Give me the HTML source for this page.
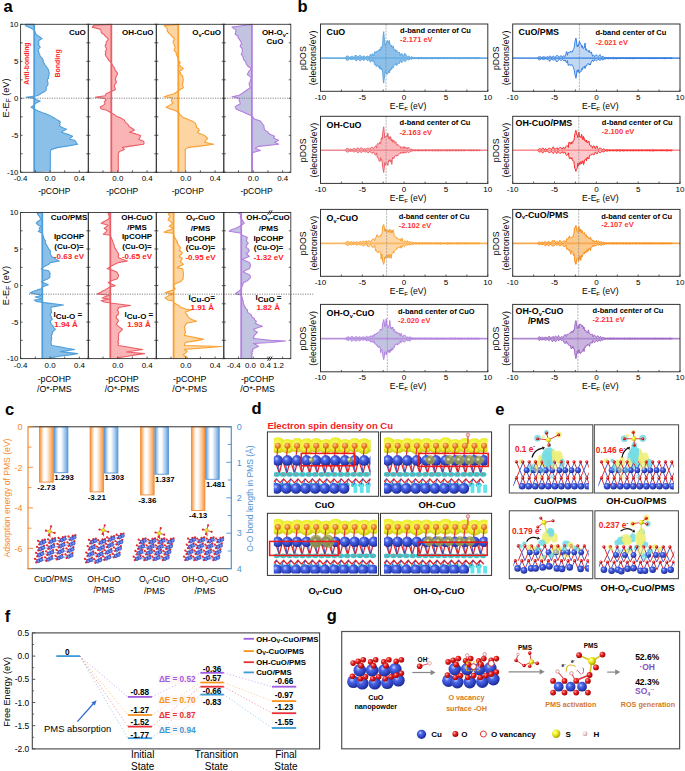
<!DOCTYPE html>
<html><head><meta charset="utf-8"><style>
html,body{margin:0;padding:0;background:#fff;}
svg{display:block;font-family:"Liberation Sans", sans-serif;}
</style></head><body>
<svg width="685" height="771" viewBox="0 0 685 771">
<defs><linearGradient id="gOr" x1="0" x2="1" y1="0" y2="0">
<stop offset="0" stop-color="#f7923a"/><stop offset="0.1" stop-color="#fab06e"/><stop offset="0.32" stop-color="#ffffff"/><stop offset="0.48" stop-color="#ffffff"/><stop offset="0.78" stop-color="#fcc592"/><stop offset="1" stop-color="#f7923a"/>
</linearGradient>
<linearGradient id="gBl" x1="0" x2="1" y1="0" y2="0">
<stop offset="0" stop-color="#5b9bd8"/><stop offset="0.1" stop-color="#8cb9e6"/><stop offset="0.32" stop-color="#ffffff"/><stop offset="0.48" stop-color="#ffffff"/><stop offset="0.78" stop-color="#a6c9ee"/><stop offset="1" stop-color="#5b9bd8"/>
</linearGradient>
<radialGradient id="gCu" cx="0.35" cy="0.35" r="0.7"><stop offset="0" stop-color="#b8c8ff"/><stop offset="0.35" stop-color="#4b63e0"/><stop offset="1" stop-color="#1f2f9a"/></radialGradient>
<radialGradient id="gO" cx="0.35" cy="0.35" r="0.7"><stop offset="0" stop-color="#ffb0b0"/><stop offset="0.4" stop-color="#e82020"/><stop offset="1" stop-color="#9a0000"/></radialGradient>
<radialGradient id="gS" cx="0.35" cy="0.35" r="0.7"><stop offset="0" stop-color="#ffffc0"/><stop offset="0.4" stop-color="#f2f020"/><stop offset="1" stop-color="#a8a000"/></radialGradient>
<radialGradient id="gH" cx="0.35" cy="0.35" r="0.7"><stop offset="0" stop-color="#ffffff"/><stop offset="0.5" stop-color="#f0d0d0"/><stop offset="1" stop-color="#b08888"/></radialGradient>
<radialGradient id="gY" cx="0.5" cy="0.5" r="0.5"><stop offset="0" stop-color="#e8e860"/><stop offset="0.7" stop-color="#f0ee70"/><stop offset="1" stop-color="#f4f290" stop-opacity="0.6"/></radialGradient>
<radialGradient id="gC" cx="0.5" cy="0.5" r="0.5"><stop offset="0" stop-color="#70d8e0"/><stop offset="0.7" stop-color="#90e4ea"/><stop offset="1" stop-color="#b0eef0" stop-opacity="0.6"/></radialGradient>
<radialGradient id="gOr2" cx="0.4" cy="0.35" r="0.7"><stop offset="0" stop-color="#ffd0a0"/><stop offset="0.45" stop-color="#f08a30"/><stop offset="1" stop-color="#c86010"/></radialGradient>
<radialGradient id="gYb" cx="0.45" cy="0.4" r="0.6"><stop offset="0" stop-color="#fbfb70"/><stop offset="0.6" stop-color="#eeee30"/><stop offset="1" stop-color="#c8c818"/></radialGradient>
<radialGradient id="gCu2" cx="0.38" cy="0.35" r="0.68"><stop offset="0" stop-color="#c0d0ff"/><stop offset="0.3" stop-color="#4a66e8"/><stop offset="0.8" stop-color="#2638b0"/><stop offset="1" stop-color="#1a2888"/></radialGradient>
</defs>
<rect x="0" y="0" width="685" height="771" fill="#fff"/>
<text x="3.6" y="12.4" font-size="16.5" font-weight="bold">a</text>
<path d="M34.2,24.3 34.2,24.4 25.1,24.4 26.1,26.1 30.1,27.7 34.2,30.1 35.2,32.1 35.5,33.6 37.2,35.2 40.2,37.2 42.3,38.6 39.2,40.2 38.5,41.6 39.0,42.9 38.2,44.3 39.4,45.8 40.2,47.3 38.6,48.8 38.2,50.3 38.6,51.8 39.2,53.4 39.9,54.7 40.0,56.1 41.3,57.4 42.6,58.9 43.3,60.4 43.2,62.0 44.3,63.5 45.1,65.0 46.3,66.5 47.3,68.0 48.3,69.5 48.7,71.1 49.3,72.6 49.1,73.9 49.0,75.3 48.3,76.6 48.7,78.0 47.3,79.3 47.3,80.7 47.8,82.0 48.0,83.4 47.9,84.7 47.1,86.0 46.0,87.4 46.3,88.7 46.1,90.3 44.3,91.8 41.4,93.3 39.2,94.8 37.2,95.8 26.1,97.2 34.2,98.4 37.2,99.9 40.2,100.9 36.2,102.9 34.2,104.9 31.1,107.3 34.2,109.0 38.2,111.0 42.0,112.5 46.3,114.0 49.6,115.4 51.8,116.7 54.4,118.1 56.4,119.4 58.9,120.8 60.5,122.1 59.4,123.5 60.1,124.8 59.4,126.1 62.8,127.7 66.5,129.2 63.3,130.7 61.5,132.2 65.4,133.6 69.6,134.9 72.6,136.3 70.6,137.8 69.6,139.3 74.6,140.3 75.8,141.6 76.3,143.0 77.6,144.3 68.4,145.9 58.4,147.4 51.4,149.4 50.3,151.4 50.3,152.8 50.3,154.1 50.3,155.5 50.3,156.8 50.3,158.2 50.3,159.5 50.3,160.9 50.3,162.2 50.3,163.6 50.3,164.9 50.3,166.2 50.3,167.6 50.3,168.9 50.3,170.3 50.3,171.6 34.2,172.3 Z" fill="#8bc0e8" stroke="none"/>
<path d="M34.2,24.4 25.1,24.4 26.1,26.1 30.1,27.7 34.2,30.1 35.2,32.1 35.5,33.6 37.2,35.2 40.2,37.2 42.3,38.6 39.2,40.2 38.5,41.6 39.0,42.9 38.2,44.3 39.4,45.8 40.2,47.3 38.6,48.8 38.2,50.3 38.6,51.8 39.2,53.4 39.9,54.7 40.0,56.1 41.3,57.4 42.6,58.9 43.3,60.4 43.2,62.0 44.3,63.5 45.1,65.0 46.3,66.5 47.3,68.0 48.3,69.5 48.7,71.1 49.3,72.6 49.1,73.9 49.0,75.3 48.3,76.6 48.7,78.0 47.3,79.3 47.3,80.7 47.8,82.0 48.0,83.4 47.9,84.7 47.1,86.0 46.0,87.4 46.3,88.7 46.1,90.3 44.3,91.8 41.4,93.3 39.2,94.8 37.2,95.8 26.1,97.2 34.2,98.4 37.2,99.9 40.2,100.9 36.2,102.9 34.2,104.9 31.1,107.3 34.2,109.0 38.2,111.0 42.0,112.5 46.3,114.0 49.6,115.4 51.8,116.7 54.4,118.1 56.4,119.4 58.9,120.8 60.5,122.1 59.4,123.5 60.1,124.8 59.4,126.1 62.8,127.7 66.5,129.2 63.3,130.7 61.5,132.2 65.4,133.6 69.6,134.9 72.6,136.3 70.6,137.8 69.6,139.3 74.6,140.3 75.8,141.6 76.3,143.0 77.6,144.3 68.4,145.9 58.4,147.4 51.4,149.4 50.3,151.4 50.3,152.8 50.3,154.1 50.3,155.5 50.3,156.8 50.3,158.2 50.3,159.5 50.3,160.9 50.3,162.2 50.3,163.6 50.3,164.9 50.3,166.2 50.3,167.6 50.3,168.9 50.3,170.3 50.3,171.6" fill="none" stroke="#4f9fdc" stroke-width="1.1" stroke-linejoin="round"/>
<line x1="34.2" y1="24.3" x2="34.2" y2="172.3" stroke="#4f9fdc" stroke-width="1.8"/>
<path d="M111.3,24.3 111.3,24.4 94.1,25.1 92.1,27.1 100.2,29.1 101.0,30.6 101.2,32.1 102.1,33.5 104.4,34.8 105.2,36.2 107.0,37.7 108.2,39.2 107.5,40.7 106.2,42.2 106.4,43.6 105.4,44.9 105.2,46.3 106.0,47.6 106.5,49.0 106.2,50.3 105.2,51.7 106.1,53.0 105.2,54.4 106.0,56.1 107.2,57.7 108.2,59.4 109.2,60.9 111.3,62.5 111.9,63.8 112.6,65.2 113.3,66.5 114.6,68.2 115.0,69.9 116.3,71.6 117.4,73.1 117.3,74.6 116.3,75.9 116.1,77.3 115.3,78.6 115.5,80.0 116.2,81.3 116.3,82.7 115.2,84.0 114.5,85.4 114.3,86.7 115.2,88.2 115.3,89.8 110.3,91.8 106.2,93.8 105.2,95.8 95.1,97.2 104.2,98.4 106.2,99.9 104.2,101.9 105.2,103.9 103.1,105.4 100.2,106.9 101.2,109.0 106.2,110.0 108.9,111.5 111.3,113.0 114.3,114.4 115.5,115.7 118.3,117.0 121.9,118.6 124.4,120.1 124.9,121.6 126.4,123.1 128.2,124.6 128.5,126.1 130.7,127.5 132.7,128.8 134.5,130.2 129.5,132.2 135.8,133.9 140.6,135.6 140.0,137.5 138.6,139.3 143.6,141.3 144.1,142.8 143.6,144.3 132.3,145.9 122.4,147.4 124.4,149.4 119.4,151.4 118.3,153.4 118.3,154.8 118.3,156.2 118.3,157.6 118.3,159.0 118.3,160.4 118.3,161.8 118.3,163.2 118.3,164.6 118.3,166.0 118.3,167.4 118.3,168.8 118.3,170.2 118.3,171.6 111.3,172.3 Z" fill="#fbb4b6" stroke="none"/>
<path d="M111.3,24.4 94.1,25.1 92.1,27.1 100.2,29.1 101.0,30.6 101.2,32.1 102.1,33.5 104.4,34.8 105.2,36.2 107.0,37.7 108.2,39.2 107.5,40.7 106.2,42.2 106.4,43.6 105.4,44.9 105.2,46.3 106.0,47.6 106.5,49.0 106.2,50.3 105.2,51.7 106.1,53.0 105.2,54.4 106.0,56.1 107.2,57.7 108.2,59.4 109.2,60.9 111.3,62.5 111.9,63.8 112.6,65.2 113.3,66.5 114.6,68.2 115.0,69.9 116.3,71.6 117.4,73.1 117.3,74.6 116.3,75.9 116.1,77.3 115.3,78.6 115.5,80.0 116.2,81.3 116.3,82.7 115.2,84.0 114.5,85.4 114.3,86.7 115.2,88.2 115.3,89.8 110.3,91.8 106.2,93.8 105.2,95.8 95.1,97.2 104.2,98.4 106.2,99.9 104.2,101.9 105.2,103.9 103.1,105.4 100.2,106.9 101.2,109.0 106.2,110.0 108.9,111.5 111.3,113.0 114.3,114.4 115.5,115.7 118.3,117.0 121.9,118.6 124.4,120.1 124.9,121.6 126.4,123.1 128.2,124.6 128.5,126.1 130.7,127.5 132.7,128.8 134.5,130.2 129.5,132.2 135.8,133.9 140.6,135.6 140.0,137.5 138.6,139.3 143.6,141.3 144.1,142.8 143.6,144.3 132.3,145.9 122.4,147.4 124.4,149.4 119.4,151.4 118.3,153.4 118.3,154.8 118.3,156.2 118.3,157.6 118.3,159.0 118.3,160.4 118.3,161.8 118.3,163.2 118.3,164.6 118.3,166.0 118.3,167.4 118.3,168.8 118.3,170.2 118.3,171.6" fill="none" stroke="#eb5e66" stroke-width="1.1" stroke-linejoin="round"/>
<line x1="111.3" y1="24.3" x2="111.3" y2="172.3" stroke="#eb5e66" stroke-width="1.8"/>
<path d="M178.3,24.3 178.3,24.4 164.1,25.7 167.1,28.1 167.3,29.4 167.2,30.8 168.2,32.1 169.2,33.6 171.2,35.2 172.2,36.7 174.2,38.2 174.3,39.7 173.2,41.2 173.1,42.7 174.2,44.3 174.4,45.8 175.2,47.3 174.7,48.8 174.2,50.3 175.5,51.7 176.3,53.0 176.2,54.4 176.9,55.7 177.6,57.1 178.3,58.4 178.3,60.4 180.3,62.5 178.3,64.5 180.3,65.8 181.2,67.2 183.3,68.5 181.4,70.0 179.3,71.6 180.6,72.9 180.6,74.3 182.3,75.6 182.9,76.9 182.8,78.3 183.3,79.6 183.1,81.3 182.9,83.0 182.3,84.7 183.1,86.2 183.3,87.7 180.8,89.2 178.3,90.8 176.3,92.3 174.2,93.8 168.7,95.3 164.1,96.8 172.2,97.8 171.7,99.4 171.2,100.9 173.2,102.9 170.2,104.9 166.1,107.3 170.2,109.0 176.2,111.0 179.3,113.0 179.7,114.4 181.3,115.7 182.3,117.0 185.9,118.6 189.4,120.1 192.9,121.6 195.4,123.1 195.8,124.6 196.5,126.1 196.7,127.5 198.5,128.8 199.5,130.2 197.5,132.2 199.7,133.6 203.2,134.9 205.6,136.3 207.6,138.3 206.4,139.6 205.4,141.0 204.5,142.3 213.6,144.3 201.7,145.9 188.4,147.4 185.3,149.4 185.3,150.7 185.3,152.0 185.3,153.3 185.3,154.6 185.3,155.9 185.3,157.2 185.3,158.6 185.3,159.9 185.3,161.2 185.3,162.5 185.3,163.8 185.3,165.1 185.3,166.4 185.3,167.7 185.3,169.0 185.3,170.3 185.3,171.6 178.3,172.3 Z" fill="#fcd5a3" stroke="none"/>
<path d="M178.3,24.4 164.1,25.7 167.1,28.1 167.3,29.4 167.2,30.8 168.2,32.1 169.2,33.6 171.2,35.2 172.2,36.7 174.2,38.2 174.3,39.7 173.2,41.2 173.1,42.7 174.2,44.3 174.4,45.8 175.2,47.3 174.7,48.8 174.2,50.3 175.5,51.7 176.3,53.0 176.2,54.4 176.9,55.7 177.6,57.1 178.3,58.4 178.3,60.4 180.3,62.5 178.3,64.5 180.3,65.8 181.2,67.2 183.3,68.5 181.4,70.0 179.3,71.6 180.6,72.9 180.6,74.3 182.3,75.6 182.9,76.9 182.8,78.3 183.3,79.6 183.1,81.3 182.9,83.0 182.3,84.7 183.1,86.2 183.3,87.7 180.8,89.2 178.3,90.8 176.3,92.3 174.2,93.8 168.7,95.3 164.1,96.8 172.2,97.8 171.7,99.4 171.2,100.9 173.2,102.9 170.2,104.9 166.1,107.3 170.2,109.0 176.2,111.0 179.3,113.0 179.7,114.4 181.3,115.7 182.3,117.0 185.9,118.6 189.4,120.1 192.9,121.6 195.4,123.1 195.8,124.6 196.5,126.1 196.7,127.5 198.5,128.8 199.5,130.2 197.5,132.2 199.7,133.6 203.2,134.9 205.6,136.3 207.6,138.3 206.4,139.6 205.4,141.0 204.5,142.3 213.6,144.3 201.7,145.9 188.4,147.4 185.3,149.4 185.3,150.7 185.3,152.0 185.3,153.3 185.3,154.6 185.3,155.9 185.3,157.2 185.3,158.6 185.3,159.9 185.3,161.2 185.3,162.5 185.3,163.8 185.3,165.1 185.3,166.4 185.3,167.7 185.3,169.0 185.3,170.3 185.3,171.6" fill="none" stroke="#f9a02f" stroke-width="1.1" stroke-linejoin="round"/>
<line x1="178.3" y1="24.3" x2="178.3" y2="172.3" stroke="#f9a02f" stroke-width="1.8"/>
<path d="M251.9,24.3 251.9,24.4 241.9,25.8 232.1,27.1 233.9,28.6 236.2,30.1 235.6,31.5 235.5,32.8 235.2,34.2 238.2,36.2 238.0,37.7 239.2,39.2 240.3,40.7 241.2,42.2 241.6,43.6 240.6,44.9 240.2,46.3 241.3,47.6 242.3,49.0 242.2,50.3 242.4,51.7 241.9,53.0 241.2,54.4 242.4,55.7 243.1,57.1 243.2,58.4 243.9,59.9 245.3,61.4 245.9,62.8 246.4,64.1 247.3,65.5 248.9,67.0 251.3,68.5 250.4,69.9 249.0,71.2 248.3,72.6 247.3,74.6 249.5,76.1 251.3,77.6 250.8,79.1 250.3,80.7 250.1,82.0 249.0,83.4 249.3,84.7 249.7,86.2 250.3,87.7 247.3,89.8 245.1,91.3 243.2,92.8 239.2,95.2 232.1,96.8 239.2,98.4 239.2,100.9 240.0,102.4 240.2,103.9 237.0,105.4 235.2,106.9 236.2,109.0 239.2,110.5 243.2,112.0 247.3,114.0 252.3,116.0 253.3,117.6 254.4,119.1 260.4,121.1 261.5,122.4 262.3,123.8 263.5,125.1 264.1,126.5 263.9,127.8 264.5,129.2 265.3,130.5 267.9,131.9 268.5,133.2 271.1,134.7 274.6,136.3 273.6,138.3 278.6,140.3 274.6,142.3 278.6,144.3 258.4,146.4 255.4,148.4 260.4,150.4 253.3,152.4 252.3,153.4 252.3,154.8 252.3,156.2 252.3,157.6 252.3,159.0 252.3,160.4 252.3,161.8 252.3,163.2 252.3,164.6 252.3,166.0 252.3,167.4 252.3,168.8 252.3,170.2 252.3,171.6 251.9,172.3 Z" fill="#c1c3e0" stroke="none"/>
<path d="M251.9,24.4 241.9,25.8 232.1,27.1 233.9,28.6 236.2,30.1 235.6,31.5 235.5,32.8 235.2,34.2 238.2,36.2 238.0,37.7 239.2,39.2 240.3,40.7 241.2,42.2 241.6,43.6 240.6,44.9 240.2,46.3 241.3,47.6 242.3,49.0 242.2,50.3 242.4,51.7 241.9,53.0 241.2,54.4 242.4,55.7 243.1,57.1 243.2,58.4 243.9,59.9 245.3,61.4 245.9,62.8 246.4,64.1 247.3,65.5 248.9,67.0 251.3,68.5 250.4,69.9 249.0,71.2 248.3,72.6 247.3,74.6 249.5,76.1 251.3,77.6 250.8,79.1 250.3,80.7 250.1,82.0 249.0,83.4 249.3,84.7 249.7,86.2 250.3,87.7 247.3,89.8 245.1,91.3 243.2,92.8 239.2,95.2 232.1,96.8 239.2,98.4 239.2,100.9 240.0,102.4 240.2,103.9 237.0,105.4 235.2,106.9 236.2,109.0 239.2,110.5 243.2,112.0 247.3,114.0 252.3,116.0 253.3,117.6 254.4,119.1 260.4,121.1 261.5,122.4 262.3,123.8 263.5,125.1 264.1,126.5 263.9,127.8 264.5,129.2 265.3,130.5 267.9,131.9 268.5,133.2 271.1,134.7 274.6,136.3 273.6,138.3 278.6,140.3 274.6,142.3 278.6,144.3 258.4,146.4 255.4,148.4 260.4,150.4 253.3,152.4 252.3,153.4 252.3,154.8 252.3,156.2 252.3,157.6 252.3,159.0 252.3,160.4 252.3,161.8 252.3,163.2 252.3,164.6 252.3,166.0 252.3,167.4 252.3,168.8 252.3,170.2 252.3,171.6" fill="none" stroke="#b47fe0" stroke-width="1.1" stroke-linejoin="round"/>
<line x1="251.9" y1="24.3" x2="251.9" y2="172.3" stroke="#b47fe0" stroke-width="1.8"/>
<line x1="20.6" y1="98.2" x2="291.0" y2="98.2" stroke="#777" stroke-width="0.9" stroke-dasharray="1.2,1.2"/>
<rect x="20.6" y="24.3" width="67.7" height="148.0" fill="none" stroke="#333" stroke-width="0.9"/>
<line x1="20.6" y1="24.3" x2="22.6" y2="24.3" stroke="#333" stroke-width="0.8"/>
<line x1="88.3" y1="24.3" x2="86.3" y2="24.3" stroke="#333" stroke-width="0.8"/>
<line x1="20.6" y1="42.8" x2="22.6" y2="42.8" stroke="#333" stroke-width="0.8"/>
<line x1="88.3" y1="42.8" x2="86.3" y2="42.8" stroke="#333" stroke-width="0.8"/>
<line x1="20.6" y1="61.3" x2="22.6" y2="61.3" stroke="#333" stroke-width="0.8"/>
<line x1="88.3" y1="61.3" x2="86.3" y2="61.3" stroke="#333" stroke-width="0.8"/>
<line x1="20.6" y1="79.8" x2="22.6" y2="79.8" stroke="#333" stroke-width="0.8"/>
<line x1="88.3" y1="79.8" x2="86.3" y2="79.8" stroke="#333" stroke-width="0.8"/>
<line x1="20.6" y1="98.3" x2="22.6" y2="98.3" stroke="#333" stroke-width="0.8"/>
<line x1="88.3" y1="98.3" x2="86.3" y2="98.3" stroke="#333" stroke-width="0.8"/>
<line x1="20.6" y1="116.8" x2="22.6" y2="116.8" stroke="#333" stroke-width="0.8"/>
<line x1="88.3" y1="116.8" x2="86.3" y2="116.8" stroke="#333" stroke-width="0.8"/>
<line x1="20.6" y1="135.3" x2="22.6" y2="135.3" stroke="#333" stroke-width="0.8"/>
<line x1="88.3" y1="135.3" x2="86.3" y2="135.3" stroke="#333" stroke-width="0.8"/>
<line x1="20.6" y1="153.8" x2="22.6" y2="153.8" stroke="#333" stroke-width="0.8"/>
<line x1="88.3" y1="153.8" x2="86.3" y2="153.8" stroke="#333" stroke-width="0.8"/>
<line x1="20.6" y1="172.3" x2="22.6" y2="172.3" stroke="#333" stroke-width="0.8"/>
<line x1="88.3" y1="172.3" x2="86.3" y2="172.3" stroke="#333" stroke-width="0.8"/>
<line x1="20.6" y1="172.3" x2="20.6" y2="170.3" stroke="#333" stroke-width="0.8"/>
<line x1="35.3" y1="172.3" x2="35.3" y2="170.3" stroke="#333" stroke-width="0.8"/>
<line x1="50.0" y1="172.3" x2="50.0" y2="170.3" stroke="#333" stroke-width="0.8"/>
<line x1="64.7" y1="172.3" x2="64.7" y2="170.3" stroke="#333" stroke-width="0.8"/>
<line x1="79.4" y1="172.3" x2="79.4" y2="170.3" stroke="#333" stroke-width="0.8"/>
<rect x="88.3" y="24.3" width="68.0" height="148.0" fill="none" stroke="#333" stroke-width="0.9"/>
<line x1="88.3" y1="24.3" x2="90.3" y2="24.3" stroke="#333" stroke-width="0.8"/>
<line x1="156.3" y1="24.3" x2="154.3" y2="24.3" stroke="#333" stroke-width="0.8"/>
<line x1="88.3" y1="42.8" x2="90.3" y2="42.8" stroke="#333" stroke-width="0.8"/>
<line x1="156.3" y1="42.8" x2="154.3" y2="42.8" stroke="#333" stroke-width="0.8"/>
<line x1="88.3" y1="61.3" x2="90.3" y2="61.3" stroke="#333" stroke-width="0.8"/>
<line x1="156.3" y1="61.3" x2="154.3" y2="61.3" stroke="#333" stroke-width="0.8"/>
<line x1="88.3" y1="79.8" x2="90.3" y2="79.8" stroke="#333" stroke-width="0.8"/>
<line x1="156.3" y1="79.8" x2="154.3" y2="79.8" stroke="#333" stroke-width="0.8"/>
<line x1="88.3" y1="98.3" x2="90.3" y2="98.3" stroke="#333" stroke-width="0.8"/>
<line x1="156.3" y1="98.3" x2="154.3" y2="98.3" stroke="#333" stroke-width="0.8"/>
<line x1="88.3" y1="116.8" x2="90.3" y2="116.8" stroke="#333" stroke-width="0.8"/>
<line x1="156.3" y1="116.8" x2="154.3" y2="116.8" stroke="#333" stroke-width="0.8"/>
<line x1="88.3" y1="135.3" x2="90.3" y2="135.3" stroke="#333" stroke-width="0.8"/>
<line x1="156.3" y1="135.3" x2="154.3" y2="135.3" stroke="#333" stroke-width="0.8"/>
<line x1="88.3" y1="153.8" x2="90.3" y2="153.8" stroke="#333" stroke-width="0.8"/>
<line x1="156.3" y1="153.8" x2="154.3" y2="153.8" stroke="#333" stroke-width="0.8"/>
<line x1="88.3" y1="172.3" x2="90.3" y2="172.3" stroke="#333" stroke-width="0.8"/>
<line x1="156.3" y1="172.3" x2="154.3" y2="172.3" stroke="#333" stroke-width="0.8"/>
<line x1="88.3" y1="172.3" x2="88.3" y2="170.3" stroke="#333" stroke-width="0.8"/>
<line x1="103.0" y1="172.3" x2="103.0" y2="170.3" stroke="#333" stroke-width="0.8"/>
<line x1="117.7" y1="172.3" x2="117.7" y2="170.3" stroke="#333" stroke-width="0.8"/>
<line x1="132.4" y1="172.3" x2="132.4" y2="170.3" stroke="#333" stroke-width="0.8"/>
<line x1="147.1" y1="172.3" x2="147.1" y2="170.3" stroke="#333" stroke-width="0.8"/>
<rect x="156.3" y="24.3" width="67.5" height="148.0" fill="none" stroke="#333" stroke-width="0.9"/>
<line x1="156.3" y1="24.3" x2="158.3" y2="24.3" stroke="#333" stroke-width="0.8"/>
<line x1="223.8" y1="24.3" x2="221.8" y2="24.3" stroke="#333" stroke-width="0.8"/>
<line x1="156.3" y1="42.8" x2="158.3" y2="42.8" stroke="#333" stroke-width="0.8"/>
<line x1="223.8" y1="42.8" x2="221.8" y2="42.8" stroke="#333" stroke-width="0.8"/>
<line x1="156.3" y1="61.3" x2="158.3" y2="61.3" stroke="#333" stroke-width="0.8"/>
<line x1="223.8" y1="61.3" x2="221.8" y2="61.3" stroke="#333" stroke-width="0.8"/>
<line x1="156.3" y1="79.8" x2="158.3" y2="79.8" stroke="#333" stroke-width="0.8"/>
<line x1="223.8" y1="79.8" x2="221.8" y2="79.8" stroke="#333" stroke-width="0.8"/>
<line x1="156.3" y1="98.3" x2="158.3" y2="98.3" stroke="#333" stroke-width="0.8"/>
<line x1="223.8" y1="98.3" x2="221.8" y2="98.3" stroke="#333" stroke-width="0.8"/>
<line x1="156.3" y1="116.8" x2="158.3" y2="116.8" stroke="#333" stroke-width="0.8"/>
<line x1="223.8" y1="116.8" x2="221.8" y2="116.8" stroke="#333" stroke-width="0.8"/>
<line x1="156.3" y1="135.3" x2="158.3" y2="135.3" stroke="#333" stroke-width="0.8"/>
<line x1="223.8" y1="135.3" x2="221.8" y2="135.3" stroke="#333" stroke-width="0.8"/>
<line x1="156.3" y1="153.8" x2="158.3" y2="153.8" stroke="#333" stroke-width="0.8"/>
<line x1="223.8" y1="153.8" x2="221.8" y2="153.8" stroke="#333" stroke-width="0.8"/>
<line x1="156.3" y1="172.3" x2="158.3" y2="172.3" stroke="#333" stroke-width="0.8"/>
<line x1="223.8" y1="172.3" x2="221.8" y2="172.3" stroke="#333" stroke-width="0.8"/>
<line x1="156.3" y1="172.3" x2="156.3" y2="170.3" stroke="#333" stroke-width="0.8"/>
<line x1="171.0" y1="172.3" x2="171.0" y2="170.3" stroke="#333" stroke-width="0.8"/>
<line x1="185.7" y1="172.3" x2="185.7" y2="170.3" stroke="#333" stroke-width="0.8"/>
<line x1="200.4" y1="172.3" x2="200.4" y2="170.3" stroke="#333" stroke-width="0.8"/>
<line x1="215.1" y1="172.3" x2="215.1" y2="170.3" stroke="#333" stroke-width="0.8"/>
<rect x="223.8" y="24.3" width="67.0" height="148.0" fill="none" stroke="#333" stroke-width="0.9"/>
<line x1="223.8" y1="24.3" x2="225.8" y2="24.3" stroke="#333" stroke-width="0.8"/>
<line x1="290.8" y1="24.3" x2="288.8" y2="24.3" stroke="#333" stroke-width="0.8"/>
<line x1="223.8" y1="42.8" x2="225.8" y2="42.8" stroke="#333" stroke-width="0.8"/>
<line x1="290.8" y1="42.8" x2="288.8" y2="42.8" stroke="#333" stroke-width="0.8"/>
<line x1="223.8" y1="61.3" x2="225.8" y2="61.3" stroke="#333" stroke-width="0.8"/>
<line x1="290.8" y1="61.3" x2="288.8" y2="61.3" stroke="#333" stroke-width="0.8"/>
<line x1="223.8" y1="79.8" x2="225.8" y2="79.8" stroke="#333" stroke-width="0.8"/>
<line x1="290.8" y1="79.8" x2="288.8" y2="79.8" stroke="#333" stroke-width="0.8"/>
<line x1="223.8" y1="98.3" x2="225.8" y2="98.3" stroke="#333" stroke-width="0.8"/>
<line x1="290.8" y1="98.3" x2="288.8" y2="98.3" stroke="#333" stroke-width="0.8"/>
<line x1="223.8" y1="116.8" x2="225.8" y2="116.8" stroke="#333" stroke-width="0.8"/>
<line x1="290.8" y1="116.8" x2="288.8" y2="116.8" stroke="#333" stroke-width="0.8"/>
<line x1="223.8" y1="135.3" x2="225.8" y2="135.3" stroke="#333" stroke-width="0.8"/>
<line x1="290.8" y1="135.3" x2="288.8" y2="135.3" stroke="#333" stroke-width="0.8"/>
<line x1="223.8" y1="153.8" x2="225.8" y2="153.8" stroke="#333" stroke-width="0.8"/>
<line x1="290.8" y1="153.8" x2="288.8" y2="153.8" stroke="#333" stroke-width="0.8"/>
<line x1="223.8" y1="172.3" x2="225.8" y2="172.3" stroke="#333" stroke-width="0.8"/>
<line x1="290.8" y1="172.3" x2="288.8" y2="172.3" stroke="#333" stroke-width="0.8"/>
<line x1="223.8" y1="172.3" x2="223.8" y2="170.3" stroke="#333" stroke-width="0.8"/>
<line x1="238.5" y1="172.3" x2="238.5" y2="170.3" stroke="#333" stroke-width="0.8"/>
<line x1="253.2" y1="172.3" x2="253.2" y2="170.3" stroke="#333" stroke-width="0.8"/>
<line x1="267.9" y1="172.3" x2="267.9" y2="170.3" stroke="#333" stroke-width="0.8"/>
<line x1="282.6" y1="172.3" x2="282.6" y2="170.3" stroke="#333" stroke-width="0.8"/>
<text x="18.4" y="27.1" font-size="7.8" text-anchor="end">10</text>
<text x="18.4" y="64.1" font-size="7.8" text-anchor="end">5</text>
<text x="18.4" y="101.1" font-size="7.8" text-anchor="end">0</text>
<text x="18.4" y="138.1" font-size="7.8" text-anchor="end">-5</text>
<text x="18.4" y="175.1" font-size="7.8" text-anchor="end">-10</text>
<path d="M42.3,212.5 42.3,212.4 37.2,213.1 37.7,214.6 39.2,216.1 39.9,217.6 41.3,219.1 39.3,220.5 37.4,221.8 36.2,223.2 38.2,225.2 41.3,226.2 39.2,228.2 40.2,230.2 38.2,231.3 42.3,233.3 42.8,234.8 43.3,236.3 43.8,237.8 44.3,239.3 45.7,241.0 45.0,242.7 46.3,244.4 46.8,245.7 47.9,247.1 48.3,248.4 49.6,249.8 50.5,251.1 50.3,252.5 50.1,253.8 51.1,255.2 51.4,256.5 54.7,258.0 56.0,259.5 59.4,261.0 50.3,262.6 48.3,264.6 44.3,266.6 41.3,268.7 43.3,269.7 48.3,270.7 49.5,272.2 50.3,273.7 49.5,275.1 50.1,276.4 49.3,277.8 47.0,279.3 43.3,280.8 41.3,281.8 44.9,283.3 48.3,284.8 42.3,286.9 41.3,288.9 37.2,289.9 32.9,291.4 30.1,292.9 42.3,295.3 35.2,297.0 42.3,299.0 34.2,300.0 36.2,301.4 44.3,302.6 63.5,305.0 51.4,307.1 50.7,308.4 51.2,309.8 51.4,311.1 51.6,312.5 50.3,313.8 50.3,315.2 51.3,316.5 51.5,317.9 52.4,319.2 50.3,321.2 50.5,322.7 51.4,324.3 53.0,325.9 53.7,327.6 55.4,329.3 53.7,330.8 52.4,332.3 52.3,333.9 51.4,335.4 51.4,336.7 51.8,338.1 51.4,339.4 51.4,340.9 50.8,342.5 51.3,344.0 51.4,345.5 59.7,346.8 67.0,348.2 74.6,349.5 60.5,351.6 77.6,353.6 69.6,354.9 59.3,356.3 51.4,357.6 51.4,358.6 42.3,358.6 Z" fill="#8bc0e8" stroke="none"/>
<path d="M42.3,212.4 37.2,213.1 37.7,214.6 39.2,216.1 39.9,217.6 41.3,219.1 39.3,220.5 37.4,221.8 36.2,223.2 38.2,225.2 41.3,226.2 39.2,228.2 40.2,230.2 38.2,231.3 42.3,233.3 42.8,234.8 43.3,236.3 43.8,237.8 44.3,239.3 45.7,241.0 45.0,242.7 46.3,244.4 46.8,245.7 47.9,247.1 48.3,248.4 49.6,249.8 50.5,251.1 50.3,252.5 50.1,253.8 51.1,255.2 51.4,256.5 54.7,258.0 56.0,259.5 59.4,261.0 50.3,262.6 48.3,264.6 44.3,266.6 41.3,268.7 43.3,269.7 48.3,270.7 49.5,272.2 50.3,273.7 49.5,275.1 50.1,276.4 49.3,277.8 47.0,279.3 43.3,280.8 41.3,281.8 44.9,283.3 48.3,284.8 42.3,286.9 41.3,288.9 37.2,289.9 32.9,291.4 30.1,292.9 42.3,295.3 35.2,297.0 42.3,299.0 34.2,300.0 36.2,301.4 44.3,302.6 63.5,305.0 51.4,307.1 50.7,308.4 51.2,309.8 51.4,311.1 51.6,312.5 50.3,313.8 50.3,315.2 51.3,316.5 51.5,317.9 52.4,319.2 50.3,321.2 50.5,322.7 51.4,324.3 53.0,325.9 53.7,327.6 55.4,329.3 53.7,330.8 52.4,332.3 52.3,333.9 51.4,335.4 51.4,336.7 51.8,338.1 51.4,339.4 51.4,340.9 50.8,342.5 51.3,344.0 51.4,345.5 59.7,346.8 67.0,348.2 74.6,349.5 60.5,351.6 77.6,353.6 69.6,354.9 59.3,356.3 51.4,357.6 51.4,358.6" fill="none" stroke="#4f9fdc" stroke-width="1.1" stroke-linejoin="round"/>
<line x1="42.3" y1="212.5" x2="42.3" y2="358.6" stroke="#4f9fdc" stroke-width="1.8"/>
<path d="M110.3,212.5 110.3,212.4 108.2,213.1 108.5,214.6 109.3,216.1 109.2,217.6 108.2,219.1 106.2,220.5 103.6,221.8 101.2,223.2 108.2,225.2 106.5,226.7 104.2,228.2 107.2,230.2 106.5,231.6 104.8,232.9 103.2,234.3 110.3,235.3 110.9,237.0 111.6,238.7 112.3,240.3 112.9,241.9 113.4,243.4 114.1,244.9 114.3,246.4 114.7,247.8 115.9,249.1 116.3,250.5 117.5,252.0 118.3,253.5 118.8,254.8 118.3,256.2 118.3,257.5 122.1,259.3 127.4,261.0 118.3,262.6 114.3,264.6 110.3,266.6 107.2,268.7 111.3,269.7 116.3,271.7 117.4,273.2 118.3,274.7 118.6,276.1 117.9,277.4 117.3,278.8 111.3,280.8 108.2,282.8 112.0,284.3 115.3,285.8 109.3,287.3 107.1,288.6 105.2,289.9 102.3,291.2 100.2,292.6 97.1,293.9 109.3,295.3 105.0,296.7 102.2,298.0 109.3,299.0 101.2,300.6 104.2,302.0 110.3,303.0 130.5,305.5 118.3,307.5 118.4,308.8 117.3,310.1 118.4,311.6 118.3,313.1 118.4,314.5 116.4,315.8 116.3,317.2 116.4,318.5 118.3,319.9 118.3,321.2 117.2,322.7 116.3,324.3 118.0,325.9 120.2,327.6 122.4,329.3 121.1,330.8 119.4,332.3 118.5,334.0 118.7,335.7 118.3,337.4 118.6,338.7 118.7,340.1 117.6,341.4 118.8,342.8 118.2,344.1 118.3,345.5 126.3,346.8 134.6,348.2 142.6,349.5 126.4,352.0 144.6,353.6 135.5,354.9 127.7,356.3 118.3,357.6 118.3,358.6 110.3,358.6 Z" fill="#fbb4b6" stroke="none"/>
<path d="M110.3,212.4 108.2,213.1 108.5,214.6 109.3,216.1 109.2,217.6 108.2,219.1 106.2,220.5 103.6,221.8 101.2,223.2 108.2,225.2 106.5,226.7 104.2,228.2 107.2,230.2 106.5,231.6 104.8,232.9 103.2,234.3 110.3,235.3 110.9,237.0 111.6,238.7 112.3,240.3 112.9,241.9 113.4,243.4 114.1,244.9 114.3,246.4 114.7,247.8 115.9,249.1 116.3,250.5 117.5,252.0 118.3,253.5 118.8,254.8 118.3,256.2 118.3,257.5 122.1,259.3 127.4,261.0 118.3,262.6 114.3,264.6 110.3,266.6 107.2,268.7 111.3,269.7 116.3,271.7 117.4,273.2 118.3,274.7 118.6,276.1 117.9,277.4 117.3,278.8 111.3,280.8 108.2,282.8 112.0,284.3 115.3,285.8 109.3,287.3 107.1,288.6 105.2,289.9 102.3,291.2 100.2,292.6 97.1,293.9 109.3,295.3 105.0,296.7 102.2,298.0 109.3,299.0 101.2,300.6 104.2,302.0 110.3,303.0 130.5,305.5 118.3,307.5 118.4,308.8 117.3,310.1 118.4,311.6 118.3,313.1 118.4,314.5 116.4,315.8 116.3,317.2 116.4,318.5 118.3,319.9 118.3,321.2 117.2,322.7 116.3,324.3 118.0,325.9 120.2,327.6 122.4,329.3 121.1,330.8 119.4,332.3 118.5,334.0 118.7,335.7 118.3,337.4 118.6,338.7 118.7,340.1 117.6,341.4 118.8,342.8 118.2,344.1 118.3,345.5 126.3,346.8 134.6,348.2 142.6,349.5 126.4,352.0 144.6,353.6 135.5,354.9 127.7,356.3 118.3,357.6 118.3,358.6" fill="none" stroke="#eb5e66" stroke-width="1.1" stroke-linejoin="round"/>
<line x1="110.3" y1="212.5" x2="110.3" y2="358.6" stroke="#eb5e66" stroke-width="1.8"/>
<path d="M173.6,212.5 173.6,212.4 168.2,213.1 168.7,214.6 170.2,216.1 169.6,217.4 168.3,218.8 168.2,220.1 170.4,221.6 172.2,223.2 171.3,224.7 169.2,226.2 173.2,228.2 170.8,229.6 166.6,230.9 164.1,232.3 173.2,233.3 173.7,234.8 174.2,236.3 174.9,237.7 175.8,239.0 176.2,240.3 177.5,241.7 177.1,243.0 178.3,244.4 179.1,245.9 180.3,247.4 180.1,248.9 179.3,250.5 182.3,252.5 181.7,253.8 180.2,255.2 179.3,256.5 182.3,258.5 181.5,260.1 180.3,261.6 182.1,263.1 183.3,264.6 180.0,266.1 177.3,267.6 182.3,268.7 182.9,270.0 183.1,271.4 183.3,272.7 183.6,274.2 183.3,275.7 183.1,277.2 183.3,278.8 181.7,280.3 180.3,281.8 175.2,283.8 173.2,285.8 174.2,287.4 175.2,288.9 172.5,290.2 168.0,291.6 165.1,292.9 173.2,293.9 169.9,295.3 167.0,296.6 165.1,298.0 168.2,300.0 173.2,301.0 174.2,303.0 176.8,304.4 179.0,305.7 180.3,307.1 185.3,309.1 191.4,310.1 185.3,312.1 185.9,313.6 187.4,315.2 188.0,316.7 189.4,318.2 192.4,319.7 196.5,321.2 186.3,323.2 185.8,324.6 185.0,325.9 184.3,327.3 185.2,328.6 184.5,330.0 185.3,331.3 185.6,332.7 184.6,334.0 184.3,335.4 191.2,336.7 197.6,338.1 203.5,339.4 195.1,340.9 185.3,342.5 184.8,344.0 184.3,345.5 221.7,346.5 203.2,348.0 184.3,349.5 187.4,351.6 185.4,353.1 183.3,354.6 184.8,356.1 187.4,357.6 187.4,358.6 173.6,358.6 Z" fill="#fcd5a3" stroke="none"/>
<path d="M173.6,212.4 168.2,213.1 168.7,214.6 170.2,216.1 169.6,217.4 168.3,218.8 168.2,220.1 170.4,221.6 172.2,223.2 171.3,224.7 169.2,226.2 173.2,228.2 170.8,229.6 166.6,230.9 164.1,232.3 173.2,233.3 173.7,234.8 174.2,236.3 174.9,237.7 175.8,239.0 176.2,240.3 177.5,241.7 177.1,243.0 178.3,244.4 179.1,245.9 180.3,247.4 180.1,248.9 179.3,250.5 182.3,252.5 181.7,253.8 180.2,255.2 179.3,256.5 182.3,258.5 181.5,260.1 180.3,261.6 182.1,263.1 183.3,264.6 180.0,266.1 177.3,267.6 182.3,268.7 182.9,270.0 183.1,271.4 183.3,272.7 183.6,274.2 183.3,275.7 183.1,277.2 183.3,278.8 181.7,280.3 180.3,281.8 175.2,283.8 173.2,285.8 174.2,287.4 175.2,288.9 172.5,290.2 168.0,291.6 165.1,292.9 173.2,293.9 169.9,295.3 167.0,296.6 165.1,298.0 168.2,300.0 173.2,301.0 174.2,303.0 176.8,304.4 179.0,305.7 180.3,307.1 185.3,309.1 191.4,310.1 185.3,312.1 185.9,313.6 187.4,315.2 188.0,316.7 189.4,318.2 192.4,319.7 196.5,321.2 186.3,323.2 185.8,324.6 185.0,325.9 184.3,327.3 185.2,328.6 184.5,330.0 185.3,331.3 185.6,332.7 184.6,334.0 184.3,335.4 191.2,336.7 197.6,338.1 203.5,339.4 195.1,340.9 185.3,342.5 184.8,344.0 184.3,345.5 221.7,346.5 203.2,348.0 184.3,349.5 187.4,351.6 185.4,353.1 183.3,354.6 184.8,356.1 187.4,357.6 187.4,358.6" fill="none" stroke="#f9a02f" stroke-width="1.1" stroke-linejoin="round"/>
<line x1="173.6" y1="212.5" x2="173.6" y2="358.6" stroke="#f9a02f" stroke-width="1.8"/>
<path d="M241.2,212.5 241.2,212.4 238.2,213.1 241.2,215.1 240.2,217.1 241.2,218.6 242.2,220.1 243.2,221.6 244.3,223.2 241.2,225.2 238.9,226.7 235.8,228.2 231.4,229.7 229.1,231.3 241.2,233.3 242.2,235.3 247.3,237.3 247.0,238.8 246.3,240.3 247.0,241.9 248.3,243.4 247.0,244.7 246.4,246.1 246.3,247.4 248.3,248.9 249.3,250.5 248.5,252.0 246.3,253.5 247.8,255.0 249.3,256.5 245.6,258.0 242.2,259.6 245.8,261.1 249.3,262.6 250.3,264.1 250.3,265.6 250.2,267.1 249.3,268.7 245.6,270.2 243.2,271.7 245.8,273.2 249.3,274.7 250.4,276.2 250.3,277.8 248.8,279.3 247.3,280.8 243.2,282.8 243.0,284.3 242.2,285.8 241.7,287.4 241.2,288.9 239.6,290.6 237.4,292.2 235.2,293.9 241.2,294.9 241.7,296.5 242.2,298.0 242.6,299.7 243.3,301.3 243.2,303.0 244.0,304.4 244.2,305.7 245.3,307.1 245.4,308.4 247.4,309.8 247.3,311.1 248.0,312.6 250.3,314.1 251.6,315.7 252.3,317.2 254.3,318.5 254.6,319.9 256.4,321.2 255.4,323.2 258.2,324.8 262.4,326.3 257.7,327.8 253.3,329.3 255.1,330.8 257.4,332.3 255.8,333.9 254.4,335.4 253.7,336.9 253.3,338.4 270.5,340.4 285.7,341.0 270.5,342.5 253.3,343.5 256.6,345.0 258.4,346.5 254.8,348.0 252.3,349.5 252.9,350.9 251.3,352.2 252.5,353.6 251.4,354.9 251.9,356.3 251.3,357.6 251.3,358.6 241.2,358.6 Z" fill="#c1c3e0" stroke="none"/>
<path d="M241.2,212.4 238.2,213.1 241.2,215.1 240.2,217.1 241.2,218.6 242.2,220.1 243.2,221.6 244.3,223.2 241.2,225.2 238.9,226.7 235.8,228.2 231.4,229.7 229.1,231.3 241.2,233.3 242.2,235.3 247.3,237.3 247.0,238.8 246.3,240.3 247.0,241.9 248.3,243.4 247.0,244.7 246.4,246.1 246.3,247.4 248.3,248.9 249.3,250.5 248.5,252.0 246.3,253.5 247.8,255.0 249.3,256.5 245.6,258.0 242.2,259.6 245.8,261.1 249.3,262.6 250.3,264.1 250.3,265.6 250.2,267.1 249.3,268.7 245.6,270.2 243.2,271.7 245.8,273.2 249.3,274.7 250.4,276.2 250.3,277.8 248.8,279.3 247.3,280.8 243.2,282.8 243.0,284.3 242.2,285.8 241.7,287.4 241.2,288.9 239.6,290.6 237.4,292.2 235.2,293.9 241.2,294.9 241.7,296.5 242.2,298.0 242.6,299.7 243.3,301.3 243.2,303.0 244.0,304.4 244.2,305.7 245.3,307.1 245.4,308.4 247.4,309.8 247.3,311.1 248.0,312.6 250.3,314.1 251.6,315.7 252.3,317.2 254.3,318.5 254.6,319.9 256.4,321.2 255.4,323.2 258.2,324.8 262.4,326.3 257.7,327.8 253.3,329.3 255.1,330.8 257.4,332.3 255.8,333.9 254.4,335.4 253.7,336.9 253.3,338.4 270.5,340.4 285.7,341.0 270.5,342.5 253.3,343.5 256.6,345.0 258.4,346.5 254.8,348.0 252.3,349.5 252.9,350.9 251.3,352.2 252.5,353.6 251.4,354.9 251.9,356.3 251.3,357.6 251.3,358.6" fill="none" stroke="#b47fe0" stroke-width="1.1" stroke-linejoin="round"/>
<line x1="241.2" y1="212.5" x2="241.2" y2="358.6" stroke="#b47fe0" stroke-width="1.8"/>
<line x1="29.0" y1="294.2" x2="314.0" y2="294.2" stroke="#777" stroke-width="0.9" stroke-dasharray="1.2,1.2"/>
<rect x="20.6" y="212.5" width="67.7" height="146.1" fill="none" stroke="#333" stroke-width="0.9"/>
<line x1="20.6" y1="212.5" x2="22.6" y2="212.5" stroke="#333" stroke-width="0.8"/>
<line x1="88.3" y1="212.5" x2="86.3" y2="212.5" stroke="#333" stroke-width="0.8"/>
<line x1="20.6" y1="230.8" x2="22.6" y2="230.8" stroke="#333" stroke-width="0.8"/>
<line x1="88.3" y1="230.8" x2="86.3" y2="230.8" stroke="#333" stroke-width="0.8"/>
<line x1="20.6" y1="249.0" x2="22.6" y2="249.0" stroke="#333" stroke-width="0.8"/>
<line x1="88.3" y1="249.0" x2="86.3" y2="249.0" stroke="#333" stroke-width="0.8"/>
<line x1="20.6" y1="267.3" x2="22.6" y2="267.3" stroke="#333" stroke-width="0.8"/>
<line x1="88.3" y1="267.3" x2="86.3" y2="267.3" stroke="#333" stroke-width="0.8"/>
<line x1="20.6" y1="285.6" x2="22.6" y2="285.6" stroke="#333" stroke-width="0.8"/>
<line x1="88.3" y1="285.6" x2="86.3" y2="285.6" stroke="#333" stroke-width="0.8"/>
<line x1="20.6" y1="303.8" x2="22.6" y2="303.8" stroke="#333" stroke-width="0.8"/>
<line x1="88.3" y1="303.8" x2="86.3" y2="303.8" stroke="#333" stroke-width="0.8"/>
<line x1="20.6" y1="322.1" x2="22.6" y2="322.1" stroke="#333" stroke-width="0.8"/>
<line x1="88.3" y1="322.1" x2="86.3" y2="322.1" stroke="#333" stroke-width="0.8"/>
<line x1="20.6" y1="340.3" x2="22.6" y2="340.3" stroke="#333" stroke-width="0.8"/>
<line x1="88.3" y1="340.3" x2="86.3" y2="340.3" stroke="#333" stroke-width="0.8"/>
<line x1="20.6" y1="358.6" x2="22.6" y2="358.6" stroke="#333" stroke-width="0.8"/>
<line x1="88.3" y1="358.6" x2="86.3" y2="358.6" stroke="#333" stroke-width="0.8"/>
<line x1="20.6" y1="358.6" x2="20.6" y2="356.6" stroke="#333" stroke-width="0.8"/>
<line x1="35.3" y1="358.6" x2="35.3" y2="356.6" stroke="#333" stroke-width="0.8"/>
<line x1="50.0" y1="358.6" x2="50.0" y2="356.6" stroke="#333" stroke-width="0.8"/>
<line x1="64.7" y1="358.6" x2="64.7" y2="356.6" stroke="#333" stroke-width="0.8"/>
<line x1="79.4" y1="358.6" x2="79.4" y2="356.6" stroke="#333" stroke-width="0.8"/>
<rect x="88.3" y="212.5" width="68.0" height="146.1" fill="none" stroke="#333" stroke-width="0.9"/>
<line x1="88.3" y1="212.5" x2="90.3" y2="212.5" stroke="#333" stroke-width="0.8"/>
<line x1="156.3" y1="212.5" x2="154.3" y2="212.5" stroke="#333" stroke-width="0.8"/>
<line x1="88.3" y1="230.8" x2="90.3" y2="230.8" stroke="#333" stroke-width="0.8"/>
<line x1="156.3" y1="230.8" x2="154.3" y2="230.8" stroke="#333" stroke-width="0.8"/>
<line x1="88.3" y1="249.0" x2="90.3" y2="249.0" stroke="#333" stroke-width="0.8"/>
<line x1="156.3" y1="249.0" x2="154.3" y2="249.0" stroke="#333" stroke-width="0.8"/>
<line x1="88.3" y1="267.3" x2="90.3" y2="267.3" stroke="#333" stroke-width="0.8"/>
<line x1="156.3" y1="267.3" x2="154.3" y2="267.3" stroke="#333" stroke-width="0.8"/>
<line x1="88.3" y1="285.6" x2="90.3" y2="285.6" stroke="#333" stroke-width="0.8"/>
<line x1="156.3" y1="285.6" x2="154.3" y2="285.6" stroke="#333" stroke-width="0.8"/>
<line x1="88.3" y1="303.8" x2="90.3" y2="303.8" stroke="#333" stroke-width="0.8"/>
<line x1="156.3" y1="303.8" x2="154.3" y2="303.8" stroke="#333" stroke-width="0.8"/>
<line x1="88.3" y1="322.1" x2="90.3" y2="322.1" stroke="#333" stroke-width="0.8"/>
<line x1="156.3" y1="322.1" x2="154.3" y2="322.1" stroke="#333" stroke-width="0.8"/>
<line x1="88.3" y1="340.3" x2="90.3" y2="340.3" stroke="#333" stroke-width="0.8"/>
<line x1="156.3" y1="340.3" x2="154.3" y2="340.3" stroke="#333" stroke-width="0.8"/>
<line x1="88.3" y1="358.6" x2="90.3" y2="358.6" stroke="#333" stroke-width="0.8"/>
<line x1="156.3" y1="358.6" x2="154.3" y2="358.6" stroke="#333" stroke-width="0.8"/>
<line x1="88.3" y1="358.6" x2="88.3" y2="356.6" stroke="#333" stroke-width="0.8"/>
<line x1="103.0" y1="358.6" x2="103.0" y2="356.6" stroke="#333" stroke-width="0.8"/>
<line x1="117.7" y1="358.6" x2="117.7" y2="356.6" stroke="#333" stroke-width="0.8"/>
<line x1="132.4" y1="358.6" x2="132.4" y2="356.6" stroke="#333" stroke-width="0.8"/>
<line x1="147.1" y1="358.6" x2="147.1" y2="356.6" stroke="#333" stroke-width="0.8"/>
<rect x="156.3" y="212.5" width="67.5" height="146.1" fill="none" stroke="#333" stroke-width="0.9"/>
<line x1="156.3" y1="212.5" x2="158.3" y2="212.5" stroke="#333" stroke-width="0.8"/>
<line x1="223.8" y1="212.5" x2="221.8" y2="212.5" stroke="#333" stroke-width="0.8"/>
<line x1="156.3" y1="230.8" x2="158.3" y2="230.8" stroke="#333" stroke-width="0.8"/>
<line x1="223.8" y1="230.8" x2="221.8" y2="230.8" stroke="#333" stroke-width="0.8"/>
<line x1="156.3" y1="249.0" x2="158.3" y2="249.0" stroke="#333" stroke-width="0.8"/>
<line x1="223.8" y1="249.0" x2="221.8" y2="249.0" stroke="#333" stroke-width="0.8"/>
<line x1="156.3" y1="267.3" x2="158.3" y2="267.3" stroke="#333" stroke-width="0.8"/>
<line x1="223.8" y1="267.3" x2="221.8" y2="267.3" stroke="#333" stroke-width="0.8"/>
<line x1="156.3" y1="285.6" x2="158.3" y2="285.6" stroke="#333" stroke-width="0.8"/>
<line x1="223.8" y1="285.6" x2="221.8" y2="285.6" stroke="#333" stroke-width="0.8"/>
<line x1="156.3" y1="303.8" x2="158.3" y2="303.8" stroke="#333" stroke-width="0.8"/>
<line x1="223.8" y1="303.8" x2="221.8" y2="303.8" stroke="#333" stroke-width="0.8"/>
<line x1="156.3" y1="322.1" x2="158.3" y2="322.1" stroke="#333" stroke-width="0.8"/>
<line x1="223.8" y1="322.1" x2="221.8" y2="322.1" stroke="#333" stroke-width="0.8"/>
<line x1="156.3" y1="340.3" x2="158.3" y2="340.3" stroke="#333" stroke-width="0.8"/>
<line x1="223.8" y1="340.3" x2="221.8" y2="340.3" stroke="#333" stroke-width="0.8"/>
<line x1="156.3" y1="358.6" x2="158.3" y2="358.6" stroke="#333" stroke-width="0.8"/>
<line x1="223.8" y1="358.6" x2="221.8" y2="358.6" stroke="#333" stroke-width="0.8"/>
<line x1="156.3" y1="358.6" x2="156.3" y2="356.6" stroke="#333" stroke-width="0.8"/>
<line x1="171.0" y1="358.6" x2="171.0" y2="356.6" stroke="#333" stroke-width="0.8"/>
<line x1="185.7" y1="358.6" x2="185.7" y2="356.6" stroke="#333" stroke-width="0.8"/>
<line x1="200.4" y1="358.6" x2="200.4" y2="356.6" stroke="#333" stroke-width="0.8"/>
<line x1="215.1" y1="358.6" x2="215.1" y2="356.6" stroke="#333" stroke-width="0.8"/>
<rect x="223.8" y="212.5" width="67.0" height="146.1" fill="none" stroke="#333" stroke-width="0.9"/>
<line x1="223.8" y1="212.5" x2="225.8" y2="212.5" stroke="#333" stroke-width="0.8"/>
<line x1="290.8" y1="212.5" x2="288.8" y2="212.5" stroke="#333" stroke-width="0.8"/>
<line x1="223.8" y1="230.8" x2="225.8" y2="230.8" stroke="#333" stroke-width="0.8"/>
<line x1="290.8" y1="230.8" x2="288.8" y2="230.8" stroke="#333" stroke-width="0.8"/>
<line x1="223.8" y1="249.0" x2="225.8" y2="249.0" stroke="#333" stroke-width="0.8"/>
<line x1="290.8" y1="249.0" x2="288.8" y2="249.0" stroke="#333" stroke-width="0.8"/>
<line x1="223.8" y1="267.3" x2="225.8" y2="267.3" stroke="#333" stroke-width="0.8"/>
<line x1="290.8" y1="267.3" x2="288.8" y2="267.3" stroke="#333" stroke-width="0.8"/>
<line x1="223.8" y1="285.6" x2="225.8" y2="285.6" stroke="#333" stroke-width="0.8"/>
<line x1="290.8" y1="285.6" x2="288.8" y2="285.6" stroke="#333" stroke-width="0.8"/>
<line x1="223.8" y1="303.8" x2="225.8" y2="303.8" stroke="#333" stroke-width="0.8"/>
<line x1="290.8" y1="303.8" x2="288.8" y2="303.8" stroke="#333" stroke-width="0.8"/>
<line x1="223.8" y1="322.1" x2="225.8" y2="322.1" stroke="#333" stroke-width="0.8"/>
<line x1="290.8" y1="322.1" x2="288.8" y2="322.1" stroke="#333" stroke-width="0.8"/>
<line x1="223.8" y1="340.3" x2="225.8" y2="340.3" stroke="#333" stroke-width="0.8"/>
<line x1="290.8" y1="340.3" x2="288.8" y2="340.3" stroke="#333" stroke-width="0.8"/>
<line x1="223.8" y1="358.6" x2="225.8" y2="358.6" stroke="#333" stroke-width="0.8"/>
<line x1="290.8" y1="358.6" x2="288.8" y2="358.6" stroke="#333" stroke-width="0.8"/>
<line x1="223.8" y1="358.6" x2="223.8" y2="356.6" stroke="#333" stroke-width="0.8"/>
<line x1="238.5" y1="358.6" x2="238.5" y2="356.6" stroke="#333" stroke-width="0.8"/>
<line x1="253.2" y1="358.6" x2="253.2" y2="356.6" stroke="#333" stroke-width="0.8"/>
<line x1="267.9" y1="358.6" x2="267.9" y2="356.6" stroke="#333" stroke-width="0.8"/>
<line x1="282.6" y1="358.6" x2="282.6" y2="356.6" stroke="#333" stroke-width="0.8"/>
<text x="18.4" y="215.3" font-size="7.8" text-anchor="end">10</text>
<text x="18.4" y="251.8" font-size="7.8" text-anchor="end">5</text>
<text x="18.4" y="288.4" font-size="7.8" text-anchor="end">0</text>
<text x="18.4" y="324.9" font-size="7.8" text-anchor="end">-5</text>
<text x="18.4" y="361.4" font-size="7.8" text-anchor="end">-10</text>
<text x="20.6" y="181.4" font-size="7.9" text-anchor="middle">-0.4</text>
<text x="50.1" y="181.4" font-size="7.9" text-anchor="middle">0.0</text>
<text x="79.5" y="181.4" font-size="7.9" text-anchor="middle">0.4</text>
<text x="54.3" y="193.5" font-size="8.5" text-anchor="middle">-pCOHP</text>
<text x="117.8" y="181.4" font-size="7.9" text-anchor="middle">0.0</text>
<text x="147.2" y="181.4" font-size="7.9" text-anchor="middle">0.4</text>
<text x="122.2" y="193.5" font-size="8.5" text-anchor="middle">-pCOHP</text>
<text x="185.8" y="181.4" font-size="7.9" text-anchor="middle">0.0</text>
<text x="215.2" y="181.4" font-size="7.9" text-anchor="middle">0.4</text>
<text x="187.8" y="193.5" font-size="8.5" text-anchor="middle">-pCOHP</text>
<text x="253.3" y="181.4" font-size="7.9" text-anchor="middle">0.0</text>
<text x="282.7" y="181.4" font-size="7.9" text-anchor="middle">0.4</text>
<text x="256.6" y="193.5" font-size="8.5" text-anchor="middle">-pCOHP</text>
<text x="20.6" y="368.4" font-size="7.9" text-anchor="middle">-0.4</text>
<text x="50.1" y="368.4" font-size="7.9" text-anchor="middle">0.0</text>
<text x="79.5" y="368.4" font-size="7.9" text-anchor="middle">0.4</text>
<text x="54.3" y="382.4" font-size="8.8" text-anchor="middle">-pCOHP</text>
<text x="54.3" y="392.1" font-size="8.8" text-anchor="middle">/O*-PMS</text>
<text x="117.8" y="368.4" font-size="7.9" text-anchor="middle">0.0</text>
<text x="147.2" y="368.4" font-size="7.9" text-anchor="middle">0.4</text>
<text x="122.0" y="382.4" font-size="8.8" text-anchor="middle">-pCOHP</text>
<text x="122.0" y="392.1" font-size="8.8" text-anchor="middle">/O*-PMS</text>
<text x="185.8" y="368.4" font-size="7.9" text-anchor="middle">0.0</text>
<text x="215.2" y="368.4" font-size="7.9" text-anchor="middle">0.4</text>
<text x="189.7" y="382.4" font-size="8.8" text-anchor="middle">-pCOHP</text>
<text x="189.7" y="392.1" font-size="8.8" text-anchor="middle">/O*-PMS</text>
<text x="233.8" y="368.4" font-size="7.9" text-anchor="middle">-0.4</text>
<text x="250.4" y="368.4" font-size="7.9" text-anchor="middle">0.0</text>
<text x="265.4" y="368.4" font-size="7.9" text-anchor="middle">0.4</text>
<text x="278.5" y="368.4" font-size="7.9" text-anchor="middle">1.2</text>
<text x="257.5" y="382.4" font-size="8.8" text-anchor="middle">-pCOHP</text>
<text x="257.5" y="392.1" font-size="8.8" text-anchor="middle">/O*-PMS</text>
<text x="8.8" y="98" font-size="9.2" text-anchor="middle" transform="rotate(-90 8.8 98)">E-E<tspan font-size="6.4" dy="2">F</tspan><tspan dy="-2"> (eV)</tspan></text>
<text x="8.8" y="285.6" font-size="9.2" text-anchor="middle" transform="rotate(-90 8.8 285.6)">E-E<tspan font-size="6.4" dy="2">F</tspan><tspan dy="-2"> (eV)</tspan></text>
<text x="85.8" y="35.2" font-size="8" text-anchor="end" font-weight="bold">CuO</text>
<text x="153.5" y="35.2" font-size="8" text-anchor="end" font-weight="bold">OH-CuO</text>
<text x="221" y="35.2" font-size="8" text-anchor="end" font-weight="bold">O<tspan font-size="5.5" dy="1.5">v</tspan><tspan dy="-1.5">-CuO</tspan></text>
<text x="288.5" y="35.2" font-size="8" text-anchor="end" font-weight="bold">OH-O<tspan font-size="5.5" dy="1.5">v</tspan><tspan dy="-1.5">-</tspan></text>
<text x="275.0" y="43.6" font-size="8" text-anchor="middle" font-weight="bold">CuO</text>
<text x="29.4" y="63.6" font-size="6.8" text-anchor="middle" font-weight="bold" fill="#f22" transform="rotate(-90 29.4 63.6)">Anti-bonding</text>
<text x="60.4" y="63.4" font-size="7.0" text-anchor="middle" font-weight="bold" fill="#f22" transform="rotate(-90 60.4 63.4)">Bonding</text>
<text x="69" y="219.7" font-size="8" text-anchor="middle" font-weight="bold" fill="#000">CuO/PMS</text>
<text x="69" y="239" font-size="8" text-anchor="middle" font-weight="bold" fill="#000">IpCOHP</text>
<text x="69" y="248.8" font-size="8" text-anchor="middle" font-weight="bold" fill="#000">(Cu-O)=</text>
<text x="69" y="258.8" font-size="8" text-anchor="middle" font-weight="bold" fill="#f22">-0.63 eV</text>
<text x="137" y="219.7" font-size="8" text-anchor="middle" font-weight="bold" fill="#000">OH-CuO</text>
<text x="137" y="229.8" font-size="8" text-anchor="middle" font-weight="bold" fill="#000">/PMS</text>
<text x="137" y="239" font-size="8" text-anchor="middle" font-weight="bold" fill="#000">IpCOHP</text>
<text x="137" y="248.8" font-size="8" text-anchor="middle" font-weight="bold" fill="#000">(Cu-O)=</text>
<text x="137" y="258.8" font-size="8" text-anchor="middle" font-weight="bold" fill="#f22">-0.65 eV</text>
<text x="200.5" y="219.7" font-size="8" text-anchor="middle" font-weight="bold">O<tspan font-size="5.5" dy="1.5">v</tspan><tspan dy="-1.5">-CuO</tspan></text>
<text x="200.5" y="230.8" font-size="8" text-anchor="middle" font-weight="bold" fill="#000">/PMS</text>
<text x="200.5" y="240.6" font-size="8" text-anchor="middle" font-weight="bold" fill="#000">IpCOHP</text>
<text x="200.5" y="250" font-size="8" text-anchor="middle" font-weight="bold" fill="#000">(Cu-O)=</text>
<text x="200.5" y="259.8" font-size="8" text-anchor="middle" font-weight="bold" fill="#f22">-0.95 eV</text>
<text x="268" y="219.7" font-size="8" text-anchor="middle" font-weight="bold">OH-O<tspan font-size="5.5" dy="1.5">v</tspan><tspan dy="-1.5">-CuO</tspan></text>
<text x="268.5" y="230.8" font-size="8" text-anchor="middle" font-weight="bold" fill="#000">/PMS</text>
<text x="268.5" y="240.6" font-size="8" text-anchor="middle" font-weight="bold" fill="#000">IpCOHP</text>
<text x="268.5" y="250" font-size="8" text-anchor="middle" font-weight="bold" fill="#000">(Cu-O)=</text>
<text x="268.5" y="259.8" font-size="8" text-anchor="middle" font-weight="bold" fill="#f22">-1.32 eV</text>
<text x="53.5" y="316.5" font-size="8" font-weight="bold">l<tspan font-size="8" dy="2.2">Cu-O</tspan><tspan dy="-2.2"> =</tspan></text>
<text x="66.0" y="326.8" font-size="8" text-anchor="middle" font-weight="bold" fill="#f22">1.94 Å</text>
<text x="124.6" y="316.5" font-size="8" font-weight="bold">l<tspan font-size="8" dy="2.2">Cu-O</tspan><tspan dy="-2.2"> =</tspan></text>
<text x="139.0" y="326.8" font-size="8" text-anchor="middle" font-weight="bold" fill="#f22">1.93 Å</text>
<text x="188.5" y="299.5" font-size="8" font-weight="bold">l<tspan font-size="8" dy="2.2">Cu-O</tspan><tspan dy="-2.2">=</tspan></text>
<text x="202.3" y="309.8" font-size="8" text-anchor="middle" font-weight="bold" fill="#f22">1.91 Å</text>
<text x="255.5" y="299.5" font-size="8" font-weight="bold">l<tspan font-size="8" dy="2.2">CuO</tspan><tspan dy="-2.2"> =</tspan></text>
<text x="268.2" y="309.8" font-size="8" text-anchor="middle" font-weight="bold" fill="#f22">1.82 Å</text>
<path d="M267.6,214.7 L270.2,210.3 M269.6,214.7 L272.2,210.3" stroke="#222" stroke-width="0.9" fill="none"/>
<path d="M267.6,360.8 L270.2,356.4 M269.6,360.8 L272.2,356.4" stroke="#222" stroke-width="0.9" fill="none"/>
<text x="297.6" y="12.0" font-size="16.5" font-weight="bold">b</text>
<path d="M345.6,57.6 346.1,56.7 346.6,56.0 347.1,55.9 347.6,55.9 348.1,56.1 348.6,56.5 349.1,57.2 349.6,57.5 350.1,57.1 350.6,56.7 351.1,56.5 351.6,56.4 352.1,56.5 352.6,56.4 353.1,56.7 353.6,56.9 354.1,57.4 354.6,56.8 355.1,55.2 355.6,55.5 356.1,55.4 356.6,55.6 357.1,56.2 357.6,57.0 358.1,57.1 358.6,56.4 359.1,55.9 359.6,55.3 360.2,55.4 360.7,55.6 361.2,56.4 361.7,57.0 362.2,57.1 362.7,56.6 363.2,56.1 363.7,56.0 364.2,56.2 364.7,56.4 365.2,57.1 365.7,57.3 366.2,56.6 366.7,56.4 367.2,56.1 367.7,56.2 368.2,56.4 368.7,56.6 369.2,57.2 369.7,56.3 370.2,54.5 370.7,54.5 371.2,56.0 371.7,56.3 372.2,53.6 372.7,54.8 373.2,54.7 373.7,56.0 374.2,53.4 374.7,51.7 375.2,52.7 375.7,53.0 376.2,51.2 376.7,52.1 377.2,51.6 377.7,50.8 378.2,50.2 378.7,50.2 379.2,51.0 379.7,49.2 380.2,50.7 380.7,48.1 381.2,46.8 381.7,48.4 382.2,46.2 382.7,44.1 383.2,34.9 383.7,31.7 384.2,37.2 384.7,41.6 385.2,45.5 385.7,43.9 386.2,43.6 386.8,41.5 387.3,40.5 387.8,40.9 388.3,42.1 388.8,43.7 389.3,40.4 389.8,43.7 390.3,44.9 390.8,45.3 391.3,46.7 391.8,45.1 392.3,47.6 392.8,47.9 393.3,46.3 393.8,49.0 394.3,50.2 394.8,49.4 395.3,49.5 395.8,51.6 396.3,51.0 396.8,50.2 397.3,51.9 397.8,51.9 398.3,52.5 398.8,52.8 399.3,51.9 399.8,53.5 400.3,56.0 400.8,54.5 401.3,53.4 401.8,53.6 402.3,53.9 402.8,54.9 403.3,56.5 403.8,56.3 404.3,54.1 404.8,53.3 405.3,54.3 405.8,54.4 406.3,55.2 406.8,56.2 407.3,56.7 407.8,56.6 408.3,56.3 408.8,56.1 409.3,56.4 409.8,56.9 410.3,57.4 410.8,57.3 411.3,56.9 411.8,56.5 412.3,57.3 412.8,57.6 413.4,57.9 413.9,57.9 414.4,57.7 414.9,57.6 415.4,57.6 415.9,57.6 416.4,57.8 416.9,57.9 417.4,57.8 417.9,57.5 418.4,57.4 418.9,57.4 419.4,57.5 419.9,57.8 420.4,57.8 420.9,57.4 421.4,57.4 421.9,57.5 422.4,57.8 422.9,57.8 423.4,57.6 423.9,57.6 424.4,57.7 424.9,57.9 425.4,57.9 425.9,57.7 426.4,57.6 426.9,57.6 427.4,57.7 427.9,57.9 428.4,57.9 428.9,57.7 429.4,57.7 429.9,57.9 430.4,57.9 430.9,57.7 431.4,57.6 431.9,57.5 432.4,57.6 432.9,57.7 433.4,57.9 433.9,57.9 434.4,57.8 434.9,57.7 435.4,57.7 435.9,57.8 436.4,57.8 436.9,57.9 437.4,57.8 437.9,57.6 438.4,57.6 438.9,57.7 439.5,57.9 440.0,57.8 440.5,57.6 441.0,57.6 441.5,57.9 442.0,57.9 442.5,57.7 443.0,57.5 443.5,57.5 444.0,57.5 444.5,57.7 445.0,57.9 445.5,57.9 446.0,57.8 446.5,57.7 447.0,57.7 447.5,57.6 448.0,57.7 448.5,57.8 449.0,57.9 449.5,57.9 450.0,57.7 450.5,57.7 451.0,57.7 451.5,57.9 452.0,57.9 452.5,57.7 453.0,57.7 453.5,57.9 454.0,57.9 454.5,57.8 455.0,57.7 455.5,57.7 456.0,57.7 456.5,57.8 457.0,57.9 457.5,57.9 458.0,57.7 458.5,57.7 459.0,57.6 459.5,57.6 460.0,57.6 460.5,57.8 461.0,57.9 461.5,57.9 462.0,57.7 462.5,57.7 463.0,57.7 463.5,57.9 464.0,57.9 464.5,57.8 465.0,57.7 465.5,57.7 466.1,57.7 466.6,57.8 467.1,58.0 467.6,57.9 468.1,57.7 468.6,57.6 469.1,57.7 469.6,57.9 470.1,57.9 470.6,57.8 471.1,57.7 471.6,57.6 472.1,57.6 472.6,57.7 473.1,57.8 473.6,57.9 474.1,57.9 474.6,57.7 475.1,57.6 475.6,57.7 476.1,57.9 476.6,57.9 477.1,57.8 477.6,57.7 478.1,57.7 478.6,57.8 479.1,58.0 479.6,58.0 480.1,57.9 480.1,58.4 479.6,58.3 479.1,58.4 478.6,58.5 478.1,58.6 477.6,58.7 477.1,58.5 476.6,58.4 476.1,58.4 475.6,58.6 475.1,58.6 474.6,58.6 474.1,58.4 473.6,58.4 473.1,58.5 472.6,58.5 472.1,58.6 471.6,58.6 471.1,58.6 470.6,58.5 470.1,58.3 469.6,58.4 469.1,58.6 468.6,58.7 468.1,58.6 467.6,58.4 467.1,58.3 466.6,58.4 466.1,58.5 465.5,58.5 465.0,58.5 464.5,58.4 464.0,58.3 463.5,58.4 463.0,58.6 462.5,58.7 462.0,58.7 461.5,58.5 461.0,58.4 460.5,58.5 460.0,58.7 459.5,58.7 459.0,58.8 458.5,58.7 458.0,58.6 457.5,58.4 457.0,58.4 456.5,58.5 456.0,58.6 455.5,58.7 455.0,58.6 454.5,58.5 454.0,58.4 453.5,58.4 453.0,58.6 452.5,58.6 452.0,58.4 451.5,58.4 451.0,58.6 450.5,58.6 450.0,58.6 449.5,58.4 449.0,58.3 448.5,58.5 448.0,58.6 447.5,58.6 447.0,58.6 446.5,58.5 446.0,58.5 445.5,58.3 445.0,58.4 444.5,58.5 444.0,58.6 443.5,58.7 443.0,58.6 442.5,58.5 442.0,58.4 441.5,58.5 441.0,58.7 440.5,58.7 440.0,58.5 439.5,58.5 438.9,58.8 438.4,58.9 437.9,58.8 437.4,58.5 436.9,58.3 436.4,58.5 435.9,58.5 435.4,58.5 434.9,58.5 434.4,58.5 433.9,58.4 433.4,58.4 432.9,58.7 432.4,58.8 431.9,58.8 431.4,58.8 430.9,58.7 430.4,58.4 429.9,58.5 429.4,58.7 428.9,58.7 428.4,58.5 427.9,58.4 427.4,58.6 426.9,58.8 426.4,58.8 425.9,58.7 425.4,58.4 424.9,58.5 424.4,58.7 423.9,58.8 423.4,58.7 422.9,58.5 422.4,58.5 421.9,58.7 421.4,58.8 420.9,58.7 420.4,58.5 419.9,58.5 419.4,58.7 418.9,58.9 418.4,58.9 417.9,58.8 417.4,58.5 416.9,58.4 416.4,58.5 415.9,58.5 415.4,58.6 414.9,58.6 414.4,58.5 413.9,58.4 413.4,58.4 412.8,58.7 412.3,58.9 411.8,59.1 411.3,59.2 410.8,58.9 410.3,58.9 409.8,59.4 409.3,59.7 408.8,60.0 408.3,59.8 407.8,59.7 407.3,59.1 406.8,59.4 406.3,60.3 405.8,61.0 405.3,61.2 404.8,61.5 404.3,60.5 403.8,59.7 403.3,59.8 402.8,61.5 402.3,62.1 401.8,62.7 401.3,62.5 400.8,61.3 400.3,60.1 399.8,62.1 399.3,63.6 398.8,62.9 398.3,63.5 397.8,63.6 397.3,63.6 396.8,65.7 396.3,64.3 395.8,63.3 395.3,64.8 394.8,65.2 394.3,64.6 393.8,65.6 393.3,67.8 392.8,67.1 392.3,67.0 391.8,69.3 391.3,67.9 390.8,70.3 390.3,70.5 389.8,69.8 389.3,73.0 388.8,70.6 388.3,72.9 387.8,73.3 387.3,74.2 386.8,74.5 386.2,72.1 385.7,72.0 385.2,71.4 384.7,75.4 384.2,78.7 383.7,83.1 383.2,80.0 382.7,72.3 382.2,69.7 381.7,68.2 381.2,69.8 380.7,68.9 380.2,66.5 379.7,68.7 379.2,66.2 378.7,67.3 378.2,66.9 377.7,65.7 377.2,65.0 376.7,65.4 376.2,66.6 375.7,64.4 375.2,63.8 374.7,65.0 374.2,63.2 373.7,60.2 373.2,61.3 372.7,61.4 372.2,60.9 371.7,59.7 371.2,60.6 370.7,62.3 370.2,61.6 369.7,61.2 369.2,59.3 368.7,59.6 368.2,59.8 367.7,60.9 367.2,60.2 366.7,59.8 366.2,59.5 365.7,59.0 365.2,59.0 364.7,59.5 364.2,59.7 363.7,60.8 363.2,60.2 362.7,59.6 362.2,59.0 361.7,59.3 361.2,60.1 360.7,60.6 360.2,60.7 359.6,60.6 359.1,60.3 358.6,59.8 358.1,59.1 357.6,59.4 357.1,60.3 356.6,60.6 356.1,60.7 355.6,60.6 355.1,60.1 354.6,59.2 354.1,58.8 353.6,59.1 353.1,59.3 352.6,59.5 352.1,59.5 351.6,59.5 351.1,59.5 350.6,59.4 350.1,59.1 349.6,58.7 349.1,59.1 348.6,59.8 348.1,60.2 347.6,60.3 347.1,60.3 346.6,60.2 346.1,59.3 345.6,58.7 Z" fill="#8cc0ea" stroke="none"/>
<line x1="320.5" y1="58.1" x2="487.8" y2="58.1" stroke="#6ab0e4" stroke-width="1.6"/>
<path d="M345.6,57.6 346.1,56.7 346.6,56.0 347.1,55.9 347.6,55.9 348.1,56.1 348.6,56.5 349.1,57.2 349.6,57.5 350.1,57.1 350.6,56.7 351.1,56.5 351.6,56.4 352.1,56.5 352.6,56.4 353.1,56.7 353.6,56.9 354.1,57.4 354.6,56.8 355.1,55.2 355.6,55.5 356.1,55.4 356.6,55.6 357.1,56.2 357.6,57.0 358.1,57.1 358.6,56.4 359.1,55.9 359.6,55.3 360.2,55.4 360.7,55.6 361.2,56.4 361.7,57.0 362.2,57.1 362.7,56.6 363.2,56.1 363.7,56.0 364.2,56.2 364.7,56.4 365.2,57.1 365.7,57.3 366.2,56.6 366.7,56.4 367.2,56.1 367.7,56.2 368.2,56.4 368.7,56.6 369.2,57.2 369.7,56.3 370.2,54.5 370.7,54.5 371.2,56.0 371.7,56.3 372.2,53.6 372.7,54.8 373.2,54.7 373.7,56.0 374.2,53.4 374.7,51.7 375.2,52.7 375.7,53.0 376.2,51.2 376.7,52.1 377.2,51.6 377.7,50.8 378.2,50.2 378.7,50.2 379.2,51.0 379.7,49.2 380.2,50.7 380.7,48.1 381.2,46.8 381.7,48.4 382.2,46.2 382.7,44.1 383.2,34.9 383.7,31.7 384.2,37.2 384.7,41.6 385.2,45.5 385.7,43.9 386.2,43.6 386.8,41.5 387.3,40.5 387.8,40.9 388.3,42.1 388.8,43.7 389.3,40.4 389.8,43.7 390.3,44.9 390.8,45.3 391.3,46.7 391.8,45.1 392.3,47.6 392.8,47.9 393.3,46.3 393.8,49.0 394.3,50.2 394.8,49.4 395.3,49.5 395.8,51.6 396.3,51.0 396.8,50.2 397.3,51.9 397.8,51.9 398.3,52.5 398.8,52.8 399.3,51.9 399.8,53.5 400.3,56.0 400.8,54.5 401.3,53.4 401.8,53.6 402.3,53.9 402.8,54.9 403.3,56.5 403.8,56.3 404.3,54.1 404.8,53.3 405.3,54.3 405.8,54.4 406.3,55.2 406.8,56.2 407.3,56.7 407.8,56.6 408.3,56.3 408.8,56.1 409.3,56.4 409.8,56.9 410.3,57.4 410.8,57.3 411.3,56.9 411.8,56.5 412.3,57.3 412.8,57.6 413.4,57.9 413.9,57.9 414.4,57.7 414.9,57.6 415.4,57.6 415.9,57.6 416.4,57.8 416.9,57.9 417.4,57.8 417.9,57.5 418.4,57.4 418.9,57.4 419.4,57.5 419.9,57.8 420.4,57.8 420.9,57.4 421.4,57.4 421.9,57.5 422.4,57.8 422.9,57.8 423.4,57.6 423.9,57.6 424.4,57.7 424.9,57.9 425.4,57.9 425.9,57.7 426.4,57.6 426.9,57.6 427.4,57.7 427.9,57.9 428.4,57.9 428.9,57.7 429.4,57.7 429.9,57.9 430.4,57.9 430.9,57.7 431.4,57.6 431.9,57.5 432.4,57.6 432.9,57.7 433.4,57.9 433.9,57.9 434.4,57.8 434.9,57.7 435.4,57.7 435.9,57.8 436.4,57.8 436.9,57.9 437.4,57.8 437.9,57.6 438.4,57.6 438.9,57.7 439.5,57.9 440.0,57.8 440.5,57.6 441.0,57.6 441.5,57.9 442.0,57.9 442.5,57.7 443.0,57.5 443.5,57.5 444.0,57.5 444.5,57.7 445.0,57.9 445.5,57.9 446.0,57.8 446.5,57.7 447.0,57.7 447.5,57.6 448.0,57.7 448.5,57.8 449.0,57.9 449.5,57.9 450.0,57.7 450.5,57.7 451.0,57.7 451.5,57.9 452.0,57.9 452.5,57.7 453.0,57.7 453.5,57.9 454.0,57.9 454.5,57.8 455.0,57.7 455.5,57.7 456.0,57.7 456.5,57.8 457.0,57.9 457.5,57.9 458.0,57.7 458.5,57.7 459.0,57.6 459.5,57.6 460.0,57.6 460.5,57.8 461.0,57.9 461.5,57.9 462.0,57.7 462.5,57.7 463.0,57.7 463.5,57.9 464.0,57.9 464.5,57.8 465.0,57.7 465.5,57.7 466.1,57.7 466.6,57.8 467.1,58.0 467.6,57.9 468.1,57.7 468.6,57.6 469.1,57.7 469.6,57.9 470.1,57.9 470.6,57.8 471.1,57.7 471.6,57.6 472.1,57.6 472.6,57.7 473.1,57.8 473.6,57.9 474.1,57.9 474.6,57.7 475.1,57.6 475.6,57.7 476.1,57.9 476.6,57.9 477.1,57.8 477.6,57.7 478.1,57.7 478.6,57.8 479.1,58.0 479.6,58.0 480.1,57.9" fill="none" stroke="#59a3df" stroke-width="0.95" stroke-linejoin="round"/>
<path d="M345.6,58.7 346.1,59.3 346.6,60.2 347.1,60.3 347.6,60.3 348.1,60.2 348.6,59.8 349.1,59.1 349.6,58.7 350.1,59.1 350.6,59.4 351.1,59.5 351.6,59.5 352.1,59.5 352.6,59.5 353.1,59.3 353.6,59.1 354.1,58.8 354.6,59.2 355.1,60.1 355.6,60.6 356.1,60.7 356.6,60.6 357.1,60.3 357.6,59.4 358.1,59.1 358.6,59.8 359.1,60.3 359.6,60.6 360.2,60.7 360.7,60.6 361.2,60.1 361.7,59.3 362.2,59.0 362.7,59.6 363.2,60.2 363.7,60.8 364.2,59.7 364.7,59.5 365.2,59.0 365.7,59.0 366.2,59.5 366.7,59.8 367.2,60.2 367.7,60.9 368.2,59.8 368.7,59.6 369.2,59.3 369.7,61.2 370.2,61.6 370.7,62.3 371.2,60.6 371.7,59.7 372.2,60.9 372.7,61.4 373.2,61.3 373.7,60.2 374.2,63.2 374.7,65.0 375.2,63.8 375.7,64.4 376.2,66.6 376.7,65.4 377.2,65.0 377.7,65.7 378.2,66.9 378.7,67.3 379.2,66.2 379.7,68.7 380.2,66.5 380.7,68.9 381.2,69.8 381.7,68.2 382.2,69.7 382.7,72.3 383.2,80.0 383.7,83.1 384.2,78.7 384.7,75.4 385.2,71.4 385.7,72.0 386.2,72.1 386.8,74.5 387.3,74.2 387.8,73.3 388.3,72.9 388.8,70.6 389.3,73.0 389.8,69.8 390.3,70.5 390.8,70.3 391.3,67.9 391.8,69.3 392.3,67.0 392.8,67.1 393.3,67.8 393.8,65.6 394.3,64.6 394.8,65.2 395.3,64.8 395.8,63.3 396.3,64.3 396.8,65.7 397.3,63.6 397.8,63.6 398.3,63.5 398.8,62.9 399.3,63.6 399.8,62.1 400.3,60.1 400.8,61.3 401.3,62.5 401.8,62.7 402.3,62.1 402.8,61.5 403.3,59.8 403.8,59.7 404.3,60.5 404.8,61.5 405.3,61.2 405.8,61.0 406.3,60.3 406.8,59.4 407.3,59.1 407.8,59.7 408.3,59.8 408.8,60.0 409.3,59.7 409.8,59.4 410.3,58.9 410.8,58.9 411.3,59.2 411.8,59.1 412.3,58.9 412.8,58.7 413.4,58.4 413.9,58.4 414.4,58.5 414.9,58.6 415.4,58.6 415.9,58.5 416.4,58.5 416.9,58.4 417.4,58.5 417.9,58.8 418.4,58.9 418.9,58.9 419.4,58.7 419.9,58.5 420.4,58.5 420.9,58.7 421.4,58.8 421.9,58.7 422.4,58.5 422.9,58.5 423.4,58.7 423.9,58.8 424.4,58.7 424.9,58.5 425.4,58.4 425.9,58.7 426.4,58.8 426.9,58.8 427.4,58.6 427.9,58.4 428.4,58.5 428.9,58.7 429.4,58.7 429.9,58.5 430.4,58.4 430.9,58.7 431.4,58.8 431.9,58.8 432.4,58.8 432.9,58.7 433.4,58.4 433.9,58.4 434.4,58.5 434.9,58.5 435.4,58.5 435.9,58.5 436.4,58.5 436.9,58.3 437.4,58.5 437.9,58.8 438.4,58.9 438.9,58.8 439.5,58.5 440.0,58.5 440.5,58.7 441.0,58.7 441.5,58.5 442.0,58.4 442.5,58.5 443.0,58.6 443.5,58.7 444.0,58.6 444.5,58.5 445.0,58.4 445.5,58.3 446.0,58.5 446.5,58.5 447.0,58.6 447.5,58.6 448.0,58.6 448.5,58.5 449.0,58.3 449.5,58.4 450.0,58.6 450.5,58.6 451.0,58.6 451.5,58.4 452.0,58.4 452.5,58.6 453.0,58.6 453.5,58.4 454.0,58.4 454.5,58.5 455.0,58.6 455.5,58.7 456.0,58.6 456.5,58.5 457.0,58.4 457.5,58.4 458.0,58.6 458.5,58.7 459.0,58.8 459.5,58.7 460.0,58.7 460.5,58.5 461.0,58.4 461.5,58.5 462.0,58.7 462.5,58.7 463.0,58.6 463.5,58.4 464.0,58.3 464.5,58.4 465.0,58.5 465.5,58.5 466.1,58.5 466.6,58.4 467.1,58.3 467.6,58.4 468.1,58.6 468.6,58.7 469.1,58.6 469.6,58.4 470.1,58.3 470.6,58.5 471.1,58.6 471.6,58.6 472.1,58.6 472.6,58.5 473.1,58.5 473.6,58.4 474.1,58.4 474.6,58.6 475.1,58.6 475.6,58.6 476.1,58.4 476.6,58.4 477.1,58.5 477.6,58.7 478.1,58.6 478.6,58.5 479.1,58.4 479.6,58.3 480.1,58.4" fill="none" stroke="#59a3df" stroke-width="0.95" stroke-linejoin="round"/>
<line x1="386.0" y1="24.0" x2="386.0" y2="91.3" stroke="#888" stroke-width="0.6" stroke-dasharray="2.2,1"/>
<rect x="320.5" y="24.0" width="167.3" height="67.3" fill="none" stroke="#333" stroke-width="1.0"/>
<line x1="320.5" y1="91.3" x2="320.5" y2="89.5" stroke="#333" stroke-width="0.8"/>
<line x1="341.4" y1="91.3" x2="341.4" y2="89.5" stroke="#333" stroke-width="0.8"/>
<line x1="362.3" y1="91.3" x2="362.3" y2="89.5" stroke="#333" stroke-width="0.8"/>
<line x1="383.2" y1="91.3" x2="383.2" y2="89.5" stroke="#333" stroke-width="0.8"/>
<line x1="404.1" y1="91.3" x2="404.1" y2="89.5" stroke="#333" stroke-width="0.8"/>
<line x1="425.1" y1="91.3" x2="425.1" y2="89.5" stroke="#333" stroke-width="0.8"/>
<line x1="446.0" y1="91.3" x2="446.0" y2="89.5" stroke="#333" stroke-width="0.8"/>
<line x1="466.9" y1="91.3" x2="466.9" y2="89.5" stroke="#333" stroke-width="0.8"/>
<line x1="487.8" y1="91.3" x2="487.8" y2="89.5" stroke="#333" stroke-width="0.8"/>
<text x="320.5" y="99.8" font-size="8.1" text-anchor="middle">-10</text>
<text x="362.3" y="99.8" font-size="8.1" text-anchor="middle">-5</text>
<text x="404.1" y="99.8" font-size="8.1" text-anchor="middle">0</text>
<text x="446.0" y="99.8" font-size="8.1" text-anchor="middle">5</text>
<text x="487.8" y="99.8" font-size="8.1" text-anchor="middle">10</text>
<text x="408.15" y="108.90" font-size="8.6" text-anchor="middle">E-E<tspan font-size="6" dy="1.8">F</tspan><tspan dy="-1.8"> (eV)</tspan></text>
<text x="306.4" y="58.1" font-size="8.7" text-anchor="middle" transform="rotate(-90 306.4 58.15)">pDOS</text>
<text x="316.5" y="57.9" font-size="8.8" text-anchor="middle" transform="rotate(-90 316.5 57.949999999999996)">(electrons/eV)</text>
<text x="326.50" y="35.20" font-size="8.9" font-weight="bold">CuO</text>
<text x="400.1" y="32.9" font-size="7.5" font-weight="bold">d-band center of Cu</text>
<text x="400.1" y="42.2" font-size="7.5" font-weight="bold" fill="#f33">-2.171 eV</text>
<path d="M537.8,57.7 538.3,57.1 538.8,56.8 539.3,56.4 539.8,56.6 540.3,56.6 540.8,57.0 541.3,57.5 541.8,57.5 542.3,57.1 542.8,57.0 543.3,56.6 543.8,56.8 544.3,56.8 544.8,57.0 545.3,57.2 545.8,57.5 546.3,57.3 546.8,56.8 547.3,56.5 547.8,56.7 548.3,57.3 548.8,57.2 549.3,56.4 549.8,56.1 550.3,56.2 550.8,56.4 551.3,57.2 551.8,57.3 552.4,56.7 552.9,56.5 553.4,56.1 553.9,56.3 554.4,56.8 554.9,57.3 555.4,57.1 555.9,56.3 556.4,55.6 556.9,55.6 557.4,55.3 557.9,55.8 558.4,56.3 558.9,57.1 559.4,57.2 559.9,56.4 560.4,56.0 560.9,55.9 561.4,55.9 561.9,56.1 562.4,57.0 562.9,56.8 563.4,55.9 563.9,55.6 564.4,55.8 564.9,56.6 565.4,55.8 565.9,54.3 566.4,51.9 566.9,51.5 567.4,55.3 567.9,53.3 568.4,52.0 568.9,52.6 569.4,52.3 569.9,51.8 570.4,52.3 570.9,51.2 571.4,52.3 571.9,51.8 572.4,52.0 572.9,50.3 573.4,49.4 573.9,48.3 574.4,46.5 574.9,41.9 575.4,40.1 575.9,38.1 576.4,40.1 576.9,46.0 577.4,47.0 577.9,44.7 578.4,46.2 579.0,42.6 579.5,41.0 580.0,43.5 580.5,43.4 581.0,44.5 581.5,45.0 582.0,47.6 582.5,45.7 583.0,48.4 583.5,48.7 584.0,47.3 584.5,47.4 585.0,43.0 585.5,47.1 586.0,50.2 586.5,48.8 587.0,51.0 587.5,51.0 588.0,51.5 588.5,51.8 589.0,50.1 589.5,50.7 590.0,53.0 590.5,53.0 591.0,52.1 591.5,52.1 592.0,54.3 592.5,56.3 593.0,55.2 593.5,55.0 594.0,55.5 594.5,56.6 595.0,56.7 595.5,55.7 596.0,54.7 596.5,55.0 597.0,55.3 597.5,55.8 598.0,56.6 598.5,56.3 599.0,56.1 599.5,55.2 600.0,54.6 600.5,55.8 601.0,56.5 601.5,57.2 602.0,57.0 602.5,56.2 603.0,56.1 603.5,56.7 604.0,57.4 604.5,57.6 605.0,57.3 605.6,57.4 606.1,57.5 606.6,57.8 607.1,57.9 607.6,57.7 608.1,57.4 608.6,57.5 609.1,57.6 609.6,57.9 610.1,57.9 610.6,57.7 611.1,57.7 611.6,57.9 612.1,57.8 612.6,57.6 613.1,57.4 613.6,57.4 614.1,57.6 614.6,57.9 615.1,57.9 615.6,57.7 616.1,57.6 616.6,57.6 617.1,57.7 617.6,57.9 618.1,57.9 618.6,57.8 619.1,57.8 619.6,57.7 620.1,57.8 620.6,57.9 621.1,57.9 621.6,57.8 622.1,57.7 622.6,57.7 623.1,57.6 623.6,57.7 624.1,57.8 624.6,58.0 625.1,57.9 625.6,57.7 626.1,57.6 626.6,57.7 627.1,57.9 627.6,57.9 628.1,57.7 628.6,57.6 629.1,57.7 629.6,57.9 630.1,57.8 630.6,57.6 631.1,57.8 631.7,57.9 632.2,57.7 632.7,57.5 633.2,57.5 633.7,57.6 634.2,57.7 634.7,57.9 635.2,58.0 635.7,57.8 636.2,57.8 636.7,57.7 637.2,57.7 637.7,57.8 638.2,57.9 638.7,58.0 639.2,58.0 639.7,57.8 640.2,57.8 640.7,57.8 641.2,57.8 641.7,58.0 642.2,57.9 642.7,57.7 643.2,57.7 643.7,57.9 644.2,58.0 644.7,57.8 645.2,57.7 645.7,57.7 646.2,57.8 646.7,57.9 647.2,58.0 647.7,57.9 648.2,57.8 648.7,57.8 649.2,57.8 649.7,57.8 650.2,57.9 650.7,58.0 651.2,57.9 651.7,57.7 652.2,57.7 652.7,57.9 653.2,57.9 653.7,57.7 654.2,57.6 654.7,57.7 655.2,57.8 655.7,57.9 656.2,57.9 656.7,57.7 657.2,57.6 657.7,57.7 658.3,57.9 658.8,58.0 659.3,57.9 659.8,57.8 660.3,57.8 660.8,58.0 661.3,57.9 661.8,57.7 662.3,57.6 662.8,57.7 663.3,57.9 663.8,57.9 664.3,57.7 664.8,57.6 665.3,57.6 665.8,57.6 666.3,57.7 666.8,57.9 667.3,58.0 667.8,57.9 668.3,57.8 668.8,57.8 669.3,57.8 669.8,58.0 670.3,57.9 670.8,57.8 671.3,57.7 671.8,57.7 672.3,57.9 672.3,58.5 671.8,58.6 671.3,58.7 670.8,58.6 670.3,58.4 669.8,58.3 669.3,58.5 668.8,58.5 668.3,58.5 667.8,58.4 667.3,58.3 666.8,58.4 666.3,58.6 665.8,58.7 665.3,58.7 664.8,58.7 664.3,58.6 663.8,58.4 663.3,58.4 662.8,58.6 662.3,58.6 661.8,58.6 661.3,58.4 660.8,58.4 660.3,58.5 659.8,58.5 659.3,58.5 658.8,58.4 658.3,58.4 657.7,58.6 657.2,58.6 656.7,58.6 656.2,58.4 655.7,58.4 655.2,58.6 654.7,58.7 654.2,58.7 653.7,58.6 653.2,58.4 652.7,58.4 652.2,58.7 651.7,58.7 651.2,58.5 650.7,58.3 650.2,58.5 649.7,58.6 649.2,58.6 648.7,58.6 648.2,58.6 647.7,58.5 647.2,58.4 646.7,58.4 646.2,58.5 645.7,58.6 645.2,58.5 644.7,58.5 644.2,58.4 643.7,58.4 643.2,58.6 642.7,58.6 642.2,58.5 641.7,58.4 641.2,58.5 640.7,58.6 640.2,58.6 639.7,58.5 639.2,58.4 638.7,58.3 638.2,58.4 637.7,58.5 637.2,58.5 636.7,58.5 636.2,58.5 635.7,58.4 635.2,58.3 634.7,58.4 634.2,58.6 633.7,58.8 633.2,58.8 632.7,58.7 632.2,58.6 631.7,58.4 631.1,58.6 630.6,58.8 630.1,58.5 629.6,58.4 629.1,58.6 628.6,58.7 628.1,58.6 627.6,58.4 627.1,58.4 626.6,58.6 626.1,58.7 625.6,58.6 625.1,58.4 624.6,58.3 624.1,58.5 623.6,58.5 623.1,58.6 622.6,58.5 622.1,58.5 621.6,58.5 621.1,58.3 620.6,58.4 620.1,58.5 619.6,58.6 619.1,58.6 618.6,58.5 618.1,58.4 617.6,58.5 617.1,58.7 616.6,58.9 616.1,58.9 615.6,58.8 615.1,58.5 614.6,58.5 614.1,58.7 613.6,58.8 613.1,58.9 612.6,58.7 612.1,58.5 611.6,58.4 611.1,58.7 610.6,58.6 610.1,58.4 609.6,58.5 609.1,58.8 608.6,58.9 608.1,58.8 607.6,58.7 607.1,58.5 606.6,58.5 606.1,58.8 605.6,58.9 605.0,59.0 604.5,58.9 604.0,58.9 603.5,59.7 603.0,60.0 602.5,60.0 602.0,59.2 601.5,59.0 601.0,59.7 600.5,60.1 600.0,60.3 599.5,60.2 599.0,60.0 598.5,59.2 598.0,59.3 597.5,60.0 597.0,60.6 596.5,60.8 596.0,60.6 595.5,60.2 595.0,59.5 594.5,59.7 594.0,61.0 593.5,61.4 593.0,61.1 592.5,59.8 592.0,61.4 591.5,61.6 591.0,62.6 590.5,64.8 590.0,63.8 589.5,65.0 589.0,64.9 588.5,63.6 588.0,63.8 587.5,64.0 587.0,64.4 586.5,66.1 586.0,65.5 585.5,67.7 585.0,68.6 584.5,66.2 584.0,67.8 583.5,66.8 583.0,67.5 582.5,69.8 582.0,68.3 581.5,70.6 581.0,71.5 580.5,70.8 580.0,71.9 579.5,73.2 579.0,72.9 578.4,69.6 577.9,72.2 577.4,70.3 576.9,70.5 576.4,76.2 575.9,78.2 575.4,76.2 574.9,74.0 574.4,70.8 573.9,69.3 573.4,67.4 572.9,66.4 572.4,65.2 571.9,64.9 571.4,64.6 570.9,65.5 570.4,64.7 569.9,64.8 569.4,64.7 568.9,64.5 568.4,65.5 567.9,63.8 567.4,60.6 566.9,62.6 566.4,62.5 565.9,61.7 565.4,60.1 564.9,60.0 564.4,60.9 563.9,61.1 563.4,60.4 562.9,59.5 562.4,59.4 561.9,60.1 561.4,60.4 560.9,60.4 560.4,60.3 559.9,59.8 559.4,59.1 558.9,59.3 558.4,60.2 557.9,61.0 557.4,61.4 556.9,61.1 556.4,61.7 555.9,60.8 555.4,59.4 554.9,59.1 554.4,59.8 553.9,60.2 553.4,60.2 552.9,60.1 552.4,59.7 551.8,59.0 551.3,59.2 550.8,60.1 550.3,60.3 549.8,61.3 549.3,61.2 548.8,59.4 548.3,59.0 547.8,59.4 547.3,59.7 546.8,59.4 546.3,58.9 545.8,58.7 545.3,59.0 544.8,59.3 544.3,59.4 543.8,59.5 543.3,59.4 542.8,59.2 542.3,59.4 541.8,58.8 541.3,58.8 540.8,59.2 540.3,59.6 539.8,59.5 539.3,60.2 538.8,59.8 538.3,59.0 537.8,58.6 Z" fill="#c0d8f4" stroke="none"/>
<line x1="512.7" y1="58.1" x2="680.0" y2="58.1" stroke="#5a98e6" stroke-width="1.6"/>
<path d="M537.8,57.7 538.3,57.1 538.8,56.8 539.3,56.4 539.8,56.6 540.3,56.6 540.8,57.0 541.3,57.5 541.8,57.5 542.3,57.1 542.8,57.0 543.3,56.6 543.8,56.8 544.3,56.8 544.8,57.0 545.3,57.2 545.8,57.5 546.3,57.3 546.8,56.8 547.3,56.5 547.8,56.7 548.3,57.3 548.8,57.2 549.3,56.4 549.8,56.1 550.3,56.2 550.8,56.4 551.3,57.2 551.8,57.3 552.4,56.7 552.9,56.5 553.4,56.1 553.9,56.3 554.4,56.8 554.9,57.3 555.4,57.1 555.9,56.3 556.4,55.6 556.9,55.6 557.4,55.3 557.9,55.8 558.4,56.3 558.9,57.1 559.4,57.2 559.9,56.4 560.4,56.0 560.9,55.9 561.4,55.9 561.9,56.1 562.4,57.0 562.9,56.8 563.4,55.9 563.9,55.6 564.4,55.8 564.9,56.6 565.4,55.8 565.9,54.3 566.4,51.9 566.9,51.5 567.4,55.3 567.9,53.3 568.4,52.0 568.9,52.6 569.4,52.3 569.9,51.8 570.4,52.3 570.9,51.2 571.4,52.3 571.9,51.8 572.4,52.0 572.9,50.3 573.4,49.4 573.9,48.3 574.4,46.5 574.9,41.9 575.4,40.1 575.9,38.1 576.4,40.1 576.9,46.0 577.4,47.0 577.9,44.7 578.4,46.2 579.0,42.6 579.5,41.0 580.0,43.5 580.5,43.4 581.0,44.5 581.5,45.0 582.0,47.6 582.5,45.7 583.0,48.4 583.5,48.7 584.0,47.3 584.5,47.4 585.0,43.0 585.5,47.1 586.0,50.2 586.5,48.8 587.0,51.0 587.5,51.0 588.0,51.5 588.5,51.8 589.0,50.1 589.5,50.7 590.0,53.0 590.5,53.0 591.0,52.1 591.5,52.1 592.0,54.3 592.5,56.3 593.0,55.2 593.5,55.0 594.0,55.5 594.5,56.6 595.0,56.7 595.5,55.7 596.0,54.7 596.5,55.0 597.0,55.3 597.5,55.8 598.0,56.6 598.5,56.3 599.0,56.1 599.5,55.2 600.0,54.6 600.5,55.8 601.0,56.5 601.5,57.2 602.0,57.0 602.5,56.2 603.0,56.1 603.5,56.7 604.0,57.4 604.5,57.6 605.0,57.3 605.6,57.4 606.1,57.5 606.6,57.8 607.1,57.9 607.6,57.7 608.1,57.4 608.6,57.5 609.1,57.6 609.6,57.9 610.1,57.9 610.6,57.7 611.1,57.7 611.6,57.9 612.1,57.8 612.6,57.6 613.1,57.4 613.6,57.4 614.1,57.6 614.6,57.9 615.1,57.9 615.6,57.7 616.1,57.6 616.6,57.6 617.1,57.7 617.6,57.9 618.1,57.9 618.6,57.8 619.1,57.8 619.6,57.7 620.1,57.8 620.6,57.9 621.1,57.9 621.6,57.8 622.1,57.7 622.6,57.7 623.1,57.6 623.6,57.7 624.1,57.8 624.6,58.0 625.1,57.9 625.6,57.7 626.1,57.6 626.6,57.7 627.1,57.9 627.6,57.9 628.1,57.7 628.6,57.6 629.1,57.7 629.6,57.9 630.1,57.8 630.6,57.6 631.1,57.8 631.7,57.9 632.2,57.7 632.7,57.5 633.2,57.5 633.7,57.6 634.2,57.7 634.7,57.9 635.2,58.0 635.7,57.8 636.2,57.8 636.7,57.7 637.2,57.7 637.7,57.8 638.2,57.9 638.7,58.0 639.2,58.0 639.7,57.8 640.2,57.8 640.7,57.8 641.2,57.8 641.7,58.0 642.2,57.9 642.7,57.7 643.2,57.7 643.7,57.9 644.2,58.0 644.7,57.8 645.2,57.7 645.7,57.7 646.2,57.8 646.7,57.9 647.2,58.0 647.7,57.9 648.2,57.8 648.7,57.8 649.2,57.8 649.7,57.8 650.2,57.9 650.7,58.0 651.2,57.9 651.7,57.7 652.2,57.7 652.7,57.9 653.2,57.9 653.7,57.7 654.2,57.6 654.7,57.7 655.2,57.8 655.7,57.9 656.2,57.9 656.7,57.7 657.2,57.6 657.7,57.7 658.3,57.9 658.8,58.0 659.3,57.9 659.8,57.8 660.3,57.8 660.8,58.0 661.3,57.9 661.8,57.7 662.3,57.6 662.8,57.7 663.3,57.9 663.8,57.9 664.3,57.7 664.8,57.6 665.3,57.6 665.8,57.6 666.3,57.7 666.8,57.9 667.3,58.0 667.8,57.9 668.3,57.8 668.8,57.8 669.3,57.8 669.8,58.0 670.3,57.9 670.8,57.8 671.3,57.7 671.8,57.7 672.3,57.9" fill="none" stroke="#2f7ae0" stroke-width="0.95" stroke-linejoin="round"/>
<path d="M537.8,58.6 538.3,59.0 538.8,59.8 539.3,60.2 539.8,59.5 540.3,59.6 540.8,59.2 541.3,58.8 541.8,58.8 542.3,59.4 542.8,59.2 543.3,59.4 543.8,59.5 544.3,59.4 544.8,59.3 545.3,59.0 545.8,58.7 546.3,58.9 546.8,59.4 547.3,59.7 547.8,59.4 548.3,59.0 548.8,59.4 549.3,61.2 549.8,61.3 550.3,60.3 550.8,60.1 551.3,59.2 551.8,59.0 552.4,59.7 552.9,60.1 553.4,60.2 553.9,60.2 554.4,59.8 554.9,59.1 555.4,59.4 555.9,60.8 556.4,61.7 556.9,61.1 557.4,61.4 557.9,61.0 558.4,60.2 558.9,59.3 559.4,59.1 559.9,59.8 560.4,60.3 560.9,60.4 561.4,60.4 561.9,60.1 562.4,59.4 562.9,59.5 563.4,60.4 563.9,61.1 564.4,60.9 564.9,60.0 565.4,60.1 565.9,61.7 566.4,62.5 566.9,62.6 567.4,60.6 567.9,63.8 568.4,65.5 568.9,64.5 569.4,64.7 569.9,64.8 570.4,64.7 570.9,65.5 571.4,64.6 571.9,64.9 572.4,65.2 572.9,66.4 573.4,67.4 573.9,69.3 574.4,70.8 574.9,74.0 575.4,76.2 575.9,78.2 576.4,76.2 576.9,70.5 577.4,70.3 577.9,72.2 578.4,69.6 579.0,72.9 579.5,73.2 580.0,71.9 580.5,70.8 581.0,71.5 581.5,70.6 582.0,68.3 582.5,69.8 583.0,67.5 583.5,66.8 584.0,67.8 584.5,66.2 585.0,68.6 585.5,67.7 586.0,65.5 586.5,66.1 587.0,64.4 587.5,64.0 588.0,63.8 588.5,63.6 589.0,64.9 589.5,65.0 590.0,63.8 590.5,64.8 591.0,62.6 591.5,61.6 592.0,61.4 592.5,59.8 593.0,61.1 593.5,61.4 594.0,61.0 594.5,59.7 595.0,59.5 595.5,60.2 596.0,60.6 596.5,60.8 597.0,60.6 597.5,60.0 598.0,59.3 598.5,59.2 599.0,60.0 599.5,60.2 600.0,60.3 600.5,60.1 601.0,59.7 601.5,59.0 602.0,59.2 602.5,60.0 603.0,60.0 603.5,59.7 604.0,58.9 604.5,58.9 605.0,59.0 605.6,58.9 606.1,58.8 606.6,58.5 607.1,58.5 607.6,58.7 608.1,58.8 608.6,58.9 609.1,58.8 609.6,58.5 610.1,58.4 610.6,58.6 611.1,58.7 611.6,58.4 612.1,58.5 612.6,58.7 613.1,58.9 613.6,58.8 614.1,58.7 614.6,58.5 615.1,58.5 615.6,58.8 616.1,58.9 616.6,58.9 617.1,58.7 617.6,58.5 618.1,58.4 618.6,58.5 619.1,58.6 619.6,58.6 620.1,58.5 620.6,58.4 621.1,58.3 621.6,58.5 622.1,58.5 622.6,58.5 623.1,58.6 623.6,58.5 624.1,58.5 624.6,58.3 625.1,58.4 625.6,58.6 626.1,58.7 626.6,58.6 627.1,58.4 627.6,58.4 628.1,58.6 628.6,58.7 629.1,58.6 629.6,58.4 630.1,58.5 630.6,58.8 631.1,58.6 631.7,58.4 632.2,58.6 632.7,58.7 633.2,58.8 633.7,58.8 634.2,58.6 634.7,58.4 635.2,58.3 635.7,58.4 636.2,58.5 636.7,58.5 637.2,58.5 637.7,58.5 638.2,58.4 638.7,58.3 639.2,58.4 639.7,58.5 640.2,58.6 640.7,58.6 641.2,58.5 641.7,58.4 642.2,58.5 642.7,58.6 643.2,58.6 643.7,58.4 644.2,58.4 644.7,58.5 645.2,58.5 645.7,58.6 646.2,58.5 646.7,58.4 647.2,58.4 647.7,58.5 648.2,58.6 648.7,58.6 649.2,58.6 649.7,58.6 650.2,58.5 650.7,58.3 651.2,58.5 651.7,58.7 652.2,58.7 652.7,58.4 653.2,58.4 653.7,58.6 654.2,58.7 654.7,58.7 655.2,58.6 655.7,58.4 656.2,58.4 656.7,58.6 657.2,58.6 657.7,58.6 658.3,58.4 658.8,58.4 659.3,58.5 659.8,58.5 660.3,58.5 660.8,58.4 661.3,58.4 661.8,58.6 662.3,58.6 662.8,58.6 663.3,58.4 663.8,58.4 664.3,58.6 664.8,58.7 665.3,58.7 665.8,58.7 666.3,58.6 666.8,58.4 667.3,58.3 667.8,58.4 668.3,58.5 668.8,58.5 669.3,58.5 669.8,58.3 670.3,58.4 670.8,58.6 671.3,58.7 671.8,58.6 672.3,58.5" fill="none" stroke="#2f7ae0" stroke-width="0.95" stroke-linejoin="round"/>
<line x1="579.4" y1="24.0" x2="579.4" y2="91.3" stroke="#888" stroke-width="0.6" stroke-dasharray="2.2,1"/>
<rect x="512.7" y="24.0" width="167.3" height="67.3" fill="none" stroke="#333" stroke-width="1.0"/>
<line x1="512.7" y1="91.3" x2="512.7" y2="89.5" stroke="#333" stroke-width="0.8"/>
<line x1="533.6" y1="91.3" x2="533.6" y2="89.5" stroke="#333" stroke-width="0.8"/>
<line x1="554.5" y1="91.3" x2="554.5" y2="89.5" stroke="#333" stroke-width="0.8"/>
<line x1="575.4" y1="91.3" x2="575.4" y2="89.5" stroke="#333" stroke-width="0.8"/>
<line x1="596.4" y1="91.3" x2="596.4" y2="89.5" stroke="#333" stroke-width="0.8"/>
<line x1="617.3" y1="91.3" x2="617.3" y2="89.5" stroke="#333" stroke-width="0.8"/>
<line x1="638.2" y1="91.3" x2="638.2" y2="89.5" stroke="#333" stroke-width="0.8"/>
<line x1="659.1" y1="91.3" x2="659.1" y2="89.5" stroke="#333" stroke-width="0.8"/>
<line x1="680.0" y1="91.3" x2="680.0" y2="89.5" stroke="#333" stroke-width="0.8"/>
<text x="512.7" y="99.8" font-size="8.1" text-anchor="middle">-10</text>
<text x="554.5" y="99.8" font-size="8.1" text-anchor="middle">-5</text>
<text x="596.4" y="99.8" font-size="8.1" text-anchor="middle">0</text>
<text x="638.2" y="99.8" font-size="8.1" text-anchor="middle">5</text>
<text x="680.0" y="99.8" font-size="8.1" text-anchor="middle">10</text>
<text x="600.35" y="108.90" font-size="8.6" text-anchor="middle">E-E<tspan font-size="6" dy="1.8">F</tspan><tspan dy="-1.8"> (eV)</tspan></text>
<text x="498.6" y="58.1" font-size="8.7" text-anchor="middle" transform="rotate(-90 498.6 58.15)">pDOS</text>
<text x="508.7" y="57.9" font-size="8.8" text-anchor="middle" transform="rotate(-90 508.70000000000005 57.949999999999996)">(electrons/eV)</text>
<text x="518.60" y="35.30" font-size="8.9" font-weight="bold">CuO/PMS</text>
<text x="595.4" y="34.9" font-size="7.5" font-weight="bold">d-band center of Cu</text>
<text x="595.4" y="44.5" font-size="7.5" font-weight="bold" fill="#f33">-2.021 eV</text>
<path d="M345.6,149.8 346.1,149.2 346.6,148.6 347.1,148.4 347.6,148.4 348.1,148.4 348.6,148.8 349.1,149.5 349.6,149.6 350.1,149.0 350.6,148.8 351.1,149.1 351.6,149.6 352.1,149.7 352.6,149.2 353.1,148.8 353.6,148.6 354.1,148.5 354.6,148.5 355.1,148.7 355.6,149.1 356.1,149.6 356.6,149.1 357.1,148.3 357.6,147.8 358.1,147.8 358.6,148.3 359.1,149.1 359.6,149.4 360.2,148.7 360.7,147.9 361.2,148.0 361.7,147.7 362.2,148.0 362.7,148.6 363.2,149.2 363.7,149.4 364.2,148.7 364.7,148.6 365.2,148.8 365.7,149.2 366.2,148.8 366.7,148.7 367.2,148.4 367.7,148.2 368.2,148.2 368.7,148.2 369.2,148.5 369.7,149.3 370.2,149.1 370.7,148.1 371.2,147.6 371.7,147.0 372.2,147.2 372.7,147.6 373.2,148.7 373.7,148.8 374.2,147.4 374.7,146.9 375.2,146.2 375.7,145.8 376.2,146.6 376.7,148.1 377.2,143.9 377.7,143.4 378.2,143.8 378.7,143.8 379.2,143.8 379.7,142.1 380.2,143.8 380.7,143.5 381.2,139.0 381.7,137.5 382.2,139.3 382.7,133.3 383.2,129.6 383.7,126.8 384.2,131.7 384.7,138.0 385.2,136.9 385.7,136.4 386.2,136.0 386.8,135.7 387.3,136.8 387.8,133.1 388.3,137.0 388.8,138.7 389.3,136.8 389.8,139.3 390.3,136.6 390.8,137.6 391.3,141.1 391.8,139.2 392.3,139.6 392.8,142.3 393.3,141.3 393.8,140.2 394.3,142.4 394.8,143.3 395.3,142.3 395.8,141.6 396.3,143.6 396.8,145.2 397.3,145.1 397.8,144.4 398.3,145.7 398.8,145.7 399.3,146.1 399.8,146.3 400.3,146.4 400.8,148.4 401.3,147.3 401.8,146.7 402.3,147.5 402.8,148.7 403.3,148.3 403.8,146.5 404.3,146.7 404.8,148.5 405.3,148.4 405.8,147.3 406.3,147.4 406.8,148.5 407.3,149.1 407.8,147.8 408.3,147.0 408.8,147.9 409.3,148.0 409.8,148.7 410.3,149.5 410.8,149.6 411.3,149.3 411.8,149.2 412.3,149.6 412.8,150.0 413.4,150.1 413.9,150.0 414.4,149.9 414.9,149.9 415.4,149.9 415.9,150.0 416.4,150.1 416.9,150.1 417.4,150.0 417.9,149.9 418.4,149.8 418.9,149.8 419.4,149.9 419.9,150.0 420.4,150.1 420.9,150.2 421.4,150.0 421.9,150.0 422.4,150.0 422.9,150.0 423.4,150.0 423.9,150.2 424.4,150.1 424.9,149.9 425.4,149.8 425.9,149.8 426.4,149.8 426.9,149.9 427.4,150.1 427.9,150.1 428.4,150.0 428.9,149.9 429.4,150.0 429.9,150.0 430.4,150.2 430.9,150.1 431.4,150.0 431.9,149.9 432.4,149.8 432.9,149.9 433.4,150.0 433.9,150.1 434.4,150.1 434.9,149.9 435.4,149.7 435.9,149.8 436.4,150.1 436.9,150.1 437.4,149.9 437.9,149.7 438.4,149.8 438.9,149.8 439.5,150.1 440.0,150.2 440.5,150.0 441.0,149.9 441.5,149.9 442.0,149.9 442.5,150.0 443.0,150.2 443.5,150.1 444.0,150.0 444.5,149.9 445.0,150.1 445.5,150.1 446.0,149.9 446.5,149.8 447.0,149.8 447.5,149.8 448.0,149.9 448.5,150.1 449.0,150.1 449.5,149.9 450.0,149.8 450.5,149.7 451.0,149.9 451.5,150.1 452.0,150.1 452.5,149.8 453.0,149.8 453.5,149.8 454.0,150.1 454.5,150.1 455.0,149.9 455.5,149.8 456.0,149.8 456.5,149.9 457.0,150.1 457.5,150.1 458.0,149.8 458.5,149.8 459.0,149.9 459.5,150.1 460.0,150.1 460.5,149.9 461.0,149.8 461.5,149.9 462.0,150.1 462.5,150.2 463.0,150.0 463.5,150.0 464.0,149.9 464.5,149.9 465.0,149.9 465.5,150.0 466.1,150.2 466.6,150.2 467.1,150.1 467.6,150.0 468.1,150.0 468.6,150.1 469.1,150.2 469.6,150.1 470.1,149.9 470.6,149.8 471.1,149.8 471.6,150.0 472.1,150.1 472.6,150.1 473.1,150.0 473.6,149.9 474.1,149.9 474.6,150.1 475.1,150.2 475.6,150.1 476.1,150.0 476.6,149.9 477.1,150.0 477.6,150.1 478.1,150.2 478.6,150.2 479.1,150.0 479.6,149.9 480.1,150.1 480.1,150.6 479.6,150.7 479.1,150.7 478.6,150.5 478.1,150.5 477.6,150.6 477.1,150.7 476.6,150.8 476.1,150.7 475.6,150.6 475.1,150.5 474.6,150.6 474.1,150.8 473.6,150.8 473.1,150.8 472.6,150.6 472.1,150.6 471.6,150.7 471.1,150.8 470.6,150.8 470.1,150.7 469.6,150.6 469.1,150.5 468.6,150.6 468.1,150.6 467.6,150.6 467.1,150.6 466.6,150.5 466.1,150.5 465.5,150.6 465.0,150.7 464.5,150.8 464.0,150.7 463.5,150.8 463.0,150.7 462.5,150.5 462.0,150.6 461.5,150.8 461.0,150.8 460.5,150.7 460.0,150.6 459.5,150.6 459.0,150.8 458.5,150.9 458.0,150.9 457.5,150.6 457.0,150.6 456.5,150.8 456.0,151.0 455.5,150.9 455.0,150.8 454.5,150.6 454.0,150.6 453.5,150.7 453.0,150.8 452.5,150.8 452.0,150.6 451.5,150.6 451.0,150.8 450.5,150.9 450.0,150.9 449.5,150.8 449.0,150.6 448.5,150.6 448.0,150.8 447.5,150.9 447.0,151.0 446.5,150.9 446.0,150.8 445.5,150.6 445.0,150.6 444.5,150.8 444.0,150.8 443.5,150.6 443.0,150.6 442.5,150.7 442.0,150.8 441.5,150.9 441.0,150.8 440.5,150.7 440.0,150.6 439.5,150.6 438.9,150.8 438.4,151.0 437.9,151.0 437.4,150.9 436.9,150.6 436.4,150.7 435.9,150.9 435.4,151.0 434.9,150.9 434.4,150.7 433.9,150.6 433.4,150.7 432.9,150.8 432.4,150.9 431.9,150.8 431.4,150.7 430.9,150.6 430.4,150.6 429.9,150.7 429.4,150.8 428.9,150.8 428.4,150.7 427.9,150.6 427.4,150.6 426.9,150.7 426.4,150.8 425.9,150.9 425.4,150.9 424.9,150.7 424.4,150.6 423.9,150.6 423.4,150.7 422.9,150.8 422.4,150.8 421.9,150.8 421.4,150.7 420.9,150.6 420.4,150.6 419.9,150.7 419.4,150.8 418.9,150.9 418.4,150.9 417.9,150.8 417.4,150.7 416.9,150.6 416.4,150.6 415.9,150.7 415.4,150.8 414.9,150.8 414.4,150.8 413.9,150.7 413.4,150.6 412.8,150.7 412.3,151.0 411.8,151.2 411.3,151.3 410.8,151.4 410.3,151.4 409.8,151.9 409.3,152.4 408.8,152.4 408.3,152.7 407.8,152.1 407.3,151.5 406.8,151.7 406.3,152.8 405.8,152.8 405.3,151.8 404.8,151.9 404.3,152.9 403.8,153.3 403.3,152.1 402.8,151.8 402.3,153.1 401.8,153.4 401.3,152.9 400.8,152.1 400.3,153.6 399.8,153.7 399.3,153.8 398.8,154.0 398.3,154.4 397.8,155.8 397.3,155.0 396.8,155.0 396.3,156.2 395.8,155.6 395.3,155.6 394.8,155.9 394.3,157.1 393.8,158.8 393.3,158.1 392.8,157.2 392.3,159.4 391.8,164.4 391.3,159.9 390.8,161.8 390.3,161.8 389.8,159.6 389.3,161.3 388.8,160.3 388.3,162.3 387.8,165.4 387.3,163.2 386.8,162.7 386.2,163.3 385.7,165.1 385.2,165.0 384.7,162.6 384.2,168.5 383.7,172.4 383.2,169.7 382.7,167.4 382.2,162.0 381.7,159.6 381.2,160.1 380.7,157.6 380.2,161.3 379.7,161.2 379.2,161.2 378.7,159.3 378.2,157.9 377.7,157.8 377.2,157.2 376.7,152.8 376.2,154.3 375.7,155.2 375.2,155.1 374.7,154.2 374.2,153.2 373.7,152.1 373.2,152.0 372.7,153.0 372.2,153.4 371.7,153.1 371.2,152.7 370.7,152.4 370.2,151.4 369.7,151.4 369.2,151.8 368.7,152.1 368.2,153.1 367.7,152.5 367.2,152.0 366.7,151.7 366.2,151.2 365.7,152.2 365.2,152.1 364.7,151.8 364.2,151.5 363.7,151.2 363.2,151.2 362.7,151.8 362.2,152.1 361.7,152.5 361.2,152.3 360.7,152.2 360.2,151.8 359.6,151.1 359.1,151.5 358.6,152.3 358.1,152.9 357.6,152.7 357.1,152.3 356.6,151.5 356.1,151.0 355.6,151.3 355.1,151.5 354.6,151.9 354.1,151.8 353.6,151.7 353.1,151.5 352.6,151.2 352.1,151.0 351.6,151.0 351.1,151.4 350.6,151.5 350.1,151.3 349.6,151.0 349.1,151.1 348.6,151.7 348.1,151.9 347.6,152.1 347.1,152.3 346.6,151.9 346.1,151.4 345.6,150.8 Z" fill="#fbb8bc" stroke="none"/>
<line x1="320.5" y1="150.3" x2="487.8" y2="150.3" stroke="#f08890" stroke-width="1.6"/>
<path d="M345.6,149.8 346.1,149.2 346.6,148.6 347.1,148.4 347.6,148.4 348.1,148.4 348.6,148.8 349.1,149.5 349.6,149.6 350.1,149.0 350.6,148.8 351.1,149.1 351.6,149.6 352.1,149.7 352.6,149.2 353.1,148.8 353.6,148.6 354.1,148.5 354.6,148.5 355.1,148.7 355.6,149.1 356.1,149.6 356.6,149.1 357.1,148.3 357.6,147.8 358.1,147.8 358.6,148.3 359.1,149.1 359.6,149.4 360.2,148.7 360.7,147.9 361.2,148.0 361.7,147.7 362.2,148.0 362.7,148.6 363.2,149.2 363.7,149.4 364.2,148.7 364.7,148.6 365.2,148.8 365.7,149.2 366.2,148.8 366.7,148.7 367.2,148.4 367.7,148.2 368.2,148.2 368.7,148.2 369.2,148.5 369.7,149.3 370.2,149.1 370.7,148.1 371.2,147.6 371.7,147.0 372.2,147.2 372.7,147.6 373.2,148.7 373.7,148.8 374.2,147.4 374.7,146.9 375.2,146.2 375.7,145.8 376.2,146.6 376.7,148.1 377.2,143.9 377.7,143.4 378.2,143.8 378.7,143.8 379.2,143.8 379.7,142.1 380.2,143.8 380.7,143.5 381.2,139.0 381.7,137.5 382.2,139.3 382.7,133.3 383.2,129.6 383.7,126.8 384.2,131.7 384.7,138.0 385.2,136.9 385.7,136.4 386.2,136.0 386.8,135.7 387.3,136.8 387.8,133.1 388.3,137.0 388.8,138.7 389.3,136.8 389.8,139.3 390.3,136.6 390.8,137.6 391.3,141.1 391.8,139.2 392.3,139.6 392.8,142.3 393.3,141.3 393.8,140.2 394.3,142.4 394.8,143.3 395.3,142.3 395.8,141.6 396.3,143.6 396.8,145.2 397.3,145.1 397.8,144.4 398.3,145.7 398.8,145.7 399.3,146.1 399.8,146.3 400.3,146.4 400.8,148.4 401.3,147.3 401.8,146.7 402.3,147.5 402.8,148.7 403.3,148.3 403.8,146.5 404.3,146.7 404.8,148.5 405.3,148.4 405.8,147.3 406.3,147.4 406.8,148.5 407.3,149.1 407.8,147.8 408.3,147.0 408.8,147.9 409.3,148.0 409.8,148.7 410.3,149.5 410.8,149.6 411.3,149.3 411.8,149.2 412.3,149.6 412.8,150.0 413.4,150.1 413.9,150.0 414.4,149.9 414.9,149.9 415.4,149.9 415.9,150.0 416.4,150.1 416.9,150.1 417.4,150.0 417.9,149.9 418.4,149.8 418.9,149.8 419.4,149.9 419.9,150.0 420.4,150.1 420.9,150.2 421.4,150.0 421.9,150.0 422.4,150.0 422.9,150.0 423.4,150.0 423.9,150.2 424.4,150.1 424.9,149.9 425.4,149.8 425.9,149.8 426.4,149.8 426.9,149.9 427.4,150.1 427.9,150.1 428.4,150.0 428.9,149.9 429.4,150.0 429.9,150.0 430.4,150.2 430.9,150.1 431.4,150.0 431.9,149.9 432.4,149.8 432.9,149.9 433.4,150.0 433.9,150.1 434.4,150.1 434.9,149.9 435.4,149.7 435.9,149.8 436.4,150.1 436.9,150.1 437.4,149.9 437.9,149.7 438.4,149.8 438.9,149.8 439.5,150.1 440.0,150.2 440.5,150.0 441.0,149.9 441.5,149.9 442.0,149.9 442.5,150.0 443.0,150.2 443.5,150.1 444.0,150.0 444.5,149.9 445.0,150.1 445.5,150.1 446.0,149.9 446.5,149.8 447.0,149.8 447.5,149.8 448.0,149.9 448.5,150.1 449.0,150.1 449.5,149.9 450.0,149.8 450.5,149.7 451.0,149.9 451.5,150.1 452.0,150.1 452.5,149.8 453.0,149.8 453.5,149.8 454.0,150.1 454.5,150.1 455.0,149.9 455.5,149.8 456.0,149.8 456.5,149.9 457.0,150.1 457.5,150.1 458.0,149.8 458.5,149.8 459.0,149.9 459.5,150.1 460.0,150.1 460.5,149.9 461.0,149.8 461.5,149.9 462.0,150.1 462.5,150.2 463.0,150.0 463.5,150.0 464.0,149.9 464.5,149.9 465.0,149.9 465.5,150.0 466.1,150.2 466.6,150.2 467.1,150.1 467.6,150.0 468.1,150.0 468.6,150.1 469.1,150.2 469.6,150.1 470.1,149.9 470.6,149.8 471.1,149.8 471.6,150.0 472.1,150.1 472.6,150.1 473.1,150.0 473.6,149.9 474.1,149.9 474.6,150.1 475.1,150.2 475.6,150.1 476.1,150.0 476.6,149.9 477.1,150.0 477.6,150.1 478.1,150.2 478.6,150.2 479.1,150.0 479.6,149.9 480.1,150.1" fill="none" stroke="#eb5a62" stroke-width="0.95" stroke-linejoin="round"/>
<path d="M345.6,150.8 346.1,151.4 346.6,151.9 347.1,152.3 347.6,152.1 348.1,151.9 348.6,151.7 349.1,151.1 349.6,151.0 350.1,151.3 350.6,151.5 351.1,151.4 351.6,151.0 352.1,151.0 352.6,151.2 353.1,151.5 353.6,151.7 354.1,151.8 354.6,151.9 355.1,151.5 355.6,151.3 356.1,151.0 356.6,151.5 357.1,152.3 357.6,152.7 358.1,152.9 358.6,152.3 359.1,151.5 359.6,151.1 360.2,151.8 360.7,152.2 361.2,152.3 361.7,152.5 362.2,152.1 362.7,151.8 363.2,151.2 363.7,151.2 364.2,151.5 364.7,151.8 365.2,152.1 365.7,152.2 366.2,151.2 366.7,151.7 367.2,152.0 367.7,152.5 368.2,153.1 368.7,152.1 369.2,151.8 369.7,151.4 370.2,151.4 370.7,152.4 371.2,152.7 371.7,153.1 372.2,153.4 372.7,153.0 373.2,152.0 373.7,152.1 374.2,153.2 374.7,154.2 375.2,155.1 375.7,155.2 376.2,154.3 376.7,152.8 377.2,157.2 377.7,157.8 378.2,157.9 378.7,159.3 379.2,161.2 379.7,161.2 380.2,161.3 380.7,157.6 381.2,160.1 381.7,159.6 382.2,162.0 382.7,167.4 383.2,169.7 383.7,172.4 384.2,168.5 384.7,162.6 385.2,165.0 385.7,165.1 386.2,163.3 386.8,162.7 387.3,163.2 387.8,165.4 388.3,162.3 388.8,160.3 389.3,161.3 389.8,159.6 390.3,161.8 390.8,161.8 391.3,159.9 391.8,164.4 392.3,159.4 392.8,157.2 393.3,158.1 393.8,158.8 394.3,157.1 394.8,155.9 395.3,155.6 395.8,155.6 396.3,156.2 396.8,155.0 397.3,155.0 397.8,155.8 398.3,154.4 398.8,154.0 399.3,153.8 399.8,153.7 400.3,153.6 400.8,152.1 401.3,152.9 401.8,153.4 402.3,153.1 402.8,151.8 403.3,152.1 403.8,153.3 404.3,152.9 404.8,151.9 405.3,151.8 405.8,152.8 406.3,152.8 406.8,151.7 407.3,151.5 407.8,152.1 408.3,152.7 408.8,152.4 409.3,152.4 409.8,151.9 410.3,151.4 410.8,151.4 411.3,151.3 411.8,151.2 412.3,151.0 412.8,150.7 413.4,150.6 413.9,150.7 414.4,150.8 414.9,150.8 415.4,150.8 415.9,150.7 416.4,150.6 416.9,150.6 417.4,150.7 417.9,150.8 418.4,150.9 418.9,150.9 419.4,150.8 419.9,150.7 420.4,150.6 420.9,150.6 421.4,150.7 421.9,150.8 422.4,150.8 422.9,150.8 423.4,150.7 423.9,150.6 424.4,150.6 424.9,150.7 425.4,150.9 425.9,150.9 426.4,150.8 426.9,150.7 427.4,150.6 427.9,150.6 428.4,150.7 428.9,150.8 429.4,150.8 429.9,150.7 430.4,150.6 430.9,150.6 431.4,150.7 431.9,150.8 432.4,150.9 432.9,150.8 433.4,150.7 433.9,150.6 434.4,150.7 434.9,150.9 435.4,151.0 435.9,150.9 436.4,150.7 436.9,150.6 437.4,150.9 437.9,151.0 438.4,151.0 438.9,150.8 439.5,150.6 440.0,150.6 440.5,150.7 441.0,150.8 441.5,150.9 442.0,150.8 442.5,150.7 443.0,150.6 443.5,150.6 444.0,150.8 444.5,150.8 445.0,150.6 445.5,150.6 446.0,150.8 446.5,150.9 447.0,151.0 447.5,150.9 448.0,150.8 448.5,150.6 449.0,150.6 449.5,150.8 450.0,150.9 450.5,150.9 451.0,150.8 451.5,150.6 452.0,150.6 452.5,150.8 453.0,150.8 453.5,150.7 454.0,150.6 454.5,150.6 455.0,150.8 455.5,150.9 456.0,151.0 456.5,150.8 457.0,150.6 457.5,150.6 458.0,150.9 458.5,150.9 459.0,150.8 459.5,150.6 460.0,150.6 460.5,150.7 461.0,150.8 461.5,150.8 462.0,150.6 462.5,150.5 463.0,150.7 463.5,150.8 464.0,150.7 464.5,150.8 465.0,150.7 465.5,150.6 466.1,150.5 466.6,150.5 467.1,150.6 467.6,150.6 468.1,150.6 468.6,150.6 469.1,150.5 469.6,150.6 470.1,150.7 470.6,150.8 471.1,150.8 471.6,150.7 472.1,150.6 472.6,150.6 473.1,150.8 473.6,150.8 474.1,150.8 474.6,150.6 475.1,150.5 475.6,150.6 476.1,150.7 476.6,150.8 477.1,150.7 477.6,150.6 478.1,150.5 478.6,150.5 479.1,150.7 479.6,150.7 480.1,150.6" fill="none" stroke="#eb5a62" stroke-width="0.95" stroke-linejoin="round"/>
<line x1="386.1" y1="116.3" x2="386.1" y2="183.4" stroke="#888" stroke-width="0.6" stroke-dasharray="2.2,1"/>
<rect x="320.5" y="116.3" width="167.3" height="67.1" fill="none" stroke="#333" stroke-width="1.0"/>
<line x1="320.5" y1="183.4" x2="320.5" y2="181.6" stroke="#333" stroke-width="0.8"/>
<line x1="341.4" y1="183.4" x2="341.4" y2="181.6" stroke="#333" stroke-width="0.8"/>
<line x1="362.3" y1="183.4" x2="362.3" y2="181.6" stroke="#333" stroke-width="0.8"/>
<line x1="383.2" y1="183.4" x2="383.2" y2="181.6" stroke="#333" stroke-width="0.8"/>
<line x1="404.1" y1="183.4" x2="404.1" y2="181.6" stroke="#333" stroke-width="0.8"/>
<line x1="425.1" y1="183.4" x2="425.1" y2="181.6" stroke="#333" stroke-width="0.8"/>
<line x1="446.0" y1="183.4" x2="446.0" y2="181.6" stroke="#333" stroke-width="0.8"/>
<line x1="466.9" y1="183.4" x2="466.9" y2="181.6" stroke="#333" stroke-width="0.8"/>
<line x1="487.8" y1="183.4" x2="487.8" y2="181.6" stroke="#333" stroke-width="0.8"/>
<text x="320.5" y="191.9" font-size="8.1" text-anchor="middle">-10</text>
<text x="362.3" y="191.9" font-size="8.1" text-anchor="middle">-5</text>
<text x="404.1" y="191.9" font-size="8.1" text-anchor="middle">0</text>
<text x="446.0" y="191.9" font-size="8.1" text-anchor="middle">5</text>
<text x="487.8" y="191.9" font-size="8.1" text-anchor="middle">10</text>
<text x="408.15" y="201.00" font-size="8.6" text-anchor="middle">E-E<tspan font-size="6" dy="1.8">F</tspan><tspan dy="-1.8"> (eV)</tspan></text>
<text x="306.4" y="150.3" font-size="8.7" text-anchor="middle" transform="rotate(-90 306.4 150.35)">pDOS</text>
<text x="316.5" y="150.2" font-size="8.8" text-anchor="middle" transform="rotate(-90 316.5 150.15)">(electrons/eV)</text>
<text x="326.50" y="128.20" font-size="8.9" font-weight="bold">OH-CuO</text>
<text x="399.6" y="124.5" font-size="7.5" font-weight="bold">d-band center of Cu</text>
<text x="399.6" y="134.5" font-size="7.5" font-weight="bold" fill="#f33">-2.163 eV</text>
<path d="M537.8,149.9 538.3,149.4 538.8,148.9 539.3,148.7 539.8,148.7 540.3,148.8 540.8,149.2 541.3,149.7 541.8,149.3 542.3,148.3 542.8,148.1 543.3,148.3 543.8,149.1 544.3,149.6 544.8,149.0 545.3,148.7 545.8,148.7 546.3,149.1 546.8,149.5 547.3,149.5 547.8,148.9 548.3,148.5 548.8,148.4 549.3,148.1 549.8,148.3 550.3,148.5 550.8,149.0 551.3,149.5 551.8,149.1 552.4,148.0 552.9,147.2 553.4,146.9 553.9,148.1 554.4,149.0 554.9,149.4 555.4,148.8 555.9,148.5 556.4,148.4 556.9,148.2 557.4,147.9 557.9,149.4 558.4,149.3 558.9,148.4 559.4,147.9 559.9,147.5 560.4,147.5 560.9,147.6 561.4,148.3 561.9,149.2 562.4,148.9 562.9,147.9 563.4,147.3 563.9,147.4 564.4,148.6 564.9,148.8 565.4,147.3 565.9,146.6 566.4,145.9 566.9,145.4 567.4,145.8 567.9,146.6 568.4,147.4 568.9,142.3 569.4,142.9 569.9,142.4 570.4,144.1 570.9,143.8 571.4,141.9 571.9,143.7 572.4,142.4 572.9,141.2 573.4,141.6 573.9,140.2 574.4,137.7 574.9,133.5 575.4,132.3 575.9,130.3 576.4,132.3 576.9,135.0 577.4,135.6 577.9,137.7 578.4,133.5 579.0,132.1 579.5,137.0 580.0,136.3 580.5,137.2 581.0,137.7 581.5,134.3 582.0,135.6 582.5,139.2 583.0,139.8 583.5,136.5 584.0,137.6 584.5,140.5 585.0,139.7 585.5,140.4 586.0,141.9 586.5,140.1 587.0,142.7 587.5,142.6 588.0,141.6 588.5,142.2 589.0,141.2 589.5,144.9 590.0,145.0 590.5,145.3 591.0,146.3 591.5,145.7 592.0,146.7 592.5,148.2 593.0,146.4 593.5,146.0 594.0,145.8 594.5,146.8 595.0,148.5 595.5,148.6 596.0,147.2 596.5,146.0 597.0,146.0 597.5,147.7 598.0,148.8 598.5,149.3 599.0,148.5 599.5,148.2 600.0,148.0 600.5,148.0 601.0,148.5 601.5,148.8 602.0,149.5 602.5,149.5 603.0,149.0 603.5,148.8 604.0,149.0 604.5,149.3 605.0,149.7 605.6,150.1 606.1,150.0 606.6,149.7 607.1,149.7 607.6,149.8 608.1,150.0 608.6,150.1 609.1,149.9 609.6,149.8 610.1,149.9 610.6,150.0 611.1,150.1 611.6,150.2 612.1,150.0 612.6,150.0 613.1,149.9 613.6,149.9 614.1,150.0 614.6,150.1 615.1,150.2 615.6,150.0 616.1,149.8 616.6,149.7 617.1,149.7 617.6,149.8 618.1,150.1 618.6,150.1 619.1,149.9 619.6,149.8 620.1,149.8 620.6,149.8 621.1,149.9 621.6,150.1 622.1,150.1 622.6,150.0 623.1,149.9 623.6,149.9 624.1,149.9 624.6,150.0 625.1,150.1 625.6,150.1 626.1,149.9 626.6,149.9 627.1,149.9 627.6,150.0 628.1,150.1 628.6,150.1 629.1,150.0 629.6,149.9 630.1,149.9 630.6,149.9 631.1,150.0 631.7,150.1 632.2,150.1 632.7,149.9 633.2,149.8 633.7,149.8 634.2,149.9 634.7,150.1 635.2,150.1 635.7,150.0 636.2,149.9 636.7,149.9 637.2,149.9 637.7,150.1 638.2,150.0 638.7,149.7 639.2,149.8 639.7,150.0 640.2,150.1 640.7,150.0 641.2,149.9 641.7,149.9 642.2,149.8 642.7,149.9 643.2,150.0 643.7,150.2 644.2,150.1 644.7,150.0 645.2,149.9 645.7,150.1 646.2,150.1 646.7,149.9 647.2,149.8 647.7,149.8 648.2,149.9 648.7,150.1 649.2,150.1 649.7,149.8 650.2,149.8 650.7,149.9 651.2,150.1 651.7,150.1 652.2,149.9 652.7,149.8 653.2,149.8 653.7,149.9 654.2,150.0 654.7,150.1 655.2,150.2 655.7,150.0 656.2,150.0 656.7,150.2 657.2,150.2 657.7,150.0 658.3,150.0 658.8,150.0 659.3,150.0 659.8,150.2 660.3,150.1 660.8,150.0 661.3,149.8 661.8,149.9 662.3,149.9 662.8,150.1 663.3,150.1 663.8,150.0 664.3,150.0 664.8,150.1 665.3,150.2 665.8,150.0 666.3,149.9 666.8,149.8 667.3,149.8 667.8,149.9 668.3,150.0 668.8,150.1 669.3,150.2 669.8,150.1 670.3,150.0 670.8,150.0 671.3,150.0 671.8,150.0 672.3,150.2 672.3,150.5 671.8,150.8 671.3,150.8 670.8,150.8 670.3,150.8 669.8,150.7 669.3,150.6 668.8,150.6 668.3,150.8 667.8,150.9 667.3,150.9 666.8,150.9 666.3,150.9 665.8,150.8 665.3,150.6 664.8,150.6 664.3,150.7 663.8,150.7 663.3,150.6 662.8,150.6 662.3,150.7 661.8,150.8 661.3,150.8 660.8,150.8 660.3,150.6 659.8,150.5 659.3,150.7 658.8,150.7 658.3,150.7 657.7,150.7 657.2,150.5 656.7,150.6 656.2,150.8 655.7,150.7 655.2,150.6 654.7,150.6 654.2,150.9 653.7,151.0 653.2,151.0 652.7,151.0 652.2,150.8 651.7,150.6 651.2,150.6 650.7,150.9 650.2,151.1 649.7,150.9 649.2,150.7 648.7,150.6 648.2,150.7 647.7,150.8 647.2,150.8 646.7,150.8 646.2,150.6 645.7,150.6 645.2,150.8 644.7,150.8 644.2,150.6 643.7,150.5 643.2,150.7 642.7,150.8 642.2,150.8 641.7,150.8 641.2,150.8 640.7,150.7 640.2,150.6 639.7,150.7 639.2,150.9 638.7,150.9 638.2,150.7 637.7,150.6 637.2,150.7 636.7,150.8 636.2,150.8 635.7,150.7 635.2,150.6 634.7,150.6 634.2,150.8 633.7,150.9 633.2,151.0 632.7,150.8 632.2,150.6 631.7,150.6 631.1,150.7 630.6,150.8 630.1,150.9 629.6,150.8 629.1,150.8 628.6,150.6 628.1,150.6 627.6,150.8 627.1,150.9 626.6,150.8 626.1,150.8 625.6,150.6 625.1,150.6 624.6,150.8 624.1,150.9 623.6,151.0 623.1,150.9 622.6,150.8 622.1,150.6 621.6,150.6 621.1,150.8 620.6,151.0 620.1,151.0 619.6,151.0 619.1,150.9 618.6,150.6 618.1,150.7 617.6,150.9 617.1,151.1 616.6,151.1 616.1,150.9 615.6,150.7 615.1,150.6 614.6,150.7 614.1,150.8 613.6,150.8 613.1,150.9 612.6,150.8 612.1,150.7 611.6,150.6 611.1,150.6 610.6,150.8 610.1,150.9 609.6,150.9 609.1,150.8 608.6,150.6 608.1,150.7 607.6,151.1 607.1,151.2 606.6,151.1 606.1,150.7 605.6,150.6 605.0,151.0 604.5,151.5 604.0,151.8 603.5,151.9 603.0,151.8 602.5,151.3 602.0,151.2 601.5,151.9 601.0,152.1 600.5,152.6 600.0,152.7 599.5,152.5 599.0,152.1 598.5,151.5 598.0,151.7 597.5,153.2 597.0,154.0 596.5,153.7 596.0,153.2 595.5,152.1 595.0,152.3 594.5,153.7 594.0,155.0 593.5,154.9 593.0,154.3 592.5,153.7 592.0,154.6 591.5,154.7 591.0,154.4 590.5,155.2 590.0,155.5 589.5,155.5 589.0,158.6 588.5,158.0 588.0,159.0 587.5,157.2 587.0,157.5 586.5,160.8 586.0,158.7 585.5,159.3 585.0,160.2 584.5,160.1 584.0,163.7 583.5,164.6 583.0,161.0 582.5,160.9 582.0,163.2 581.5,163.8 581.0,161.5 580.5,163.9 580.0,164.4 579.5,162.7 579.0,165.4 578.4,165.9 577.9,163.2 577.4,167.7 576.9,168.5 576.4,169.2 575.9,171.3 575.4,169.2 574.9,168.6 574.4,165.8 573.9,161.5 573.4,160.7 572.9,160.8 572.4,160.1 571.9,157.8 571.4,159.1 570.9,157.7 570.4,157.6 569.9,158.9 569.4,158.5 568.9,156.5 568.4,152.9 567.9,154.5 567.4,155.1 566.9,155.5 566.4,155.2 565.9,154.3 565.4,153.2 564.9,152.0 564.4,152.1 563.9,152.8 563.4,153.3 562.9,152.9 562.4,151.7 561.9,151.8 561.4,152.6 560.9,153.0 560.4,153.3 559.9,153.5 559.4,153.0 558.9,152.5 558.4,151.6 557.9,151.3 557.4,152.0 556.9,153.5 556.4,153.2 555.9,152.3 555.4,151.9 554.9,151.3 554.4,151.8 553.9,152.6 553.4,153.5 552.9,153.3 552.4,152.7 551.8,151.6 551.3,151.2 550.8,151.9 550.3,152.4 549.8,152.4 549.3,152.5 548.8,152.4 548.3,152.1 547.8,151.7 547.3,151.2 546.8,151.1 546.3,151.5 545.8,151.7 545.3,151.6 544.8,151.4 544.3,151.1 543.8,151.5 543.3,152.6 542.8,153.0 542.3,152.5 541.8,151.5 541.3,151.1 540.8,151.6 540.3,151.9 539.8,152.0 539.3,151.9 538.8,151.8 538.3,151.3 537.8,150.8 Z" fill="#fcc8cc" stroke="none"/>
<line x1="512.7" y1="150.3" x2="680.0" y2="150.3" stroke="#fb8a8a" stroke-width="1.6"/>
<path d="M537.8,149.9 538.3,149.4 538.8,148.9 539.3,148.7 539.8,148.7 540.3,148.8 540.8,149.2 541.3,149.7 541.8,149.3 542.3,148.3 542.8,148.1 543.3,148.3 543.8,149.1 544.3,149.6 544.8,149.0 545.3,148.7 545.8,148.7 546.3,149.1 546.8,149.5 547.3,149.5 547.8,148.9 548.3,148.5 548.8,148.4 549.3,148.1 549.8,148.3 550.3,148.5 550.8,149.0 551.3,149.5 551.8,149.1 552.4,148.0 552.9,147.2 553.4,146.9 553.9,148.1 554.4,149.0 554.9,149.4 555.4,148.8 555.9,148.5 556.4,148.4 556.9,148.2 557.4,147.9 557.9,149.4 558.4,149.3 558.9,148.4 559.4,147.9 559.9,147.5 560.4,147.5 560.9,147.6 561.4,148.3 561.9,149.2 562.4,148.9 562.9,147.9 563.4,147.3 563.9,147.4 564.4,148.6 564.9,148.8 565.4,147.3 565.9,146.6 566.4,145.9 566.9,145.4 567.4,145.8 567.9,146.6 568.4,147.4 568.9,142.3 569.4,142.9 569.9,142.4 570.4,144.1 570.9,143.8 571.4,141.9 571.9,143.7 572.4,142.4 572.9,141.2 573.4,141.6 573.9,140.2 574.4,137.7 574.9,133.5 575.4,132.3 575.9,130.3 576.4,132.3 576.9,135.0 577.4,135.6 577.9,137.7 578.4,133.5 579.0,132.1 579.5,137.0 580.0,136.3 580.5,137.2 581.0,137.7 581.5,134.3 582.0,135.6 582.5,139.2 583.0,139.8 583.5,136.5 584.0,137.6 584.5,140.5 585.0,139.7 585.5,140.4 586.0,141.9 586.5,140.1 587.0,142.7 587.5,142.6 588.0,141.6 588.5,142.2 589.0,141.2 589.5,144.9 590.0,145.0 590.5,145.3 591.0,146.3 591.5,145.7 592.0,146.7 592.5,148.2 593.0,146.4 593.5,146.0 594.0,145.8 594.5,146.8 595.0,148.5 595.5,148.6 596.0,147.2 596.5,146.0 597.0,146.0 597.5,147.7 598.0,148.8 598.5,149.3 599.0,148.5 599.5,148.2 600.0,148.0 600.5,148.0 601.0,148.5 601.5,148.8 602.0,149.5 602.5,149.5 603.0,149.0 603.5,148.8 604.0,149.0 604.5,149.3 605.0,149.7 605.6,150.1 606.1,150.0 606.6,149.7 607.1,149.7 607.6,149.8 608.1,150.0 608.6,150.1 609.1,149.9 609.6,149.8 610.1,149.9 610.6,150.0 611.1,150.1 611.6,150.2 612.1,150.0 612.6,150.0 613.1,149.9 613.6,149.9 614.1,150.0 614.6,150.1 615.1,150.2 615.6,150.0 616.1,149.8 616.6,149.7 617.1,149.7 617.6,149.8 618.1,150.1 618.6,150.1 619.1,149.9 619.6,149.8 620.1,149.8 620.6,149.8 621.1,149.9 621.6,150.1 622.1,150.1 622.6,150.0 623.1,149.9 623.6,149.9 624.1,149.9 624.6,150.0 625.1,150.1 625.6,150.1 626.1,149.9 626.6,149.9 627.1,149.9 627.6,150.0 628.1,150.1 628.6,150.1 629.1,150.0 629.6,149.9 630.1,149.9 630.6,149.9 631.1,150.0 631.7,150.1 632.2,150.1 632.7,149.9 633.2,149.8 633.7,149.8 634.2,149.9 634.7,150.1 635.2,150.1 635.7,150.0 636.2,149.9 636.7,149.9 637.2,149.9 637.7,150.1 638.2,150.0 638.7,149.7 639.2,149.8 639.7,150.0 640.2,150.1 640.7,150.0 641.2,149.9 641.7,149.9 642.2,149.8 642.7,149.9 643.2,150.0 643.7,150.2 644.2,150.1 644.7,150.0 645.2,149.9 645.7,150.1 646.2,150.1 646.7,149.9 647.2,149.8 647.7,149.8 648.2,149.9 648.7,150.1 649.2,150.1 649.7,149.8 650.2,149.8 650.7,149.9 651.2,150.1 651.7,150.1 652.2,149.9 652.7,149.8 653.2,149.8 653.7,149.9 654.2,150.0 654.7,150.1 655.2,150.2 655.7,150.0 656.2,150.0 656.7,150.2 657.2,150.2 657.7,150.0 658.3,150.0 658.8,150.0 659.3,150.0 659.8,150.2 660.3,150.1 660.8,150.0 661.3,149.8 661.8,149.9 662.3,149.9 662.8,150.1 663.3,150.1 663.8,150.0 664.3,150.0 664.8,150.1 665.3,150.2 665.8,150.0 666.3,149.9 666.8,149.8 667.3,149.8 667.8,149.9 668.3,150.0 668.8,150.1 669.3,150.2 669.8,150.1 670.3,150.0 670.8,150.0 671.3,150.0 671.8,150.0 672.3,150.2" fill="none" stroke="#fa1c1c" stroke-width="0.95" stroke-linejoin="round"/>
<path d="M537.8,150.8 538.3,151.3 538.8,151.8 539.3,151.9 539.8,152.0 540.3,151.9 540.8,151.6 541.3,151.1 541.8,151.5 542.3,152.5 542.8,153.0 543.3,152.6 543.8,151.5 544.3,151.1 544.8,151.4 545.3,151.6 545.8,151.7 546.3,151.5 546.8,151.1 547.3,151.2 547.8,151.7 548.3,152.1 548.8,152.4 549.3,152.5 549.8,152.4 550.3,152.4 550.8,151.9 551.3,151.2 551.8,151.6 552.4,152.7 552.9,153.3 553.4,153.5 553.9,152.6 554.4,151.8 554.9,151.3 555.4,151.9 555.9,152.3 556.4,153.2 556.9,153.5 557.4,152.0 557.9,151.3 558.4,151.6 558.9,152.5 559.4,153.0 559.9,153.5 560.4,153.3 560.9,153.0 561.4,152.6 561.9,151.8 562.4,151.7 562.9,152.9 563.4,153.3 563.9,152.8 564.4,152.1 564.9,152.0 565.4,153.2 565.9,154.3 566.4,155.2 566.9,155.5 567.4,155.1 567.9,154.5 568.4,152.9 568.9,156.5 569.4,158.5 569.9,158.9 570.4,157.6 570.9,157.7 571.4,159.1 571.9,157.8 572.4,160.1 572.9,160.8 573.4,160.7 573.9,161.5 574.4,165.8 574.9,168.6 575.4,169.2 575.9,171.3 576.4,169.2 576.9,168.5 577.4,167.7 577.9,163.2 578.4,165.9 579.0,165.4 579.5,162.7 580.0,164.4 580.5,163.9 581.0,161.5 581.5,163.8 582.0,163.2 582.5,160.9 583.0,161.0 583.5,164.6 584.0,163.7 584.5,160.1 585.0,160.2 585.5,159.3 586.0,158.7 586.5,160.8 587.0,157.5 587.5,157.2 588.0,159.0 588.5,158.0 589.0,158.6 589.5,155.5 590.0,155.5 590.5,155.2 591.0,154.4 591.5,154.7 592.0,154.6 592.5,153.7 593.0,154.3 593.5,154.9 594.0,155.0 594.5,153.7 595.0,152.3 595.5,152.1 596.0,153.2 596.5,153.7 597.0,154.0 597.5,153.2 598.0,151.7 598.5,151.5 599.0,152.1 599.5,152.5 600.0,152.7 600.5,152.6 601.0,152.1 601.5,151.9 602.0,151.2 602.5,151.3 603.0,151.8 603.5,151.9 604.0,151.8 604.5,151.5 605.0,151.0 605.6,150.6 606.1,150.7 606.6,151.1 607.1,151.2 607.6,151.1 608.1,150.7 608.6,150.6 609.1,150.8 609.6,150.9 610.1,150.9 610.6,150.8 611.1,150.6 611.6,150.6 612.1,150.7 612.6,150.8 613.1,150.9 613.6,150.8 614.1,150.8 614.6,150.7 615.1,150.6 615.6,150.7 616.1,150.9 616.6,151.1 617.1,151.1 617.6,150.9 618.1,150.7 618.6,150.6 619.1,150.9 619.6,151.0 620.1,151.0 620.6,151.0 621.1,150.8 621.6,150.6 622.1,150.6 622.6,150.8 623.1,150.9 623.6,151.0 624.1,150.9 624.6,150.8 625.1,150.6 625.6,150.6 626.1,150.8 626.6,150.8 627.1,150.9 627.6,150.8 628.1,150.6 628.6,150.6 629.1,150.8 629.6,150.8 630.1,150.9 630.6,150.8 631.1,150.7 631.7,150.6 632.2,150.6 632.7,150.8 633.2,151.0 633.7,150.9 634.2,150.8 634.7,150.6 635.2,150.6 635.7,150.7 636.2,150.8 636.7,150.8 637.2,150.7 637.7,150.6 638.2,150.7 638.7,150.9 639.2,150.9 639.7,150.7 640.2,150.6 640.7,150.7 641.2,150.8 641.7,150.8 642.2,150.8 642.7,150.8 643.2,150.7 643.7,150.5 644.2,150.6 644.7,150.8 645.2,150.8 645.7,150.6 646.2,150.6 646.7,150.8 647.2,150.8 647.7,150.8 648.2,150.7 648.7,150.6 649.2,150.7 649.7,150.9 650.2,151.1 650.7,150.9 651.2,150.6 651.7,150.6 652.2,150.8 652.7,151.0 653.2,151.0 653.7,151.0 654.2,150.9 654.7,150.6 655.2,150.6 655.7,150.7 656.2,150.8 656.7,150.6 657.2,150.5 657.7,150.7 658.3,150.7 658.8,150.7 659.3,150.7 659.8,150.5 660.3,150.6 660.8,150.8 661.3,150.8 661.8,150.8 662.3,150.7 662.8,150.6 663.3,150.6 663.8,150.7 664.3,150.7 664.8,150.6 665.3,150.6 665.8,150.8 666.3,150.9 666.8,150.9 667.3,150.9 667.8,150.9 668.3,150.8 668.8,150.6 669.3,150.6 669.8,150.7 670.3,150.8 670.8,150.8 671.3,150.8 671.8,150.8 672.3,150.5" fill="none" stroke="#fa1c1c" stroke-width="0.95" stroke-linejoin="round"/>
<line x1="578.8" y1="116.3" x2="578.8" y2="183.4" stroke="#888" stroke-width="0.6" stroke-dasharray="2.2,1"/>
<rect x="512.7" y="116.3" width="167.3" height="67.1" fill="none" stroke="#333" stroke-width="1.0"/>
<line x1="512.7" y1="183.4" x2="512.7" y2="181.6" stroke="#333" stroke-width="0.8"/>
<line x1="533.6" y1="183.4" x2="533.6" y2="181.6" stroke="#333" stroke-width="0.8"/>
<line x1="554.5" y1="183.4" x2="554.5" y2="181.6" stroke="#333" stroke-width="0.8"/>
<line x1="575.4" y1="183.4" x2="575.4" y2="181.6" stroke="#333" stroke-width="0.8"/>
<line x1="596.4" y1="183.4" x2="596.4" y2="181.6" stroke="#333" stroke-width="0.8"/>
<line x1="617.3" y1="183.4" x2="617.3" y2="181.6" stroke="#333" stroke-width="0.8"/>
<line x1="638.2" y1="183.4" x2="638.2" y2="181.6" stroke="#333" stroke-width="0.8"/>
<line x1="659.1" y1="183.4" x2="659.1" y2="181.6" stroke="#333" stroke-width="0.8"/>
<line x1="680.0" y1="183.4" x2="680.0" y2="181.6" stroke="#333" stroke-width="0.8"/>
<text x="512.7" y="191.9" font-size="8.1" text-anchor="middle">-10</text>
<text x="554.5" y="191.9" font-size="8.1" text-anchor="middle">-5</text>
<text x="596.4" y="191.9" font-size="8.1" text-anchor="middle">0</text>
<text x="638.2" y="191.9" font-size="8.1" text-anchor="middle">5</text>
<text x="680.0" y="191.9" font-size="8.1" text-anchor="middle">10</text>
<text x="600.35" y="201.00" font-size="8.6" text-anchor="middle">E-E<tspan font-size="6" dy="1.8">F</tspan><tspan dy="-1.8"> (eV)</tspan></text>
<text x="498.6" y="150.3" font-size="8.7" text-anchor="middle" transform="rotate(-90 498.6 150.35)">pDOS</text>
<text x="508.7" y="150.2" font-size="8.8" text-anchor="middle" transform="rotate(-90 508.70000000000005 150.15)">(electrons/eV)</text>
<text x="515.50" y="125.60" font-size="8.9" font-weight="bold">OH-CuO/PMS</text>
<text x="601.8" y="124.9" font-size="7.5" font-weight="bold">d-band center of Cu</text>
<text x="601.8" y="133.8" font-size="7.5" font-weight="bold" fill="#f33">-2.100 eV</text>
<path d="M345.6,242.8 346.1,242.2 346.6,241.7 347.1,241.5 347.6,241.3 348.1,241.4 348.6,241.5 349.1,242.0 349.6,242.6 350.1,242.4 350.6,241.7 351.1,241.4 351.6,241.8 352.1,242.4 352.6,242.3 353.1,241.8 353.6,241.6 354.1,242.3 354.6,242.7 355.1,242.3 355.6,242.1 356.1,241.9 356.6,241.7 357.1,241.9 357.6,242.1 358.1,242.2 358.6,242.6 359.1,242.4 359.6,241.5 360.2,241.3 360.7,241.4 361.2,242.2 361.7,242.4 362.2,241.7 362.7,241.0 363.2,241.0 363.7,241.2 364.2,241.5 364.7,242.3 365.2,242.3 365.7,241.4 366.2,240.7 366.7,242.4 367.2,242.2 367.7,241.3 368.2,241.1 368.7,240.7 369.2,240.7 369.7,241.1 370.2,242.0 370.7,242.1 371.2,241.0 371.7,240.0 372.2,239.4 372.7,239.2 373.2,238.7 373.7,239.5 374.2,239.4 374.7,240.6 375.2,239.0 375.7,237.5 376.2,237.3 376.7,235.1 377.2,234.6 377.7,236.7 378.2,236.6 378.7,236.5 379.2,236.7 379.7,235.7 380.2,236.0 380.7,236.4 381.2,234.1 381.7,234.8 382.2,232.2 382.7,226.1 383.2,226.3 383.7,224.4 384.2,226.3 384.7,231.3 385.2,228.5 385.7,231.5 386.2,230.8 386.8,230.2 387.3,231.8 387.8,229.7 388.3,230.3 388.8,232.6 389.3,231.8 389.8,229.3 390.3,232.5 390.8,232.3 391.3,229.9 391.8,233.2 392.3,232.4 392.8,229.9 393.3,230.0 393.8,233.0 394.3,235.8 394.8,236.2 395.3,236.5 395.8,236.9 396.3,237.1 396.8,238.6 397.3,238.2 397.8,238.3 398.3,239.5 398.8,239.2 399.3,239.5 399.8,238.8 400.3,239.0 400.8,241.1 401.3,239.6 401.8,238.2 402.3,238.4 402.8,241.5 403.3,242.1 403.8,241.4 404.3,240.8 404.8,240.9 405.3,241.1 405.8,241.5 406.3,242.3 406.8,242.0 407.3,240.6 407.8,241.5 408.3,242.0 408.8,241.7 409.3,241.7 409.8,241.5 410.3,241.9 410.8,242.6 411.3,242.6 411.8,242.2 412.3,242.2 412.8,242.3 413.4,242.8 413.9,242.8 414.4,243.1 414.9,243.1 415.4,242.8 415.9,242.8 416.4,242.7 416.9,242.8 417.4,243.1 417.9,243.1 418.4,242.9 418.9,242.8 419.4,242.7 419.9,242.8 420.4,242.9 420.9,243.1 421.4,243.1 421.9,242.9 422.4,242.8 422.9,242.8 423.4,243.0 423.9,243.1 424.4,243.1 424.9,242.9 425.4,242.8 425.9,242.7 426.4,242.7 426.9,242.9 427.4,243.1 427.9,243.1 428.4,242.9 428.9,242.8 429.4,242.8 429.9,243.1 430.4,243.1 430.9,243.0 431.4,242.9 431.9,242.9 432.4,243.0 432.9,243.1 433.4,243.1 433.9,243.0 434.4,243.0 434.9,243.1 435.4,243.0 435.9,242.8 436.4,242.8 436.9,243.0 437.4,243.1 437.9,242.8 438.4,242.8 438.9,243.0 439.5,243.1 440.0,242.9 440.5,242.8 441.0,242.8 441.5,242.9 442.0,243.1 442.5,243.2 443.0,243.0 443.5,243.0 444.0,242.9 444.5,243.0 445.0,243.0 445.5,243.2 446.0,243.1 446.5,242.9 447.0,242.9 447.5,242.8 448.0,242.7 448.5,242.8 449.0,243.0 449.5,243.1 450.0,243.2 450.5,243.0 451.0,243.0 451.5,242.9 452.0,243.0 452.5,243.0 453.0,243.2 453.5,243.2 454.0,243.0 454.5,243.0 455.0,243.0 455.5,243.2 456.0,243.1 456.5,242.9 457.0,242.8 457.5,242.8 458.0,243.1 458.5,243.1 459.0,243.0 459.5,242.9 460.0,242.9 460.5,242.9 461.0,243.0 461.5,243.1 462.0,243.1 462.5,243.0 463.0,242.9 463.5,243.1 464.0,243.2 464.5,243.0 465.0,242.9 465.5,242.9 466.1,243.0 466.6,243.0 467.1,243.2 467.6,243.1 468.1,243.0 468.6,242.9 469.1,243.1 469.6,243.1 470.1,243.0 470.6,242.9 471.1,243.1 471.6,243.2 472.1,243.1 472.6,243.0 473.1,243.0 473.6,243.1 474.1,243.2 474.6,243.2 475.1,243.1 475.6,243.0 476.1,243.0 476.6,243.0 477.1,243.1 477.6,243.2 478.1,243.2 478.6,243.0 479.1,243.0 479.6,243.1 480.1,243.2 480.1,243.5 479.6,243.7 479.1,243.8 478.6,243.7 478.1,243.6 477.6,243.5 477.1,243.7 476.6,243.7 476.1,243.8 475.6,243.7 475.1,243.7 474.6,243.5 474.1,243.5 473.6,243.7 473.1,243.7 472.6,243.7 472.1,243.7 471.6,243.5 471.1,243.6 470.6,243.8 470.1,243.9 469.6,243.7 469.1,243.6 468.6,243.8 468.1,243.8 467.6,243.6 467.1,243.6 466.6,243.7 466.1,243.9 465.5,243.9 465.0,243.9 464.5,243.7 464.0,243.6 463.5,243.6 463.0,243.8 462.5,243.8 462.0,243.6 461.5,243.6 461.0,243.7 460.5,243.8 460.0,243.9 459.5,243.8 459.0,243.7 458.5,243.6 458.0,243.7 457.5,243.9 457.0,244.0 456.5,243.9 456.0,243.7 455.5,243.5 455.0,243.7 454.5,243.7 454.0,243.7 453.5,243.5 453.0,243.6 452.5,243.7 452.0,243.8 451.5,243.8 451.0,243.9 450.5,243.7 450.0,243.6 449.5,243.6 449.0,243.8 448.5,244.0 448.0,244.0 447.5,244.1 447.0,243.9 446.5,243.8 446.0,243.6 445.5,243.5 445.0,243.7 444.5,243.7 444.0,243.7 443.5,243.7 443.0,243.7 442.5,243.5 442.0,243.7 441.5,244.0 441.0,244.1 440.5,244.1 440.0,243.9 439.5,243.7 438.9,243.8 438.4,244.1 437.9,244.1 437.4,243.7 436.9,243.7 436.4,243.9 435.9,243.9 435.4,243.7 434.9,243.6 434.4,243.8 433.9,243.8 433.4,243.6 432.9,243.6 432.4,243.7 431.9,243.8 431.4,243.8 430.9,243.7 430.4,243.6 429.9,243.6 429.4,243.8 428.9,243.9 428.4,243.8 427.9,243.6 427.4,243.6 426.9,243.8 426.4,244.0 425.9,244.0 425.4,243.9 424.9,243.8 424.4,243.6 423.9,243.6 423.4,243.8 422.9,243.9 422.4,243.9 421.9,243.8 421.4,243.6 420.9,243.6 420.4,243.9 419.9,244.0 419.4,244.0 418.9,244.0 418.4,243.9 417.9,243.7 417.4,243.7 416.9,244.0 416.4,244.1 415.9,244.1 415.4,243.9 414.9,243.7 414.4,243.7 413.9,243.9 413.4,244.1 412.8,244.6 412.3,244.6 411.8,244.6 411.3,244.2 410.8,244.3 410.3,244.9 409.8,245.3 409.3,245.2 408.8,244.5 408.3,244.4 407.8,245.2 407.3,245.1 406.8,244.6 406.3,244.6 405.8,245.7 405.3,246.2 404.8,246.5 404.3,246.7 403.8,245.8 403.3,244.9 402.8,245.1 402.3,246.8 401.8,246.9 401.3,248.3 400.8,245.8 400.3,247.6 399.8,247.8 399.3,247.0 398.8,247.2 398.3,247.1 397.8,248.2 397.3,248.4 396.8,247.9 396.3,249.5 395.8,250.0 395.3,250.2 394.8,250.4 394.3,250.8 393.8,253.1 393.3,251.9 392.8,252.9 392.3,253.3 391.8,253.8 391.3,258.3 390.8,254.9 390.3,254.8 389.8,258.2 389.3,255.7 388.8,254.3 388.3,257.2 387.8,258.1 387.3,255.2 386.8,257.2 386.2,257.0 385.7,256.3 385.2,258.7 384.7,257.0 384.2,262.2 383.7,264.4 383.2,262.2 382.7,261.9 382.2,256.0 381.7,254.0 381.2,259.2 380.7,253.6 380.2,252.0 379.7,252.0 379.2,251.4 378.7,251.6 378.2,252.9 377.7,252.4 377.2,252.2 376.7,251.6 376.2,249.9 375.7,250.8 375.2,248.7 374.7,245.4 374.2,246.5 373.7,247.2 373.2,247.2 372.7,247.2 372.2,247.1 371.7,246.2 371.2,245.4 370.7,244.6 370.2,244.8 369.7,246.0 369.2,246.3 368.7,246.8 368.2,247.0 367.7,246.0 367.2,244.5 366.7,244.5 366.2,245.2 365.7,245.0 365.2,244.5 364.7,245.1 364.2,245.7 363.7,246.0 363.2,246.1 362.7,245.8 362.2,245.2 361.7,244.4 361.2,244.4 360.7,245.1 360.2,245.3 359.6,244.9 359.1,244.3 358.6,244.1 358.1,244.5 357.6,244.9 357.1,245.0 356.6,245.0 356.1,245.0 355.6,244.7 355.1,244.4 354.6,244.1 354.1,244.3 353.6,244.8 353.1,245.0 352.6,244.3 352.1,244.3 351.6,244.9 351.1,245.2 350.6,244.8 350.1,244.3 349.6,244.2 349.1,244.9 348.6,245.2 348.1,245.4 347.6,245.4 347.1,245.4 346.6,245.2 346.1,244.6 345.6,243.9 Z" fill="#fdd7a8" stroke="none"/>
<line x1="320.5" y1="243.4" x2="487.8" y2="243.4" stroke="#fbb860" stroke-width="1.6"/>
<path d="M345.6,242.8 346.1,242.2 346.6,241.7 347.1,241.5 347.6,241.3 348.1,241.4 348.6,241.5 349.1,242.0 349.6,242.6 350.1,242.4 350.6,241.7 351.1,241.4 351.6,241.8 352.1,242.4 352.6,242.3 353.1,241.8 353.6,241.6 354.1,242.3 354.6,242.7 355.1,242.3 355.6,242.1 356.1,241.9 356.6,241.7 357.1,241.9 357.6,242.1 358.1,242.2 358.6,242.6 359.1,242.4 359.6,241.5 360.2,241.3 360.7,241.4 361.2,242.2 361.7,242.4 362.2,241.7 362.7,241.0 363.2,241.0 363.7,241.2 364.2,241.5 364.7,242.3 365.2,242.3 365.7,241.4 366.2,240.7 366.7,242.4 367.2,242.2 367.7,241.3 368.2,241.1 368.7,240.7 369.2,240.7 369.7,241.1 370.2,242.0 370.7,242.1 371.2,241.0 371.7,240.0 372.2,239.4 372.7,239.2 373.2,238.7 373.7,239.5 374.2,239.4 374.7,240.6 375.2,239.0 375.7,237.5 376.2,237.3 376.7,235.1 377.2,234.6 377.7,236.7 378.2,236.6 378.7,236.5 379.2,236.7 379.7,235.7 380.2,236.0 380.7,236.4 381.2,234.1 381.7,234.8 382.2,232.2 382.7,226.1 383.2,226.3 383.7,224.4 384.2,226.3 384.7,231.3 385.2,228.5 385.7,231.5 386.2,230.8 386.8,230.2 387.3,231.8 387.8,229.7 388.3,230.3 388.8,232.6 389.3,231.8 389.8,229.3 390.3,232.5 390.8,232.3 391.3,229.9 391.8,233.2 392.3,232.4 392.8,229.9 393.3,230.0 393.8,233.0 394.3,235.8 394.8,236.2 395.3,236.5 395.8,236.9 396.3,237.1 396.8,238.6 397.3,238.2 397.8,238.3 398.3,239.5 398.8,239.2 399.3,239.5 399.8,238.8 400.3,239.0 400.8,241.1 401.3,239.6 401.8,238.2 402.3,238.4 402.8,241.5 403.3,242.1 403.8,241.4 404.3,240.8 404.8,240.9 405.3,241.1 405.8,241.5 406.3,242.3 406.8,242.0 407.3,240.6 407.8,241.5 408.3,242.0 408.8,241.7 409.3,241.7 409.8,241.5 410.3,241.9 410.8,242.6 411.3,242.6 411.8,242.2 412.3,242.2 412.8,242.3 413.4,242.8 413.9,242.8 414.4,243.1 414.9,243.1 415.4,242.8 415.9,242.8 416.4,242.7 416.9,242.8 417.4,243.1 417.9,243.1 418.4,242.9 418.9,242.8 419.4,242.7 419.9,242.8 420.4,242.9 420.9,243.1 421.4,243.1 421.9,242.9 422.4,242.8 422.9,242.8 423.4,243.0 423.9,243.1 424.4,243.1 424.9,242.9 425.4,242.8 425.9,242.7 426.4,242.7 426.9,242.9 427.4,243.1 427.9,243.1 428.4,242.9 428.9,242.8 429.4,242.8 429.9,243.1 430.4,243.1 430.9,243.0 431.4,242.9 431.9,242.9 432.4,243.0 432.9,243.1 433.4,243.1 433.9,243.0 434.4,243.0 434.9,243.1 435.4,243.0 435.9,242.8 436.4,242.8 436.9,243.0 437.4,243.1 437.9,242.8 438.4,242.8 438.9,243.0 439.5,243.1 440.0,242.9 440.5,242.8 441.0,242.8 441.5,242.9 442.0,243.1 442.5,243.2 443.0,243.0 443.5,243.0 444.0,242.9 444.5,243.0 445.0,243.0 445.5,243.2 446.0,243.1 446.5,242.9 447.0,242.9 447.5,242.8 448.0,242.7 448.5,242.8 449.0,243.0 449.5,243.1 450.0,243.2 450.5,243.0 451.0,243.0 451.5,242.9 452.0,243.0 452.5,243.0 453.0,243.2 453.5,243.2 454.0,243.0 454.5,243.0 455.0,243.0 455.5,243.2 456.0,243.1 456.5,242.9 457.0,242.8 457.5,242.8 458.0,243.1 458.5,243.1 459.0,243.0 459.5,242.9 460.0,242.9 460.5,242.9 461.0,243.0 461.5,243.1 462.0,243.1 462.5,243.0 463.0,242.9 463.5,243.1 464.0,243.2 464.5,243.0 465.0,242.9 465.5,242.9 466.1,243.0 466.6,243.0 467.1,243.2 467.6,243.1 468.1,243.0 468.6,242.9 469.1,243.1 469.6,243.1 470.1,243.0 470.6,242.9 471.1,243.1 471.6,243.2 472.1,243.1 472.6,243.0 473.1,243.0 473.6,243.1 474.1,243.2 474.6,243.2 475.1,243.1 475.6,243.0 476.1,243.0 476.6,243.0 477.1,243.1 477.6,243.2 478.1,243.2 478.6,243.0 479.1,243.0 479.6,243.1 480.1,243.2" fill="none" stroke="#f99e2a" stroke-width="0.95" stroke-linejoin="round"/>
<path d="M345.6,243.9 346.1,244.6 346.6,245.2 347.1,245.4 347.6,245.4 348.1,245.4 348.6,245.2 349.1,244.9 349.6,244.2 350.1,244.3 350.6,244.8 351.1,245.2 351.6,244.9 352.1,244.3 352.6,244.3 353.1,245.0 353.6,244.8 354.1,244.3 354.6,244.1 355.1,244.4 355.6,244.7 356.1,245.0 356.6,245.0 357.1,245.0 357.6,244.9 358.1,244.5 358.6,244.1 359.1,244.3 359.6,244.9 360.2,245.3 360.7,245.1 361.2,244.4 361.7,244.4 362.2,245.2 362.7,245.8 363.2,246.1 363.7,246.0 364.2,245.7 364.7,245.1 365.2,244.5 365.7,245.0 366.2,245.2 366.7,244.5 367.2,244.5 367.7,246.0 368.2,247.0 368.7,246.8 369.2,246.3 369.7,246.0 370.2,244.8 370.7,244.6 371.2,245.4 371.7,246.2 372.2,247.1 372.7,247.2 373.2,247.2 373.7,247.2 374.2,246.5 374.7,245.4 375.2,248.7 375.7,250.8 376.2,249.9 376.7,251.6 377.2,252.2 377.7,252.4 378.2,252.9 378.7,251.6 379.2,251.4 379.7,252.0 380.2,252.0 380.7,253.6 381.2,259.2 381.7,254.0 382.2,256.0 382.7,261.9 383.2,262.2 383.7,264.4 384.2,262.2 384.7,257.0 385.2,258.7 385.7,256.3 386.2,257.0 386.8,257.2 387.3,255.2 387.8,258.1 388.3,257.2 388.8,254.3 389.3,255.7 389.8,258.2 390.3,254.8 390.8,254.9 391.3,258.3 391.8,253.8 392.3,253.3 392.8,252.9 393.3,251.9 393.8,253.1 394.3,250.8 394.8,250.4 395.3,250.2 395.8,250.0 396.3,249.5 396.8,247.9 397.3,248.4 397.8,248.2 398.3,247.1 398.8,247.2 399.3,247.0 399.8,247.8 400.3,247.6 400.8,245.8 401.3,248.3 401.8,246.9 402.3,246.8 402.8,245.1 403.3,244.9 403.8,245.8 404.3,246.7 404.8,246.5 405.3,246.2 405.8,245.7 406.3,244.6 406.8,244.6 407.3,245.1 407.8,245.2 408.3,244.4 408.8,244.5 409.3,245.2 409.8,245.3 410.3,244.9 410.8,244.3 411.3,244.2 411.8,244.6 412.3,244.6 412.8,244.6 413.4,244.1 413.9,243.9 414.4,243.7 414.9,243.7 415.4,243.9 415.9,244.1 416.4,244.1 416.9,244.0 417.4,243.7 417.9,243.7 418.4,243.9 418.9,244.0 419.4,244.0 419.9,244.0 420.4,243.9 420.9,243.6 421.4,243.6 421.9,243.8 422.4,243.9 422.9,243.9 423.4,243.8 423.9,243.6 424.4,243.6 424.9,243.8 425.4,243.9 425.9,244.0 426.4,244.0 426.9,243.8 427.4,243.6 427.9,243.6 428.4,243.8 428.9,243.9 429.4,243.8 429.9,243.6 430.4,243.6 430.9,243.7 431.4,243.8 431.9,243.8 432.4,243.7 432.9,243.6 433.4,243.6 433.9,243.8 434.4,243.8 434.9,243.6 435.4,243.7 435.9,243.9 436.4,243.9 436.9,243.7 437.4,243.7 437.9,244.1 438.4,244.1 438.9,243.8 439.5,243.7 440.0,243.9 440.5,244.1 441.0,244.1 441.5,244.0 442.0,243.7 442.5,243.5 443.0,243.7 443.5,243.7 444.0,243.7 444.5,243.7 445.0,243.7 445.5,243.5 446.0,243.6 446.5,243.8 447.0,243.9 447.5,244.1 448.0,244.0 448.5,244.0 449.0,243.8 449.5,243.6 450.0,243.6 450.5,243.7 451.0,243.9 451.5,243.8 452.0,243.8 452.5,243.7 453.0,243.6 453.5,243.5 454.0,243.7 454.5,243.7 455.0,243.7 455.5,243.5 456.0,243.7 456.5,243.9 457.0,244.0 457.5,243.9 458.0,243.7 458.5,243.6 459.0,243.7 459.5,243.8 460.0,243.9 460.5,243.8 461.0,243.7 461.5,243.6 462.0,243.6 462.5,243.8 463.0,243.8 463.5,243.6 464.0,243.6 464.5,243.7 465.0,243.9 465.5,243.9 466.1,243.9 466.6,243.7 467.1,243.6 467.6,243.6 468.1,243.8 468.6,243.8 469.1,243.6 469.6,243.7 470.1,243.9 470.6,243.8 471.1,243.6 471.6,243.5 472.1,243.7 472.6,243.7 473.1,243.7 473.6,243.7 474.1,243.5 474.6,243.5 475.1,243.7 475.6,243.7 476.1,243.8 476.6,243.7 477.1,243.7 477.6,243.5 478.1,243.6 478.6,243.7 479.1,243.8 479.6,243.7 480.1,243.5" fill="none" stroke="#f99e2a" stroke-width="0.95" stroke-linejoin="round"/>
<line x1="386.6" y1="209.4" x2="386.6" y2="276.3" stroke="#888" stroke-width="0.6" stroke-dasharray="2.2,1"/>
<rect x="320.5" y="209.4" width="167.3" height="66.9" fill="none" stroke="#333" stroke-width="1.0"/>
<line x1="320.5" y1="276.3" x2="320.5" y2="274.5" stroke="#333" stroke-width="0.8"/>
<line x1="341.4" y1="276.3" x2="341.4" y2="274.5" stroke="#333" stroke-width="0.8"/>
<line x1="362.3" y1="276.3" x2="362.3" y2="274.5" stroke="#333" stroke-width="0.8"/>
<line x1="383.2" y1="276.3" x2="383.2" y2="274.5" stroke="#333" stroke-width="0.8"/>
<line x1="404.1" y1="276.3" x2="404.1" y2="274.5" stroke="#333" stroke-width="0.8"/>
<line x1="425.1" y1="276.3" x2="425.1" y2="274.5" stroke="#333" stroke-width="0.8"/>
<line x1="446.0" y1="276.3" x2="446.0" y2="274.5" stroke="#333" stroke-width="0.8"/>
<line x1="466.9" y1="276.3" x2="466.9" y2="274.5" stroke="#333" stroke-width="0.8"/>
<line x1="487.8" y1="276.3" x2="487.8" y2="274.5" stroke="#333" stroke-width="0.8"/>
<text x="320.5" y="284.8" font-size="8.1" text-anchor="middle">-10</text>
<text x="362.3" y="284.8" font-size="8.1" text-anchor="middle">-5</text>
<text x="404.1" y="284.8" font-size="8.1" text-anchor="middle">0</text>
<text x="446.0" y="284.8" font-size="8.1" text-anchor="middle">5</text>
<text x="487.8" y="284.8" font-size="8.1" text-anchor="middle">10</text>
<text x="408.15" y="293.90" font-size="8.6" text-anchor="middle">E-E<tspan font-size="6" dy="1.8">F</tspan><tspan dy="-1.8"> (eV)</tspan></text>
<text x="306.4" y="243.4" font-size="8.7" text-anchor="middle" transform="rotate(-90 306.4 243.35000000000002)">pDOS</text>
<text x="316.5" y="243.2" font-size="8.8" text-anchor="middle" transform="rotate(-90 316.5 243.15000000000003)">(electrons/eV)</text>
<text x="326.50" y="221.40" font-size="8.9" font-weight="bold">O<tspan font-size="5.5" dy="1.5">v</tspan><tspan dy="-1.5">-CuO</tspan></text>
<text x="398.7" y="218.6" font-size="7.5" font-weight="bold">d-band center of Cu</text>
<text x="398.7" y="228.4" font-size="7.5" font-weight="bold" fill="#f33">-2.102 eV</text>
<path d="M537.8,242.9 538.3,242.4 538.8,242.1 539.3,242.0 539.8,242.2 540.3,242.7 540.8,242.7 541.3,242.4 541.8,242.1 542.3,242.2 542.8,242.3 543.3,242.7 543.8,242.5 544.3,241.9 544.8,241.5 545.3,241.5 545.8,241.9 546.3,242.4 546.8,242.7 547.3,242.1 547.8,241.8 548.3,241.7 548.8,241.6 549.3,241.9 549.8,242.0 550.3,242.6 550.8,242.6 551.3,242.1 551.8,241.6 552.4,240.8 552.9,240.3 553.4,241.1 553.9,240.8 554.4,240.4 554.9,242.0 555.4,242.5 555.9,242.3 556.4,241.7 556.9,241.2 557.4,241.7 557.9,242.4 558.4,242.4 558.9,241.6 559.4,240.8 559.9,240.2 560.4,241.2 560.9,241.5 561.4,242.2 561.9,242.5 562.4,241.9 562.9,241.4 563.4,241.3 563.9,240.9 564.4,240.9 564.9,241.2 565.4,241.5 565.9,242.1 566.4,239.9 566.9,238.6 567.4,239.2 567.9,239.0 568.4,237.7 568.9,237.4 569.4,235.9 569.9,237.3 570.4,237.8 570.9,237.5 571.4,237.5 571.9,237.2 572.4,237.3 572.9,237.0 573.4,234.6 573.9,233.8 574.4,227.8 574.9,228.1 575.4,227.2 575.9,225.4 576.4,227.2 576.9,231.4 577.4,231.8 577.9,231.8 578.4,227.3 579.0,226.7 579.5,230.8 580.0,232.0 580.5,229.2 581.0,229.3 581.5,232.9 582.0,230.6 582.5,231.3 583.0,233.1 583.5,233.4 584.0,234.1 584.5,232.6 585.0,235.0 585.5,235.5 586.0,234.5 586.5,236.4 587.0,237.1 587.5,236.1 588.0,237.8 588.5,238.1 589.0,237.7 589.5,238.9 590.0,238.6 590.5,237.1 591.0,238.9 591.5,239.8 592.0,239.5 592.5,240.2 593.0,241.6 593.5,240.6 594.0,240.6 594.5,241.8 595.0,242.2 595.5,241.5 596.0,241.0 596.5,240.5 597.0,242.2 597.5,242.1 598.0,241.5 598.5,241.1 599.0,241.5 599.5,242.3 600.0,242.3 600.5,241.8 601.0,241.7 601.5,241.6 602.0,242.1 602.5,242.7 603.0,242.5 603.5,242.0 604.0,242.2 604.5,242.8 605.0,243.0 605.6,242.9 606.1,242.9 606.6,242.9 607.1,243.1 607.6,243.1 608.1,243.0 608.6,243.0 609.1,243.1 609.6,243.1 610.1,242.9 610.6,242.9 611.1,243.1 611.6,243.1 612.1,242.9 612.6,242.9 613.1,242.8 613.6,242.8 614.1,242.9 614.6,243.1 615.1,243.2 615.6,243.0 616.1,243.0 616.6,242.9 617.1,242.9 617.6,242.9 618.1,243.0 618.6,243.2 619.1,243.2 619.6,243.0 620.1,243.0 620.6,242.9 621.1,243.0 621.6,243.0 622.1,243.2 622.6,243.1 623.1,242.8 623.6,242.8 624.1,243.0 624.6,243.2 625.1,243.1 625.6,243.0 626.1,242.9 626.6,242.9 627.1,243.0 627.6,243.1 628.1,243.2 628.6,243.1 629.1,243.0 629.6,242.9 630.1,242.9 630.6,242.9 631.1,243.1 631.7,243.1 632.2,243.0 632.7,242.9 633.2,242.9 633.7,243.0 634.2,243.2 634.7,243.1 635.2,242.9 635.7,242.9 636.2,242.9 636.7,242.9 637.2,243.1 637.7,243.2 638.2,243.1 638.7,243.0 639.2,243.0 639.7,243.0 640.2,243.1 640.7,243.2 641.2,243.1 641.7,243.0 642.2,243.0 642.7,243.1 643.2,243.1 643.7,242.9 644.2,242.8 644.7,242.9 645.2,243.1 645.7,243.1 646.2,243.0 646.7,242.9 647.2,243.0 647.7,243.1 648.2,243.1 648.7,243.0 649.2,242.9 649.7,242.9 650.2,243.0 650.7,243.1 651.2,243.1 651.7,243.0 652.2,242.9 652.7,242.9 653.2,243.1 653.7,243.2 654.2,243.1 654.7,243.0 655.2,243.0 655.7,243.2 656.2,243.2 656.7,243.1 657.2,243.0 657.7,243.0 658.3,243.1 658.8,243.2 659.3,243.2 659.8,243.0 660.3,243.0 660.8,242.9 661.3,243.0 661.8,243.2 662.3,243.1 662.8,242.9 663.3,242.9 663.8,242.9 664.3,243.1 664.8,243.1 665.3,242.9 665.8,242.8 666.3,242.9 666.8,243.0 667.3,243.1 667.8,243.2 668.3,243.1 668.8,243.1 669.3,243.1 669.8,243.2 670.3,243.2 670.8,243.0 671.3,243.0 671.8,243.2 672.3,243.3 672.3,243.5 671.8,243.5 671.3,243.7 670.8,243.7 670.3,243.6 669.8,243.5 669.3,243.7 668.8,243.7 668.3,243.7 667.8,243.5 667.3,243.6 666.8,243.7 666.3,243.8 665.8,243.9 665.3,243.7 664.8,243.6 664.3,243.6 663.8,243.8 663.3,243.9 662.8,243.8 662.3,243.6 661.8,243.6 661.3,243.8 660.8,243.9 660.3,243.9 659.8,243.8 659.3,243.6 658.8,243.5 658.3,243.7 657.7,243.7 657.2,243.7 656.7,243.7 656.2,243.6 655.7,243.6 655.2,243.7 654.7,243.7 654.2,243.7 653.7,243.6 653.2,243.6 652.7,243.8 652.2,243.9 651.7,243.8 651.2,243.6 650.7,243.6 650.2,243.8 649.7,243.9 649.2,243.9 648.7,243.9 648.2,243.6 647.7,243.6 647.2,243.8 646.7,243.9 646.2,243.9 645.7,243.7 645.2,243.6 644.7,243.8 644.2,243.9 643.7,243.9 643.2,243.6 642.7,243.6 642.2,243.8 641.7,243.8 641.2,243.6 640.7,243.6 640.2,243.7 639.7,243.7 639.2,243.8 638.7,243.7 638.2,243.7 637.7,243.5 637.2,243.6 636.7,243.8 636.2,244.0 635.7,244.0 635.2,243.9 634.7,243.6 634.2,243.6 633.7,243.7 633.2,243.8 632.7,243.9 632.2,243.7 631.7,243.6 631.1,243.6 630.6,243.8 630.1,244.0 629.6,243.9 629.1,243.9 628.6,243.6 628.1,243.6 627.6,243.8 627.1,243.8 626.6,243.9 626.1,243.9 625.6,243.9 625.1,243.8 624.6,243.6 624.1,243.7 623.6,244.0 623.1,244.0 622.6,243.7 622.1,243.6 621.6,243.7 621.1,243.8 620.6,243.9 620.1,243.8 619.6,243.7 619.1,243.6 618.6,243.6 618.1,243.7 617.6,243.8 617.1,243.8 616.6,243.9 616.1,243.8 615.6,243.7 615.1,243.6 614.6,243.6 614.1,243.8 613.6,243.9 613.1,244.0 612.6,243.9 612.1,243.8 611.6,243.6 611.1,243.7 610.6,243.9 610.1,243.9 609.6,243.7 609.1,243.7 608.6,243.8 608.1,243.8 607.6,243.7 607.1,243.6 606.6,243.8 606.1,243.9 605.6,243.8 605.0,243.7 604.5,244.0 604.0,244.8 603.5,245.1 603.0,244.6 602.5,244.3 602.0,244.8 601.5,245.5 601.0,245.3 600.5,245.2 600.0,244.5 599.5,244.4 599.0,245.1 598.5,245.3 598.0,245.1 597.5,244.5 597.0,244.6 596.5,245.4 596.0,245.9 595.5,245.7 595.0,244.8 594.5,245.0 594.0,246.4 593.5,246.4 593.0,245.3 592.5,246.6 592.0,247.3 591.5,247.1 591.0,247.6 590.5,250.6 590.0,249.3 589.5,248.3 589.0,249.7 588.5,248.8 588.0,251.6 587.5,251.4 587.0,249.5 586.5,250.6 586.0,252.9 585.5,251.8 585.0,251.6 584.5,254.0 584.0,252.6 583.5,253.6 583.0,254.0 582.5,256.1 582.0,257.0 581.5,255.5 581.0,259.1 580.5,260.3 580.0,255.9 579.5,256.8 579.0,260.9 578.4,261.1 577.9,257.8 577.4,258.3 576.9,258.6 576.4,262.2 575.9,264.4 575.4,262.2 574.9,262.6 574.4,256.3 573.9,254.1 573.4,255.4 572.9,252.2 572.4,251.7 571.9,251.6 571.4,250.7 570.9,254.2 570.4,252.3 569.9,251.9 569.4,249.9 568.9,249.6 568.4,250.3 567.9,248.8 567.4,248.7 566.9,249.4 566.4,248.0 565.9,245.1 565.4,245.9 564.9,246.3 564.4,246.9 563.9,246.3 563.4,246.3 562.9,245.9 562.4,245.2 561.9,244.4 561.4,244.6 560.9,245.4 560.4,245.7 559.9,245.9 559.4,245.7 558.9,245.2 558.4,244.5 557.9,244.4 557.4,245.2 556.9,245.3 556.4,245.1 555.9,244.4 555.4,244.4 554.9,245.2 554.4,245.6 553.9,245.9 553.4,245.9 552.9,246.2 552.4,245.8 551.8,245.6 551.3,244.9 550.8,244.3 550.3,244.3 549.8,245.0 549.3,245.6 548.8,245.6 548.3,245.8 547.8,245.4 547.3,245.0 546.8,244.3 546.3,244.4 545.8,245.9 545.3,245.7 544.8,245.5 544.3,245.0 543.8,244.3 543.3,244.2 542.8,244.8 542.3,244.9 541.8,244.9 541.3,244.6 540.8,244.1 540.3,244.0 539.8,244.4 539.3,244.7 538.8,244.6 538.3,244.2 537.8,243.8 Z" fill="#fbc98b" stroke="none"/>
<line x1="512.7" y1="243.4" x2="680.0" y2="243.4" stroke="#f9a850" stroke-width="1.6"/>
<path d="M537.8,242.9 538.3,242.4 538.8,242.1 539.3,242.0 539.8,242.2 540.3,242.7 540.8,242.7 541.3,242.4 541.8,242.1 542.3,242.2 542.8,242.3 543.3,242.7 543.8,242.5 544.3,241.9 544.8,241.5 545.3,241.5 545.8,241.9 546.3,242.4 546.8,242.7 547.3,242.1 547.8,241.8 548.3,241.7 548.8,241.6 549.3,241.9 549.8,242.0 550.3,242.6 550.8,242.6 551.3,242.1 551.8,241.6 552.4,240.8 552.9,240.3 553.4,241.1 553.9,240.8 554.4,240.4 554.9,242.0 555.4,242.5 555.9,242.3 556.4,241.7 556.9,241.2 557.4,241.7 557.9,242.4 558.4,242.4 558.9,241.6 559.4,240.8 559.9,240.2 560.4,241.2 560.9,241.5 561.4,242.2 561.9,242.5 562.4,241.9 562.9,241.4 563.4,241.3 563.9,240.9 564.4,240.9 564.9,241.2 565.4,241.5 565.9,242.1 566.4,239.9 566.9,238.6 567.4,239.2 567.9,239.0 568.4,237.7 568.9,237.4 569.4,235.9 569.9,237.3 570.4,237.8 570.9,237.5 571.4,237.5 571.9,237.2 572.4,237.3 572.9,237.0 573.4,234.6 573.9,233.8 574.4,227.8 574.9,228.1 575.4,227.2 575.9,225.4 576.4,227.2 576.9,231.4 577.4,231.8 577.9,231.8 578.4,227.3 579.0,226.7 579.5,230.8 580.0,232.0 580.5,229.2 581.0,229.3 581.5,232.9 582.0,230.6 582.5,231.3 583.0,233.1 583.5,233.4 584.0,234.1 584.5,232.6 585.0,235.0 585.5,235.5 586.0,234.5 586.5,236.4 587.0,237.1 587.5,236.1 588.0,237.8 588.5,238.1 589.0,237.7 589.5,238.9 590.0,238.6 590.5,237.1 591.0,238.9 591.5,239.8 592.0,239.5 592.5,240.2 593.0,241.6 593.5,240.6 594.0,240.6 594.5,241.8 595.0,242.2 595.5,241.5 596.0,241.0 596.5,240.5 597.0,242.2 597.5,242.1 598.0,241.5 598.5,241.1 599.0,241.5 599.5,242.3 600.0,242.3 600.5,241.8 601.0,241.7 601.5,241.6 602.0,242.1 602.5,242.7 603.0,242.5 603.5,242.0 604.0,242.2 604.5,242.8 605.0,243.0 605.6,242.9 606.1,242.9 606.6,242.9 607.1,243.1 607.6,243.1 608.1,243.0 608.6,243.0 609.1,243.1 609.6,243.1 610.1,242.9 610.6,242.9 611.1,243.1 611.6,243.1 612.1,242.9 612.6,242.9 613.1,242.8 613.6,242.8 614.1,242.9 614.6,243.1 615.1,243.2 615.6,243.0 616.1,243.0 616.6,242.9 617.1,242.9 617.6,242.9 618.1,243.0 618.6,243.2 619.1,243.2 619.6,243.0 620.1,243.0 620.6,242.9 621.1,243.0 621.6,243.0 622.1,243.2 622.6,243.1 623.1,242.8 623.6,242.8 624.1,243.0 624.6,243.2 625.1,243.1 625.6,243.0 626.1,242.9 626.6,242.9 627.1,243.0 627.6,243.1 628.1,243.2 628.6,243.1 629.1,243.0 629.6,242.9 630.1,242.9 630.6,242.9 631.1,243.1 631.7,243.1 632.2,243.0 632.7,242.9 633.2,242.9 633.7,243.0 634.2,243.2 634.7,243.1 635.2,242.9 635.7,242.9 636.2,242.9 636.7,242.9 637.2,243.1 637.7,243.2 638.2,243.1 638.7,243.0 639.2,243.0 639.7,243.0 640.2,243.1 640.7,243.2 641.2,243.1 641.7,243.0 642.2,243.0 642.7,243.1 643.2,243.1 643.7,242.9 644.2,242.8 644.7,242.9 645.2,243.1 645.7,243.1 646.2,243.0 646.7,242.9 647.2,243.0 647.7,243.1 648.2,243.1 648.7,243.0 649.2,242.9 649.7,242.9 650.2,243.0 650.7,243.1 651.2,243.1 651.7,243.0 652.2,242.9 652.7,242.9 653.2,243.1 653.7,243.2 654.2,243.1 654.7,243.0 655.2,243.0 655.7,243.2 656.2,243.2 656.7,243.1 657.2,243.0 657.7,243.0 658.3,243.1 658.8,243.2 659.3,243.2 659.8,243.0 660.3,243.0 660.8,242.9 661.3,243.0 661.8,243.2 662.3,243.1 662.8,242.9 663.3,242.9 663.8,242.9 664.3,243.1 664.8,243.1 665.3,242.9 665.8,242.8 666.3,242.9 666.8,243.0 667.3,243.1 667.8,243.2 668.3,243.1 668.8,243.1 669.3,243.1 669.8,243.2 670.3,243.2 670.8,243.0 671.3,243.0 671.8,243.2 672.3,243.3" fill="none" stroke="#fb8a10" stroke-width="0.95" stroke-linejoin="round"/>
<path d="M537.8,243.8 538.3,244.2 538.8,244.6 539.3,244.7 539.8,244.4 540.3,244.0 540.8,244.1 541.3,244.6 541.8,244.9 542.3,244.9 542.8,244.8 543.3,244.2 543.8,244.3 544.3,245.0 544.8,245.5 545.3,245.7 545.8,245.9 546.3,244.4 546.8,244.3 547.3,245.0 547.8,245.4 548.3,245.8 548.8,245.6 549.3,245.6 549.8,245.0 550.3,244.3 550.8,244.3 551.3,244.9 551.8,245.6 552.4,245.8 552.9,246.2 553.4,245.9 553.9,245.9 554.4,245.6 554.9,245.2 555.4,244.4 555.9,244.4 556.4,245.1 556.9,245.3 557.4,245.2 557.9,244.4 558.4,244.5 558.9,245.2 559.4,245.7 559.9,245.9 560.4,245.7 560.9,245.4 561.4,244.6 561.9,244.4 562.4,245.2 562.9,245.9 563.4,246.3 563.9,246.3 564.4,246.9 564.9,246.3 565.4,245.9 565.9,245.1 566.4,248.0 566.9,249.4 567.4,248.7 567.9,248.8 568.4,250.3 568.9,249.6 569.4,249.9 569.9,251.9 570.4,252.3 570.9,254.2 571.4,250.7 571.9,251.6 572.4,251.7 572.9,252.2 573.4,255.4 573.9,254.1 574.4,256.3 574.9,262.6 575.4,262.2 575.9,264.4 576.4,262.2 576.9,258.6 577.4,258.3 577.9,257.8 578.4,261.1 579.0,260.9 579.5,256.8 580.0,255.9 580.5,260.3 581.0,259.1 581.5,255.5 582.0,257.0 582.5,256.1 583.0,254.0 583.5,253.6 584.0,252.6 584.5,254.0 585.0,251.6 585.5,251.8 586.0,252.9 586.5,250.6 587.0,249.5 587.5,251.4 588.0,251.6 588.5,248.8 589.0,249.7 589.5,248.3 590.0,249.3 590.5,250.6 591.0,247.6 591.5,247.1 592.0,247.3 592.5,246.6 593.0,245.3 593.5,246.4 594.0,246.4 594.5,245.0 595.0,244.8 595.5,245.7 596.0,245.9 596.5,245.4 597.0,244.6 597.5,244.5 598.0,245.1 598.5,245.3 599.0,245.1 599.5,244.4 600.0,244.5 600.5,245.2 601.0,245.3 601.5,245.5 602.0,244.8 602.5,244.3 603.0,244.6 603.5,245.1 604.0,244.8 604.5,244.0 605.0,243.7 605.6,243.8 606.1,243.9 606.6,243.8 607.1,243.6 607.6,243.7 608.1,243.8 608.6,243.8 609.1,243.7 609.6,243.7 610.1,243.9 610.6,243.9 611.1,243.7 611.6,243.6 612.1,243.8 612.6,243.9 613.1,244.0 613.6,243.9 614.1,243.8 614.6,243.6 615.1,243.6 615.6,243.7 616.1,243.8 616.6,243.9 617.1,243.8 617.6,243.8 618.1,243.7 618.6,243.6 619.1,243.6 619.6,243.7 620.1,243.8 620.6,243.9 621.1,243.8 621.6,243.7 622.1,243.6 622.6,243.7 623.1,244.0 623.6,244.0 624.1,243.7 624.6,243.6 625.1,243.8 625.6,243.9 626.1,243.9 626.6,243.9 627.1,243.8 627.6,243.8 628.1,243.6 628.6,243.6 629.1,243.9 629.6,243.9 630.1,244.0 630.6,243.8 631.1,243.6 631.7,243.6 632.2,243.7 632.7,243.9 633.2,243.8 633.7,243.7 634.2,243.6 634.7,243.6 635.2,243.9 635.7,244.0 636.2,244.0 636.7,243.8 637.2,243.6 637.7,243.5 638.2,243.7 638.7,243.7 639.2,243.8 639.7,243.7 640.2,243.7 640.7,243.6 641.2,243.6 641.7,243.8 642.2,243.8 642.7,243.6 643.2,243.6 643.7,243.9 644.2,243.9 644.7,243.8 645.2,243.6 645.7,243.7 646.2,243.9 646.7,243.9 647.2,243.8 647.7,243.6 648.2,243.6 648.7,243.9 649.2,243.9 649.7,243.9 650.2,243.8 650.7,243.6 651.2,243.6 651.7,243.8 652.2,243.9 652.7,243.8 653.2,243.6 653.7,243.6 654.2,243.7 654.7,243.7 655.2,243.7 655.7,243.6 656.2,243.6 656.7,243.7 657.2,243.7 657.7,243.7 658.3,243.7 658.8,243.5 659.3,243.6 659.8,243.8 660.3,243.9 660.8,243.9 661.3,243.8 661.8,243.6 662.3,243.6 662.8,243.8 663.3,243.9 663.8,243.8 664.3,243.6 664.8,243.6 665.3,243.7 665.8,243.9 666.3,243.8 666.8,243.7 667.3,243.6 667.8,243.5 668.3,243.7 668.8,243.7 669.3,243.7 669.8,243.5 670.3,243.6 670.8,243.7 671.3,243.7 671.8,243.5 672.3,243.5" fill="none" stroke="#fb8a10" stroke-width="0.95" stroke-linejoin="round"/>
<line x1="578.7" y1="209.4" x2="578.7" y2="276.3" stroke="#888" stroke-width="0.6" stroke-dasharray="2.2,1"/>
<rect x="512.7" y="209.4" width="167.3" height="66.9" fill="none" stroke="#333" stroke-width="1.0"/>
<line x1="512.7" y1="276.3" x2="512.7" y2="274.5" stroke="#333" stroke-width="0.8"/>
<line x1="533.6" y1="276.3" x2="533.6" y2="274.5" stroke="#333" stroke-width="0.8"/>
<line x1="554.5" y1="276.3" x2="554.5" y2="274.5" stroke="#333" stroke-width="0.8"/>
<line x1="575.4" y1="276.3" x2="575.4" y2="274.5" stroke="#333" stroke-width="0.8"/>
<line x1="596.4" y1="276.3" x2="596.4" y2="274.5" stroke="#333" stroke-width="0.8"/>
<line x1="617.3" y1="276.3" x2="617.3" y2="274.5" stroke="#333" stroke-width="0.8"/>
<line x1="638.2" y1="276.3" x2="638.2" y2="274.5" stroke="#333" stroke-width="0.8"/>
<line x1="659.1" y1="276.3" x2="659.1" y2="274.5" stroke="#333" stroke-width="0.8"/>
<line x1="680.0" y1="276.3" x2="680.0" y2="274.5" stroke="#333" stroke-width="0.8"/>
<text x="512.7" y="284.8" font-size="8.1" text-anchor="middle">-10</text>
<text x="554.5" y="284.8" font-size="8.1" text-anchor="middle">-5</text>
<text x="596.4" y="284.8" font-size="8.1" text-anchor="middle">0</text>
<text x="638.2" y="284.8" font-size="8.1" text-anchor="middle">5</text>
<text x="680.0" y="284.8" font-size="8.1" text-anchor="middle">10</text>
<text x="600.35" y="293.90" font-size="8.6" text-anchor="middle">E-E<tspan font-size="6" dy="1.8">F</tspan><tspan dy="-1.8"> (eV)</tspan></text>
<text x="498.6" y="243.4" font-size="8.7" text-anchor="middle" transform="rotate(-90 498.6 243.35000000000002)">pDOS</text>
<text x="508.7" y="243.2" font-size="8.8" text-anchor="middle" transform="rotate(-90 508.70000000000005 243.15000000000003)">(electrons/eV)</text>
<text x="515.00" y="217.90" font-size="8.9" font-weight="bold">O<tspan font-size="5.5" dy="1.5">v</tspan><tspan dy="-1.5">-CuO/PMS</tspan></text>
<text x="601.2" y="218.6" font-size="7.5" font-weight="bold">d-band center of Cu</text>
<text x="601.2" y="227.3" font-size="7.5" font-weight="bold" fill="#f33">-2.107 eV</text>
<path d="M345.6,338.2 346.1,337.8 346.6,337.4 347.1,337.2 347.6,337.1 348.1,336.8 348.6,336.7 349.1,337.6 349.6,338.0 350.1,337.8 350.6,337.1 351.1,336.6 351.6,336.6 352.1,336.5 352.6,336.5 353.1,337.0 353.6,337.8 354.1,337.9 354.6,337.5 355.1,337.1 355.6,336.8 356.1,336.8 356.6,336.6 357.1,337.0 357.6,337.2 358.1,337.8 358.6,337.6 359.1,336.8 359.6,336.7 360.2,336.9 360.7,337.5 361.2,337.9 361.7,337.5 362.2,337.1 362.7,337.0 363.2,336.8 363.7,337.1 364.2,337.2 364.7,337.5 365.2,337.9 365.7,337.3 366.2,336.3 366.7,336.2 367.2,336.5 367.7,337.4 368.2,337.4 368.7,336.7 369.2,336.5 369.7,337.3 370.2,337.0 370.7,335.7 371.2,335.8 371.7,336.7 372.2,337.0 372.7,335.4 373.2,335.0 373.7,335.3 374.2,336.7 374.7,334.0 375.2,333.9 375.7,334.6 376.2,333.5 376.7,333.1 377.2,333.8 377.7,332.5 378.2,332.4 378.7,332.0 379.2,331.7 379.7,331.0 380.2,329.2 380.7,330.1 381.2,329.5 381.7,330.1 382.2,328.1 382.7,323.5 383.2,321.5 383.7,319.6 384.2,321.5 384.7,326.7 385.2,326.8 385.7,323.3 386.2,318.7 386.8,325.9 387.3,326.1 387.8,326.4 388.3,327.5 388.8,325.5 389.3,325.6 389.8,320.5 390.3,326.1 390.8,328.6 391.3,327.3 391.8,329.2 392.3,328.1 392.8,326.9 393.3,329.3 393.8,330.7 394.3,329.2 394.8,331.6 395.3,332.5 395.8,331.3 396.3,332.0 396.8,333.6 397.3,333.5 397.8,332.5 398.3,333.9 398.8,333.9 399.3,333.0 399.8,334.7 400.3,336.2 400.8,333.7 401.3,333.2 401.8,334.9 402.3,336.7 402.8,337.1 403.3,336.1 403.8,335.3 404.3,335.4 404.8,334.9 405.3,335.6 405.8,336.3 406.3,337.3 406.8,337.6 407.3,337.0 407.8,336.8 408.3,337.0 408.8,337.5 409.3,337.1 409.8,337.0 410.3,337.0 410.8,337.2 411.3,337.9 411.8,338.1 412.3,337.8 412.8,338.0 413.4,338.2 413.9,338.4 414.4,338.3 414.9,338.1 415.4,338.0 415.9,338.1 416.4,338.3 416.9,338.3 417.4,338.1 417.9,338.1 418.4,338.3 418.9,338.3 419.4,338.0 419.9,338.0 420.4,338.3 420.9,338.3 421.4,338.1 421.9,337.9 422.4,338.1 422.9,338.3 423.4,338.3 423.9,338.0 424.4,337.9 424.9,338.0 425.4,338.3 425.9,338.3 426.4,338.2 426.9,338.1 427.4,338.2 427.9,338.4 428.4,338.3 428.9,338.1 429.4,338.1 429.9,338.3 430.4,338.3 430.9,338.0 431.4,338.0 431.9,338.3 432.4,338.4 432.9,338.2 433.4,338.2 433.9,338.3 434.4,338.4 434.9,338.4 435.4,338.2 435.9,338.1 436.4,338.0 436.9,338.0 437.4,338.1 437.9,338.2 438.4,338.4 438.9,338.3 439.5,338.2 440.0,338.1 440.5,338.3 441.0,338.3 441.5,338.1 442.0,338.0 442.5,338.1 443.0,338.3 443.5,338.4 444.0,338.2 444.5,338.2 445.0,338.1 445.5,338.2 446.0,338.4 446.5,338.4 447.0,338.3 447.5,338.3 448.0,338.2 448.5,338.3 449.0,338.4 449.5,338.3 450.0,338.1 450.5,338.0 451.0,338.1 451.5,338.3 452.0,338.3 452.5,338.0 453.0,338.2 453.5,338.4 454.0,338.2 454.5,338.1 455.0,338.0 455.5,338.1 456.0,338.2 456.5,338.4 457.0,338.3 457.5,338.2 458.0,338.1 458.5,338.2 459.0,338.4 459.5,338.4 460.0,338.3 460.5,338.2 461.0,338.1 461.5,338.1 462.0,338.2 462.5,338.4 463.0,338.4 463.5,338.4 464.0,338.3 464.5,338.3 465.0,338.3 465.5,338.3 466.1,338.5 466.6,338.4 467.1,338.3 467.6,338.2 468.1,338.2 468.6,338.2 469.1,338.3 469.6,338.4 470.1,338.4 470.6,338.2 471.1,338.1 471.6,338.1 472.1,338.2 472.6,338.4 473.1,338.4 473.6,338.2 474.1,338.4 474.6,338.4 475.1,338.2 475.6,338.1 476.1,338.4 476.6,338.4 477.1,338.3 477.6,338.2 478.1,338.2 478.6,338.3 479.1,338.4 479.6,338.4 480.1,338.4 480.1,338.8 479.6,338.8 479.1,338.8 478.6,339.0 478.1,339.1 477.6,339.1 477.1,339.0 476.6,338.8 476.1,338.9 475.6,339.2 475.1,339.2 474.6,339.0 474.1,338.9 473.6,339.1 473.1,338.9 472.6,338.9 472.1,339.1 471.6,339.2 471.1,339.2 470.6,339.1 470.1,338.9 469.6,338.8 469.1,339.0 468.6,339.1 468.1,339.2 467.6,339.1 467.1,339.0 466.6,338.8 466.1,338.8 465.5,338.9 465.0,338.9 464.5,338.9 464.0,339.0 463.5,338.9 463.0,338.8 462.5,338.9 462.0,339.0 461.5,339.2 461.0,339.2 460.5,339.2 460.0,339.1 459.5,338.9 459.0,338.9 458.5,339.1 458.0,339.2 457.5,339.0 457.0,338.9 456.5,338.8 456.0,339.0 455.5,339.1 455.0,339.1 454.5,339.1 454.0,339.0 453.5,338.8 453.0,339.0 452.5,339.2 452.0,339.0 451.5,338.9 451.0,339.2 450.5,339.3 450.0,339.1 449.5,338.9 449.0,338.8 448.5,338.9 448.0,338.9 447.5,338.9 447.0,338.9 446.5,338.8 446.0,338.9 445.5,339.1 445.0,339.2 444.5,339.2 444.0,339.1 443.5,338.9 443.0,338.9 442.5,339.1 442.0,339.2 441.5,339.1 441.0,338.9 440.5,338.9 440.0,339.2 439.5,339.1 438.9,338.9 438.4,338.9 437.9,339.1 437.4,339.3 436.9,339.4 436.4,339.3 435.9,339.2 435.4,339.1 434.9,338.9 434.4,338.9 433.9,339.0 433.4,339.0 432.9,339.0 432.4,338.9 431.9,338.9 431.4,339.2 430.9,339.2 430.4,338.9 429.9,338.9 429.4,339.1 428.9,339.1 428.4,338.9 427.9,338.9 427.4,339.0 426.9,339.1 426.4,339.0 425.9,338.9 425.4,338.9 424.9,339.1 424.4,339.3 423.9,339.2 423.4,338.9 422.9,338.9 422.4,339.1 421.9,339.2 421.4,339.1 420.9,338.9 420.4,339.0 419.9,339.3 419.4,339.2 418.9,339.0 418.4,338.9 417.9,339.1 417.4,339.1 416.9,338.9 416.4,338.9 415.9,339.2 415.4,339.2 414.9,339.2 414.4,338.9 413.9,338.9 413.4,339.1 412.8,339.3 412.3,339.4 411.8,339.2 411.3,339.4 410.8,340.2 410.3,340.7 409.8,341.3 409.3,340.0 408.8,339.7 408.3,340.6 407.8,341.0 407.3,340.7 406.8,339.8 406.3,339.9 405.8,340.9 405.3,341.3 404.8,341.8 404.3,342.3 403.8,342.0 403.3,341.3 402.8,340.2 402.3,340.6 401.8,342.2 401.3,342.7 400.8,342.6 400.3,340.7 399.8,342.6 399.3,343.7 398.8,343.3 398.3,343.5 397.8,345.2 397.3,344.1 396.8,343.3 396.3,344.7 395.8,344.9 395.3,344.0 394.8,345.6 394.3,347.7 393.8,346.7 393.3,347.4 392.8,350.1 392.3,348.5 391.8,348.3 391.3,350.8 390.8,349.0 390.3,352.2 389.8,352.5 389.3,349.9 388.8,352.5 388.3,350.4 387.8,351.9 387.3,352.2 386.8,351.9 386.2,355.1 385.7,352.8 385.2,351.5 384.7,351.8 384.2,357.5 383.7,359.6 383.2,357.5 382.7,354.6 382.2,351.1 381.7,349.2 381.2,350.6 380.7,352.7 380.2,347.7 379.7,346.2 379.2,347.4 378.7,347.4 378.2,347.4 377.7,346.9 377.2,344.8 376.7,345.5 376.2,345.0 375.7,343.6 375.2,344.2 374.7,343.8 374.2,340.9 373.7,342.3 373.2,342.7 372.7,341.8 372.2,340.6 371.7,340.8 371.2,342.2 370.7,341.9 370.2,340.6 369.7,340.1 369.2,341.0 368.7,340.8 368.2,340.0 367.7,339.9 367.2,340.7 366.7,341.0 366.2,340.9 365.7,339.9 365.2,339.4 364.7,339.7 364.2,340.0 363.7,340.1 363.2,340.1 362.7,340.2 362.2,340.0 361.7,339.7 361.2,339.3 360.7,339.9 360.2,340.8 359.6,341.0 359.1,340.5 358.6,340.3 358.1,339.7 357.6,340.2 357.1,340.7 356.6,340.7 356.1,341.0 355.6,340.9 355.1,340.6 354.6,340.7 354.1,339.6 353.6,339.6 353.1,340.3 352.6,340.7 352.1,341.0 351.6,341.2 351.1,340.8 350.6,340.3 350.1,339.5 349.6,339.3 349.1,339.6 348.6,340.6 348.1,340.5 347.6,340.1 347.1,340.1 346.6,339.9 346.1,339.5 345.6,339.0 Z" fill="#c1c3e0" stroke="none"/>
<line x1="320.5" y1="338.6" x2="487.8" y2="338.6" stroke="#b890e0" stroke-width="1.6"/>
<path d="M345.6,338.2 346.1,337.8 346.6,337.4 347.1,337.2 347.6,337.1 348.1,336.8 348.6,336.7 349.1,337.6 349.6,338.0 350.1,337.8 350.6,337.1 351.1,336.6 351.6,336.6 352.1,336.5 352.6,336.5 353.1,337.0 353.6,337.8 354.1,337.9 354.6,337.5 355.1,337.1 355.6,336.8 356.1,336.8 356.6,336.6 357.1,337.0 357.6,337.2 358.1,337.8 358.6,337.6 359.1,336.8 359.6,336.7 360.2,336.9 360.7,337.5 361.2,337.9 361.7,337.5 362.2,337.1 362.7,337.0 363.2,336.8 363.7,337.1 364.2,337.2 364.7,337.5 365.2,337.9 365.7,337.3 366.2,336.3 366.7,336.2 367.2,336.5 367.7,337.4 368.2,337.4 368.7,336.7 369.2,336.5 369.7,337.3 370.2,337.0 370.7,335.7 371.2,335.8 371.7,336.7 372.2,337.0 372.7,335.4 373.2,335.0 373.7,335.3 374.2,336.7 374.7,334.0 375.2,333.9 375.7,334.6 376.2,333.5 376.7,333.1 377.2,333.8 377.7,332.5 378.2,332.4 378.7,332.0 379.2,331.7 379.7,331.0 380.2,329.2 380.7,330.1 381.2,329.5 381.7,330.1 382.2,328.1 382.7,323.5 383.2,321.5 383.7,319.6 384.2,321.5 384.7,326.7 385.2,326.8 385.7,323.3 386.2,318.7 386.8,325.9 387.3,326.1 387.8,326.4 388.3,327.5 388.8,325.5 389.3,325.6 389.8,320.5 390.3,326.1 390.8,328.6 391.3,327.3 391.8,329.2 392.3,328.1 392.8,326.9 393.3,329.3 393.8,330.7 394.3,329.2 394.8,331.6 395.3,332.5 395.8,331.3 396.3,332.0 396.8,333.6 397.3,333.5 397.8,332.5 398.3,333.9 398.8,333.9 399.3,333.0 399.8,334.7 400.3,336.2 400.8,333.7 401.3,333.2 401.8,334.9 402.3,336.7 402.8,337.1 403.3,336.1 403.8,335.3 404.3,335.4 404.8,334.9 405.3,335.6 405.8,336.3 406.3,337.3 406.8,337.6 407.3,337.0 407.8,336.8 408.3,337.0 408.8,337.5 409.3,337.1 409.8,337.0 410.3,337.0 410.8,337.2 411.3,337.9 411.8,338.1 412.3,337.8 412.8,338.0 413.4,338.2 413.9,338.4 414.4,338.3 414.9,338.1 415.4,338.0 415.9,338.1 416.4,338.3 416.9,338.3 417.4,338.1 417.9,338.1 418.4,338.3 418.9,338.3 419.4,338.0 419.9,338.0 420.4,338.3 420.9,338.3 421.4,338.1 421.9,337.9 422.4,338.1 422.9,338.3 423.4,338.3 423.9,338.0 424.4,337.9 424.9,338.0 425.4,338.3 425.9,338.3 426.4,338.2 426.9,338.1 427.4,338.2 427.9,338.4 428.4,338.3 428.9,338.1 429.4,338.1 429.9,338.3 430.4,338.3 430.9,338.0 431.4,338.0 431.9,338.3 432.4,338.4 432.9,338.2 433.4,338.2 433.9,338.3 434.4,338.4 434.9,338.4 435.4,338.2 435.9,338.1 436.4,338.0 436.9,338.0 437.4,338.1 437.9,338.2 438.4,338.4 438.9,338.3 439.5,338.2 440.0,338.1 440.5,338.3 441.0,338.3 441.5,338.1 442.0,338.0 442.5,338.1 443.0,338.3 443.5,338.4 444.0,338.2 444.5,338.2 445.0,338.1 445.5,338.2 446.0,338.4 446.5,338.4 447.0,338.3 447.5,338.3 448.0,338.2 448.5,338.3 449.0,338.4 449.5,338.3 450.0,338.1 450.5,338.0 451.0,338.1 451.5,338.3 452.0,338.3 452.5,338.0 453.0,338.2 453.5,338.4 454.0,338.2 454.5,338.1 455.0,338.0 455.5,338.1 456.0,338.2 456.5,338.4 457.0,338.3 457.5,338.2 458.0,338.1 458.5,338.2 459.0,338.4 459.5,338.4 460.0,338.3 460.5,338.2 461.0,338.1 461.5,338.1 462.0,338.2 462.5,338.4 463.0,338.4 463.5,338.4 464.0,338.3 464.5,338.3 465.0,338.3 465.5,338.3 466.1,338.5 466.6,338.4 467.1,338.3 467.6,338.2 468.1,338.2 468.6,338.2 469.1,338.3 469.6,338.4 470.1,338.4 470.6,338.2 471.1,338.1 471.6,338.1 472.1,338.2 472.6,338.4 473.1,338.4 473.6,338.2 474.1,338.4 474.6,338.4 475.1,338.2 475.6,338.1 476.1,338.4 476.6,338.4 477.1,338.3 477.6,338.2 478.1,338.2 478.6,338.3 479.1,338.4 479.6,338.4 480.1,338.4" fill="none" stroke="#b27ee0" stroke-width="0.95" stroke-linejoin="round"/>
<path d="M345.6,339.0 346.1,339.5 346.6,339.9 347.1,340.1 347.6,340.1 348.1,340.5 348.6,340.6 349.1,339.6 349.6,339.3 350.1,339.5 350.6,340.3 351.1,340.8 351.6,341.2 352.1,341.0 352.6,340.7 353.1,340.3 353.6,339.6 354.1,339.6 354.6,340.7 355.1,340.6 355.6,340.9 356.1,341.0 356.6,340.7 357.1,340.7 357.6,340.2 358.1,339.7 358.6,340.3 359.1,340.5 359.6,341.0 360.2,340.8 360.7,339.9 361.2,339.3 361.7,339.7 362.2,340.0 362.7,340.2 363.2,340.1 363.7,340.1 364.2,340.0 364.7,339.7 365.2,339.4 365.7,339.9 366.2,340.9 366.7,341.0 367.2,340.7 367.7,339.9 368.2,340.0 368.7,340.8 369.2,341.0 369.7,340.1 370.2,340.6 370.7,341.9 371.2,342.2 371.7,340.8 372.2,340.6 372.7,341.8 373.2,342.7 373.7,342.3 374.2,340.9 374.7,343.8 375.2,344.2 375.7,343.6 376.2,345.0 376.7,345.5 377.2,344.8 377.7,346.9 378.2,347.4 378.7,347.4 379.2,347.4 379.7,346.2 380.2,347.7 380.7,352.7 381.2,350.6 381.7,349.2 382.2,351.1 382.7,354.6 383.2,357.5 383.7,359.6 384.2,357.5 384.7,351.8 385.2,351.5 385.7,352.8 386.2,355.1 386.8,351.9 387.3,352.2 387.8,351.9 388.3,350.4 388.8,352.5 389.3,349.9 389.8,352.5 390.3,352.2 390.8,349.0 391.3,350.8 391.8,348.3 392.3,348.5 392.8,350.1 393.3,347.4 393.8,346.7 394.3,347.7 394.8,345.6 395.3,344.0 395.8,344.9 396.3,344.7 396.8,343.3 397.3,344.1 397.8,345.2 398.3,343.5 398.8,343.3 399.3,343.7 399.8,342.6 400.3,340.7 400.8,342.6 401.3,342.7 401.8,342.2 402.3,340.6 402.8,340.2 403.3,341.3 403.8,342.0 404.3,342.3 404.8,341.8 405.3,341.3 405.8,340.9 406.3,339.9 406.8,339.8 407.3,340.7 407.8,341.0 408.3,340.6 408.8,339.7 409.3,340.0 409.8,341.3 410.3,340.7 410.8,340.2 411.3,339.4 411.8,339.2 412.3,339.4 412.8,339.3 413.4,339.1 413.9,338.9 414.4,338.9 414.9,339.2 415.4,339.2 415.9,339.2 416.4,338.9 416.9,338.9 417.4,339.1 417.9,339.1 418.4,338.9 418.9,339.0 419.4,339.2 419.9,339.3 420.4,339.0 420.9,338.9 421.4,339.1 421.9,339.2 422.4,339.1 422.9,338.9 423.4,338.9 423.9,339.2 424.4,339.3 424.9,339.1 425.4,338.9 425.9,338.9 426.4,339.0 426.9,339.1 427.4,339.0 427.9,338.9 428.4,338.9 428.9,339.1 429.4,339.1 429.9,338.9 430.4,338.9 430.9,339.2 431.4,339.2 431.9,338.9 432.4,338.9 432.9,339.0 433.4,339.0 433.9,339.0 434.4,338.9 434.9,338.9 435.4,339.1 435.9,339.2 436.4,339.3 436.9,339.4 437.4,339.3 437.9,339.1 438.4,338.9 438.9,338.9 439.5,339.1 440.0,339.2 440.5,338.9 441.0,338.9 441.5,339.1 442.0,339.2 442.5,339.1 443.0,338.9 443.5,338.9 444.0,339.1 444.5,339.2 445.0,339.2 445.5,339.1 446.0,338.9 446.5,338.8 447.0,338.9 447.5,338.9 448.0,338.9 448.5,338.9 449.0,338.8 449.5,338.9 450.0,339.1 450.5,339.3 451.0,339.2 451.5,338.9 452.0,339.0 452.5,339.2 453.0,339.0 453.5,338.8 454.0,339.0 454.5,339.1 455.0,339.1 455.5,339.1 456.0,339.0 456.5,338.8 457.0,338.9 457.5,339.0 458.0,339.2 458.5,339.1 459.0,338.9 459.5,338.9 460.0,339.1 460.5,339.2 461.0,339.2 461.5,339.2 462.0,339.0 462.5,338.9 463.0,338.8 463.5,338.9 464.0,339.0 464.5,338.9 465.0,338.9 465.5,338.9 466.1,338.8 466.6,338.8 467.1,339.0 467.6,339.1 468.1,339.2 468.6,339.1 469.1,339.0 469.6,338.8 470.1,338.9 470.6,339.1 471.1,339.2 471.6,339.2 472.1,339.1 472.6,338.9 473.1,338.9 473.6,339.1 474.1,338.9 474.6,339.0 475.1,339.2 475.6,339.2 476.1,338.9 476.6,338.8 477.1,339.0 477.6,339.1 478.1,339.1 478.6,339.0 479.1,338.8 479.6,338.8 480.1,338.8" fill="none" stroke="#b27ee0" stroke-width="0.95" stroke-linejoin="round"/>
<line x1="387.3" y1="304.4" x2="387.3" y2="371.8" stroke="#888" stroke-width="0.6" stroke-dasharray="2.2,1"/>
<rect x="320.5" y="304.4" width="167.3" height="67.4" fill="none" stroke="#333" stroke-width="1.0"/>
<line x1="320.5" y1="371.8" x2="320.5" y2="370.0" stroke="#333" stroke-width="0.8"/>
<line x1="341.4" y1="371.8" x2="341.4" y2="370.0" stroke="#333" stroke-width="0.8"/>
<line x1="362.3" y1="371.8" x2="362.3" y2="370.0" stroke="#333" stroke-width="0.8"/>
<line x1="383.2" y1="371.8" x2="383.2" y2="370.0" stroke="#333" stroke-width="0.8"/>
<line x1="404.1" y1="371.8" x2="404.1" y2="370.0" stroke="#333" stroke-width="0.8"/>
<line x1="425.1" y1="371.8" x2="425.1" y2="370.0" stroke="#333" stroke-width="0.8"/>
<line x1="446.0" y1="371.8" x2="446.0" y2="370.0" stroke="#333" stroke-width="0.8"/>
<line x1="466.9" y1="371.8" x2="466.9" y2="370.0" stroke="#333" stroke-width="0.8"/>
<line x1="487.8" y1="371.8" x2="487.8" y2="370.0" stroke="#333" stroke-width="0.8"/>
<text x="320.5" y="380.3" font-size="8.1" text-anchor="middle">-10</text>
<text x="362.3" y="380.3" font-size="8.1" text-anchor="middle">-5</text>
<text x="404.1" y="380.3" font-size="8.1" text-anchor="middle">0</text>
<text x="446.0" y="380.3" font-size="8.1" text-anchor="middle">5</text>
<text x="487.8" y="380.3" font-size="8.1" text-anchor="middle">10</text>
<text x="408.15" y="389.40" font-size="8.6" text-anchor="middle">E-E<tspan font-size="6" dy="1.8">F</tspan><tspan dy="-1.8"> (eV)</tspan></text>
<text x="306.4" y="338.6" font-size="8.7" text-anchor="middle" transform="rotate(-90 306.4 338.6)">pDOS</text>
<text x="316.5" y="338.4" font-size="8.8" text-anchor="middle" transform="rotate(-90 316.5 338.40000000000003)">(electrons/eV)</text>
<text x="326.50" y="316.00" font-size="8.9" font-weight="bold">OH-O<tspan font-size="5.5" dy="1.5">v</tspan><tspan dy="-1.5">-CuO</tspan></text>
<text x="397.9" y="313.9" font-size="7.5" font-weight="bold">d-band center of CuO</text>
<text x="397.9" y="323.3" font-size="7.5" font-weight="bold" fill="#f33">-2.020 eV</text>
<path d="M537.8,338.1 538.3,337.5 538.8,337.1 539.3,336.7 539.8,336.9 540.3,337.2 540.8,337.8 541.3,337.9 541.8,337.4 542.3,337.2 542.8,337.4 543.3,337.8 543.8,338.0 544.3,337.6 544.8,337.3 545.3,337.3 545.8,337.1 546.3,337.3 546.8,337.6 547.3,338.0 547.8,337.7 548.3,337.1 548.8,336.6 549.3,336.0 549.8,337.1 550.3,337.7 550.8,337.9 551.3,337.5 551.8,337.1 552.4,337.0 552.9,336.7 553.4,336.6 553.9,337.9 554.4,337.5 554.9,336.5 555.4,336.1 555.9,336.2 556.4,336.7 556.9,337.4 557.4,337.6 557.9,336.6 558.4,335.4 558.9,336.3 559.4,337.0 559.9,337.6 560.4,337.7 560.9,337.1 561.4,336.7 561.9,336.6 562.4,336.8 562.9,337.4 563.4,337.2 563.9,336.1 564.4,335.2 564.9,334.6 565.4,334.6 565.9,335.5 566.4,336.6 566.9,335.0 567.4,334.1 567.9,334.5 568.4,334.0 568.9,333.9 569.4,333.4 569.9,332.8 570.4,332.9 570.9,331.8 571.4,332.9 571.9,331.3 572.4,331.3 572.9,332.4 573.4,329.9 573.9,330.6 574.4,329.0 574.9,325.0 575.4,322.4 575.9,320.6 576.4,322.4 576.9,326.7 577.4,328.8 577.9,326.6 578.4,325.6 579.0,328.2 579.5,323.9 580.0,324.5 580.5,324.4 581.0,324.5 581.5,325.3 582.0,326.6 582.5,325.6 583.0,325.9 583.5,329.1 584.0,327.1 584.5,329.3 585.0,330.8 585.5,329.9 586.0,331.7 586.5,332.0 587.0,331.6 587.5,333.0 588.0,331.3 588.5,329.8 589.0,333.3 589.5,333.4 590.0,333.6 590.5,334.5 591.0,334.1 591.5,335.0 592.0,334.3 592.5,334.4 593.0,336.9 593.5,335.7 594.0,335.3 594.5,334.9 595.0,335.6 595.5,336.4 596.0,337.3 596.5,337.2 597.0,336.5 597.5,335.8 598.0,336.0 598.5,336.5 599.0,337.5 599.5,337.4 600.0,336.7 600.5,336.5 601.0,336.9 601.5,337.7 602.0,337.8 602.5,337.2 603.0,337.1 603.5,337.6 604.0,338.1 604.5,338.2 605.0,338.1 605.6,338.2 606.1,338.2 606.6,338.4 607.1,338.3 607.6,338.2 608.1,338.2 608.6,338.3 609.1,338.4 609.6,338.2 610.1,338.1 610.6,338.0 611.1,338.1 611.6,338.2 612.1,338.3 612.6,338.3 613.1,338.2 613.6,338.0 614.1,338.0 614.6,338.1 615.1,338.3 615.6,338.4 616.1,338.2 616.6,338.2 617.1,338.4 617.6,338.3 618.1,338.1 618.6,338.1 619.1,338.3 619.6,338.4 620.1,338.3 620.6,338.2 621.1,338.2 621.6,338.3 622.1,338.3 622.6,338.4 623.1,338.4 623.6,338.3 624.1,338.2 624.6,338.1 625.1,338.2 625.6,338.3 626.1,338.4 626.6,338.3 627.1,338.1 627.6,338.1 628.1,338.3 628.6,338.3 629.1,338.2 629.6,338.0 630.1,338.0 630.6,338.2 631.1,338.3 631.7,338.4 632.2,338.2 632.7,338.2 633.2,338.4 633.7,338.4 634.2,338.2 634.7,338.1 635.2,338.1 635.7,338.2 636.2,338.4 636.7,338.4 637.2,338.2 637.7,338.2 638.2,338.3 638.7,338.4 639.2,338.4 639.7,338.3 640.2,338.2 640.7,338.2 641.2,338.3 641.7,338.4 642.2,338.4 642.7,338.2 643.2,338.2 643.7,338.2 644.2,338.4 644.7,338.3 645.2,338.2 645.7,338.1 646.2,338.1 646.7,338.4 647.2,338.4 647.7,338.3 648.2,338.2 648.7,338.4 649.2,338.4 649.7,338.3 650.2,338.3 650.7,338.3 651.2,338.4 651.7,338.4 652.2,338.2 652.7,338.1 653.2,338.2 653.7,338.4 654.2,338.4 654.7,338.2 655.2,338.1 655.7,338.1 656.2,338.2 656.7,338.4 657.2,338.4 657.7,338.3 658.3,338.2 658.8,338.3 659.3,338.4 659.8,338.4 660.3,338.3 660.8,338.2 661.3,338.2 661.8,338.3 662.3,338.4 662.8,338.3 663.3,338.2 663.8,338.2 664.3,338.3 664.8,338.4 665.3,338.4 665.8,338.3 666.3,338.3 666.8,338.3 667.3,338.4 667.8,338.5 668.3,338.4 668.8,338.2 669.3,338.1 669.8,338.1 670.3,338.2 670.8,338.4 671.3,338.4 671.8,338.3 672.3,338.4 672.3,338.9 671.8,339.0 671.3,338.8 670.8,338.8 670.3,339.1 669.8,339.1 669.3,339.1 668.8,339.0 668.3,338.9 667.8,338.8 667.3,338.9 666.8,339.0 666.3,339.0 665.8,339.0 665.3,338.9 664.8,338.8 664.3,338.9 663.8,339.1 663.3,339.1 662.8,338.9 662.3,338.8 661.8,339.0 661.3,339.1 660.8,339.0 660.3,339.0 659.8,338.8 659.3,338.9 658.8,339.1 658.3,339.1 657.7,339.1 657.2,338.9 656.7,338.8 656.2,339.1 655.7,339.2 655.2,339.2 654.7,339.0 654.2,338.9 653.7,338.9 653.2,339.1 652.7,339.2 652.2,339.1 651.7,338.9 651.2,338.8 650.7,339.0 650.2,339.1 649.7,339.0 649.2,338.8 648.7,338.9 648.2,339.1 647.7,339.1 647.2,338.9 646.7,338.8 646.2,339.0 645.7,339.1 645.2,339.0 644.7,338.8 644.2,338.8 643.7,339.0 643.2,339.0 642.7,339.0 642.2,338.8 641.7,338.8 641.2,339.0 640.7,339.1 640.2,339.1 639.7,339.0 639.2,338.8 638.7,338.8 638.2,338.9 637.7,339.0 637.2,338.9 636.7,338.8 636.2,338.9 635.7,339.0 635.2,339.2 634.7,339.2 634.2,339.1 633.7,338.8 633.2,338.9 632.7,339.0 632.2,339.0 631.7,338.9 631.1,338.9 630.6,339.2 630.1,339.2 629.6,339.3 629.1,339.1 628.6,338.9 628.1,338.9 627.6,339.1 627.1,339.1 626.6,338.9 626.1,338.8 625.6,339.0 625.1,339.2 624.6,339.2 624.1,339.2 623.6,339.0 623.1,338.8 622.6,338.8 622.1,339.0 621.6,339.1 621.1,339.2 620.6,339.1 620.1,339.0 619.6,338.8 619.1,338.9 618.6,339.2 618.1,339.2 617.6,338.9 617.1,338.9 616.6,339.0 616.1,339.0 615.6,338.8 615.1,338.9 614.6,339.1 614.1,339.2 613.6,339.2 613.1,339.1 612.6,338.9 612.1,338.9 611.6,339.1 611.1,339.3 610.6,339.4 610.1,339.2 609.6,339.1 609.1,338.9 608.6,338.9 608.1,339.1 607.6,339.0 607.1,338.9 606.6,338.9 606.1,339.0 605.6,339.2 605.0,339.2 604.5,339.1 604.0,339.2 603.5,339.8 603.0,340.3 602.5,340.2 602.0,339.5 601.5,339.7 601.0,340.6 600.5,341.1 600.0,340.9 599.5,339.9 599.0,339.8 598.5,340.8 598.0,341.6 597.5,341.7 597.0,341.2 596.5,340.2 596.0,340.2 595.5,341.5 595.0,342.0 594.5,342.7 594.0,342.1 593.5,341.5 593.0,340.4 592.5,342.9 592.0,343.1 591.5,342.3 591.0,343.3 590.5,342.8 590.0,344.0 589.5,346.4 589.0,344.8 588.5,345.0 588.0,344.3 587.5,344.1 587.0,345.9 586.5,345.1 586.0,345.7 585.5,347.5 585.0,346.8 584.5,348.3 584.0,351.6 583.5,348.7 583.0,350.6 582.5,350.8 582.0,351.9 581.5,352.3 581.0,352.5 580.5,353.5 580.0,352.4 579.5,353.2 579.0,349.7 578.4,352.5 577.9,353.3 577.4,350.9 576.9,352.5 576.4,356.6 575.9,358.6 575.4,356.6 574.9,354.0 574.4,349.3 573.9,348.2 573.4,348.6 572.9,346.1 572.4,348.0 571.9,347.6 571.4,348.9 570.9,348.1 570.4,345.3 569.9,346.0 569.4,345.4 568.9,345.2 568.4,344.8 567.9,343.5 567.4,344.1 566.9,342.9 566.4,341.0 565.9,342.9 565.4,343.3 564.9,343.3 564.4,343.2 563.9,342.0 563.4,340.4 562.9,339.8 562.4,340.4 561.9,340.5 561.4,340.4 560.9,340.1 560.4,339.5 559.9,339.5 559.4,340.3 558.9,340.6 558.4,340.5 557.9,340.3 557.4,339.6 556.9,339.8 556.4,340.7 555.9,341.6 555.4,341.5 554.9,340.9 554.4,339.9 553.9,339.5 553.4,340.8 552.9,340.8 552.4,341.8 551.8,340.8 551.3,340.1 550.8,339.5 550.3,339.6 549.8,340.1 549.3,340.7 548.8,340.6 548.3,340.3 547.8,339.6 547.3,339.3 546.8,339.7 546.3,340.0 545.8,340.1 545.3,340.1 544.8,340.0 544.3,339.7 543.8,339.2 543.3,339.3 542.8,339.9 542.3,339.9 541.8,339.9 541.3,339.7 540.8,339.5 540.3,339.8 539.8,340.2 539.3,340.3 538.8,340.2 538.3,339.6 537.8,339.4 Z" fill="#cbb4de" stroke="none"/>
<line x1="512.7" y1="338.6" x2="680.0" y2="338.6" stroke="#ae88d0" stroke-width="1.6"/>
<path d="M537.8,338.1 538.3,337.5 538.8,337.1 539.3,336.7 539.8,336.9 540.3,337.2 540.8,337.8 541.3,337.9 541.8,337.4 542.3,337.2 542.8,337.4 543.3,337.8 543.8,338.0 544.3,337.6 544.8,337.3 545.3,337.3 545.8,337.1 546.3,337.3 546.8,337.6 547.3,338.0 547.8,337.7 548.3,337.1 548.8,336.6 549.3,336.0 549.8,337.1 550.3,337.7 550.8,337.9 551.3,337.5 551.8,337.1 552.4,337.0 552.9,336.7 553.4,336.6 553.9,337.9 554.4,337.5 554.9,336.5 555.4,336.1 555.9,336.2 556.4,336.7 556.9,337.4 557.4,337.6 557.9,336.6 558.4,335.4 558.9,336.3 559.4,337.0 559.9,337.6 560.4,337.7 560.9,337.1 561.4,336.7 561.9,336.6 562.4,336.8 562.9,337.4 563.4,337.2 563.9,336.1 564.4,335.2 564.9,334.6 565.4,334.6 565.9,335.5 566.4,336.6 566.9,335.0 567.4,334.1 567.9,334.5 568.4,334.0 568.9,333.9 569.4,333.4 569.9,332.8 570.4,332.9 570.9,331.8 571.4,332.9 571.9,331.3 572.4,331.3 572.9,332.4 573.4,329.9 573.9,330.6 574.4,329.0 574.9,325.0 575.4,322.4 575.9,320.6 576.4,322.4 576.9,326.7 577.4,328.8 577.9,326.6 578.4,325.6 579.0,328.2 579.5,323.9 580.0,324.5 580.5,324.4 581.0,324.5 581.5,325.3 582.0,326.6 582.5,325.6 583.0,325.9 583.5,329.1 584.0,327.1 584.5,329.3 585.0,330.8 585.5,329.9 586.0,331.7 586.5,332.0 587.0,331.6 587.5,333.0 588.0,331.3 588.5,329.8 589.0,333.3 589.5,333.4 590.0,333.6 590.5,334.5 591.0,334.1 591.5,335.0 592.0,334.3 592.5,334.4 593.0,336.9 593.5,335.7 594.0,335.3 594.5,334.9 595.0,335.6 595.5,336.4 596.0,337.3 596.5,337.2 597.0,336.5 597.5,335.8 598.0,336.0 598.5,336.5 599.0,337.5 599.5,337.4 600.0,336.7 600.5,336.5 601.0,336.9 601.5,337.7 602.0,337.8 602.5,337.2 603.0,337.1 603.5,337.6 604.0,338.1 604.5,338.2 605.0,338.1 605.6,338.2 606.1,338.2 606.6,338.4 607.1,338.3 607.6,338.2 608.1,338.2 608.6,338.3 609.1,338.4 609.6,338.2 610.1,338.1 610.6,338.0 611.1,338.1 611.6,338.2 612.1,338.3 612.6,338.3 613.1,338.2 613.6,338.0 614.1,338.0 614.6,338.1 615.1,338.3 615.6,338.4 616.1,338.2 616.6,338.2 617.1,338.4 617.6,338.3 618.1,338.1 618.6,338.1 619.1,338.3 619.6,338.4 620.1,338.3 620.6,338.2 621.1,338.2 621.6,338.3 622.1,338.3 622.6,338.4 623.1,338.4 623.6,338.3 624.1,338.2 624.6,338.1 625.1,338.2 625.6,338.3 626.1,338.4 626.6,338.3 627.1,338.1 627.6,338.1 628.1,338.3 628.6,338.3 629.1,338.2 629.6,338.0 630.1,338.0 630.6,338.2 631.1,338.3 631.7,338.4 632.2,338.2 632.7,338.2 633.2,338.4 633.7,338.4 634.2,338.2 634.7,338.1 635.2,338.1 635.7,338.2 636.2,338.4 636.7,338.4 637.2,338.2 637.7,338.2 638.2,338.3 638.7,338.4 639.2,338.4 639.7,338.3 640.2,338.2 640.7,338.2 641.2,338.3 641.7,338.4 642.2,338.4 642.7,338.2 643.2,338.2 643.7,338.2 644.2,338.4 644.7,338.3 645.2,338.2 645.7,338.1 646.2,338.1 646.7,338.4 647.2,338.4 647.7,338.3 648.2,338.2 648.7,338.4 649.2,338.4 649.7,338.3 650.2,338.3 650.7,338.3 651.2,338.4 651.7,338.4 652.2,338.2 652.7,338.1 653.2,338.2 653.7,338.4 654.2,338.4 654.7,338.2 655.2,338.1 655.7,338.1 656.2,338.2 656.7,338.4 657.2,338.4 657.7,338.3 658.3,338.2 658.8,338.3 659.3,338.4 659.8,338.4 660.3,338.3 660.8,338.2 661.3,338.2 661.8,338.3 662.3,338.4 662.8,338.3 663.3,338.2 663.8,338.2 664.3,338.3 664.8,338.4 665.3,338.4 665.8,338.3 666.3,338.3 666.8,338.3 667.3,338.4 667.8,338.5 668.3,338.4 668.8,338.2 669.3,338.1 669.8,338.1 670.3,338.2 670.8,338.4 671.3,338.4 671.8,338.3 672.3,338.4" fill="none" stroke="#9a60c4" stroke-width="0.95" stroke-linejoin="round"/>
<path d="M537.8,339.4 538.3,339.6 538.8,340.2 539.3,340.3 539.8,340.2 540.3,339.8 540.8,339.5 541.3,339.7 541.8,339.9 542.3,339.9 542.8,339.9 543.3,339.3 543.8,339.2 544.3,339.7 544.8,340.0 545.3,340.1 545.8,340.1 546.3,340.0 546.8,339.7 547.3,339.3 547.8,339.6 548.3,340.3 548.8,340.6 549.3,340.7 549.8,340.1 550.3,339.6 550.8,339.5 551.3,340.1 551.8,340.8 552.4,341.8 552.9,340.8 553.4,340.8 553.9,339.5 554.4,339.9 554.9,340.9 555.4,341.5 555.9,341.6 556.4,340.7 556.9,339.8 557.4,339.6 557.9,340.3 558.4,340.5 558.9,340.6 559.4,340.3 559.9,339.5 560.4,339.5 560.9,340.1 561.4,340.4 561.9,340.5 562.4,340.4 562.9,339.8 563.4,340.4 563.9,342.0 564.4,343.2 564.9,343.3 565.4,343.3 565.9,342.9 566.4,341.0 566.9,342.9 567.4,344.1 567.9,343.5 568.4,344.8 568.9,345.2 569.4,345.4 569.9,346.0 570.4,345.3 570.9,348.1 571.4,348.9 571.9,347.6 572.4,348.0 572.9,346.1 573.4,348.6 573.9,348.2 574.4,349.3 574.9,354.0 575.4,356.6 575.9,358.6 576.4,356.6 576.9,352.5 577.4,350.9 577.9,353.3 578.4,352.5 579.0,349.7 579.5,353.2 580.0,352.4 580.5,353.5 581.0,352.5 581.5,352.3 582.0,351.9 582.5,350.8 583.0,350.6 583.5,348.7 584.0,351.6 584.5,348.3 585.0,346.8 585.5,347.5 586.0,345.7 586.5,345.1 587.0,345.9 587.5,344.1 588.0,344.3 588.5,345.0 589.0,344.8 589.5,346.4 590.0,344.0 590.5,342.8 591.0,343.3 591.5,342.3 592.0,343.1 592.5,342.9 593.0,340.4 593.5,341.5 594.0,342.1 594.5,342.7 595.0,342.0 595.5,341.5 596.0,340.2 596.5,340.2 597.0,341.2 597.5,341.7 598.0,341.6 598.5,340.8 599.0,339.8 599.5,339.9 600.0,340.9 600.5,341.1 601.0,340.6 601.5,339.7 602.0,339.5 602.5,340.2 603.0,340.3 603.5,339.8 604.0,339.2 604.5,339.1 605.0,339.2 605.6,339.2 606.1,339.0 606.6,338.9 607.1,338.9 607.6,339.0 608.1,339.1 608.6,338.9 609.1,338.9 609.6,339.1 610.1,339.2 610.6,339.4 611.1,339.3 611.6,339.1 612.1,338.9 612.6,338.9 613.1,339.1 613.6,339.2 614.1,339.2 614.6,339.1 615.1,338.9 615.6,338.8 616.1,339.0 616.6,339.0 617.1,338.9 617.6,338.9 618.1,339.2 618.6,339.2 619.1,338.9 619.6,338.8 620.1,339.0 620.6,339.1 621.1,339.2 621.6,339.1 622.1,339.0 622.6,338.8 623.1,338.8 623.6,339.0 624.1,339.2 624.6,339.2 625.1,339.2 625.6,339.0 626.1,338.8 626.6,338.9 627.1,339.1 627.6,339.1 628.1,338.9 628.6,338.9 629.1,339.1 629.6,339.3 630.1,339.2 630.6,339.2 631.1,338.9 631.7,338.9 632.2,339.0 632.7,339.0 633.2,338.9 633.7,338.8 634.2,339.1 634.7,339.2 635.2,339.2 635.7,339.0 636.2,338.9 636.7,338.8 637.2,338.9 637.7,339.0 638.2,338.9 638.7,338.8 639.2,338.8 639.7,339.0 640.2,339.1 640.7,339.1 641.2,339.0 641.7,338.8 642.2,338.8 642.7,339.0 643.2,339.0 643.7,339.0 644.2,338.8 644.7,338.8 645.2,339.0 645.7,339.1 646.2,339.0 646.7,338.8 647.2,338.9 647.7,339.1 648.2,339.1 648.7,338.9 649.2,338.8 649.7,339.0 650.2,339.1 650.7,339.0 651.2,338.8 651.7,338.9 652.2,339.1 652.7,339.2 653.2,339.1 653.7,338.9 654.2,338.9 654.7,339.0 655.2,339.2 655.7,339.2 656.2,339.1 656.7,338.8 657.2,338.9 657.7,339.1 658.3,339.1 658.8,339.1 659.3,338.9 659.8,338.8 660.3,339.0 660.8,339.0 661.3,339.1 661.8,339.0 662.3,338.8 662.8,338.9 663.3,339.1 663.8,339.1 664.3,338.9 664.8,338.8 665.3,338.9 665.8,339.0 666.3,339.0 666.8,339.0 667.3,338.9 667.8,338.8 668.3,338.9 668.8,339.0 669.3,339.1 669.8,339.1 670.3,339.1 670.8,338.8 671.3,338.8 671.8,339.0 672.3,338.9" fill="none" stroke="#9a60c4" stroke-width="0.95" stroke-linejoin="round"/>
<line x1="577.9" y1="304.4" x2="577.9" y2="371.8" stroke="#888" stroke-width="0.6" stroke-dasharray="2.2,1"/>
<rect x="512.7" y="304.4" width="167.3" height="67.4" fill="none" stroke="#333" stroke-width="1.0"/>
<line x1="512.7" y1="371.8" x2="512.7" y2="370.0" stroke="#333" stroke-width="0.8"/>
<line x1="533.6" y1="371.8" x2="533.6" y2="370.0" stroke="#333" stroke-width="0.8"/>
<line x1="554.5" y1="371.8" x2="554.5" y2="370.0" stroke="#333" stroke-width="0.8"/>
<line x1="575.4" y1="371.8" x2="575.4" y2="370.0" stroke="#333" stroke-width="0.8"/>
<line x1="596.4" y1="371.8" x2="596.4" y2="370.0" stroke="#333" stroke-width="0.8"/>
<line x1="617.3" y1="371.8" x2="617.3" y2="370.0" stroke="#333" stroke-width="0.8"/>
<line x1="638.2" y1="371.8" x2="638.2" y2="370.0" stroke="#333" stroke-width="0.8"/>
<line x1="659.1" y1="371.8" x2="659.1" y2="370.0" stroke="#333" stroke-width="0.8"/>
<line x1="680.0" y1="371.8" x2="680.0" y2="370.0" stroke="#333" stroke-width="0.8"/>
<text x="512.7" y="380.3" font-size="8.1" text-anchor="middle">-10</text>
<text x="554.5" y="380.3" font-size="8.1" text-anchor="middle">-5</text>
<text x="596.4" y="380.3" font-size="8.1" text-anchor="middle">0</text>
<text x="638.2" y="380.3" font-size="8.1" text-anchor="middle">5</text>
<text x="680.0" y="380.3" font-size="8.1" text-anchor="middle">10</text>
<text x="600.35" y="389.40" font-size="8.6" text-anchor="middle">E-E<tspan font-size="6" dy="1.8">F</tspan><tspan dy="-1.8"> (eV)</tspan></text>
<text x="498.6" y="338.6" font-size="8.7" text-anchor="middle" transform="rotate(-90 498.6 338.6)">pDOS</text>
<text x="508.7" y="338.4" font-size="8.8" text-anchor="middle" transform="rotate(-90 508.70000000000005 338.40000000000003)">(electrons/eV)</text>
<text x="515.50" y="314.40" font-size="8.9" font-weight="bold">OH-O<tspan font-size="5.5" dy="1.5">v</tspan><tspan dy="-1.5">-CuO</tspan></text>
<text x="527.9" y="323.6" font-size="8.9" font-weight="bold">/PMS</text>
<text x="592.6" y="312.9" font-size="7.5" font-weight="bold">d-band center of Cu</text>
<text x="592.6" y="321.8" font-size="7.5" font-weight="bold" fill="#f33">-2.211 eV</text>
<text x="4.9" y="414.6" font-size="16.5" font-weight="bold">c</text>
<rect x="39.5" y="426.8" width="13.8" height="55.3" fill="url(#gOr)" stroke="#f28a32" stroke-width="0.9"/>
<rect x="54.1" y="426.8" width="13.8" height="45.9" fill="url(#gBl)" stroke="#5795d4" stroke-width="0.9"/>
<text x="46.4" y="489.9" font-size="8" text-anchor="middle" font-weight="bold">-2.73</text>
<text x="54.3" y="480.0" font-size="7.8" font-weight="bold">1.293</text>
<rect x="90.1" y="426.8" width="13.5" height="65.1" fill="url(#gOr)" stroke="#f28a32" stroke-width="0.9"/>
<rect x="104.4" y="426.8" width="13.5" height="46.2" fill="url(#gBl)" stroke="#5795d4" stroke-width="0.9"/>
<text x="96.8" y="499.7" font-size="8" text-anchor="middle" font-weight="bold">-3.21</text>
<text x="104.6" y="480.3" font-size="7.8" font-weight="bold">1.303</text>
<rect x="140.6" y="426.8" width="13.5" height="68.1" fill="url(#gOr)" stroke="#f28a32" stroke-width="0.9"/>
<rect x="154.9" y="426.8" width="13.5" height="47.4" fill="url(#gBl)" stroke="#5795d4" stroke-width="0.9"/>
<text x="147.3" y="502.7" font-size="8" text-anchor="middle" font-weight="bold">-3.36</text>
<text x="155.1" y="481.5" font-size="7.8" font-weight="bold">1.337</text>
<rect x="191.4" y="426.8" width="13.5" height="83.7" fill="url(#gOr)" stroke="#f28a32" stroke-width="0.9"/>
<rect x="205.7" y="426.8" width="13.5" height="52.5" fill="url(#gBl)" stroke="#5795d4" stroke-width="0.9"/>
<text x="198.2" y="518.3" font-size="8" text-anchor="middle" font-weight="bold">-4.13</text>
<text x="205.9" y="486.6" font-size="7.8" font-weight="bold">1.481</text>
<line x1="28.0" y1="426.8" x2="231.3" y2="426.8" stroke="#333" stroke-width="1.0"/>
<line x1="28.0" y1="426.3" x2="28.0" y2="568.7" stroke="#f5892f" stroke-width="1.2"/>
<line x1="27.5" y1="568.7" x2="231.8" y2="568.7" stroke="#777" stroke-width="1.2"/>
<line x1="231.3" y1="426.3" x2="231.3" y2="568.7" stroke="#4f93d3" stroke-width="1.2"/>
<line x1="28.0" y1="426.8" x2="33.0" y2="426.8" stroke="#f5892f" stroke-width="0.9"/>
<text x="22.6" y="430.0" font-size="9" text-anchor="end" fill="#f5892f">0</text>
<line x1="28.0" y1="447.1" x2="31.5" y2="447.1" stroke="#f5892f" stroke-width="0.9"/>
<line x1="28.0" y1="467.3" x2="33.0" y2="467.3" stroke="#f5892f" stroke-width="0.9"/>
<text x="22.6" y="470.5" font-size="9" text-anchor="end" fill="#f5892f">-2</text>
<line x1="28.0" y1="487.6" x2="31.5" y2="487.6" stroke="#f5892f" stroke-width="0.9"/>
<line x1="28.0" y1="507.9" x2="33.0" y2="507.9" stroke="#f5892f" stroke-width="0.9"/>
<text x="22.6" y="511.1" font-size="9" text-anchor="end" fill="#f5892f">-4</text>
<line x1="28.0" y1="528.2" x2="31.5" y2="528.2" stroke="#f5892f" stroke-width="0.9"/>
<line x1="28.0" y1="548.4" x2="33.0" y2="548.4" stroke="#f5892f" stroke-width="0.9"/>
<text x="22.6" y="551.6" font-size="9" text-anchor="end" fill="#f5892f">-6</text>
<line x1="28.0" y1="568.7" x2="31.5" y2="568.7" stroke="#f5892f" stroke-width="0.9"/>
<line x1="231.3" y1="426.8" x2="226.3" y2="426.8" stroke="#4f93d3" stroke-width="0.9"/>
<text x="239.3" y="430.0" font-size="9" text-anchor="middle" fill="#4f93d3">0</text>
<line x1="231.3" y1="444.5" x2="227.8" y2="444.5" stroke="#4f93d3" stroke-width="0.9"/>
<line x1="231.3" y1="462.3" x2="226.3" y2="462.3" stroke="#4f93d3" stroke-width="0.9"/>
<text x="239.3" y="465.5" font-size="9" text-anchor="middle" fill="#4f93d3">1</text>
<line x1="231.3" y1="480.0" x2="227.8" y2="480.0" stroke="#4f93d3" stroke-width="0.9"/>
<line x1="231.3" y1="497.8" x2="226.3" y2="497.8" stroke="#4f93d3" stroke-width="0.9"/>
<text x="239.3" y="500.9" font-size="9" text-anchor="middle" fill="#4f93d3">2</text>
<line x1="231.3" y1="515.5" x2="227.8" y2="515.5" stroke="#4f93d3" stroke-width="0.9"/>
<line x1="231.3" y1="533.2" x2="226.3" y2="533.2" stroke="#4f93d3" stroke-width="0.9"/>
<text x="239.3" y="536.4" font-size="9" text-anchor="middle" fill="#4f93d3">3</text>
<line x1="231.3" y1="551.0" x2="227.8" y2="551.0" stroke="#4f93d3" stroke-width="0.9"/>
<line x1="231.3" y1="568.7" x2="226.3" y2="568.7" stroke="#4f93d3" stroke-width="0.9"/>
<text x="239.3" y="571.9" font-size="9" text-anchor="middle" fill="#4f93d3">4</text>
<text x="10.1" y="498.0" font-size="8.6" text-anchor="middle" fill="#f5892f" transform="rotate(-90 10.1 498.0)">Adsorption energy of PMS (eV)</text>
<text x="252.6" y="498.6" font-size="8.5" text-anchor="middle" fill="#4f93d3" transform="rotate(-90 252.6 498.6)">O-O bond length in PMS (Å)</text>
<text x="53.3" y="582.0" font-size="8.6" text-anchor="middle">CuO/PMS</text>
<text x="104.0" y="582.0" font-size="8.6" text-anchor="middle">OH-CuO</text>
<text x="104.0" y="592.6" font-size="8.6" text-anchor="middle">/PMS</text>
<text x="154.5" y="582" font-size="8.6" text-anchor="middle">O<tspan font-size="6" dy="1.8">V</tspan><tspan dy="-1.8">-CuO</tspan></text>
<text x="154.5" y="594.0" font-size="8.6" text-anchor="middle">/PMS</text>
<text x="205" y="582" font-size="8.6" text-anchor="middle">OH-O<tspan font-size="6" dy="1.8">V</tspan><tspan dy="-1.8">-CuO</tspan></text>
<text x="205.0" y="594.0" font-size="8.6" text-anchor="middle">/PMS</text>
<path d="M38.4,561.0 L39.4,555.0 M39.4,555.0 L40.4,549.0 M40.4,549.0 L41.4,543.0 M48.4,559.5 L49.4,553.5 M49.4,553.5 L50.4,547.5 M50.4,547.5 L51.4,541.5 M58.8,558.0 L59.8,552.0 M59.8,552.0 L60.8,546.0 M60.8,546.0 L61.8,540.0 M68.8,556.6 L69.8,550.6 M69.8,550.6 L70.8,544.6 M70.8,544.6 L71.8,538.6 M38.4,561.0 L48.4,559.5 M39.4,555.0 L49.4,553.5 M40.4,549.0 L50.4,547.5 M41.4,543.0 L51.4,541.5 M48.4,559.5 L58.8,558.0 M49.4,553.5 L59.8,552.0 M50.4,547.5 L60.8,546.0 M51.4,541.5 L61.8,540.0 M58.8,558.0 L68.8,556.6 M59.8,552.0 L69.8,550.6 M60.8,546.0 L70.8,544.6 M61.8,540.0 L71.8,538.6" fill="none" stroke="#5070d8" stroke-width="0.6"/>
<path d="M35.0,558.8 L38.4,561.0 L42.0,557.6 M36.2,562.4 L41.0,559.8 M36.0,552.8 L39.4,555.0 L43.0,551.6 M37.2,556.4 L42.0,553.8 M37.0,546.8 L40.4,549.0 L44.0,545.6 M38.2,550.4 L43.0,547.8 M38.0,540.8 L41.4,543.0 L45.0,539.6 M39.2,544.4 L44.0,541.8 M41.4,543.0 L42.4,540.0 M45.0,557.3 L48.4,559.5 L52.0,556.1 M46.2,560.9 L51.0,558.3 M46.0,551.3 L49.4,553.5 L53.0,550.1 M47.2,554.9 L52.0,552.3 M47.0,545.3 L50.4,547.5 L54.0,544.1 M48.2,548.9 L53.0,546.3 M48.0,539.3 L51.4,541.5 L55.0,538.1 M49.2,542.9 L54.0,540.3 M51.4,541.5 L52.4,538.5 M55.4,555.8 L58.8,558.0 L62.4,554.6 M56.6,559.4 L61.4,556.8 M56.4,549.8 L59.8,552.0 L63.4,548.6 M57.6,553.4 L62.4,550.8 M57.4,543.8 L60.8,546.0 L64.4,542.6 M58.6,547.4 L63.4,544.8 M58.4,537.8 L61.8,540.0 L65.4,536.6 M59.6,541.4 L64.4,538.8 M61.8,540.0 L62.8,537.0 M65.4,554.4 L68.8,556.6 L72.4,553.2 M66.6,558.0 L71.4,555.4 M66.4,548.4 L69.8,550.6 L73.4,547.2 M67.6,552.0 L72.4,549.4 M67.4,542.4 L70.8,544.6 L74.4,541.2 M68.6,546.0 L73.4,543.4 M68.4,536.4 L71.8,538.6 L75.4,535.2 M69.6,540.0 L74.4,537.4 M71.8,538.6 L72.8,535.6" fill="none" stroke="#e03a3a" stroke-width="1.1"/>
<circle cx="35.0" cy="558.8" r="1.1" fill="#e82828"/>
<circle cx="42.0" cy="557.6" r="1.1" fill="#e82828"/>
<circle cx="36.2" cy="562.4" r="1.1" fill="#e82828"/>
<circle cx="36.0" cy="552.8" r="1.1" fill="#e82828"/>
<circle cx="43.0" cy="551.6" r="1.1" fill="#e82828"/>
<circle cx="37.2" cy="556.4" r="1.1" fill="#e82828"/>
<circle cx="37.0" cy="546.8" r="1.1" fill="#e82828"/>
<circle cx="44.0" cy="545.6" r="1.1" fill="#e82828"/>
<circle cx="38.2" cy="550.4" r="1.1" fill="#e82828"/>
<circle cx="38.0" cy="540.8" r="1.1" fill="#e82828"/>
<circle cx="45.0" cy="539.6" r="1.1" fill="#e82828"/>
<circle cx="39.2" cy="544.4" r="1.1" fill="#e82828"/>
<circle cx="42.4" cy="540.0" r="1.1" fill="#e82828"/>
<circle cx="45.0" cy="557.3" r="1.1" fill="#e82828"/>
<circle cx="52.0" cy="556.1" r="1.1" fill="#e82828"/>
<circle cx="46.2" cy="560.9" r="1.1" fill="#e82828"/>
<circle cx="46.0" cy="551.3" r="1.1" fill="#e82828"/>
<circle cx="53.0" cy="550.1" r="1.1" fill="#e82828"/>
<circle cx="47.2" cy="554.9" r="1.1" fill="#e82828"/>
<circle cx="47.0" cy="545.3" r="1.1" fill="#e82828"/>
<circle cx="54.0" cy="544.1" r="1.1" fill="#e82828"/>
<circle cx="48.2" cy="548.9" r="1.1" fill="#e82828"/>
<circle cx="48.0" cy="539.3" r="1.1" fill="#e82828"/>
<circle cx="55.0" cy="538.1" r="1.1" fill="#e82828"/>
<circle cx="49.2" cy="542.9" r="1.1" fill="#e82828"/>
<circle cx="52.4" cy="538.5" r="1.1" fill="#e82828"/>
<circle cx="55.4" cy="555.8" r="1.1" fill="#e82828"/>
<circle cx="62.4" cy="554.6" r="1.1" fill="#e82828"/>
<circle cx="56.6" cy="559.4" r="1.1" fill="#e82828"/>
<circle cx="56.4" cy="549.8" r="1.1" fill="#e82828"/>
<circle cx="63.4" cy="548.6" r="1.1" fill="#e82828"/>
<circle cx="57.6" cy="553.4" r="1.1" fill="#e82828"/>
<circle cx="57.4" cy="543.8" r="1.1" fill="#e82828"/>
<circle cx="64.4" cy="542.6" r="1.1" fill="#e82828"/>
<circle cx="58.6" cy="547.4" r="1.1" fill="#e82828"/>
<circle cx="58.4" cy="537.8" r="1.1" fill="#e82828"/>
<circle cx="65.4" cy="536.6" r="1.1" fill="#e82828"/>
<circle cx="59.6" cy="541.4" r="1.1" fill="#e82828"/>
<circle cx="62.8" cy="537.0" r="1.1" fill="#e82828"/>
<circle cx="65.4" cy="554.4" r="1.1" fill="#e82828"/>
<circle cx="72.4" cy="553.2" r="1.1" fill="#e82828"/>
<circle cx="66.6" cy="558.0" r="1.1" fill="#e82828"/>
<circle cx="66.4" cy="548.4" r="1.1" fill="#e82828"/>
<circle cx="73.4" cy="547.2" r="1.1" fill="#e82828"/>
<circle cx="67.6" cy="552.0" r="1.1" fill="#e82828"/>
<circle cx="67.4" cy="542.4" r="1.1" fill="#e82828"/>
<circle cx="74.4" cy="541.2" r="1.1" fill="#e82828"/>
<circle cx="68.6" cy="546.0" r="1.1" fill="#e82828"/>
<circle cx="68.4" cy="536.4" r="1.1" fill="#e82828"/>
<circle cx="75.4" cy="535.2" r="1.1" fill="#e82828"/>
<circle cx="69.6" cy="540.0" r="1.1" fill="#e82828"/>
<circle cx="72.8" cy="535.6" r="1.1" fill="#e82828"/>
<circle cx="38.4" cy="561.0" r="1.7" fill="#7090ec" stroke="#2a44c0" stroke-width="0.8"/>
<circle cx="41.0" cy="559.8" r="1.7" fill="#7090ec" stroke="#2a44c0" stroke-width="0.8"/>
<circle cx="39.4" cy="555.0" r="1.7" fill="#7090ec" stroke="#2a44c0" stroke-width="0.8"/>
<circle cx="42.0" cy="553.8" r="1.7" fill="#7090ec" stroke="#2a44c0" stroke-width="0.8"/>
<circle cx="40.4" cy="549.0" r="1.7" fill="#7090ec" stroke="#2a44c0" stroke-width="0.8"/>
<circle cx="43.0" cy="547.8" r="1.7" fill="#7090ec" stroke="#2a44c0" stroke-width="0.8"/>
<circle cx="41.4" cy="543.0" r="1.7" fill="#7090ec" stroke="#2a44c0" stroke-width="0.8"/>
<circle cx="44.0" cy="541.8" r="1.7" fill="#7090ec" stroke="#2a44c0" stroke-width="0.8"/>
<circle cx="48.4" cy="559.5" r="1.7" fill="#7090ec" stroke="#2a44c0" stroke-width="0.8"/>
<circle cx="51.0" cy="558.3" r="1.7" fill="#7090ec" stroke="#2a44c0" stroke-width="0.8"/>
<circle cx="49.4" cy="553.5" r="1.7" fill="#7090ec" stroke="#2a44c0" stroke-width="0.8"/>
<circle cx="52.0" cy="552.3" r="1.7" fill="#7090ec" stroke="#2a44c0" stroke-width="0.8"/>
<circle cx="50.4" cy="547.5" r="1.7" fill="#7090ec" stroke="#2a44c0" stroke-width="0.8"/>
<circle cx="53.0" cy="546.3" r="1.7" fill="#7090ec" stroke="#2a44c0" stroke-width="0.8"/>
<circle cx="51.4" cy="541.5" r="1.7" fill="#7090ec" stroke="#2a44c0" stroke-width="0.8"/>
<circle cx="54.0" cy="540.3" r="1.7" fill="#7090ec" stroke="#2a44c0" stroke-width="0.8"/>
<circle cx="58.8" cy="558.0" r="1.7" fill="#7090ec" stroke="#2a44c0" stroke-width="0.8"/>
<circle cx="61.4" cy="556.8" r="1.7" fill="#7090ec" stroke="#2a44c0" stroke-width="0.8"/>
<circle cx="59.8" cy="552.0" r="1.7" fill="#7090ec" stroke="#2a44c0" stroke-width="0.8"/>
<circle cx="62.4" cy="550.8" r="1.7" fill="#7090ec" stroke="#2a44c0" stroke-width="0.8"/>
<circle cx="60.8" cy="546.0" r="1.7" fill="#7090ec" stroke="#2a44c0" stroke-width="0.8"/>
<circle cx="63.4" cy="544.8" r="1.7" fill="#7090ec" stroke="#2a44c0" stroke-width="0.8"/>
<circle cx="61.8" cy="540.0" r="1.7" fill="#7090ec" stroke="#2a44c0" stroke-width="0.8"/>
<circle cx="64.4" cy="538.8" r="1.7" fill="#7090ec" stroke="#2a44c0" stroke-width="0.8"/>
<circle cx="68.8" cy="556.6" r="1.7" fill="#7090ec" stroke="#2a44c0" stroke-width="0.8"/>
<circle cx="71.4" cy="555.4" r="1.7" fill="#7090ec" stroke="#2a44c0" stroke-width="0.8"/>
<circle cx="69.8" cy="550.6" r="1.7" fill="#7090ec" stroke="#2a44c0" stroke-width="0.8"/>
<circle cx="72.4" cy="549.4" r="1.7" fill="#7090ec" stroke="#2a44c0" stroke-width="0.8"/>
<circle cx="70.8" cy="544.6" r="1.7" fill="#7090ec" stroke="#2a44c0" stroke-width="0.8"/>
<circle cx="73.4" cy="543.4" r="1.7" fill="#7090ec" stroke="#2a44c0" stroke-width="0.8"/>
<circle cx="71.8" cy="538.6" r="1.7" fill="#7090ec" stroke="#2a44c0" stroke-width="0.8"/>
<circle cx="74.4" cy="537.4" r="1.7" fill="#7090ec" stroke="#2a44c0" stroke-width="0.8"/>
<line x1="49.6" y1="531.4" x2="50.1" y2="537.4" stroke="#e03030" stroke-width="0.9"/>
<line x1="49.6" y1="531.4" x2="51.1" y2="526.4" stroke="#e03030" stroke-width="0.9"/>
<circle cx="51.1" cy="526.4" r="1.1" fill="#e02828"/>
<line x1="49.6" y1="531.4" x2="45.9" y2="530.7" stroke="#e03030" stroke-width="0.9"/>
<circle cx="45.9" cy="530.7" r="1.1" fill="#e02828"/>
<line x1="49.6" y1="531.4" x2="54.6" y2="532.9" stroke="#e03030" stroke-width="0.9"/>
<circle cx="54.6" cy="532.9" r="1.1" fill="#e02828"/>
<line x1="49.6" y1="531.4" x2="48.9" y2="535.1" stroke="#e03030" stroke-width="0.9"/>
<circle cx="48.9" cy="535.1" r="1.1" fill="#e02828"/>
<circle cx="49.6" cy="531.4" r="1.7" fill="#ecec30" stroke="#b8b000" stroke-width="0.5"/>
<path d="M88.3,561.0 L89.6,554.7 M89.6,554.7 L91.0,548.3 M91.0,548.3 L92.3,542.0 M97.5,561.4 L98.8,555.1 M98.8,555.1 L100.2,548.7 M100.2,548.7 L101.5,542.4 M106.5,558.5 L107.8,552.2 M107.8,552.2 L109.2,545.8 M109.2,545.8 L110.5,539.5 M116.0,555.9 L117.3,549.6 M117.3,549.6 L118.7,543.2 M118.7,543.2 L120.0,536.9 M88.3,561.0 L97.5,561.4 M89.6,554.7 L98.8,555.1 M91.0,548.3 L100.2,548.7 M92.3,542.0 L101.5,542.4 M97.5,561.4 L106.5,558.5 M98.8,555.1 L107.8,552.2 M100.2,548.7 L109.2,545.8 M101.5,542.4 L110.5,539.5 M106.5,558.5 L116.0,555.9 M107.8,552.2 L117.3,549.6 M109.2,545.8 L118.7,543.2 M110.5,539.5 L120.0,536.9" fill="none" stroke="#5070d8" stroke-width="0.6"/>
<path d="M84.9,558.8 L88.3,561.0 L91.9,557.6 M86.1,562.4 L90.9,559.8 M86.2,552.5 L89.6,554.7 L93.2,551.3 M87.4,556.1 L92.2,553.5 M87.6,546.1 L91.0,548.3 L94.6,544.9 M88.8,549.7 L93.6,547.1 M88.9,539.8 L92.3,542.0 L95.9,538.6 M90.1,543.4 L94.9,540.8 M92.3,542.0 L93.3,539.0 M94.1,559.2 L97.5,561.4 L101.1,558.0 M95.3,562.8 L100.1,560.2 M95.4,552.9 L98.8,555.1 L102.4,551.7 M96.6,556.5 L101.4,553.9 M96.8,546.5 L100.2,548.7 L103.8,545.3 M98.0,550.1 L102.8,547.5 M98.1,540.2 L101.5,542.4 L105.1,539.0 M99.3,543.8 L104.1,541.2 M101.5,542.4 L102.5,539.4 M103.1,556.3 L106.5,558.5 L110.1,555.1 M104.3,559.9 L109.1,557.3 M104.4,550.0 L107.8,552.2 L111.4,548.8 M105.6,553.6 L110.4,551.0 M105.8,543.6 L109.2,545.8 L112.8,542.4 M107.0,547.2 L111.8,544.6 M107.1,537.3 L110.5,539.5 L114.1,536.1 M108.3,540.9 L113.1,538.3 M110.5,539.5 L111.5,536.5 M112.6,553.7 L116.0,555.9 L119.6,552.5 M113.8,557.3 L118.6,554.7 M113.9,547.4 L117.3,549.6 L120.9,546.2 M115.1,551.0 L119.9,548.4 M115.3,541.0 L118.7,543.2 L122.3,539.8 M116.5,544.6 L121.3,542.0 M116.6,534.7 L120.0,536.9 L123.6,533.5 M117.8,538.3 L122.6,535.7 M120.0,536.9 L121.0,533.9" fill="none" stroke="#e03a3a" stroke-width="1.1"/>
<circle cx="84.9" cy="558.8" r="1.1" fill="#e82828"/>
<circle cx="91.9" cy="557.6" r="1.1" fill="#e82828"/>
<circle cx="86.1" cy="562.4" r="1.1" fill="#e82828"/>
<circle cx="86.2" cy="552.5" r="1.1" fill="#e82828"/>
<circle cx="93.2" cy="551.3" r="1.1" fill="#e82828"/>
<circle cx="87.4" cy="556.1" r="1.1" fill="#e82828"/>
<circle cx="87.6" cy="546.1" r="1.1" fill="#e82828"/>
<circle cx="94.6" cy="544.9" r="1.1" fill="#e82828"/>
<circle cx="88.8" cy="549.7" r="1.1" fill="#e82828"/>
<circle cx="88.9" cy="539.8" r="1.1" fill="#e82828"/>
<circle cx="95.9" cy="538.6" r="1.1" fill="#e82828"/>
<circle cx="90.1" cy="543.4" r="1.1" fill="#e82828"/>
<circle cx="93.3" cy="539.0" r="1.1" fill="#e82828"/>
<circle cx="94.1" cy="559.2" r="1.1" fill="#e82828"/>
<circle cx="101.1" cy="558.0" r="1.1" fill="#e82828"/>
<circle cx="95.3" cy="562.8" r="1.1" fill="#e82828"/>
<circle cx="95.4" cy="552.9" r="1.1" fill="#e82828"/>
<circle cx="102.4" cy="551.7" r="1.1" fill="#e82828"/>
<circle cx="96.6" cy="556.5" r="1.1" fill="#e82828"/>
<circle cx="96.8" cy="546.5" r="1.1" fill="#e82828"/>
<circle cx="103.8" cy="545.3" r="1.1" fill="#e82828"/>
<circle cx="98.0" cy="550.1" r="1.1" fill="#e82828"/>
<circle cx="98.1" cy="540.2" r="1.1" fill="#e82828"/>
<circle cx="105.1" cy="539.0" r="1.1" fill="#e82828"/>
<circle cx="99.3" cy="543.8" r="1.1" fill="#e82828"/>
<circle cx="102.5" cy="539.4" r="1.1" fill="#e82828"/>
<circle cx="103.1" cy="556.3" r="1.1" fill="#e82828"/>
<circle cx="110.1" cy="555.1" r="1.1" fill="#e82828"/>
<circle cx="104.3" cy="559.9" r="1.1" fill="#e82828"/>
<circle cx="104.4" cy="550.0" r="1.1" fill="#e82828"/>
<circle cx="111.4" cy="548.8" r="1.1" fill="#e82828"/>
<circle cx="105.6" cy="553.6" r="1.1" fill="#e82828"/>
<circle cx="105.8" cy="543.6" r="1.1" fill="#e82828"/>
<circle cx="112.8" cy="542.4" r="1.1" fill="#e82828"/>
<circle cx="107.0" cy="547.2" r="1.1" fill="#e82828"/>
<circle cx="107.1" cy="537.3" r="1.1" fill="#e82828"/>
<circle cx="114.1" cy="536.1" r="1.1" fill="#e82828"/>
<circle cx="108.3" cy="540.9" r="1.1" fill="#e82828"/>
<circle cx="111.5" cy="536.5" r="1.1" fill="#e82828"/>
<circle cx="112.6" cy="553.7" r="1.1" fill="#e82828"/>
<circle cx="119.6" cy="552.5" r="1.1" fill="#e82828"/>
<circle cx="113.8" cy="557.3" r="1.1" fill="#e82828"/>
<circle cx="113.9" cy="547.4" r="1.1" fill="#e82828"/>
<circle cx="120.9" cy="546.2" r="1.1" fill="#e82828"/>
<circle cx="115.1" cy="551.0" r="1.1" fill="#e82828"/>
<circle cx="115.3" cy="541.0" r="1.1" fill="#e82828"/>
<circle cx="122.3" cy="539.8" r="1.1" fill="#e82828"/>
<circle cx="116.5" cy="544.6" r="1.1" fill="#e82828"/>
<circle cx="116.6" cy="534.7" r="1.1" fill="#e82828"/>
<circle cx="123.6" cy="533.5" r="1.1" fill="#e82828"/>
<circle cx="117.8" cy="538.3" r="1.1" fill="#e82828"/>
<circle cx="121.0" cy="533.9" r="1.1" fill="#e82828"/>
<circle cx="88.3" cy="561.0" r="1.7" fill="#7090ec" stroke="#2a44c0" stroke-width="0.8"/>
<circle cx="90.9" cy="559.8" r="1.7" fill="#7090ec" stroke="#2a44c0" stroke-width="0.8"/>
<circle cx="89.6" cy="554.7" r="1.7" fill="#7090ec" stroke="#2a44c0" stroke-width="0.8"/>
<circle cx="92.2" cy="553.5" r="1.7" fill="#7090ec" stroke="#2a44c0" stroke-width="0.8"/>
<circle cx="91.0" cy="548.3" r="1.7" fill="#7090ec" stroke="#2a44c0" stroke-width="0.8"/>
<circle cx="93.6" cy="547.1" r="1.7" fill="#7090ec" stroke="#2a44c0" stroke-width="0.8"/>
<circle cx="92.3" cy="542.0" r="1.7" fill="#7090ec" stroke="#2a44c0" stroke-width="0.8"/>
<circle cx="94.9" cy="540.8" r="1.7" fill="#7090ec" stroke="#2a44c0" stroke-width="0.8"/>
<circle cx="97.5" cy="561.4" r="1.7" fill="#7090ec" stroke="#2a44c0" stroke-width="0.8"/>
<circle cx="100.1" cy="560.2" r="1.7" fill="#7090ec" stroke="#2a44c0" stroke-width="0.8"/>
<circle cx="98.8" cy="555.1" r="1.7" fill="#7090ec" stroke="#2a44c0" stroke-width="0.8"/>
<circle cx="101.4" cy="553.9" r="1.7" fill="#7090ec" stroke="#2a44c0" stroke-width="0.8"/>
<circle cx="100.2" cy="548.7" r="1.7" fill="#7090ec" stroke="#2a44c0" stroke-width="0.8"/>
<circle cx="102.8" cy="547.5" r="1.7" fill="#7090ec" stroke="#2a44c0" stroke-width="0.8"/>
<circle cx="101.5" cy="542.4" r="1.7" fill="#7090ec" stroke="#2a44c0" stroke-width="0.8"/>
<circle cx="104.1" cy="541.2" r="1.7" fill="#7090ec" stroke="#2a44c0" stroke-width="0.8"/>
<circle cx="106.5" cy="558.5" r="1.7" fill="#7090ec" stroke="#2a44c0" stroke-width="0.8"/>
<circle cx="109.1" cy="557.3" r="1.7" fill="#7090ec" stroke="#2a44c0" stroke-width="0.8"/>
<circle cx="107.8" cy="552.2" r="1.7" fill="#7090ec" stroke="#2a44c0" stroke-width="0.8"/>
<circle cx="110.4" cy="551.0" r="1.7" fill="#7090ec" stroke="#2a44c0" stroke-width="0.8"/>
<circle cx="109.2" cy="545.8" r="1.7" fill="#7090ec" stroke="#2a44c0" stroke-width="0.8"/>
<circle cx="111.8" cy="544.6" r="1.7" fill="#7090ec" stroke="#2a44c0" stroke-width="0.8"/>
<circle cx="110.5" cy="539.5" r="1.7" fill="#7090ec" stroke="#2a44c0" stroke-width="0.8"/>
<circle cx="113.1" cy="538.3" r="1.7" fill="#7090ec" stroke="#2a44c0" stroke-width="0.8"/>
<circle cx="116.0" cy="555.9" r="1.7" fill="#7090ec" stroke="#2a44c0" stroke-width="0.8"/>
<circle cx="118.6" cy="554.7" r="1.7" fill="#7090ec" stroke="#2a44c0" stroke-width="0.8"/>
<circle cx="117.3" cy="549.6" r="1.7" fill="#7090ec" stroke="#2a44c0" stroke-width="0.8"/>
<circle cx="119.9" cy="548.4" r="1.7" fill="#7090ec" stroke="#2a44c0" stroke-width="0.8"/>
<circle cx="118.7" cy="543.2" r="1.7" fill="#7090ec" stroke="#2a44c0" stroke-width="0.8"/>
<circle cx="121.3" cy="542.0" r="1.7" fill="#7090ec" stroke="#2a44c0" stroke-width="0.8"/>
<circle cx="120.0" cy="536.9" r="1.7" fill="#7090ec" stroke="#2a44c0" stroke-width="0.8"/>
<circle cx="122.6" cy="535.7" r="1.7" fill="#7090ec" stroke="#2a44c0" stroke-width="0.8"/>
<line x1="103.2" y1="530.3" x2="103.7" y2="536.3" stroke="#e03030" stroke-width="0.9"/>
<line x1="103.2" y1="530.3" x2="104.7" y2="525.3" stroke="#e03030" stroke-width="0.9"/>
<circle cx="104.7" cy="525.3" r="1.1" fill="#e02828"/>
<line x1="103.2" y1="530.3" x2="99.5" y2="529.6" stroke="#e03030" stroke-width="0.9"/>
<circle cx="99.5" cy="529.6" r="1.1" fill="#e02828"/>
<line x1="103.2" y1="530.3" x2="108.2" y2="531.8" stroke="#e03030" stroke-width="0.9"/>
<circle cx="108.2" cy="531.8" r="1.1" fill="#e02828"/>
<line x1="103.2" y1="530.3" x2="102.5" y2="534.0" stroke="#e03030" stroke-width="0.9"/>
<circle cx="102.5" cy="534.0" r="1.1" fill="#e02828"/>
<circle cx="103.2" cy="530.3" r="1.7" fill="#ecec30" stroke="#b8b000" stroke-width="0.5"/>
<path d="M137.0,558.8 L138.7,553.1 M138.7,553.1 L140.3,547.5 M140.3,547.5 L142.0,541.8 M146.5,558.8 L148.2,553.1 M148.2,553.1 L149.8,547.5 M149.8,547.5 L151.5,541.8 M155.7,558.8 L157.4,553.1 M157.4,553.1 L159.0,547.5 M159.0,547.5 L160.7,541.8 M165.0,558.8 L166.7,553.1 M166.7,553.1 L168.3,547.5 M168.3,547.5 L170.0,541.8 M137.0,558.8 L146.5,558.8 M138.7,553.1 L148.2,553.1 M140.3,547.5 L149.8,547.5 M142.0,541.8 L151.5,541.8 M146.5,558.8 L155.7,558.8 M148.2,553.1 L157.4,553.1 M149.8,547.5 L159.0,547.5 M151.5,541.8 L160.7,541.8 M155.7,558.8 L165.0,558.8 M157.4,553.1 L166.7,553.1 M159.0,547.5 L168.3,547.5 M160.7,541.8 L170.0,541.8" fill="none" stroke="#5070d8" stroke-width="0.6"/>
<path d="M133.6,556.6 L137.0,558.8 L140.6,555.4 M134.8,560.2 L139.6,557.6 M135.3,550.9 L138.7,553.1 L142.3,549.7 M136.5,554.5 L141.3,551.9 M136.9,545.3 L140.3,547.5 L143.9,544.1 M138.1,548.9 L142.9,546.3 M138.6,539.6 L142.0,541.8 L145.6,538.4 M139.8,543.2 L144.6,540.6 M142.0,541.8 L143.0,538.8 M143.1,556.6 L146.5,558.8 L150.1,555.4 M144.3,560.2 L149.1,557.6 M144.8,550.9 L148.2,553.1 L151.8,549.7 M146.0,554.5 L150.8,551.9 M146.4,545.3 L149.8,547.5 L153.4,544.1 M147.6,548.9 L152.4,546.3 M148.1,539.6 L151.5,541.8 L155.1,538.4 M149.3,543.2 L154.1,540.6 M151.5,541.8 L152.5,538.8 M152.3,556.6 L155.7,558.8 L159.3,555.4 M153.5,560.2 L158.3,557.6 M154.0,550.9 L157.4,553.1 L161.0,549.7 M155.2,554.5 L160.0,551.9 M155.6,545.3 L159.0,547.5 L162.6,544.1 M156.8,548.9 L161.6,546.3 M157.3,539.6 L160.7,541.8 L164.3,538.4 M158.5,543.2 L163.3,540.6 M160.7,541.8 L161.7,538.8 M161.6,556.6 L165.0,558.8 L168.6,555.4 M162.8,560.2 L167.6,557.6 M163.3,550.9 L166.7,553.1 L170.3,549.7 M164.5,554.5 L169.3,551.9 M164.9,545.3 L168.3,547.5 L171.9,544.1 M166.1,548.9 L170.9,546.3 M166.6,539.6 L170.0,541.8 L173.6,538.4 M167.8,543.2 L172.6,540.6 M170.0,541.8 L171.0,538.8" fill="none" stroke="#e03a3a" stroke-width="1.1"/>
<circle cx="133.6" cy="556.6" r="1.1" fill="#e82828"/>
<circle cx="140.6" cy="555.4" r="1.1" fill="#e82828"/>
<circle cx="134.8" cy="560.2" r="1.1" fill="#e82828"/>
<circle cx="135.3" cy="550.9" r="1.1" fill="#e82828"/>
<circle cx="142.3" cy="549.7" r="1.1" fill="#e82828"/>
<circle cx="136.5" cy="554.5" r="1.1" fill="#e82828"/>
<circle cx="136.9" cy="545.3" r="1.1" fill="#e82828"/>
<circle cx="143.9" cy="544.1" r="1.1" fill="#e82828"/>
<circle cx="138.1" cy="548.9" r="1.1" fill="#e82828"/>
<circle cx="138.6" cy="539.6" r="1.1" fill="#e82828"/>
<circle cx="145.6" cy="538.4" r="1.1" fill="#e82828"/>
<circle cx="139.8" cy="543.2" r="1.1" fill="#e82828"/>
<circle cx="143.0" cy="538.8" r="1.1" fill="#e82828"/>
<circle cx="143.1" cy="556.6" r="1.1" fill="#e82828"/>
<circle cx="150.1" cy="555.4" r="1.1" fill="#e82828"/>
<circle cx="144.3" cy="560.2" r="1.1" fill="#e82828"/>
<circle cx="144.8" cy="550.9" r="1.1" fill="#e82828"/>
<circle cx="151.8" cy="549.7" r="1.1" fill="#e82828"/>
<circle cx="146.0" cy="554.5" r="1.1" fill="#e82828"/>
<circle cx="146.4" cy="545.3" r="1.1" fill="#e82828"/>
<circle cx="153.4" cy="544.1" r="1.1" fill="#e82828"/>
<circle cx="147.6" cy="548.9" r="1.1" fill="#e82828"/>
<circle cx="148.1" cy="539.6" r="1.1" fill="#e82828"/>
<circle cx="155.1" cy="538.4" r="1.1" fill="#e82828"/>
<circle cx="149.3" cy="543.2" r="1.1" fill="#e82828"/>
<circle cx="152.5" cy="538.8" r="1.1" fill="#e82828"/>
<circle cx="152.3" cy="556.6" r="1.1" fill="#e82828"/>
<circle cx="159.3" cy="555.4" r="1.1" fill="#e82828"/>
<circle cx="153.5" cy="560.2" r="1.1" fill="#e82828"/>
<circle cx="154.0" cy="550.9" r="1.1" fill="#e82828"/>
<circle cx="161.0" cy="549.7" r="1.1" fill="#e82828"/>
<circle cx="155.2" cy="554.5" r="1.1" fill="#e82828"/>
<circle cx="155.6" cy="545.3" r="1.1" fill="#e82828"/>
<circle cx="162.6" cy="544.1" r="1.1" fill="#e82828"/>
<circle cx="156.8" cy="548.9" r="1.1" fill="#e82828"/>
<circle cx="157.3" cy="539.6" r="1.1" fill="#e82828"/>
<circle cx="164.3" cy="538.4" r="1.1" fill="#e82828"/>
<circle cx="158.5" cy="543.2" r="1.1" fill="#e82828"/>
<circle cx="161.7" cy="538.8" r="1.1" fill="#e82828"/>
<circle cx="161.6" cy="556.6" r="1.1" fill="#e82828"/>
<circle cx="168.6" cy="555.4" r="1.1" fill="#e82828"/>
<circle cx="162.8" cy="560.2" r="1.1" fill="#e82828"/>
<circle cx="163.3" cy="550.9" r="1.1" fill="#e82828"/>
<circle cx="170.3" cy="549.7" r="1.1" fill="#e82828"/>
<circle cx="164.5" cy="554.5" r="1.1" fill="#e82828"/>
<circle cx="164.9" cy="545.3" r="1.1" fill="#e82828"/>
<circle cx="171.9" cy="544.1" r="1.1" fill="#e82828"/>
<circle cx="166.1" cy="548.9" r="1.1" fill="#e82828"/>
<circle cx="166.6" cy="539.6" r="1.1" fill="#e82828"/>
<circle cx="173.6" cy="538.4" r="1.1" fill="#e82828"/>
<circle cx="167.8" cy="543.2" r="1.1" fill="#e82828"/>
<circle cx="171.0" cy="538.8" r="1.1" fill="#e82828"/>
<circle cx="137.0" cy="558.8" r="1.7" fill="#7090ec" stroke="#2a44c0" stroke-width="0.8"/>
<circle cx="139.6" cy="557.6" r="1.7" fill="#7090ec" stroke="#2a44c0" stroke-width="0.8"/>
<circle cx="138.7" cy="553.1" r="1.7" fill="#7090ec" stroke="#2a44c0" stroke-width="0.8"/>
<circle cx="141.3" cy="551.9" r="1.7" fill="#7090ec" stroke="#2a44c0" stroke-width="0.8"/>
<circle cx="140.3" cy="547.5" r="1.7" fill="#7090ec" stroke="#2a44c0" stroke-width="0.8"/>
<circle cx="142.9" cy="546.3" r="1.7" fill="#7090ec" stroke="#2a44c0" stroke-width="0.8"/>
<circle cx="142.0" cy="541.8" r="1.7" fill="#7090ec" stroke="#2a44c0" stroke-width="0.8"/>
<circle cx="144.6" cy="540.6" r="1.7" fill="#7090ec" stroke="#2a44c0" stroke-width="0.8"/>
<circle cx="146.5" cy="558.8" r="1.7" fill="#7090ec" stroke="#2a44c0" stroke-width="0.8"/>
<circle cx="149.1" cy="557.6" r="1.7" fill="#7090ec" stroke="#2a44c0" stroke-width="0.8"/>
<circle cx="148.2" cy="553.1" r="1.7" fill="#7090ec" stroke="#2a44c0" stroke-width="0.8"/>
<circle cx="150.8" cy="551.9" r="1.7" fill="#7090ec" stroke="#2a44c0" stroke-width="0.8"/>
<circle cx="149.8" cy="547.5" r="1.7" fill="#7090ec" stroke="#2a44c0" stroke-width="0.8"/>
<circle cx="152.4" cy="546.3" r="1.7" fill="#7090ec" stroke="#2a44c0" stroke-width="0.8"/>
<circle cx="151.5" cy="541.8" r="1.7" fill="#7090ec" stroke="#2a44c0" stroke-width="0.8"/>
<circle cx="154.1" cy="540.6" r="1.7" fill="#7090ec" stroke="#2a44c0" stroke-width="0.8"/>
<circle cx="155.7" cy="558.8" r="1.7" fill="#7090ec" stroke="#2a44c0" stroke-width="0.8"/>
<circle cx="158.3" cy="557.6" r="1.7" fill="#7090ec" stroke="#2a44c0" stroke-width="0.8"/>
<circle cx="157.4" cy="553.1" r="1.7" fill="#7090ec" stroke="#2a44c0" stroke-width="0.8"/>
<circle cx="160.0" cy="551.9" r="1.7" fill="#7090ec" stroke="#2a44c0" stroke-width="0.8"/>
<circle cx="159.0" cy="547.5" r="1.7" fill="#7090ec" stroke="#2a44c0" stroke-width="0.8"/>
<circle cx="161.6" cy="546.3" r="1.7" fill="#7090ec" stroke="#2a44c0" stroke-width="0.8"/>
<circle cx="160.7" cy="541.8" r="1.7" fill="#7090ec" stroke="#2a44c0" stroke-width="0.8"/>
<circle cx="163.3" cy="540.6" r="1.7" fill="#7090ec" stroke="#2a44c0" stroke-width="0.8"/>
<circle cx="165.0" cy="558.8" r="1.7" fill="#7090ec" stroke="#2a44c0" stroke-width="0.8"/>
<circle cx="167.6" cy="557.6" r="1.7" fill="#7090ec" stroke="#2a44c0" stroke-width="0.8"/>
<circle cx="166.7" cy="553.1" r="1.7" fill="#7090ec" stroke="#2a44c0" stroke-width="0.8"/>
<circle cx="169.3" cy="551.9" r="1.7" fill="#7090ec" stroke="#2a44c0" stroke-width="0.8"/>
<circle cx="168.3" cy="547.5" r="1.7" fill="#7090ec" stroke="#2a44c0" stroke-width="0.8"/>
<circle cx="170.9" cy="546.3" r="1.7" fill="#7090ec" stroke="#2a44c0" stroke-width="0.8"/>
<circle cx="170.0" cy="541.8" r="1.7" fill="#7090ec" stroke="#2a44c0" stroke-width="0.8"/>
<circle cx="172.6" cy="540.6" r="1.7" fill="#7090ec" stroke="#2a44c0" stroke-width="0.8"/>
<line x1="159.2" y1="533.2" x2="159.7" y2="539.2" stroke="#e03030" stroke-width="0.9"/>
<line x1="159.2" y1="533.2" x2="160.7" y2="528.2" stroke="#e03030" stroke-width="0.9"/>
<circle cx="160.7" cy="528.2" r="1.1" fill="#e02828"/>
<line x1="159.2" y1="533.2" x2="155.5" y2="532.5" stroke="#e03030" stroke-width="0.9"/>
<circle cx="155.5" cy="532.5" r="1.1" fill="#e02828"/>
<line x1="159.2" y1="533.2" x2="164.2" y2="534.7" stroke="#e03030" stroke-width="0.9"/>
<circle cx="164.2" cy="534.7" r="1.1" fill="#e02828"/>
<line x1="159.2" y1="533.2" x2="158.5" y2="536.9" stroke="#e03030" stroke-width="0.9"/>
<circle cx="158.5" cy="536.9" r="1.1" fill="#e02828"/>
<circle cx="159.2" cy="533.2" r="1.7" fill="#ecec30" stroke="#b8b000" stroke-width="0.5"/>
<path d="M187.4,558.8 L188.7,552.8 M188.7,552.8 L190.1,546.8 M190.1,546.8 L191.4,540.8 M196.5,558.8 L197.8,552.8 M197.8,552.8 L199.2,546.8 M199.2,546.8 L200.5,540.8 M206.0,558.8 L207.3,552.8 M207.3,552.8 L208.7,546.8 M208.7,546.8 L210.0,540.8 M215.5,558.8 L216.8,552.8 M216.8,552.8 L218.2,546.8 M218.2,546.8 L219.5,540.8 M187.4,558.8 L196.5,558.8 M188.7,552.8 L197.8,552.8 M190.1,546.8 L199.2,546.8 M191.4,540.8 L200.5,540.8 M196.5,558.8 L206.0,558.8 M197.8,552.8 L207.3,552.8 M199.2,546.8 L208.7,546.8 M200.5,540.8 L210.0,540.8 M206.0,558.8 L215.5,558.8 M207.3,552.8 L216.8,552.8 M208.7,546.8 L218.2,546.8 M210.0,540.8 L219.5,540.8" fill="none" stroke="#5070d8" stroke-width="0.6"/>
<path d="M184.0,556.6 L187.4,558.8 L191.0,555.4 M185.2,560.2 L190.0,557.6 M185.3,550.6 L188.7,552.8 L192.3,549.4 M186.5,554.2 L191.3,551.6 M186.7,544.6 L190.1,546.8 L193.7,543.4 M187.9,548.2 L192.7,545.6 M188.0,538.6 L191.4,540.8 L195.0,537.4 M189.2,542.2 L194.0,539.6 M191.4,540.8 L192.4,537.8 M193.1,556.6 L196.5,558.8 L200.1,555.4 M194.3,560.2 L199.1,557.6 M194.4,550.6 L197.8,552.8 L201.4,549.4 M195.6,554.2 L200.4,551.6 M195.8,544.6 L199.2,546.8 L202.8,543.4 M197.0,548.2 L201.8,545.6 M197.1,538.6 L200.5,540.8 L204.1,537.4 M198.3,542.2 L203.1,539.6 M200.5,540.8 L201.5,537.8 M202.6,556.6 L206.0,558.8 L209.6,555.4 M203.8,560.2 L208.6,557.6 M203.9,550.6 L207.3,552.8 L210.9,549.4 M205.1,554.2 L209.9,551.6 M205.3,544.6 L208.7,546.8 L212.3,543.4 M206.5,548.2 L211.3,545.6 M206.6,538.6 L210.0,540.8 L213.6,537.4 M207.8,542.2 L212.6,539.6 M210.0,540.8 L211.0,537.8 M212.1,556.6 L215.5,558.8 L219.1,555.4 M213.3,560.2 L218.1,557.6 M213.4,550.6 L216.8,552.8 L220.4,549.4 M214.6,554.2 L219.4,551.6 M214.8,544.6 L218.2,546.8 L221.8,543.4 M216.0,548.2 L220.8,545.6 M216.1,538.6 L219.5,540.8 L223.1,537.4 M217.3,542.2 L222.1,539.6 M219.5,540.8 L220.5,537.8" fill="none" stroke="#e03a3a" stroke-width="1.1"/>
<circle cx="184.0" cy="556.6" r="1.1" fill="#e82828"/>
<circle cx="191.0" cy="555.4" r="1.1" fill="#e82828"/>
<circle cx="185.2" cy="560.2" r="1.1" fill="#e82828"/>
<circle cx="185.3" cy="550.6" r="1.1" fill="#e82828"/>
<circle cx="192.3" cy="549.4" r="1.1" fill="#e82828"/>
<circle cx="186.5" cy="554.2" r="1.1" fill="#e82828"/>
<circle cx="186.7" cy="544.6" r="1.1" fill="#e82828"/>
<circle cx="193.7" cy="543.4" r="1.1" fill="#e82828"/>
<circle cx="187.9" cy="548.2" r="1.1" fill="#e82828"/>
<circle cx="188.0" cy="538.6" r="1.1" fill="#e82828"/>
<circle cx="195.0" cy="537.4" r="1.1" fill="#e82828"/>
<circle cx="189.2" cy="542.2" r="1.1" fill="#e82828"/>
<circle cx="192.4" cy="537.8" r="1.1" fill="#e82828"/>
<circle cx="193.1" cy="556.6" r="1.1" fill="#e82828"/>
<circle cx="200.1" cy="555.4" r="1.1" fill="#e82828"/>
<circle cx="194.3" cy="560.2" r="1.1" fill="#e82828"/>
<circle cx="194.4" cy="550.6" r="1.1" fill="#e82828"/>
<circle cx="201.4" cy="549.4" r="1.1" fill="#e82828"/>
<circle cx="195.6" cy="554.2" r="1.1" fill="#e82828"/>
<circle cx="195.8" cy="544.6" r="1.1" fill="#e82828"/>
<circle cx="202.8" cy="543.4" r="1.1" fill="#e82828"/>
<circle cx="197.0" cy="548.2" r="1.1" fill="#e82828"/>
<circle cx="197.1" cy="538.6" r="1.1" fill="#e82828"/>
<circle cx="204.1" cy="537.4" r="1.1" fill="#e82828"/>
<circle cx="198.3" cy="542.2" r="1.1" fill="#e82828"/>
<circle cx="201.5" cy="537.8" r="1.1" fill="#e82828"/>
<circle cx="202.6" cy="556.6" r="1.1" fill="#e82828"/>
<circle cx="209.6" cy="555.4" r="1.1" fill="#e82828"/>
<circle cx="203.8" cy="560.2" r="1.1" fill="#e82828"/>
<circle cx="203.9" cy="550.6" r="1.1" fill="#e82828"/>
<circle cx="210.9" cy="549.4" r="1.1" fill="#e82828"/>
<circle cx="205.1" cy="554.2" r="1.1" fill="#e82828"/>
<circle cx="205.3" cy="544.6" r="1.1" fill="#e82828"/>
<circle cx="212.3" cy="543.4" r="1.1" fill="#e82828"/>
<circle cx="206.5" cy="548.2" r="1.1" fill="#e82828"/>
<circle cx="206.6" cy="538.6" r="1.1" fill="#e82828"/>
<circle cx="213.6" cy="537.4" r="1.1" fill="#e82828"/>
<circle cx="207.8" cy="542.2" r="1.1" fill="#e82828"/>
<circle cx="211.0" cy="537.8" r="1.1" fill="#e82828"/>
<circle cx="212.1" cy="556.6" r="1.1" fill="#e82828"/>
<circle cx="219.1" cy="555.4" r="1.1" fill="#e82828"/>
<circle cx="213.3" cy="560.2" r="1.1" fill="#e82828"/>
<circle cx="213.4" cy="550.6" r="1.1" fill="#e82828"/>
<circle cx="220.4" cy="549.4" r="1.1" fill="#e82828"/>
<circle cx="214.6" cy="554.2" r="1.1" fill="#e82828"/>
<circle cx="214.8" cy="544.6" r="1.1" fill="#e82828"/>
<circle cx="221.8" cy="543.4" r="1.1" fill="#e82828"/>
<circle cx="216.0" cy="548.2" r="1.1" fill="#e82828"/>
<circle cx="216.1" cy="538.6" r="1.1" fill="#e82828"/>
<circle cx="223.1" cy="537.4" r="1.1" fill="#e82828"/>
<circle cx="217.3" cy="542.2" r="1.1" fill="#e82828"/>
<circle cx="220.5" cy="537.8" r="1.1" fill="#e82828"/>
<circle cx="187.4" cy="558.8" r="1.7" fill="#7090ec" stroke="#2a44c0" stroke-width="0.8"/>
<circle cx="190.0" cy="557.6" r="1.7" fill="#7090ec" stroke="#2a44c0" stroke-width="0.8"/>
<circle cx="188.7" cy="552.8" r="1.7" fill="#7090ec" stroke="#2a44c0" stroke-width="0.8"/>
<circle cx="191.3" cy="551.6" r="1.7" fill="#7090ec" stroke="#2a44c0" stroke-width="0.8"/>
<circle cx="190.1" cy="546.8" r="1.7" fill="#7090ec" stroke="#2a44c0" stroke-width="0.8"/>
<circle cx="192.7" cy="545.6" r="1.7" fill="#7090ec" stroke="#2a44c0" stroke-width="0.8"/>
<circle cx="191.4" cy="540.8" r="1.7" fill="#7090ec" stroke="#2a44c0" stroke-width="0.8"/>
<circle cx="194.0" cy="539.6" r="1.7" fill="#7090ec" stroke="#2a44c0" stroke-width="0.8"/>
<circle cx="196.5" cy="558.8" r="1.7" fill="#7090ec" stroke="#2a44c0" stroke-width="0.8"/>
<circle cx="199.1" cy="557.6" r="1.7" fill="#7090ec" stroke="#2a44c0" stroke-width="0.8"/>
<circle cx="197.8" cy="552.8" r="1.7" fill="#7090ec" stroke="#2a44c0" stroke-width="0.8"/>
<circle cx="200.4" cy="551.6" r="1.7" fill="#7090ec" stroke="#2a44c0" stroke-width="0.8"/>
<circle cx="199.2" cy="546.8" r="1.7" fill="#7090ec" stroke="#2a44c0" stroke-width="0.8"/>
<circle cx="201.8" cy="545.6" r="1.7" fill="#7090ec" stroke="#2a44c0" stroke-width="0.8"/>
<circle cx="200.5" cy="540.8" r="1.7" fill="#7090ec" stroke="#2a44c0" stroke-width="0.8"/>
<circle cx="203.1" cy="539.6" r="1.7" fill="#7090ec" stroke="#2a44c0" stroke-width="0.8"/>
<circle cx="206.0" cy="558.8" r="1.7" fill="#7090ec" stroke="#2a44c0" stroke-width="0.8"/>
<circle cx="208.6" cy="557.6" r="1.7" fill="#7090ec" stroke="#2a44c0" stroke-width="0.8"/>
<circle cx="207.3" cy="552.8" r="1.7" fill="#7090ec" stroke="#2a44c0" stroke-width="0.8"/>
<circle cx="209.9" cy="551.6" r="1.7" fill="#7090ec" stroke="#2a44c0" stroke-width="0.8"/>
<circle cx="208.7" cy="546.8" r="1.7" fill="#7090ec" stroke="#2a44c0" stroke-width="0.8"/>
<circle cx="211.3" cy="545.6" r="1.7" fill="#7090ec" stroke="#2a44c0" stroke-width="0.8"/>
<circle cx="210.0" cy="540.8" r="1.7" fill="#7090ec" stroke="#2a44c0" stroke-width="0.8"/>
<circle cx="212.6" cy="539.6" r="1.7" fill="#7090ec" stroke="#2a44c0" stroke-width="0.8"/>
<circle cx="215.5" cy="558.8" r="1.7" fill="#7090ec" stroke="#2a44c0" stroke-width="0.8"/>
<circle cx="218.1" cy="557.6" r="1.7" fill="#7090ec" stroke="#2a44c0" stroke-width="0.8"/>
<circle cx="216.8" cy="552.8" r="1.7" fill="#7090ec" stroke="#2a44c0" stroke-width="0.8"/>
<circle cx="219.4" cy="551.6" r="1.7" fill="#7090ec" stroke="#2a44c0" stroke-width="0.8"/>
<circle cx="218.2" cy="546.8" r="1.7" fill="#7090ec" stroke="#2a44c0" stroke-width="0.8"/>
<circle cx="220.8" cy="545.6" r="1.7" fill="#7090ec" stroke="#2a44c0" stroke-width="0.8"/>
<circle cx="219.5" cy="540.8" r="1.7" fill="#7090ec" stroke="#2a44c0" stroke-width="0.8"/>
<circle cx="222.1" cy="539.6" r="1.7" fill="#7090ec" stroke="#2a44c0" stroke-width="0.8"/>
<line x1="206.6" y1="530.3" x2="207.1" y2="536.3" stroke="#e03030" stroke-width="0.9"/>
<line x1="206.6" y1="530.3" x2="208.1" y2="525.3" stroke="#e03030" stroke-width="0.9"/>
<circle cx="208.1" cy="525.3" r="1.1" fill="#e02828"/>
<line x1="206.6" y1="530.3" x2="202.9" y2="529.6" stroke="#e03030" stroke-width="0.9"/>
<circle cx="202.9" cy="529.6" r="1.1" fill="#e02828"/>
<line x1="206.6" y1="530.3" x2="211.6" y2="531.8" stroke="#e03030" stroke-width="0.9"/>
<circle cx="211.6" cy="531.8" r="1.1" fill="#e02828"/>
<line x1="206.6" y1="530.3" x2="205.9" y2="534.0" stroke="#e03030" stroke-width="0.9"/>
<circle cx="205.9" cy="534.0" r="1.1" fill="#e02828"/>
<circle cx="206.6" cy="530.3" r="1.7" fill="#ecec30" stroke="#b8b000" stroke-width="0.5"/>
<text x="251.5" y="414.0" font-size="16.5" font-weight="bold">d</text>
<text x="267.4" y="428.6" font-size="9.5" font-weight="bold" fill="#f21d1d">Electron spin density on Cu</text>
<clipPath id="dclip1"><rect x="273.8" y="434.9" width="96.7" height="59.4"/></clipPath>
<g clip-path="url(#dclip1)">
<path d="M275.8,462.4 L279.3,473.4 L281.8,463.4 M283.4,462.4 L286.9,473.4 L289.4,463.4 M291.0,462.4 L294.5,473.4 L297.0,463.4 M298.6,462.4 L302.1,473.4 L304.6,463.4 M306.2,462.4 L309.7,473.4 L312.2,463.4 M313.8,462.4 L317.3,473.4 L319.8,463.4 M321.4,462.4 L324.9,473.4 L327.4,463.4 M329.0,462.4 L332.5,473.4 L335.0,463.4 M336.6,462.4 L340.1,473.4 L342.6,463.4 M344.2,462.4 L347.7,473.4 L350.2,463.4 M351.8,462.4 L355.3,473.4 L357.8,463.4 M359.4,462.4 L362.9,473.4 L365.4,463.4 M367.0,462.4 L370.5,473.4 L373.0,463.4" fill="none" stroke="#e02828" stroke-width="1.3"/>
<path d="M277.8,461.4 L279.3,472.4 M285.4,461.4 L286.9,472.4 M293.0,461.4 L294.5,472.4 M300.6,461.4 L302.1,472.4 M308.2,461.4 L309.7,472.4 M315.8,461.4 L317.3,472.4 M323.4,461.4 L324.9,472.4 M331.0,461.4 L332.5,472.4 M338.6,461.4 L340.1,472.4 M346.2,461.4 L347.7,472.4 M353.8,461.4 L355.3,472.4 M361.4,461.4 L362.9,472.4 M369.0,461.4 L370.5,472.4" fill="none" stroke="#2a48c8" stroke-width="0.9"/>
<ellipse cx="274.8" cy="484.9" rx="3" ry="2.2" fill="#46c8d0"/>
<ellipse cx="282.0" cy="484.9" rx="3" ry="2.2" fill="#46c8d0"/>
<ellipse cx="289.2" cy="484.9" rx="3" ry="2.2" fill="#46c8d0"/>
<ellipse cx="296.4" cy="484.9" rx="3" ry="2.2" fill="#46c8d0"/>
<ellipse cx="303.6" cy="484.9" rx="3" ry="2.2" fill="#46c8d0"/>
<ellipse cx="310.8" cy="484.9" rx="3" ry="2.2" fill="#46c8d0"/>
<ellipse cx="318.0" cy="484.9" rx="3" ry="2.2" fill="#46c8d0"/>
<ellipse cx="325.2" cy="484.9" rx="3" ry="2.2" fill="#46c8d0"/>
<ellipse cx="332.4" cy="484.9" rx="3" ry="2.2" fill="#46c8d0"/>
<ellipse cx="339.6" cy="484.9" rx="3" ry="2.2" fill="#46c8d0"/>
<ellipse cx="346.8" cy="484.9" rx="3" ry="2.2" fill="#46c8d0"/>
<ellipse cx="354.0" cy="484.9" rx="3" ry="2.2" fill="#46c8d0"/>
<ellipse cx="361.2" cy="484.9" rx="3" ry="2.2" fill="#46c8d0"/>
<ellipse cx="368.4" cy="484.9" rx="3" ry="2.2" fill="#46c8d0"/>
<ellipse cx="276.8" cy="474.4" rx="3.4" ry="2.4" fill="#3cc6cc"/>
<ellipse cx="283.2" cy="474.4" rx="3.4" ry="2.4" fill="#3cc6cc"/>
<ellipse cx="289.6" cy="474.4" rx="3.4" ry="2.4" fill="#3cc6cc"/>
<ellipse cx="296.0" cy="474.4" rx="3.4" ry="2.4" fill="#3cc6cc"/>
<ellipse cx="302.4" cy="474.4" rx="3.4" ry="2.4" fill="#3cc6cc"/>
<ellipse cx="308.8" cy="474.4" rx="3.4" ry="2.4" fill="#3cc6cc"/>
<ellipse cx="315.2" cy="474.4" rx="3.4" ry="2.4" fill="#3cc6cc"/>
<ellipse cx="321.6" cy="474.4" rx="3.4" ry="2.4" fill="#3cc6cc"/>
<ellipse cx="328.0" cy="474.4" rx="3.4" ry="2.4" fill="#3cc6cc"/>
<ellipse cx="334.4" cy="474.4" rx="3.4" ry="2.4" fill="#3cc6cc"/>
<ellipse cx="340.8" cy="474.4" rx="3.4" ry="2.4" fill="#3cc6cc"/>
<ellipse cx="347.2" cy="474.4" rx="3.4" ry="2.4" fill="#3cc6cc"/>
<ellipse cx="353.6" cy="474.4" rx="3.4" ry="2.4" fill="#3cc6cc"/>
<ellipse cx="360.0" cy="474.4" rx="3.4" ry="2.4" fill="#3cc6cc"/>
<ellipse cx="366.4" cy="474.4" rx="3.4" ry="2.4" fill="#3cc6cc"/>
<ellipse cx="372.8" cy="474.4" rx="3.4" ry="2.4" fill="#3cc6cc"/>
<circle cx="276.8" cy="474.4" r="1.3" fill="#8a9a9a"/>
<circle cx="283.2" cy="474.4" r="1.3" fill="#8a9a9a"/>
<circle cx="289.6" cy="474.4" r="1.3" fill="#8a9a9a"/>
<circle cx="296.0" cy="474.4" r="1.3" fill="#8a9a9a"/>
<circle cx="302.4" cy="474.4" r="1.3" fill="#8a9a9a"/>
<circle cx="308.8" cy="474.4" r="1.3" fill="#8a9a9a"/>
<circle cx="315.2" cy="474.4" r="1.3" fill="#8a9a9a"/>
<circle cx="321.6" cy="474.4" r="1.3" fill="#8a9a9a"/>
<circle cx="328.0" cy="474.4" r="1.3" fill="#8a9a9a"/>
<circle cx="334.4" cy="474.4" r="1.3" fill="#8a9a9a"/>
<circle cx="340.8" cy="474.4" r="1.3" fill="#8a9a9a"/>
<circle cx="347.2" cy="474.4" r="1.3" fill="#8a9a9a"/>
<circle cx="353.6" cy="474.4" r="1.3" fill="#8a9a9a"/>
<circle cx="360.0" cy="474.4" r="1.3" fill="#8a9a9a"/>
<circle cx="366.4" cy="474.4" r="1.3" fill="#8a9a9a"/>
<circle cx="372.8" cy="474.4" r="1.3" fill="#8a9a9a"/>
<path d="M272.8,482.9 L276.4,478.9 L280.0,482.9 M280.0,482.9 L283.6,478.9 L287.2,482.9 M287.2,482.9 L290.8,478.9 L294.4,482.9 M294.4,482.9 L298.0,478.9 L301.6,482.9 M301.6,482.9 L305.2,478.9 L308.8,482.9 M308.8,482.9 L312.4,478.9 L316.0,482.9 M316.0,482.9 L319.6,478.9 L323.2,482.9 M323.2,482.9 L326.8,478.9 L330.4,482.9 M330.4,482.9 L334.0,478.9 L337.6,482.9 M337.6,482.9 L341.2,478.9 L344.8,482.9 M344.8,482.9 L348.4,478.9 L352.0,482.9 M352.0,482.9 L355.6,478.9 L359.2,482.9 M359.2,482.9 L362.8,478.9 L366.4,482.9 M366.4,482.9 L370.0,478.9 L373.6,482.9" fill="none" stroke="#e02828" stroke-width="1.3"/>
<path d="M276.4,478.9 L274.4,485.4 M283.6,478.9 L281.6,485.4 M290.8,478.9 L288.8,485.4 M298.0,478.9 L296.0,485.4 M305.2,478.9 L303.2,485.4 M312.4,478.9 L310.4,485.4 M319.6,478.9 L317.6,485.4 M326.8,478.9 L324.8,485.4 M334.0,478.9 L332.0,485.4 M341.2,478.9 L339.2,485.4 M348.4,478.9 L346.4,485.4 M355.6,478.9 L353.6,485.4 M362.8,478.9 L360.8,485.4 M370.0,478.9 L368.0,485.4" fill="none" stroke="#3050d0" stroke-width="0.9"/>
<circle cx="276.8" cy="488.4" r="5.4" fill="url(#gCu2)"/>
<circle cx="286.4" cy="488.4" r="5.4" fill="url(#gCu2)"/>
<circle cx="296.0" cy="488.4" r="5.4" fill="url(#gCu2)"/>
<circle cx="305.6" cy="488.4" r="5.4" fill="url(#gCu2)"/>
<circle cx="315.2" cy="488.4" r="5.4" fill="url(#gCu2)"/>
<circle cx="324.8" cy="488.4" r="5.4" fill="url(#gCu2)"/>
<circle cx="334.4" cy="488.4" r="5.4" fill="url(#gCu2)"/>
<circle cx="344.0" cy="488.4" r="5.4" fill="url(#gCu2)"/>
<rect x="353.5" y="484.4" width="3.8" height="8.5" fill="#62e4ec" rx="1"/>
<rect x="359.8" y="484.4" width="3.8" height="8.5" fill="#62e4ec" rx="1"/>
<rect x="366.1" y="484.4" width="3.8" height="8.5" fill="#62e4ec" rx="1"/>
<circle cx="277.8" cy="445.3" r="8.0" fill="url(#gYb)"/>
<circle cx="287.4" cy="446.3" r="7.2" fill="url(#gYb)"/>
<circle cx="297.0" cy="445.3" r="7.2" fill="url(#gYb)"/>
<circle cx="306.6" cy="446.3" r="8.0" fill="url(#gYb)"/>
<circle cx="316.2" cy="445.3" r="7.2" fill="url(#gYb)"/>
<circle cx="325.8" cy="446.3" r="7.2" fill="url(#gYb)"/>
<circle cx="335.4" cy="445.3" r="8.0" fill="url(#gYb)"/>
<circle cx="345.0" cy="446.3" r="7.2" fill="url(#gYb)"/>
<circle cx="354.6" cy="445.3" r="7.2" fill="url(#gYb)"/>
<circle cx="364.2" cy="446.3" r="8.0" fill="url(#gYb)"/>
<circle cx="373.8" cy="445.3" r="7.2" fill="url(#gYb)"/>
<line x1="277.8" y1="447.7" x2="276.8" y2="457.4" stroke="#e03030" stroke-width="1.2"/>
<circle cx="277.8" cy="445.7" r="3.0" fill="url(#gOr2)"/>
<line x1="287.4" y1="447.7" x2="286.4" y2="457.4" stroke="#e03030" stroke-width="1.2"/>
<circle cx="287.4" cy="445.7" r="3.0" fill="url(#gOr2)"/>
<line x1="297.0" y1="447.7" x2="296.0" y2="457.4" stroke="#e03030" stroke-width="1.2"/>
<circle cx="297.0" cy="445.7" r="3.0" fill="url(#gOr2)"/>
<line x1="306.6" y1="447.7" x2="305.6" y2="457.4" stroke="#e03030" stroke-width="1.2"/>
<circle cx="306.6" cy="445.7" r="3.0" fill="url(#gOr2)"/>
<line x1="316.2" y1="447.7" x2="315.2" y2="457.4" stroke="#e03030" stroke-width="1.2"/>
<circle cx="316.2" cy="445.7" r="3.0" fill="url(#gOr2)"/>
<line x1="325.8" y1="447.7" x2="324.8" y2="457.4" stroke="#e03030" stroke-width="1.2"/>
<circle cx="325.8" cy="445.7" r="3.0" fill="url(#gOr2)"/>
<line x1="335.4" y1="447.7" x2="334.4" y2="457.4" stroke="#e03030" stroke-width="1.2"/>
<circle cx="335.4" cy="445.7" r="3.0" fill="url(#gOr2)"/>
<line x1="345.0" y1="447.7" x2="344.0" y2="457.4" stroke="#e03030" stroke-width="1.2"/>
<circle cx="345.0" cy="445.7" r="3.0" fill="url(#gOr2)"/>
<line x1="354.6" y1="447.7" x2="353.6" y2="457.4" stroke="#e03030" stroke-width="1.2"/>
<circle cx="354.6" cy="445.7" r="3.0" fill="url(#gOr2)"/>
<line x1="364.2" y1="447.7" x2="363.2" y2="457.4" stroke="#e03030" stroke-width="1.2"/>
<circle cx="364.2" cy="445.7" r="3.0" fill="url(#gOr2)"/>
<line x1="373.8" y1="447.7" x2="372.8" y2="457.4" stroke="#e03030" stroke-width="1.2"/>
<circle cx="373.8" cy="445.7" r="3.0" fill="url(#gOr2)"/>
<circle cx="277.8" cy="460.4" r="5.3" fill="url(#gCu2)"/>
<circle cx="287.4" cy="460.4" r="5.3" fill="url(#gCu2)"/>
<circle cx="297.0" cy="460.4" r="5.3" fill="url(#gCu2)"/>
<circle cx="306.6" cy="460.4" r="5.3" fill="url(#gCu2)"/>
<circle cx="316.2" cy="460.4" r="5.3" fill="url(#gCu2)"/>
<circle cx="325.8" cy="460.4" r="5.3" fill="url(#gCu2)"/>
<circle cx="335.4" cy="460.4" r="5.3" fill="url(#gCu2)"/>
<circle cx="345.0" cy="460.4" r="5.3" fill="url(#gCu2)"/>
<circle cx="354.6" cy="460.4" r="5.3" fill="url(#gCu2)"/>
<circle cx="364.2" cy="460.4" r="5.3" fill="url(#gCu2)"/>
<circle cx="373.8" cy="460.4" r="5.3" fill="url(#gCu2)"/>
<circle cx="311.5" cy="459.9" r="2.6" fill="#9ea040" fill-opacity="0.8"/>
<circle cx="310.5" cy="459.4" r="1.4" fill="#d8e090"/>
<circle cx="349.8" cy="459.9" r="2.6" fill="#9ea040" fill-opacity="0.8"/>
<circle cx="348.8" cy="459.4" r="1.4" fill="#d8e090"/>
</g>
<rect x="301.3" y="453.4" width="53.4" height="12.4" fill="none" stroke="#f01818" stroke-width="1.5"/>
<rect x="267.4" y="431.9" width="111.2" height="64.4" fill="none" stroke="#333" stroke-width="1.0"/>
<clipPath id="dclip2"><rect x="384.0" y="434.9" width="103.6" height="59.4"/></clipPath>
<g clip-path="url(#dclip2)">
<path d="M386.0,462.4 L389.5,473.4 L392.0,463.4 M393.6,462.4 L397.1,473.4 L399.6,463.4 M401.2,462.4 L404.7,473.4 L407.2,463.4 M408.8,462.4 L412.3,473.4 L414.8,463.4 M416.4,462.4 L419.9,473.4 L422.4,463.4 M424.0,462.4 L427.5,473.4 L430.0,463.4 M431.6,462.4 L435.1,473.4 L437.6,463.4 M439.2,462.4 L442.7,473.4 L445.2,463.4 M446.8,462.4 L450.3,473.4 L452.8,463.4 M454.4,462.4 L457.9,473.4 L460.4,463.4 M462.0,462.4 L465.5,473.4 L468.0,463.4 M469.6,462.4 L473.1,473.4 L475.6,463.4 M477.2,462.4 L480.7,473.4 L483.2,463.4" fill="none" stroke="#e02828" stroke-width="1.3"/>
<path d="M388.0,461.4 L389.5,472.4 M395.6,461.4 L397.1,472.4 M403.2,461.4 L404.7,472.4 M410.8,461.4 L412.3,472.4 M418.4,461.4 L419.9,472.4 M426.0,461.4 L427.5,472.4 M433.6,461.4 L435.1,472.4 M441.2,461.4 L442.7,472.4 M448.8,461.4 L450.3,472.4 M456.4,461.4 L457.9,472.4 M464.0,461.4 L465.5,472.4 M471.6,461.4 L473.1,472.4 M479.2,461.4 L480.7,472.4" fill="none" stroke="#2a48c8" stroke-width="0.9"/>
<ellipse cx="385.0" cy="484.9" rx="3" ry="2.2" fill="#46c8d0"/>
<ellipse cx="392.2" cy="484.9" rx="3" ry="2.2" fill="#46c8d0"/>
<ellipse cx="399.4" cy="484.9" rx="3" ry="2.2" fill="#46c8d0"/>
<ellipse cx="406.6" cy="484.9" rx="3" ry="2.2" fill="#46c8d0"/>
<ellipse cx="413.8" cy="484.9" rx="3" ry="2.2" fill="#46c8d0"/>
<ellipse cx="421.0" cy="484.9" rx="3" ry="2.2" fill="#46c8d0"/>
<ellipse cx="428.2" cy="484.9" rx="3" ry="2.2" fill="#46c8d0"/>
<ellipse cx="435.4" cy="484.9" rx="3" ry="2.2" fill="#46c8d0"/>
<ellipse cx="442.6" cy="484.9" rx="3" ry="2.2" fill="#46c8d0"/>
<ellipse cx="449.8" cy="484.9" rx="3" ry="2.2" fill="#46c8d0"/>
<ellipse cx="457.0" cy="484.9" rx="3" ry="2.2" fill="#46c8d0"/>
<ellipse cx="464.2" cy="484.9" rx="3" ry="2.2" fill="#46c8d0"/>
<ellipse cx="471.4" cy="484.9" rx="3" ry="2.2" fill="#46c8d0"/>
<ellipse cx="478.6" cy="484.9" rx="3" ry="2.2" fill="#46c8d0"/>
<ellipse cx="387.0" cy="474.4" rx="3.4" ry="2.4" fill="#3cc6cc"/>
<ellipse cx="393.4" cy="474.4" rx="3.4" ry="2.4" fill="#3cc6cc"/>
<ellipse cx="399.8" cy="474.4" rx="3.4" ry="2.4" fill="#3cc6cc"/>
<ellipse cx="406.2" cy="474.4" rx="3.4" ry="2.4" fill="#3cc6cc"/>
<ellipse cx="412.6" cy="474.4" rx="3.4" ry="2.4" fill="#3cc6cc"/>
<ellipse cx="419.0" cy="474.4" rx="3.4" ry="2.4" fill="#3cc6cc"/>
<ellipse cx="425.4" cy="474.4" rx="3.4" ry="2.4" fill="#3cc6cc"/>
<ellipse cx="431.8" cy="474.4" rx="3.4" ry="2.4" fill="#3cc6cc"/>
<ellipse cx="438.2" cy="474.4" rx="3.4" ry="2.4" fill="#3cc6cc"/>
<ellipse cx="444.6" cy="474.4" rx="3.4" ry="2.4" fill="#3cc6cc"/>
<ellipse cx="451.0" cy="474.4" rx="3.4" ry="2.4" fill="#3cc6cc"/>
<ellipse cx="457.4" cy="474.4" rx="3.4" ry="2.4" fill="#3cc6cc"/>
<ellipse cx="463.8" cy="474.4" rx="3.4" ry="2.4" fill="#3cc6cc"/>
<ellipse cx="470.2" cy="474.4" rx="3.4" ry="2.4" fill="#3cc6cc"/>
<ellipse cx="476.6" cy="474.4" rx="3.4" ry="2.4" fill="#3cc6cc"/>
<ellipse cx="483.0" cy="474.4" rx="3.4" ry="2.4" fill="#3cc6cc"/>
<circle cx="387.0" cy="474.4" r="1.3" fill="#8a9a9a"/>
<circle cx="393.4" cy="474.4" r="1.3" fill="#8a9a9a"/>
<circle cx="399.8" cy="474.4" r="1.3" fill="#8a9a9a"/>
<circle cx="406.2" cy="474.4" r="1.3" fill="#8a9a9a"/>
<circle cx="412.6" cy="474.4" r="1.3" fill="#8a9a9a"/>
<circle cx="419.0" cy="474.4" r="1.3" fill="#8a9a9a"/>
<circle cx="425.4" cy="474.4" r="1.3" fill="#8a9a9a"/>
<circle cx="431.8" cy="474.4" r="1.3" fill="#8a9a9a"/>
<circle cx="438.2" cy="474.4" r="1.3" fill="#8a9a9a"/>
<circle cx="444.6" cy="474.4" r="1.3" fill="#8a9a9a"/>
<circle cx="451.0" cy="474.4" r="1.3" fill="#8a9a9a"/>
<circle cx="457.4" cy="474.4" r="1.3" fill="#8a9a9a"/>
<circle cx="463.8" cy="474.4" r="1.3" fill="#8a9a9a"/>
<circle cx="470.2" cy="474.4" r="1.3" fill="#8a9a9a"/>
<circle cx="476.6" cy="474.4" r="1.3" fill="#8a9a9a"/>
<circle cx="483.0" cy="474.4" r="1.3" fill="#8a9a9a"/>
<path d="M383.0,482.9 L386.6,478.9 L390.2,482.9 M390.2,482.9 L393.8,478.9 L397.4,482.9 M397.4,482.9 L401.0,478.9 L404.6,482.9 M404.6,482.9 L408.2,478.9 L411.8,482.9 M411.8,482.9 L415.4,478.9 L419.0,482.9 M419.0,482.9 L422.6,478.9 L426.2,482.9 M426.2,482.9 L429.8,478.9 L433.4,482.9 M433.4,482.9 L437.0,478.9 L440.6,482.9 M440.6,482.9 L444.2,478.9 L447.8,482.9 M447.8,482.9 L451.4,478.9 L455.0,482.9 M455.0,482.9 L458.6,478.9 L462.2,482.9 M462.2,482.9 L465.8,478.9 L469.4,482.9 M469.4,482.9 L473.0,478.9 L476.6,482.9 M476.6,482.9 L480.2,478.9 L483.8,482.9" fill="none" stroke="#e02828" stroke-width="1.3"/>
<path d="M386.6,478.9 L384.6,485.4 M393.8,478.9 L391.8,485.4 M401.0,478.9 L399.0,485.4 M408.2,478.9 L406.2,485.4 M415.4,478.9 L413.4,485.4 M422.6,478.9 L420.6,485.4 M429.8,478.9 L427.8,485.4 M437.0,478.9 L435.0,485.4 M444.2,478.9 L442.2,485.4 M451.4,478.9 L449.4,485.4 M458.6,478.9 L456.6,485.4 M465.8,478.9 L463.8,485.4 M473.0,478.9 L471.0,485.4 M480.2,478.9 L478.2,485.4" fill="none" stroke="#3050d0" stroke-width="0.9"/>
<circle cx="387.0" cy="488.4" r="5.4" fill="url(#gCu2)"/>
<circle cx="396.6" cy="488.4" r="5.4" fill="url(#gCu2)"/>
<circle cx="406.2" cy="488.4" r="5.4" fill="url(#gCu2)"/>
<circle cx="415.8" cy="488.4" r="5.4" fill="url(#gCu2)"/>
<circle cx="425.4" cy="488.4" r="5.4" fill="url(#gCu2)"/>
<circle cx="435.0" cy="488.4" r="5.4" fill="url(#gCu2)"/>
<circle cx="444.6" cy="488.4" r="5.4" fill="url(#gCu2)"/>
<circle cx="454.2" cy="488.4" r="5.4" fill="url(#gCu2)"/>
<circle cx="463.8" cy="488.4" r="5.4" fill="url(#gCu2)"/>
<rect x="470.6" y="484.4" width="3.8" height="8.5" fill="#62e4ec" rx="1"/>
<rect x="476.9" y="484.4" width="3.8" height="8.5" fill="#62e4ec" rx="1"/>
<rect x="483.2" y="484.4" width="3.8" height="8.5" fill="#62e4ec" rx="1"/>
<circle cx="388.0" cy="445.3" r="8.0" fill="url(#gYb)"/>
<circle cx="397.6" cy="446.3" r="7.2" fill="url(#gYb)"/>
<circle cx="407.2" cy="445.3" r="7.2" fill="url(#gYb)"/>
<circle cx="416.8" cy="446.3" r="8.0" fill="url(#gYb)"/>
<circle cx="426.4" cy="445.3" r="7.2" fill="url(#gYb)"/>
<circle cx="436.0" cy="446.3" r="7.2" fill="url(#gYb)"/>
<circle cx="445.6" cy="445.3" r="8.0" fill="url(#gYb)"/>
<circle cx="455.2" cy="446.3" r="7.2" fill="url(#gYb)"/>
<circle cx="464.8" cy="445.3" r="7.2" fill="url(#gYb)"/>
<circle cx="474.4" cy="446.3" r="8.0" fill="url(#gYb)"/>
<circle cx="484.0" cy="445.3" r="7.2" fill="url(#gYb)"/>
<line x1="388.0" y1="447.7" x2="387.0" y2="457.4" stroke="#e03030" stroke-width="1.2"/>
<circle cx="388.0" cy="445.7" r="3.0" fill="url(#gOr2)"/>
<line x1="397.6" y1="447.7" x2="396.6" y2="457.4" stroke="#e03030" stroke-width="1.2"/>
<circle cx="397.6" cy="445.7" r="3.0" fill="url(#gOr2)"/>
<line x1="407.2" y1="447.7" x2="406.2" y2="457.4" stroke="#e03030" stroke-width="1.2"/>
<circle cx="407.2" cy="445.7" r="3.0" fill="url(#gOr2)"/>
<line x1="416.8" y1="447.7" x2="415.8" y2="457.4" stroke="#e03030" stroke-width="1.2"/>
<circle cx="416.8" cy="445.7" r="3.0" fill="url(#gOr2)"/>
<line x1="426.4" y1="447.7" x2="425.4" y2="457.4" stroke="#e03030" stroke-width="1.2"/>
<circle cx="426.4" cy="445.7" r="3.0" fill="url(#gOr2)"/>
<line x1="436.0" y1="447.7" x2="435.0" y2="457.4" stroke="#e03030" stroke-width="1.2"/>
<circle cx="436.0" cy="445.7" r="3.0" fill="url(#gOr2)"/>
<line x1="445.6" y1="447.7" x2="444.6" y2="457.4" stroke="#e03030" stroke-width="1.2"/>
<circle cx="445.6" cy="445.7" r="3.0" fill="url(#gOr2)"/>
<line x1="455.2" y1="447.7" x2="454.2" y2="457.4" stroke="#e03030" stroke-width="1.2"/>
<circle cx="455.2" cy="445.7" r="3.0" fill="url(#gOr2)"/>
<line x1="464.8" y1="447.7" x2="463.8" y2="457.4" stroke="#e03030" stroke-width="1.2"/>
<circle cx="464.8" cy="445.7" r="3.0" fill="url(#gOr2)"/>
<line x1="474.4" y1="447.7" x2="473.4" y2="457.4" stroke="#e03030" stroke-width="1.2"/>
<circle cx="474.4" cy="445.7" r="3.0" fill="url(#gOr2)"/>
<line x1="484.0" y1="447.7" x2="483.0" y2="457.4" stroke="#e03030" stroke-width="1.2"/>
<circle cx="484.0" cy="445.7" r="3.0" fill="url(#gOr2)"/>
<circle cx="388.0" cy="460.4" r="5.3" fill="url(#gCu2)"/>
<circle cx="397.6" cy="460.4" r="5.3" fill="url(#gCu2)"/>
<circle cx="407.2" cy="460.4" r="5.3" fill="url(#gCu2)"/>
<circle cx="416.8" cy="460.4" r="5.3" fill="url(#gCu2)"/>
<circle cx="426.4" cy="460.4" r="5.3" fill="url(#gCu2)"/>
<circle cx="436.0" cy="460.4" r="5.3" fill="url(#gCu2)"/>
<circle cx="445.6" cy="460.4" r="5.3" fill="url(#gCu2)"/>
<circle cx="455.2" cy="460.4" r="5.3" fill="url(#gCu2)"/>
<circle cx="464.8" cy="460.4" r="5.3" fill="url(#gCu2)"/>
<circle cx="474.4" cy="460.4" r="5.3" fill="url(#gCu2)"/>
<circle cx="484.0" cy="460.4" r="5.3" fill="url(#gCu2)"/>
<circle cx="430.3" cy="459.9" r="4.6" fill="#9ea040" fill-opacity="0.8"/>
<circle cx="429.3" cy="459.4" r="1.4" fill="#d8e090"/>
<circle cx="449.4" cy="459.9" r="4.8" fill="#9ea040" fill-opacity="0.8"/>
<circle cx="448.4" cy="459.4" r="1.4" fill="#d8e090"/>
<circle cx="459.4" cy="459.9" r="5.0" fill="#9ea040" fill-opacity="0.8"/>
<circle cx="458.4" cy="459.4" r="1.4" fill="#d8e090"/>
<circle cx="469.5" cy="459.9" r="5.0" fill="#9ea040" fill-opacity="0.8"/>
<circle cx="468.5" cy="459.4" r="1.4" fill="#d8e090"/>
<circle cx="479.0" cy="459.9" r="4.5" fill="#9ea040" fill-opacity="0.8"/>
<circle cx="478.0" cy="459.4" r="1.4" fill="#d8e090"/>
</g>
<line x1="467.9" y1="434.9" x2="467.9" y2="443.9" stroke="#e04040" stroke-width="1.2"/>
<circle cx="467.9" cy="434.9" r="1.8" fill="#f0c8c8" stroke="#c06060" stroke-width="0.6"/>
<rect x="418.8" y="453.4" width="69.4" height="13.0" fill="none" stroke="#f01818" stroke-width="1.5"/>
<rect x="380.5" y="431.9" width="111.1" height="64.4" fill="none" stroke="#333" stroke-width="1.0"/>
<clipPath id="dclip3"><rect x="273.8" y="516.3" width="103.2" height="57.1"/></clipPath>
<g clip-path="url(#dclip3)">
<path d="M275.8,543.8 L279.3,554.8 L281.8,544.8 M283.4,543.8 L286.9,554.8 L289.4,544.8 M291.0,543.8 L294.5,554.8 L297.0,544.8 M298.6,543.8 L302.1,554.8 L304.6,544.8 M306.2,543.8 L309.7,554.8 L312.2,544.8 M313.8,543.8 L317.3,554.8 L319.8,544.8 M321.4,543.8 L324.9,554.8 L327.4,544.8 M329.0,543.8 L332.5,554.8 L335.0,544.8 M336.6,543.8 L340.1,554.8 L342.6,544.8 M344.2,543.8 L347.7,554.8 L350.2,544.8 M351.8,543.8 L355.3,554.8 L357.8,544.8 M359.4,543.8 L362.9,554.8 L365.4,544.8 M367.0,543.8 L370.5,554.8 L373.0,544.8" fill="none" stroke="#e02828" stroke-width="1.3"/>
<path d="M277.8,542.8 L279.3,553.8 M285.4,542.8 L286.9,553.8 M293.0,542.8 L294.5,553.8 M300.6,542.8 L302.1,553.8 M308.2,542.8 L309.7,553.8 M315.8,542.8 L317.3,553.8 M323.4,542.8 L324.9,553.8 M331.0,542.8 L332.5,553.8 M338.6,542.8 L340.1,553.8 M346.2,542.8 L347.7,553.8 M353.8,542.8 L355.3,553.8 M361.4,542.8 L362.9,553.8 M369.0,542.8 L370.5,553.8" fill="none" stroke="#2a48c8" stroke-width="0.9"/>
<ellipse cx="274.8" cy="566.3" rx="3" ry="2.2" fill="#46c8d0"/>
<ellipse cx="282.0" cy="566.3" rx="3" ry="2.2" fill="#46c8d0"/>
<ellipse cx="289.2" cy="566.3" rx="3" ry="2.2" fill="#46c8d0"/>
<ellipse cx="296.4" cy="566.3" rx="3" ry="2.2" fill="#46c8d0"/>
<ellipse cx="303.6" cy="566.3" rx="3" ry="2.2" fill="#46c8d0"/>
<ellipse cx="310.8" cy="566.3" rx="3" ry="2.2" fill="#46c8d0"/>
<ellipse cx="318.0" cy="566.3" rx="3" ry="2.2" fill="#46c8d0"/>
<ellipse cx="325.2" cy="566.3" rx="3" ry="2.2" fill="#46c8d0"/>
<ellipse cx="332.4" cy="566.3" rx="3" ry="2.2" fill="#46c8d0"/>
<ellipse cx="339.6" cy="566.3" rx="3" ry="2.2" fill="#46c8d0"/>
<ellipse cx="346.8" cy="566.3" rx="3" ry="2.2" fill="#46c8d0"/>
<ellipse cx="354.0" cy="566.3" rx="3" ry="2.2" fill="#46c8d0"/>
<ellipse cx="361.2" cy="566.3" rx="3" ry="2.2" fill="#46c8d0"/>
<ellipse cx="368.4" cy="566.3" rx="3" ry="2.2" fill="#46c8d0"/>
<ellipse cx="276.8" cy="555.8" rx="3.4" ry="2.4" fill="#3cc6cc"/>
<ellipse cx="283.2" cy="555.8" rx="3.4" ry="2.4" fill="#3cc6cc"/>
<ellipse cx="289.6" cy="555.8" rx="3.4" ry="2.4" fill="#3cc6cc"/>
<ellipse cx="296.0" cy="555.8" rx="3.4" ry="2.4" fill="#3cc6cc"/>
<ellipse cx="302.4" cy="555.8" rx="3.4" ry="2.4" fill="#3cc6cc"/>
<ellipse cx="308.8" cy="555.8" rx="3.4" ry="2.4" fill="#3cc6cc"/>
<ellipse cx="315.2" cy="555.8" rx="3.4" ry="2.4" fill="#3cc6cc"/>
<ellipse cx="321.6" cy="555.8" rx="3.4" ry="2.4" fill="#3cc6cc"/>
<ellipse cx="328.0" cy="555.8" rx="3.4" ry="2.4" fill="#3cc6cc"/>
<ellipse cx="334.4" cy="555.8" rx="3.4" ry="2.4" fill="#3cc6cc"/>
<ellipse cx="340.8" cy="555.8" rx="3.4" ry="2.4" fill="#3cc6cc"/>
<ellipse cx="347.2" cy="555.8" rx="3.4" ry="2.4" fill="#3cc6cc"/>
<ellipse cx="353.6" cy="555.8" rx="3.4" ry="2.4" fill="#3cc6cc"/>
<ellipse cx="360.0" cy="555.8" rx="3.4" ry="2.4" fill="#3cc6cc"/>
<ellipse cx="366.4" cy="555.8" rx="3.4" ry="2.4" fill="#3cc6cc"/>
<ellipse cx="372.8" cy="555.8" rx="3.4" ry="2.4" fill="#3cc6cc"/>
<circle cx="276.8" cy="555.8" r="1.3" fill="#8a9a9a"/>
<circle cx="283.2" cy="555.8" r="1.3" fill="#8a9a9a"/>
<circle cx="289.6" cy="555.8" r="1.3" fill="#8a9a9a"/>
<circle cx="296.0" cy="555.8" r="1.3" fill="#8a9a9a"/>
<circle cx="302.4" cy="555.8" r="1.3" fill="#8a9a9a"/>
<circle cx="308.8" cy="555.8" r="1.3" fill="#8a9a9a"/>
<circle cx="315.2" cy="555.8" r="1.3" fill="#8a9a9a"/>
<circle cx="321.6" cy="555.8" r="1.3" fill="#8a9a9a"/>
<circle cx="328.0" cy="555.8" r="1.3" fill="#8a9a9a"/>
<circle cx="334.4" cy="555.8" r="1.3" fill="#8a9a9a"/>
<circle cx="340.8" cy="555.8" r="1.3" fill="#8a9a9a"/>
<circle cx="347.2" cy="555.8" r="1.3" fill="#8a9a9a"/>
<circle cx="353.6" cy="555.8" r="1.3" fill="#8a9a9a"/>
<circle cx="360.0" cy="555.8" r="1.3" fill="#8a9a9a"/>
<circle cx="366.4" cy="555.8" r="1.3" fill="#8a9a9a"/>
<circle cx="372.8" cy="555.8" r="1.3" fill="#8a9a9a"/>
<path d="M272.8,564.3 L276.4,560.3 L280.0,564.3 M280.0,564.3 L283.6,560.3 L287.2,564.3 M287.2,564.3 L290.8,560.3 L294.4,564.3 M294.4,564.3 L298.0,560.3 L301.6,564.3 M301.6,564.3 L305.2,560.3 L308.8,564.3 M308.8,564.3 L312.4,560.3 L316.0,564.3 M316.0,564.3 L319.6,560.3 L323.2,564.3 M323.2,564.3 L326.8,560.3 L330.4,564.3 M330.4,564.3 L334.0,560.3 L337.6,564.3 M337.6,564.3 L341.2,560.3 L344.8,564.3 M344.8,564.3 L348.4,560.3 L352.0,564.3 M352.0,564.3 L355.6,560.3 L359.2,564.3 M359.2,564.3 L362.8,560.3 L366.4,564.3 M366.4,564.3 L370.0,560.3 L373.6,564.3" fill="none" stroke="#e02828" stroke-width="1.3"/>
<path d="M276.4,560.3 L274.4,566.8 M283.6,560.3 L281.6,566.8 M290.8,560.3 L288.8,566.8 M298.0,560.3 L296.0,566.8 M305.2,560.3 L303.2,566.8 M312.4,560.3 L310.4,566.8 M319.6,560.3 L317.6,566.8 M326.8,560.3 L324.8,566.8 M334.0,560.3 L332.0,566.8 M341.2,560.3 L339.2,566.8 M348.4,560.3 L346.4,566.8 M355.6,560.3 L353.6,566.8 M362.8,560.3 L360.8,566.8 M370.0,560.3 L368.0,566.8" fill="none" stroke="#3050d0" stroke-width="0.9"/>
<circle cx="276.8" cy="569.8" r="5.4" fill="url(#gCu2)"/>
<circle cx="286.4" cy="569.8" r="5.4" fill="url(#gCu2)"/>
<circle cx="296.0" cy="569.8" r="5.4" fill="url(#gCu2)"/>
<circle cx="305.6" cy="569.8" r="5.4" fill="url(#gCu2)"/>
<circle cx="315.2" cy="569.8" r="5.4" fill="url(#gCu2)"/>
<circle cx="324.8" cy="569.8" r="5.4" fill="url(#gCu2)"/>
<circle cx="334.4" cy="569.8" r="5.4" fill="url(#gCu2)"/>
<circle cx="344.0" cy="569.8" r="5.4" fill="url(#gCu2)"/>
<circle cx="353.6" cy="569.8" r="5.4" fill="url(#gCu2)"/>
<circle cx="363.2" cy="569.8" r="5.4" fill="url(#gCu2)"/>
<circle cx="372.8" cy="569.8" r="5.4" fill="url(#gCu2)"/>
<circle cx="277.8" cy="526.7" r="8.0" fill="url(#gYb)"/>
<circle cx="287.4" cy="527.7" r="7.2" fill="url(#gYb)"/>
<circle cx="297.0" cy="526.7" r="7.2" fill="url(#gYb)"/>
<circle cx="306.6" cy="527.7" r="8.0" fill="url(#gYb)"/>
<circle cx="316.2" cy="526.7" r="7.2" fill="url(#gYb)"/>
<circle cx="325.8" cy="527.7" r="7.2" fill="url(#gYb)"/>
<circle cx="335.4" cy="526.7" r="8.0" fill="url(#gYb)"/>
<circle cx="345.0" cy="527.7" r="7.2" fill="url(#gYb)"/>
<circle cx="354.6" cy="526.7" r="7.2" fill="url(#gYb)"/>
<circle cx="364.2" cy="527.7" r="8.0" fill="url(#gYb)"/>
<circle cx="373.8" cy="526.7" r="7.2" fill="url(#gYb)"/>
<line x1="277.8" y1="529.1" x2="276.8" y2="538.8" stroke="#e03030" stroke-width="1.2"/>
<circle cx="277.8" cy="527.1" r="3.0" fill="url(#gOr2)"/>
<line x1="287.4" y1="529.1" x2="286.4" y2="538.8" stroke="#e03030" stroke-width="1.2"/>
<circle cx="287.4" cy="527.1" r="3.0" fill="url(#gOr2)"/>
<line x1="297.0" y1="529.1" x2="296.0" y2="538.8" stroke="#e03030" stroke-width="1.2"/>
<circle cx="297.0" cy="527.1" r="3.0" fill="url(#gOr2)"/>
<line x1="306.6" y1="529.1" x2="305.6" y2="538.8" stroke="#e03030" stroke-width="1.2"/>
<circle cx="306.6" cy="527.1" r="3.0" fill="url(#gOr2)"/>
<line x1="316.2" y1="529.1" x2="315.2" y2="538.8" stroke="#e03030" stroke-width="1.2"/>
<circle cx="316.2" cy="527.1" r="3.0" fill="url(#gOr2)"/>
<line x1="325.8" y1="529.1" x2="324.8" y2="538.8" stroke="#e03030" stroke-width="1.2"/>
<circle cx="325.8" cy="527.1" r="3.0" fill="url(#gOr2)"/>
<line x1="335.4" y1="529.1" x2="334.4" y2="538.8" stroke="#e03030" stroke-width="1.2"/>
<circle cx="335.4" cy="527.1" r="3.0" fill="url(#gOr2)"/>
<line x1="345.0" y1="529.1" x2="344.0" y2="538.8" stroke="#e03030" stroke-width="1.2"/>
<circle cx="345.0" cy="527.1" r="3.0" fill="url(#gOr2)"/>
<line x1="354.6" y1="529.1" x2="353.6" y2="538.8" stroke="#e03030" stroke-width="1.2"/>
<circle cx="354.6" cy="527.1" r="3.0" fill="url(#gOr2)"/>
<line x1="364.2" y1="529.1" x2="363.2" y2="538.8" stroke="#e03030" stroke-width="1.2"/>
<circle cx="364.2" cy="527.1" r="3.0" fill="url(#gOr2)"/>
<line x1="373.8" y1="529.1" x2="372.8" y2="538.8" stroke="#e03030" stroke-width="1.2"/>
<circle cx="373.8" cy="527.1" r="3.0" fill="url(#gOr2)"/>
<circle cx="277.8" cy="541.8" r="5.3" fill="url(#gCu2)"/>
<circle cx="287.4" cy="541.8" r="5.3" fill="url(#gCu2)"/>
<circle cx="297.0" cy="541.8" r="5.3" fill="url(#gCu2)"/>
<circle cx="306.6" cy="541.8" r="5.3" fill="url(#gCu2)"/>
<circle cx="316.2" cy="541.8" r="5.3" fill="url(#gCu2)"/>
<circle cx="325.8" cy="541.8" r="5.3" fill="url(#gCu2)"/>
<circle cx="335.4" cy="541.8" r="5.3" fill="url(#gCu2)"/>
<circle cx="345.0" cy="541.8" r="5.3" fill="url(#gCu2)"/>
<circle cx="354.6" cy="541.8" r="5.3" fill="url(#gCu2)"/>
<circle cx="364.2" cy="541.8" r="5.3" fill="url(#gCu2)"/>
<circle cx="373.8" cy="541.8" r="5.3" fill="url(#gCu2)"/>
<circle cx="316.0" cy="541.3" r="6.5" fill="#9ea040" fill-opacity="0.8"/>
<circle cx="315.0" cy="540.8" r="1.4" fill="#d8e090"/>
<circle cx="328.0" cy="541.3" r="6.5" fill="#9ea040" fill-opacity="0.8"/>
<circle cx="327.0" cy="540.8" r="1.4" fill="#d8e090"/>
</g>
<rect x="269.6" y="541.4" width="68.6" height="14.0" fill="none" stroke="#f01818" stroke-width="1.5"/>
<rect x="267.4" y="513.3" width="111.2" height="62.1" fill="none" stroke="#333" stroke-width="1.0"/>
<clipPath id="dclip4"><rect x="384.0" y="516.3" width="103.6" height="57.1"/></clipPath>
<g clip-path="url(#dclip4)">
<path d="M386.0,543.8 L389.5,554.8 L392.0,544.8 M393.6,543.8 L397.1,554.8 L399.6,544.8 M401.2,543.8 L404.7,554.8 L407.2,544.8 M408.8,543.8 L412.3,554.8 L414.8,544.8 M416.4,543.8 L419.9,554.8 L422.4,544.8 M424.0,543.8 L427.5,554.8 L430.0,544.8 M431.6,543.8 L435.1,554.8 L437.6,544.8 M439.2,543.8 L442.7,554.8 L445.2,544.8 M446.8,543.8 L450.3,554.8 L452.8,544.8 M454.4,543.8 L457.9,554.8 L460.4,544.8 M462.0,543.8 L465.5,554.8 L468.0,544.8 M469.6,543.8 L473.1,554.8 L475.6,544.8 M477.2,543.8 L480.7,554.8 L483.2,544.8" fill="none" stroke="#e02828" stroke-width="1.3"/>
<path d="M388.0,542.8 L389.5,553.8 M395.6,542.8 L397.1,553.8 M403.2,542.8 L404.7,553.8 M410.8,542.8 L412.3,553.8 M418.4,542.8 L419.9,553.8 M426.0,542.8 L427.5,553.8 M433.6,542.8 L435.1,553.8 M441.2,542.8 L442.7,553.8 M448.8,542.8 L450.3,553.8 M456.4,542.8 L457.9,553.8 M464.0,542.8 L465.5,553.8 M471.6,542.8 L473.1,553.8 M479.2,542.8 L480.7,553.8" fill="none" stroke="#2a48c8" stroke-width="0.9"/>
<ellipse cx="385.0" cy="566.3" rx="3" ry="2.2" fill="#46c8d0"/>
<ellipse cx="392.2" cy="566.3" rx="3" ry="2.2" fill="#46c8d0"/>
<ellipse cx="399.4" cy="566.3" rx="3" ry="2.2" fill="#46c8d0"/>
<ellipse cx="406.6" cy="566.3" rx="3" ry="2.2" fill="#46c8d0"/>
<ellipse cx="413.8" cy="566.3" rx="3" ry="2.2" fill="#46c8d0"/>
<ellipse cx="421.0" cy="566.3" rx="3" ry="2.2" fill="#46c8d0"/>
<ellipse cx="428.2" cy="566.3" rx="3" ry="2.2" fill="#46c8d0"/>
<ellipse cx="435.4" cy="566.3" rx="3" ry="2.2" fill="#46c8d0"/>
<ellipse cx="442.6" cy="566.3" rx="3" ry="2.2" fill="#46c8d0"/>
<ellipse cx="449.8" cy="566.3" rx="3" ry="2.2" fill="#46c8d0"/>
<ellipse cx="457.0" cy="566.3" rx="3" ry="2.2" fill="#46c8d0"/>
<ellipse cx="464.2" cy="566.3" rx="3" ry="2.2" fill="#46c8d0"/>
<ellipse cx="471.4" cy="566.3" rx="3" ry="2.2" fill="#46c8d0"/>
<ellipse cx="478.6" cy="566.3" rx="3" ry="2.2" fill="#46c8d0"/>
<ellipse cx="387.0" cy="555.8" rx="3.4" ry="2.4" fill="#3cc6cc"/>
<ellipse cx="393.4" cy="555.8" rx="3.4" ry="2.4" fill="#3cc6cc"/>
<ellipse cx="399.8" cy="555.8" rx="3.4" ry="2.4" fill="#3cc6cc"/>
<ellipse cx="406.2" cy="555.8" rx="3.4" ry="2.4" fill="#3cc6cc"/>
<ellipse cx="412.6" cy="555.8" rx="3.4" ry="2.4" fill="#3cc6cc"/>
<ellipse cx="419.0" cy="555.8" rx="3.4" ry="2.4" fill="#3cc6cc"/>
<ellipse cx="425.4" cy="555.8" rx="3.4" ry="2.4" fill="#3cc6cc"/>
<ellipse cx="431.8" cy="555.8" rx="3.4" ry="2.4" fill="#3cc6cc"/>
<ellipse cx="438.2" cy="555.8" rx="3.4" ry="2.4" fill="#3cc6cc"/>
<ellipse cx="444.6" cy="555.8" rx="3.4" ry="2.4" fill="#3cc6cc"/>
<ellipse cx="451.0" cy="555.8" rx="3.4" ry="2.4" fill="#3cc6cc"/>
<ellipse cx="457.4" cy="555.8" rx="3.4" ry="2.4" fill="#3cc6cc"/>
<ellipse cx="463.8" cy="555.8" rx="3.4" ry="2.4" fill="#3cc6cc"/>
<ellipse cx="470.2" cy="555.8" rx="3.4" ry="2.4" fill="#3cc6cc"/>
<ellipse cx="476.6" cy="555.8" rx="3.4" ry="2.4" fill="#3cc6cc"/>
<ellipse cx="483.0" cy="555.8" rx="3.4" ry="2.4" fill="#3cc6cc"/>
<circle cx="387.0" cy="555.8" r="1.3" fill="#8a9a9a"/>
<circle cx="393.4" cy="555.8" r="1.3" fill="#8a9a9a"/>
<circle cx="399.8" cy="555.8" r="1.3" fill="#8a9a9a"/>
<circle cx="406.2" cy="555.8" r="1.3" fill="#8a9a9a"/>
<circle cx="412.6" cy="555.8" r="1.3" fill="#8a9a9a"/>
<circle cx="419.0" cy="555.8" r="1.3" fill="#8a9a9a"/>
<circle cx="425.4" cy="555.8" r="1.3" fill="#8a9a9a"/>
<circle cx="431.8" cy="555.8" r="1.3" fill="#8a9a9a"/>
<circle cx="438.2" cy="555.8" r="1.3" fill="#8a9a9a"/>
<circle cx="444.6" cy="555.8" r="1.3" fill="#8a9a9a"/>
<circle cx="451.0" cy="555.8" r="1.3" fill="#8a9a9a"/>
<circle cx="457.4" cy="555.8" r="1.3" fill="#8a9a9a"/>
<circle cx="463.8" cy="555.8" r="1.3" fill="#8a9a9a"/>
<circle cx="470.2" cy="555.8" r="1.3" fill="#8a9a9a"/>
<circle cx="476.6" cy="555.8" r="1.3" fill="#8a9a9a"/>
<circle cx="483.0" cy="555.8" r="1.3" fill="#8a9a9a"/>
<path d="M383.0,564.3 L386.6,560.3 L390.2,564.3 M390.2,564.3 L393.8,560.3 L397.4,564.3 M397.4,564.3 L401.0,560.3 L404.6,564.3 M404.6,564.3 L408.2,560.3 L411.8,564.3 M411.8,564.3 L415.4,560.3 L419.0,564.3 M419.0,564.3 L422.6,560.3 L426.2,564.3 M426.2,564.3 L429.8,560.3 L433.4,564.3 M433.4,564.3 L437.0,560.3 L440.6,564.3 M440.6,564.3 L444.2,560.3 L447.8,564.3 M447.8,564.3 L451.4,560.3 L455.0,564.3 M455.0,564.3 L458.6,560.3 L462.2,564.3 M462.2,564.3 L465.8,560.3 L469.4,564.3 M469.4,564.3 L473.0,560.3 L476.6,564.3 M476.6,564.3 L480.2,560.3 L483.8,564.3" fill="none" stroke="#e02828" stroke-width="1.3"/>
<path d="M386.6,560.3 L384.6,566.8 M393.8,560.3 L391.8,566.8 M401.0,560.3 L399.0,566.8 M408.2,560.3 L406.2,566.8 M415.4,560.3 L413.4,566.8 M422.6,560.3 L420.6,566.8 M429.8,560.3 L427.8,566.8 M437.0,560.3 L435.0,566.8 M444.2,560.3 L442.2,566.8 M451.4,560.3 L449.4,566.8 M458.6,560.3 L456.6,566.8 M465.8,560.3 L463.8,566.8 M473.0,560.3 L471.0,566.8 M480.2,560.3 L478.2,566.8" fill="none" stroke="#3050d0" stroke-width="0.9"/>
<circle cx="387.0" cy="569.8" r="5.4" fill="url(#gCu2)"/>
<circle cx="396.6" cy="569.8" r="5.4" fill="url(#gCu2)"/>
<circle cx="406.2" cy="569.8" r="5.4" fill="url(#gCu2)"/>
<circle cx="415.8" cy="569.8" r="5.4" fill="url(#gCu2)"/>
<circle cx="425.4" cy="569.8" r="5.4" fill="url(#gCu2)"/>
<circle cx="435.0" cy="569.8" r="5.4" fill="url(#gCu2)"/>
<circle cx="444.6" cy="569.8" r="5.4" fill="url(#gCu2)"/>
<circle cx="454.2" cy="569.8" r="5.4" fill="url(#gCu2)"/>
<circle cx="463.8" cy="569.8" r="5.4" fill="url(#gCu2)"/>
<rect x="470.6" y="565.8" width="3.8" height="8.5" fill="#62e4ec" rx="1"/>
<rect x="476.9" y="565.8" width="3.8" height="8.5" fill="#62e4ec" rx="1"/>
<rect x="483.2" y="565.8" width="3.8" height="8.5" fill="#62e4ec" rx="1"/>
<circle cx="388.0" cy="526.7" r="8.0" fill="url(#gYb)"/>
<circle cx="397.6" cy="527.7" r="7.2" fill="url(#gYb)"/>
<circle cx="407.2" cy="526.7" r="7.2" fill="url(#gYb)"/>
<circle cx="416.8" cy="527.7" r="8.0" fill="url(#gYb)"/>
<circle cx="426.4" cy="526.7" r="7.2" fill="url(#gYb)"/>
<circle cx="436.0" cy="527.7" r="7.2" fill="url(#gYb)"/>
<circle cx="445.6" cy="526.7" r="8.0" fill="url(#gYb)"/>
<circle cx="455.2" cy="527.7" r="7.2" fill="url(#gYb)"/>
<circle cx="464.8" cy="526.7" r="7.2" fill="url(#gYb)"/>
<circle cx="474.4" cy="527.7" r="8.0" fill="url(#gYb)"/>
<circle cx="484.0" cy="526.7" r="7.2" fill="url(#gYb)"/>
<line x1="388.0" y1="529.1" x2="387.0" y2="538.8" stroke="#e03030" stroke-width="1.2"/>
<circle cx="388.0" cy="527.1" r="3.0" fill="url(#gOr2)"/>
<line x1="397.6" y1="529.1" x2="396.6" y2="538.8" stroke="#e03030" stroke-width="1.2"/>
<circle cx="397.6" cy="527.1" r="3.0" fill="url(#gOr2)"/>
<line x1="407.2" y1="529.1" x2="406.2" y2="538.8" stroke="#e03030" stroke-width="1.2"/>
<circle cx="407.2" cy="527.1" r="3.0" fill="url(#gOr2)"/>
<line x1="416.8" y1="529.1" x2="415.8" y2="538.8" stroke="#e03030" stroke-width="1.2"/>
<circle cx="416.8" cy="527.1" r="3.0" fill="url(#gOr2)"/>
<line x1="426.4" y1="529.1" x2="425.4" y2="538.8" stroke="#e03030" stroke-width="1.2"/>
<circle cx="426.4" cy="527.1" r="3.0" fill="url(#gOr2)"/>
<line x1="436.0" y1="529.1" x2="435.0" y2="538.8" stroke="#e03030" stroke-width="1.2"/>
<circle cx="436.0" cy="527.1" r="3.0" fill="url(#gOr2)"/>
<line x1="445.6" y1="529.1" x2="444.6" y2="538.8" stroke="#e03030" stroke-width="1.2"/>
<circle cx="445.6" cy="527.1" r="3.0" fill="url(#gOr2)"/>
<line x1="455.2" y1="529.1" x2="454.2" y2="538.8" stroke="#e03030" stroke-width="1.2"/>
<circle cx="455.2" cy="527.1" r="3.0" fill="url(#gOr2)"/>
<line x1="464.8" y1="529.1" x2="463.8" y2="538.8" stroke="#e03030" stroke-width="1.2"/>
<circle cx="464.8" cy="527.1" r="3.0" fill="url(#gOr2)"/>
<line x1="474.4" y1="529.1" x2="473.4" y2="538.8" stroke="#e03030" stroke-width="1.2"/>
<circle cx="474.4" cy="527.1" r="3.0" fill="url(#gOr2)"/>
<line x1="484.0" y1="529.1" x2="483.0" y2="538.8" stroke="#e03030" stroke-width="1.2"/>
<circle cx="484.0" cy="527.1" r="3.0" fill="url(#gOr2)"/>
<circle cx="388.0" cy="541.8" r="5.3" fill="url(#gCu2)"/>
<circle cx="397.6" cy="541.8" r="5.3" fill="url(#gCu2)"/>
<circle cx="407.2" cy="541.8" r="5.3" fill="url(#gCu2)"/>
<circle cx="416.8" cy="541.8" r="5.3" fill="url(#gCu2)"/>
<circle cx="426.4" cy="541.8" r="5.3" fill="url(#gCu2)"/>
<circle cx="436.0" cy="541.8" r="5.3" fill="url(#gCu2)"/>
<circle cx="445.6" cy="541.8" r="5.3" fill="url(#gCu2)"/>
<circle cx="455.2" cy="541.8" r="5.3" fill="url(#gCu2)"/>
<circle cx="464.8" cy="541.8" r="5.3" fill="url(#gCu2)"/>
<circle cx="474.4" cy="541.8" r="5.3" fill="url(#gCu2)"/>
<circle cx="484.0" cy="541.8" r="5.3" fill="url(#gCu2)"/>
<circle cx="429.0" cy="541.3" r="5.0" fill="#9ea040" fill-opacity="0.8"/>
<circle cx="428.0" cy="540.8" r="1.4" fill="#d8e090"/>
<circle cx="439.0" cy="541.3" r="5.0" fill="#9ea040" fill-opacity="0.8"/>
<circle cx="438.0" cy="540.8" r="1.4" fill="#d8e090"/>
<circle cx="449.0" cy="541.3" r="5.0" fill="#9ea040" fill-opacity="0.8"/>
<circle cx="448.0" cy="540.8" r="1.4" fill="#d8e090"/>
<circle cx="460.0" cy="541.3" r="5.0" fill="#9ea040" fill-opacity="0.8"/>
<circle cx="459.0" cy="540.8" r="1.4" fill="#d8e090"/>
<circle cx="470.0" cy="541.3" r="5.0" fill="#9ea040" fill-opacity="0.8"/>
<circle cx="469.0" cy="540.8" r="1.4" fill="#d8e090"/>
</g>
<line x1="467.9" y1="516.3" x2="467.9" y2="525.3" stroke="#e04040" stroke-width="1.2"/>
<circle cx="467.9" cy="516.3" r="1.8" fill="#f0c8c8" stroke="#c06060" stroke-width="0.6"/>
<rect x="417.8" y="542.2" width="69.4" height="13.1" fill="none" stroke="#f01818" stroke-width="1.5"/>
<rect x="380.5" y="513.3" width="111.1" height="62.1" fill="none" stroke="#333" stroke-width="1.0"/>
<text x="324.7" y="508.0" font-size="9.4" text-anchor="middle" font-weight="bold">CuO</text>
<text x="437.0" y="508.0" font-size="9.4" text-anchor="middle" font-weight="bold">OH-CuO</text>
<text x="325.4" y="593.6" font-size="9.4" text-anchor="middle" font-weight="bold">O<tspan font-size="6.4" dy="1.8">v</tspan><tspan dy="-1.8">-CuO</tspan></text>
<text x="439" y="593.6" font-size="9.4" text-anchor="middle" font-weight="bold">OH-O<tspan font-size="6.4" dy="1.8">v</tspan><tspan dy="-1.8">-CuO</tspan></text>
<text x="495.3" y="415.0" font-size="16.5" font-weight="bold">e</text>
<ellipse cx="531.3" cy="468.8" rx="3" ry="4" fill="#74dde4" fill-opacity="0.9"/>
<ellipse cx="535.3" cy="464.8" rx="2.6" ry="5.5" fill="#eef07a" fill-opacity="0.9"/>
<ellipse cx="540.3" cy="460.8" rx="2.6" ry="6" fill="#eef07a" fill-opacity="0.9"/>
<ellipse cx="548.9" cy="457.8" rx="7.5" ry="10.5" fill="#74dde4" fill-opacity="0.9"/>
<ellipse cx="544.3" cy="462.8" rx="2.5" ry="6" fill="#eef07a" fill-opacity="0.9"/>
<ellipse cx="553.8" cy="455.8" rx="2.2" ry="7" fill="#eef07a" fill-opacity="0.9"/>
<ellipse cx="559.3" cy="457.8" rx="3.6" ry="7" fill="#eef07a" fill-opacity="0.9"/>
<ellipse cx="562.3" cy="462.8" rx="2.5" ry="4" fill="#74dde4" fill-opacity="0.9"/>
<ellipse cx="521.3" cy="461.8" rx="2.5" ry="2.5" fill="#eef07a" fill-opacity="0.9"/>
<clipPath id="eclip1"><rect x="513.3" y="425.8" width="75.5" height="66"/></clipPath>
<g clip-path="url(#eclip1)">
<path d="M519.8,470.2 L523.0,477.9 M519.8,470.2 L523.4,461.8 M526.2,470.2 L529.4,477.9 M526.2,470.2 L529.8,461.8 M532.6,470.2 L535.8,477.9 M532.6,470.2 L536.2,461.8 M539.0,470.2 L542.2,477.9 M539.0,470.2 L542.6,461.8 M545.4,470.2 L548.6,477.9 M545.4,470.2 L549.0,461.8 M551.8,470.2 L555.0,477.9 M551.8,470.2 L555.4,461.8 M558.2,470.2 L561.4,477.9 M558.2,470.2 L561.8,461.8 M564.6,470.2 L567.8,477.9 M564.6,470.2 L568.2,461.8 M571.0,470.2 L574.2,477.9 M571.0,470.2 L574.6,461.8 M577.4,470.2 L580.6,477.9 M577.4,470.2 L581.0,461.8 M583.8,470.2 L587.0,477.9 M583.8,470.2 L587.4,461.8 M590.2,470.2 L593.4,477.9 M590.2,470.2 L593.8,461.8 M596.6,470.2 L599.8,477.9 M596.6,470.2 L600.2,461.8 M516.4,477.9 L513.1,486.2 M522.8,477.9 L519.5,486.2 M529.2,477.9 L525.9,486.2 M535.6,477.9 L532.3,486.2 M542.0,477.9 L538.7,486.2 M548.4,477.9 L545.1,486.2 M554.8,477.9 L551.5,486.2 M561.2,477.9 L557.9,486.2 M567.6,477.9 L564.3,486.2 M574.0,477.9 L570.7,486.2 M580.4,477.9 L577.1,486.2 M586.8,477.9 L583.5,486.2 M593.2,477.9 L589.9,486.2" fill="none" stroke="#3048c8" stroke-width="0.9"/>
<path d="M516.4,461.8 L519.8,470.2 L516.4,477.9 M522.8,461.8 L526.2,470.2 L522.8,477.9 M529.2,461.8 L532.6,470.2 L529.2,477.9 M535.6,461.8 L539.0,470.2 L535.6,477.9 M542.0,461.8 L545.4,470.2 L542.0,477.9 M548.4,461.8 L551.8,470.2 L548.4,477.9 M554.8,461.8 L558.2,470.2 L554.8,477.9 M561.2,461.8 L564.6,470.2 L561.2,477.9 M567.6,461.8 L571.0,470.2 L567.6,477.9 M574.0,461.8 L577.4,470.2 L574.0,477.9 M580.4,461.8 L583.8,470.2 L580.4,477.9 M586.8,461.8 L590.2,470.2 L586.8,477.9 M593.2,461.8 L596.6,470.2 L593.2,477.9 M516.4,477.9 L519.7,486.2 M522.8,477.9 L526.1,486.2 M529.2,477.9 L532.5,486.2 M535.6,477.9 L538.9,486.2 M542.0,477.9 L545.3,486.2 M548.4,477.9 L551.7,486.2 M554.8,477.9 L558.1,486.2 M561.2,477.9 L564.5,486.2 M567.6,477.9 L570.9,486.2 M574.0,477.9 L577.3,486.2 M580.4,477.9 L583.7,486.2 M586.8,477.9 L590.1,486.2 M593.2,477.9 L596.5,486.2" fill="none" stroke="#e02828" stroke-width="1.0"/>
<circle cx="516.4" cy="461.8" r="1.6" fill="url(#gO)"/>
<circle cx="522.8" cy="461.8" r="1.6" fill="url(#gO)"/>
<circle cx="529.2" cy="461.8" r="1.6" fill="url(#gO)"/>
<circle cx="535.6" cy="461.8" r="1.6" fill="url(#gO)"/>
<circle cx="542.0" cy="461.8" r="1.6" fill="url(#gO)"/>
<circle cx="548.4" cy="461.8" r="1.6" fill="url(#gO)"/>
<circle cx="554.8" cy="461.8" r="1.6" fill="url(#gO)"/>
<circle cx="561.2" cy="461.8" r="1.6" fill="url(#gO)"/>
<circle cx="567.6" cy="461.8" r="1.6" fill="url(#gO)"/>
<circle cx="574.0" cy="461.8" r="1.6" fill="url(#gO)"/>
<circle cx="580.4" cy="461.8" r="1.6" fill="url(#gO)"/>
<circle cx="586.8" cy="461.8" r="1.6" fill="url(#gO)"/>
<circle cx="593.2" cy="461.8" r="1.6" fill="url(#gO)"/>
<circle cx="516.4" cy="477.9" r="1.6" fill="url(#gO)"/>
<circle cx="522.8" cy="477.9" r="1.6" fill="url(#gO)"/>
<circle cx="529.2" cy="477.9" r="1.6" fill="url(#gO)"/>
<circle cx="535.6" cy="477.9" r="1.6" fill="url(#gO)"/>
<circle cx="542.0" cy="477.9" r="1.6" fill="url(#gO)"/>
<circle cx="548.4" cy="477.9" r="1.6" fill="url(#gO)"/>
<circle cx="554.8" cy="477.9" r="1.6" fill="url(#gO)"/>
<circle cx="561.2" cy="477.9" r="1.6" fill="url(#gO)"/>
<circle cx="567.6" cy="477.9" r="1.6" fill="url(#gO)"/>
<circle cx="574.0" cy="477.9" r="1.6" fill="url(#gO)"/>
<circle cx="580.4" cy="477.9" r="1.6" fill="url(#gO)"/>
<circle cx="586.8" cy="477.9" r="1.6" fill="url(#gO)"/>
<circle cx="593.2" cy="477.9" r="1.6" fill="url(#gO)"/>
<circle cx="526.6" cy="470.2" r="2.9" fill="url(#gCu2)"/>
<circle cx="533.8" cy="470.2" r="2.9" fill="url(#gCu2)"/>
<circle cx="540.1" cy="470.2" r="2.9" fill="url(#gCu2)"/>
<circle cx="545.9" cy="470.2" r="2.9" fill="url(#gCu2)"/>
<circle cx="552.3" cy="470.2" r="2.9" fill="url(#gCu2)"/>
<circle cx="559.4" cy="470.2" r="2.9" fill="url(#gCu2)"/>
<circle cx="565.2" cy="470.2" r="2.9" fill="url(#gCu2)"/>
<circle cx="571.6" cy="470.2" r="2.9" fill="url(#gCu2)"/>
<circle cx="578.0" cy="470.2" r="2.9" fill="url(#gCu2)"/>
<circle cx="522.1" cy="486.2" r="3.3" fill="url(#gCu2)"/>
<circle cx="528.6" cy="486.2" r="3.3" fill="url(#gCu2)"/>
<circle cx="535.2" cy="486.2" r="3.3" fill="url(#gCu2)"/>
<circle cx="541.8" cy="486.2" r="3.3" fill="url(#gCu2)"/>
<circle cx="548.3" cy="486.2" r="3.3" fill="url(#gCu2)"/>
<circle cx="554.9" cy="486.2" r="3.3" fill="url(#gCu2)"/>
<circle cx="561.4" cy="486.2" r="3.3" fill="url(#gCu2)"/>
<circle cx="568.0" cy="486.2" r="3.3" fill="url(#gCu2)"/>
<circle cx="574.5" cy="486.2" r="3.3" fill="url(#gCu2)"/>
<circle cx="581.0" cy="486.2" r="3.3" fill="url(#gCu2)"/>
<circle cx="587.6" cy="486.2" r="3.3" fill="url(#gCu2)"/>
</g>
<ellipse cx="547.3" cy="458.8" rx="5" ry="8" fill="#74dde4" fill-opacity="0.9"/>
<ellipse cx="557.3" cy="456.8" rx="3" ry="6" fill="#eef07a" fill-opacity="0.9"/>
<ellipse cx="531.3" cy="466.8" rx="2.6" ry="3.5" fill="#74dde4" fill-opacity="0.55"/>
<ellipse cx="536.3" cy="468.8" rx="2.2" ry="4" fill="#eef07a" fill-opacity="0.55"/>
<ellipse cx="542.3" cy="469.8" rx="2.4" ry="3.5" fill="#74dde4" fill-opacity="0.55"/>
<ellipse cx="554.3" cy="466.8" rx="3" ry="3" fill="#eef07a" fill-opacity="0.55"/>
<ellipse cx="561.3" cy="465.8" rx="2.6" ry="2.6" fill="#74dde4" fill-opacity="0.55"/>
<ellipse cx="539.3" cy="476.8" rx="2.2" ry="2.2" fill="#eef07a" fill-opacity="0.55"/>
<ellipse cx="551.3" cy="476.8" rx="2.2" ry="2.2" fill="#74dde4" fill-opacity="0.55"/>
<circle cx="537.5" cy="438.2" r="3.4" fill="#74dde4" fill-opacity="0.85"/>
<circle cx="546.5" cy="432.3" r="2.4" fill="#74dde4" fill-opacity="0.85"/>
<circle cx="558.7" cy="434.6" r="3.2" fill="#eef07a" fill-opacity="0.85"/>
<circle cx="549.1" cy="445.1" r="2.2" fill="#74dde4" fill-opacity="0.85"/>
<circle cx="543.3" cy="436.8" r="1.6" fill="#eef07a" fill-opacity="0.85"/>
<line x1="548.5" y1="440.0" x2="537.5" y2="438.7" stroke="#e03030" stroke-width="0.9"/>
<line x1="548.5" y1="440.0" x2="546.5" y2="432.9" stroke="#e03030" stroke-width="0.9"/>
<line x1="548.5" y1="440.0" x2="558.7" y2="434.8" stroke="#e03030" stroke-width="0.9"/>
<line x1="548.5" y1="440.0" x2="549.1" y2="445.1" stroke="#e03030" stroke-width="0.9"/>
<circle cx="537.5" cy="438.7" r="1.5" fill="url(#gO)"/>
<circle cx="546.5" cy="432.9" r="1.5" fill="url(#gO)"/>
<circle cx="558.7" cy="434.8" r="1.5" fill="url(#gO)"/>
<circle cx="549.1" cy="445.1" r="1.5" fill="url(#gO)"/>
<circle cx="548.5" cy="440.0" r="2.4" fill="url(#gS)"/>
<text x="514.9" y="451.5" font-size="8.3" font-weight="bold" fill="#f21d1d">0.1 e<tspan font-size="5.2" dy="-3.2" fill="#222">-</tspan></text>
<path d="M532,457.5 Q534,450 542.5,448.2" fill="none" stroke="#111" stroke-width="1.2"/>
<path d="M545.0,447.5 L542.9,449.9 L542.0,446.5 Z" fill="#111"/>
<rect x="509.3" y="424.8" width="83.5" height="68.2" fill="none" stroke="#444" stroke-width="1.0"/>
<ellipse cx="614.3" cy="468.8" rx="3" ry="4" fill="#74dde4" fill-opacity="0.9"/>
<ellipse cx="617.3" cy="464.8" rx="2.6" ry="5.5" fill="#eef07a" fill-opacity="0.9"/>
<ellipse cx="622.3" cy="461.8" rx="2.6" ry="6" fill="#eef07a" fill-opacity="0.9"/>
<ellipse cx="635.3" cy="457.8" rx="8" ry="10.5" fill="#74dde4" fill-opacity="0.9"/>
<ellipse cx="630.3" cy="462.8" rx="2.5" ry="6" fill="#eef07a" fill-opacity="0.9"/>
<ellipse cx="640.3" cy="455.8" rx="2.2" ry="7" fill="#eef07a" fill-opacity="0.9"/>
<ellipse cx="645.3" cy="459.8" rx="3.8" ry="7.5" fill="#eef07a" fill-opacity="0.9"/>
<ellipse cx="649.3" cy="462.8" rx="2.5" ry="4" fill="#74dde4" fill-opacity="0.9"/>
<ellipse cx="606.3" cy="460.8" rx="2.5" ry="2.5" fill="#eef07a" fill-opacity="0.9"/>
<ellipse cx="612.3" cy="460.8" rx="2" ry="2" fill="#74dde4" fill-opacity="0.9"/>
<clipPath id="eclip2"><rect x="598.3" y="425.8" width="75.5" height="66"/></clipPath>
<g clip-path="url(#eclip2)">
<path d="M604.8,470.2 L608.0,477.9 M604.8,470.2 L608.4,461.8 M611.2,470.2 L614.4,477.9 M611.2,470.2 L614.8,461.8 M617.6,470.2 L620.8,477.9 M617.6,470.2 L621.2,461.8 M624.0,470.2 L627.2,477.9 M624.0,470.2 L627.6,461.8 M630.4,470.2 L633.6,477.9 M630.4,470.2 L634.0,461.8 M636.8,470.2 L640.0,477.9 M636.8,470.2 L640.4,461.8 M643.2,470.2 L646.4,477.9 M643.2,470.2 L646.8,461.8 M649.6,470.2 L652.8,477.9 M649.6,470.2 L653.2,461.8 M656.0,470.2 L659.2,477.9 M656.0,470.2 L659.6,461.8 M662.4,470.2 L665.6,477.9 M662.4,470.2 L666.0,461.8 M668.8,470.2 L672.0,477.9 M668.8,470.2 L672.4,461.8 M675.2,470.2 L678.4,477.9 M675.2,470.2 L678.8,461.8 M681.6,470.2 L684.8,477.9 M681.6,470.2 L685.2,461.8 M601.4,477.9 L598.1,486.2 M607.8,477.9 L604.5,486.2 M614.2,477.9 L610.9,486.2 M620.6,477.9 L617.3,486.2 M627.0,477.9 L623.7,486.2 M633.4,477.9 L630.1,486.2 M639.8,477.9 L636.5,486.2 M646.2,477.9 L642.9,486.2 M652.6,477.9 L649.3,486.2 M659.0,477.9 L655.7,486.2 M665.4,477.9 L662.1,486.2 M671.8,477.9 L668.5,486.2 M678.2,477.9 L674.9,486.2" fill="none" stroke="#3048c8" stroke-width="0.9"/>
<path d="M601.4,461.8 L604.8,470.2 L601.4,477.9 M607.8,461.8 L611.2,470.2 L607.8,477.9 M614.2,461.8 L617.6,470.2 L614.2,477.9 M620.6,461.8 L624.0,470.2 L620.6,477.9 M627.0,461.8 L630.4,470.2 L627.0,477.9 M633.4,461.8 L636.8,470.2 L633.4,477.9 M639.8,461.8 L643.2,470.2 L639.8,477.9 M646.2,461.8 L649.6,470.2 L646.2,477.9 M652.6,461.8 L656.0,470.2 L652.6,477.9 M659.0,461.8 L662.4,470.2 L659.0,477.9 M665.4,461.8 L668.8,470.2 L665.4,477.9 M671.8,461.8 L675.2,470.2 L671.8,477.9 M678.2,461.8 L681.6,470.2 L678.2,477.9 M601.4,477.9 L604.7,486.2 M607.8,477.9 L611.1,486.2 M614.2,477.9 L617.5,486.2 M620.6,477.9 L623.9,486.2 M627.0,477.9 L630.3,486.2 M633.4,477.9 L636.7,486.2 M639.8,477.9 L643.1,486.2 M646.2,477.9 L649.5,486.2 M652.6,477.9 L655.9,486.2 M659.0,477.9 L662.3,486.2 M665.4,477.9 L668.7,486.2 M671.8,477.9 L675.1,486.2 M678.2,477.9 L681.5,486.2" fill="none" stroke="#e02828" stroke-width="1.0"/>
<circle cx="601.4" cy="461.8" r="1.6" fill="url(#gO)"/>
<circle cx="607.8" cy="461.8" r="1.6" fill="url(#gO)"/>
<circle cx="614.2" cy="461.8" r="1.6" fill="url(#gO)"/>
<circle cx="620.6" cy="461.8" r="1.6" fill="url(#gO)"/>
<circle cx="627.0" cy="461.8" r="1.6" fill="url(#gO)"/>
<circle cx="633.4" cy="461.8" r="1.6" fill="url(#gO)"/>
<circle cx="639.8" cy="461.8" r="1.6" fill="url(#gO)"/>
<circle cx="646.2" cy="461.8" r="1.6" fill="url(#gO)"/>
<circle cx="652.6" cy="461.8" r="1.6" fill="url(#gO)"/>
<circle cx="659.0" cy="461.8" r="1.6" fill="url(#gO)"/>
<circle cx="665.4" cy="461.8" r="1.6" fill="url(#gO)"/>
<circle cx="671.8" cy="461.8" r="1.6" fill="url(#gO)"/>
<circle cx="678.2" cy="461.8" r="1.6" fill="url(#gO)"/>
<circle cx="601.4" cy="477.9" r="1.6" fill="url(#gO)"/>
<circle cx="607.8" cy="477.9" r="1.6" fill="url(#gO)"/>
<circle cx="614.2" cy="477.9" r="1.6" fill="url(#gO)"/>
<circle cx="620.6" cy="477.9" r="1.6" fill="url(#gO)"/>
<circle cx="627.0" cy="477.9" r="1.6" fill="url(#gO)"/>
<circle cx="633.4" cy="477.9" r="1.6" fill="url(#gO)"/>
<circle cx="639.8" cy="477.9" r="1.6" fill="url(#gO)"/>
<circle cx="646.2" cy="477.9" r="1.6" fill="url(#gO)"/>
<circle cx="652.6" cy="477.9" r="1.6" fill="url(#gO)"/>
<circle cx="659.0" cy="477.9" r="1.6" fill="url(#gO)"/>
<circle cx="665.4" cy="477.9" r="1.6" fill="url(#gO)"/>
<circle cx="671.8" cy="477.9" r="1.6" fill="url(#gO)"/>
<circle cx="678.2" cy="477.9" r="1.6" fill="url(#gO)"/>
<circle cx="611.6" cy="470.2" r="2.9" fill="url(#gCu2)"/>
<circle cx="618.8" cy="470.2" r="2.9" fill="url(#gCu2)"/>
<circle cx="625.1" cy="470.2" r="2.9" fill="url(#gCu2)"/>
<circle cx="630.9" cy="470.2" r="2.9" fill="url(#gCu2)"/>
<circle cx="637.3" cy="470.2" r="2.9" fill="url(#gCu2)"/>
<circle cx="644.4" cy="470.2" r="2.9" fill="url(#gCu2)"/>
<circle cx="650.2" cy="470.2" r="2.9" fill="url(#gCu2)"/>
<circle cx="656.6" cy="470.2" r="2.9" fill="url(#gCu2)"/>
<circle cx="663.0" cy="470.2" r="2.9" fill="url(#gCu2)"/>
<circle cx="607.1" cy="486.2" r="3.3" fill="url(#gCu2)"/>
<circle cx="613.6" cy="486.2" r="3.3" fill="url(#gCu2)"/>
<circle cx="620.2" cy="486.2" r="3.3" fill="url(#gCu2)"/>
<circle cx="626.8" cy="486.2" r="3.3" fill="url(#gCu2)"/>
<circle cx="633.3" cy="486.2" r="3.3" fill="url(#gCu2)"/>
<circle cx="639.8" cy="486.2" r="3.3" fill="url(#gCu2)"/>
<circle cx="646.4" cy="486.2" r="3.3" fill="url(#gCu2)"/>
<circle cx="652.9" cy="486.2" r="3.3" fill="url(#gCu2)"/>
<circle cx="659.5" cy="486.2" r="3.3" fill="url(#gCu2)"/>
<circle cx="666.0" cy="486.2" r="3.3" fill="url(#gCu2)"/>
<circle cx="672.6" cy="486.2" r="3.3" fill="url(#gCu2)"/>
</g>
<ellipse cx="634.3" cy="454.8" rx="5" ry="9" fill="#74dde4" fill-opacity="0.9"/>
<ellipse cx="634.3" cy="446.8" rx="3" ry="5" fill="#74dde4" fill-opacity="0.9"/>
<ellipse cx="641.3" cy="458.8" rx="3" ry="6" fill="#eef07a" fill-opacity="0.9"/>
<ellipse cx="614.3" cy="467.8" rx="2.6" ry="3.5" fill="#74dde4" fill-opacity="0.55"/>
<ellipse cx="620.3" cy="469.8" rx="2.2" ry="4" fill="#eef07a" fill-opacity="0.55"/>
<ellipse cx="626.3" cy="469.8" rx="2.4" ry="3.5" fill="#74dde4" fill-opacity="0.55"/>
<ellipse cx="642.3" cy="466.8" rx="3" ry="3" fill="#eef07a" fill-opacity="0.55"/>
<ellipse cx="649.3" cy="465.8" rx="2.6" ry="2.6" fill="#74dde4" fill-opacity="0.55"/>
<ellipse cx="622.3" cy="476.8" rx="2.2" ry="2.2" fill="#eef07a" fill-opacity="0.55"/>
<ellipse cx="638.3" cy="476.8" rx="2.2" ry="2.2" fill="#74dde4" fill-opacity="0.55"/>
<circle cx="624.3" cy="438.8" r="3.5" fill="#74dde4" fill-opacity="0.85"/>
<circle cx="633.3" cy="432.3" r="2.4" fill="#eef07a" fill-opacity="0.85"/>
<circle cx="642.8" cy="438.3" r="3.6" fill="#74dde4" fill-opacity="0.85"/>
<circle cx="627.3" cy="435.8" r="1.8" fill="#eef07a" fill-opacity="0.85"/>
<line x1="634.1" y1="438.7" x2="624.3" y2="438.8" stroke="#e03030" stroke-width="0.9"/>
<line x1="634.1" y1="438.7" x2="633.3" y2="432.3" stroke="#e03030" stroke-width="0.9"/>
<line x1="634.1" y1="438.7" x2="642.8" y2="438.8" stroke="#e03030" stroke-width="0.9"/>
<line x1="634.1" y1="438.7" x2="634.3" y2="445.3" stroke="#e03030" stroke-width="0.9"/>
<circle cx="624.3" cy="438.8" r="1.5" fill="url(#gO)"/>
<circle cx="633.3" cy="432.3" r="1.5" fill="url(#gO)"/>
<circle cx="642.8" cy="438.8" r="1.5" fill="url(#gO)"/>
<circle cx="634.3" cy="445.3" r="1.5" fill="url(#gO)"/>
<circle cx="634.1" cy="438.7" r="2.4" fill="url(#gS)"/>
<text x="595.8" y="452.8" font-size="8.3" font-weight="bold" fill="#f21d1d">0.146 e<tspan font-size="5.2" dy="-3.2" fill="#222">-</tspan></text>
<path d="M622,457.5 Q623,451 628,448" fill="none" stroke="#111" stroke-width="1.2"/>
<path d="M630.0,446.8 L629.4,449.9 L626.9,447.4 Z" fill="#111"/>
<rect x="594.3" y="424.8" width="84.3" height="68.2" fill="none" stroke="#444" stroke-width="1.0"/>
<ellipse cx="546.3" cy="537.8" rx="4.5" ry="6.5" fill="#eef07a" fill-opacity="0.9"/>
<ellipse cx="550.3" cy="532.8" rx="4" ry="5" fill="#74dde4" fill-opacity="0.9"/>
<ellipse cx="554.3" cy="537.8" rx="3.6" ry="5" fill="#eef07a" fill-opacity="0.9"/>
<ellipse cx="542.3" cy="542.8" rx="4" ry="3.2" fill="#74dde4" fill-opacity="0.9"/>
<ellipse cx="556.3" cy="548.8" rx="5.5" ry="4.2" fill="#eef07a" fill-opacity="0.9"/>
<ellipse cx="566.3" cy="543.8" rx="4" ry="3.2" fill="#74dde4" fill-opacity="0.9"/>
<ellipse cx="570.3" cy="544.8" rx="3" ry="2.6" fill="#eef07a" fill-opacity="0.9"/>
<ellipse cx="524.3" cy="543.8" rx="2.2" ry="2.2" fill="#74dde4" fill-opacity="0.9"/>
<ellipse cx="561.3" cy="552.8" rx="3" ry="3" fill="#eef07a" fill-opacity="0.9"/>
<ellipse cx="534.3" cy="548.8" rx="3" ry="2.5" fill="#eef07a" fill-opacity="0.9"/>
<ellipse cx="539.3" cy="550.8" rx="3" ry="3" fill="#74dde4" fill-opacity="0.9"/>
<ellipse cx="519.3" cy="545.8" rx="2.5" ry="2" fill="#74dde4" fill-opacity="0.9"/>
<ellipse cx="529.3" cy="546.8" rx="2.6" ry="2.4" fill="#eef07a" fill-opacity="0.9"/>
<ellipse cx="575.3" cy="547.8" rx="3" ry="2.4" fill="#74dde4" fill-opacity="0.9"/>
<ellipse cx="579.3" cy="549.8" rx="2.6" ry="2.2" fill="#eef07a" fill-opacity="0.9"/>
<ellipse cx="551.3" cy="554.8" rx="3" ry="2.6" fill="#74dde4" fill-opacity="0.9"/>
<ellipse cx="567.3" cy="554.8" rx="2.6" ry="2.4" fill="#eef07a" fill-opacity="0.9"/>
<ellipse cx="544.3" cy="556.8" rx="2.4" ry="2" fill="#74dde4" fill-opacity="0.9"/>
<clipPath id="eclip3"><rect x="513.3" y="511.8" width="75.5" height="66"/></clipPath>
<g clip-path="url(#eclip3)">
<path d="M521.7,552.3 L524.9,560.7 M521.7,552.3 L525.3,545.9 M528.3,552.3 L531.5,560.7 M528.3,552.3 L531.9,545.9 M534.9,552.3 L538.1,560.7 M534.9,552.3 L538.5,545.9 M541.5,552.3 L544.7,560.7 M541.5,552.3 L545.1,545.9 M548.1,552.3 L551.3,560.7 M548.1,552.3 L551.7,545.9 M554.7,552.3 L557.9,560.7 M554.7,552.3 L558.3,545.9 M561.3,552.3 L564.5,560.7 M561.3,552.3 L564.9,545.9 M567.9,552.3 L571.1,560.7 M567.9,552.3 L571.5,545.9 M574.5,552.3 L577.7,560.7 M574.5,552.3 L578.1,545.9 M581.1,552.3 L584.3,560.7 M581.1,552.3 L584.7,545.9 M587.7,552.3 L590.9,560.7 M587.7,552.3 L591.3,545.9 M594.3,552.3 L597.5,560.7 M594.3,552.3 L597.9,545.9 M515.3,560.7 L512.0,568.4 M521.9,560.7 L518.6,568.4 M528.5,560.7 L525.2,568.4 M535.1,560.7 L531.8,568.4 M541.7,560.7 L538.4,568.4 M548.3,560.7 L545.0,568.4 M554.9,560.7 L551.6,568.4 M561.5,560.7 L558.2,568.4 M568.1,560.7 L564.8,568.4 M574.7,560.7 L571.4,568.4 M581.3,560.7 L578.0,568.4 M587.9,560.7 L584.6,568.4" fill="none" stroke="#3048c8" stroke-width="0.9"/>
<path d="M518.3,545.9 L521.7,552.3 L518.3,560.7 M524.9,545.9 L528.3,552.3 L524.9,560.7 M531.5,545.9 L534.9,552.3 L531.5,560.7 M538.1,545.9 L541.5,552.3 L538.1,560.7 M544.7,545.9 L548.1,552.3 L544.7,560.7 M551.3,545.9 L554.7,552.3 L551.3,560.7 M557.9,545.9 L561.3,552.3 L557.9,560.7 M564.5,545.9 L567.9,552.3 L564.5,560.7 M571.1,545.9 L574.5,552.3 L571.1,560.7 M577.7,545.9 L581.1,552.3 L577.7,560.7 M584.3,545.9 L587.7,552.3 L584.3,560.7 M590.9,545.9 L594.3,552.3 L590.9,560.7 M515.3,560.7 L518.6,568.4 M521.9,560.7 L525.2,568.4 M528.5,560.7 L531.8,568.4 M535.1,560.7 L538.4,568.4 M541.7,560.7 L545.0,568.4 M548.3,560.7 L551.6,568.4 M554.9,560.7 L558.2,568.4 M561.5,560.7 L564.8,568.4 M568.1,560.7 L571.4,568.4 M574.7,560.7 L578.0,568.4 M581.3,560.7 L584.6,568.4 M587.9,560.7 L591.2,568.4" fill="none" stroke="#e02828" stroke-width="1.0"/>
<circle cx="518.3" cy="545.9" r="1.6" fill="url(#gO)"/>
<circle cx="524.9" cy="545.9" r="1.6" fill="url(#gO)"/>
<circle cx="531.5" cy="545.9" r="1.6" fill="url(#gO)"/>
<circle cx="538.1" cy="545.9" r="1.6" fill="url(#gO)"/>
<circle cx="544.7" cy="545.9" r="1.6" fill="url(#gO)"/>
<circle cx="551.3" cy="545.9" r="1.6" fill="url(#gO)"/>
<circle cx="557.9" cy="545.9" r="1.6" fill="url(#gO)"/>
<circle cx="564.5" cy="545.9" r="1.6" fill="url(#gO)"/>
<circle cx="571.1" cy="545.9" r="1.6" fill="url(#gO)"/>
<circle cx="577.7" cy="545.9" r="1.6" fill="url(#gO)"/>
<circle cx="584.3" cy="545.9" r="1.6" fill="url(#gO)"/>
<circle cx="590.9" cy="545.9" r="1.6" fill="url(#gO)"/>
<circle cx="515.3" cy="560.7" r="1.6" fill="url(#gO)"/>
<circle cx="521.9" cy="560.7" r="1.6" fill="url(#gO)"/>
<circle cx="528.5" cy="560.7" r="1.6" fill="url(#gO)"/>
<circle cx="535.1" cy="560.7" r="1.6" fill="url(#gO)"/>
<circle cx="541.7" cy="560.7" r="1.6" fill="url(#gO)"/>
<circle cx="548.3" cy="560.7" r="1.6" fill="url(#gO)"/>
<circle cx="554.9" cy="560.7" r="1.6" fill="url(#gO)"/>
<circle cx="561.5" cy="560.7" r="1.6" fill="url(#gO)"/>
<circle cx="568.1" cy="560.7" r="1.6" fill="url(#gO)"/>
<circle cx="574.7" cy="560.7" r="1.6" fill="url(#gO)"/>
<circle cx="581.3" cy="560.7" r="1.6" fill="url(#gO)"/>
<circle cx="587.9" cy="560.7" r="1.6" fill="url(#gO)"/>
<circle cx="529.8" cy="552.3" r="2.9" fill="url(#gCu2)"/>
<circle cx="536.3" cy="552.3" r="2.9" fill="url(#gCu2)"/>
<circle cx="548.5" cy="552.3" r="2.9" fill="url(#gCu2)"/>
<circle cx="556.2" cy="552.3" r="2.9" fill="url(#gCu2)"/>
<circle cx="563.2" cy="552.3" r="2.9" fill="url(#gCu2)"/>
<circle cx="567.7" cy="552.3" r="2.9" fill="url(#gCu2)"/>
<circle cx="574.2" cy="552.3" r="2.9" fill="url(#gCu2)"/>
<circle cx="581.2" cy="552.3" r="2.9" fill="url(#gCu2)"/>
<circle cx="517.6" cy="568.4" r="3.3" fill="url(#gCu2)"/>
<circle cx="524.0" cy="570.4" r="3.3" fill="url(#gCu2)"/>
<circle cx="531.1" cy="568.4" r="3.3" fill="url(#gCu2)"/>
<circle cx="535.6" cy="568.4" r="3.3" fill="url(#gCu2)"/>
<circle cx="542.7" cy="567.4" r="3.3" fill="url(#gCu2)"/>
<circle cx="549.1" cy="566.4" r="3.3" fill="url(#gCu2)"/>
<circle cx="556.8" cy="568.4" r="3.3" fill="url(#gCu2)"/>
<circle cx="562.0" cy="568.9" r="3.3" fill="url(#gCu2)"/>
<circle cx="569.7" cy="567.4" r="3.3" fill="url(#gCu2)"/>
<circle cx="580.6" cy="568.9" r="3.3" fill="url(#gCu2)"/>
<circle cx="588.3" cy="568.4" r="3.3" fill="url(#gCu2)"/>
</g>
<ellipse cx="547.3" cy="537.8" rx="3.5" ry="5" fill="#eef07a" fill-opacity="0.9"/>
<ellipse cx="551.3" cy="532.8" rx="3" ry="4" fill="#74dde4" fill-opacity="0.9"/>
<ellipse cx="521.3" cy="546.8" rx="2.5" ry="2" fill="#74dde4" fill-opacity="0.6"/>
<ellipse cx="529.3" cy="547.8" rx="2.6" ry="2.4" fill="#eef07a" fill-opacity="0.6"/>
<ellipse cx="537.3" cy="548.8" rx="2.6" ry="2.6" fill="#74dde4" fill-opacity="0.6"/>
<ellipse cx="556.3" cy="550.8" rx="4.5" ry="3.5" fill="#eef07a" fill-opacity="0.6"/>
<ellipse cx="564.3" cy="548.8" rx="3" ry="2.6" fill="#74dde4" fill-opacity="0.6"/>
<ellipse cx="571.3" cy="546.8" rx="3" ry="2.4" fill="#eef07a" fill-opacity="0.6"/>
<ellipse cx="577.3" cy="548.8" rx="2.6" ry="2.2" fill="#74dde4" fill-opacity="0.6"/>
<ellipse cx="551.3" cy="555.8" rx="3" ry="2.6" fill="#74dde4" fill-opacity="0.6"/>
<ellipse cx="565.3" cy="555.8" rx="2.6" ry="2.4" fill="#eef07a" fill-opacity="0.6"/>
<ellipse cx="542.3" cy="557.8" rx="2.4" ry="2" fill="#eef07a" fill-opacity="0.6"/>
<line x1="544.0" y1="522.4" x2="540.8" y2="518.0" stroke="#e03030" stroke-width="0.9"/>
<line x1="544.0" y1="522.4" x2="553.0" y2="520.8" stroke="#e03030" stroke-width="0.9"/>
<line x1="544.0" y1="522.4" x2="537.8" y2="527.0" stroke="#e03030" stroke-width="0.9"/>
<line x1="544.0" y1="522.4" x2="546.5" y2="531.1" stroke="#e8e020" stroke-width="1.1"/>
<circle cx="540.8" cy="518.0" r="1.5" fill="url(#gO)"/>
<circle cx="553.0" cy="520.8" r="1.5" fill="url(#gO)"/>
<circle cx="537.8" cy="527.0" r="1.5" fill="url(#gO)"/>
<circle cx="544.0" cy="522.4" r="2.4" fill="url(#gS)"/>
<text x="511.9" y="534.3" font-size="8.3" font-weight="bold" fill="#f21d1d">0.179 e<tspan font-size="5.2" dy="-3.2" fill="#222">-</tspan></text>
<path d="M526.6,541.7 Q530,535.5 537.5,538.2" fill="none" stroke="#111" stroke-width="1.2"/>
<path d="M540.0,538.8 L537.0,539.8 L537.9,536.4 Z" fill="#111"/>
<rect x="509.3" y="510.8" width="83.5" height="67.9" fill="none" stroke="#444" stroke-width="1.0"/>
<ellipse cx="625.9" cy="539.8" rx="7" ry="5.5" fill="#eef07a" fill-opacity="0.9"/>
<ellipse cx="620.9" cy="540.8" rx="4" ry="4" fill="#74dde4" fill-opacity="0.9"/>
<ellipse cx="632.9" cy="537.8" rx="3" ry="4.5" fill="#74dde4" fill-opacity="0.9"/>
<ellipse cx="640.6" cy="538.8" rx="5.5" ry="9" fill="#eef07a" fill-opacity="0.9"/>
<ellipse cx="644.9" cy="544.8" rx="3.2" ry="3.2" fill="#74dde4" fill-opacity="0.9"/>
<ellipse cx="641.9" cy="531.8" rx="3" ry="3" fill="#74dde4" fill-opacity="0.9"/>
<ellipse cx="654.9" cy="546.8" rx="3" ry="2.6" fill="#eef07a" fill-opacity="0.9"/>
<ellipse cx="629.9" cy="549.8" rx="3" ry="2" fill="#74dde4" fill-opacity="0.9"/>
<ellipse cx="636.9" cy="547.8" rx="3" ry="3" fill="#74dde4" fill-opacity="0.9"/>
<ellipse cx="616.9" cy="542.8" rx="2.5" ry="3" fill="#74dde4" fill-opacity="0.9"/>
<ellipse cx="609.9" cy="546.8" rx="2.4" ry="2" fill="#eef07a" fill-opacity="0.9"/>
<ellipse cx="649.9" cy="550.8" rx="3" ry="2.4" fill="#74dde4" fill-opacity="0.9"/>
<ellipse cx="660.9" cy="548.8" rx="2.6" ry="2" fill="#eef07a" fill-opacity="0.9"/>
<ellipse cx="624.9" cy="550.8" rx="2.6" ry="2.2" fill="#eef07a" fill-opacity="0.9"/>
<ellipse cx="642.9" cy="554.8" rx="2.6" ry="2.4" fill="#74dde4" fill-opacity="0.9"/>
<clipPath id="eclip4"><rect x="598.9" y="511.8" width="75.5" height="66"/></clipPath>
<g clip-path="url(#eclip4)">
<path d="M607.3,554.9 L610.5,562.0 M607.3,554.9 L610.9,546.8 M613.9,554.9 L617.1,562.0 M613.9,554.9 L617.5,546.8 M620.5,554.9 L623.7,562.0 M620.5,554.9 L624.1,546.8 M627.1,554.9 L630.3,562.0 M627.1,554.9 L630.7,546.8 M633.7,554.9 L636.9,562.0 M633.7,554.9 L637.3,546.8 M640.3,554.9 L643.5,562.0 M640.3,554.9 L643.9,546.8 M646.9,554.9 L650.1,562.0 M646.9,554.9 L650.5,546.8 M653.5,554.9 L656.7,562.0 M653.5,554.9 L657.1,546.8 M660.1,554.9 L663.3,562.0 M660.1,554.9 L663.7,546.8 M666.7,554.9 L669.9,562.0 M666.7,554.9 L670.3,546.8 M673.3,554.9 L676.5,562.0 M673.3,554.9 L676.9,546.8 M679.9,554.9 L683.1,562.0 M679.9,554.9 L683.5,546.8 M600.9,562.0 L597.6,569.7 M607.5,562.0 L604.2,569.7 M614.1,562.0 L610.8,569.7 M620.7,562.0 L617.4,569.7 M627.3,562.0 L624.0,569.7 M633.9,562.0 L630.6,569.7 M640.5,562.0 L637.2,569.7 M647.1,562.0 L643.8,569.7 M653.7,562.0 L650.4,569.7 M660.3,562.0 L657.0,569.7 M666.9,562.0 L663.6,569.7 M673.5,562.0 L670.2,569.7" fill="none" stroke="#3048c8" stroke-width="0.9"/>
<path d="M603.9,546.8 L607.3,554.9 L603.9,562.0 M610.5,546.8 L613.9,554.9 L610.5,562.0 M617.1,546.8 L620.5,554.9 L617.1,562.0 M623.7,546.8 L627.1,554.9 L623.7,562.0 M630.3,546.8 L633.7,554.9 L630.3,562.0 M636.9,546.8 L640.3,554.9 L636.9,562.0 M643.5,546.8 L646.9,554.9 L643.5,562.0 M650.1,546.8 L653.5,554.9 L650.1,562.0 M656.7,546.8 L660.1,554.9 L656.7,562.0 M663.3,546.8 L666.7,554.9 L663.3,562.0 M669.9,546.8 L673.3,554.9 L669.9,562.0 M676.5,546.8 L679.9,554.9 L676.5,562.0 M600.9,562.0 L604.2,569.7 M607.5,562.0 L610.8,569.7 M614.1,562.0 L617.4,569.7 M620.7,562.0 L624.0,569.7 M627.3,562.0 L630.6,569.7 M633.9,562.0 L637.2,569.7 M640.5,562.0 L643.8,569.7 M647.1,562.0 L650.4,569.7 M653.7,562.0 L657.0,569.7 M660.3,562.0 L663.6,569.7 M666.9,562.0 L670.2,569.7 M673.5,562.0 L676.8,569.7" fill="none" stroke="#e02828" stroke-width="1.0"/>
<circle cx="603.9" cy="546.8" r="1.6" fill="url(#gO)"/>
<circle cx="610.5" cy="546.8" r="1.6" fill="url(#gO)"/>
<circle cx="617.1" cy="546.8" r="1.6" fill="url(#gO)"/>
<circle cx="623.7" cy="546.8" r="1.6" fill="url(#gO)"/>
<circle cx="630.3" cy="546.8" r="1.6" fill="url(#gO)"/>
<circle cx="636.9" cy="546.8" r="1.6" fill="url(#gO)"/>
<circle cx="643.5" cy="546.8" r="1.6" fill="url(#gO)"/>
<circle cx="650.1" cy="546.8" r="1.6" fill="url(#gO)"/>
<circle cx="656.7" cy="546.8" r="1.6" fill="url(#gO)"/>
<circle cx="663.3" cy="546.8" r="1.6" fill="url(#gO)"/>
<circle cx="669.9" cy="546.8" r="1.6" fill="url(#gO)"/>
<circle cx="676.5" cy="546.8" r="1.6" fill="url(#gO)"/>
<circle cx="600.9" cy="562.0" r="1.6" fill="url(#gO)"/>
<circle cx="607.5" cy="562.0" r="1.6" fill="url(#gO)"/>
<circle cx="614.1" cy="562.0" r="1.6" fill="url(#gO)"/>
<circle cx="620.7" cy="562.0" r="1.6" fill="url(#gO)"/>
<circle cx="627.3" cy="562.0" r="1.6" fill="url(#gO)"/>
<circle cx="633.9" cy="562.0" r="1.6" fill="url(#gO)"/>
<circle cx="640.5" cy="562.0" r="1.6" fill="url(#gO)"/>
<circle cx="647.1" cy="562.0" r="1.6" fill="url(#gO)"/>
<circle cx="653.7" cy="562.0" r="1.6" fill="url(#gO)"/>
<circle cx="660.3" cy="562.0" r="1.6" fill="url(#gO)"/>
<circle cx="666.9" cy="562.0" r="1.6" fill="url(#gO)"/>
<circle cx="673.5" cy="562.0" r="1.6" fill="url(#gO)"/>
<circle cx="616.1" cy="554.9" r="2.9" fill="url(#gCu2)"/>
<circle cx="624.9" cy="554.9" r="2.9" fill="url(#gCu2)"/>
<circle cx="633.5" cy="554.9" r="2.9" fill="url(#gCu2)"/>
<circle cx="648.2" cy="554.9" r="2.9" fill="url(#gCu2)"/>
<circle cx="656.0" cy="554.9" r="2.9" fill="url(#gCu2)"/>
<circle cx="663.0" cy="554.9" r="2.9" fill="url(#gCu2)"/>
<circle cx="603.9" cy="569.7" r="3.3" fill="url(#gCu2)"/>
<circle cx="611.6" cy="570.7" r="3.3" fill="url(#gCu2)"/>
<circle cx="618.0" cy="569.7" r="3.3" fill="url(#gCu2)"/>
<circle cx="621.3" cy="571.2" r="3.3" fill="url(#gCu2)"/>
<circle cx="627.7" cy="568.7" r="3.3" fill="url(#gCu2)"/>
<circle cx="633.5" cy="568.2" r="3.3" fill="url(#gCu2)"/>
<circle cx="640.5" cy="570.7" r="3.3" fill="url(#gCu2)"/>
<circle cx="645.0" cy="570.7" r="3.3" fill="url(#gCu2)"/>
<circle cx="652.7" cy="569.7" r="3.3" fill="url(#gCu2)"/>
<circle cx="664.3" cy="570.7" r="3.3" fill="url(#gCu2)"/>
<circle cx="670.7" cy="569.7" r="3.3" fill="url(#gCu2)"/>
</g>
<ellipse cx="640.6" cy="538.8" rx="4" ry="7" fill="#eef07a" fill-opacity="0.9"/>
<ellipse cx="626.9" cy="539.8" rx="5" ry="4" fill="#eef07a" fill-opacity="0.9"/>
<ellipse cx="610.9" cy="548.8" rx="2.4" ry="2" fill="#eef07a" fill-opacity="0.6"/>
<ellipse cx="618.9" cy="550.8" rx="2.6" ry="2.4" fill="#74dde4" fill-opacity="0.6"/>
<ellipse cx="628.9" cy="551.8" rx="3" ry="2.4" fill="#eef07a" fill-opacity="0.6"/>
<ellipse cx="640.9" cy="550.8" rx="4" ry="4" fill="#eef07a" fill-opacity="0.6"/>
<ellipse cx="649.9" cy="551.8" rx="3" ry="2.4" fill="#74dde4" fill-opacity="0.6"/>
<ellipse cx="658.9" cy="549.8" rx="2.6" ry="2" fill="#eef07a" fill-opacity="0.6"/>
<ellipse cx="644.9" cy="557.8" rx="2.6" ry="2.4" fill="#74dde4" fill-opacity="0.6"/>
<circle cx="632.8" cy="523.7" r="2.8" fill="#eef07a" fill-opacity="0.85"/>
<circle cx="646.3" cy="518.0" r="3.2" fill="#eef07a" fill-opacity="0.85"/>
<circle cx="647.9" cy="523.8" r="2.8" fill="#74dde4" fill-opacity="0.85"/>
<circle cx="641.9" cy="530.8" r="2.5" fill="#eef07a" fill-opacity="0.85"/>
<line x1="641.2" y1="522.4" x2="632.8" y2="523.7" stroke="#e03030" stroke-width="0.9"/>
<line x1="641.2" y1="522.4" x2="646.3" y2="518.3" stroke="#e03030" stroke-width="0.9"/>
<line x1="641.2" y1="522.4" x2="647.0" y2="524.0" stroke="#e03030" stroke-width="0.9"/>
<line x1="641.2" y1="522.4" x2="641.2" y2="529.8" stroke="#e8e020" stroke-width="1.1"/>
<circle cx="632.8" cy="523.7" r="1.5" fill="url(#gO)"/>
<circle cx="646.3" cy="518.3" r="1.5" fill="url(#gO)"/>
<circle cx="647.0" cy="524.0" r="1.5" fill="url(#gO)"/>
<circle cx="641.2" cy="522.4" r="2.4" fill="url(#gS)"/>
<text x="598.8" y="527.9" font-size="8.3" font-weight="bold" fill="#f21d1d">0.237 e<tspan font-size="5.2" dy="-3.2" fill="#222">-</tspan></text>
<path d="M620.6,531.1 Q627,526.5 632.5,530.5" fill="none" stroke="#111" stroke-width="1.2"/>
<path d="M635.2,532.3 L632.0,532.2 L634.0,529.3 Z" fill="#111"/>
<rect x="594.9" y="510.8" width="83.5" height="67.9" fill="none" stroke="#444" stroke-width="1.0"/>
<text x="555.4" y="503.6" font-size="9.45" text-anchor="middle" font-weight="bold">CuO/PMS</text>
<text x="636.4" y="503.6" font-size="9.45" text-anchor="middle" font-weight="bold">OH-CuO/PMS</text>
<text x="553.9" y="591.3" font-size="9.45" text-anchor="middle" font-weight="bold">O<tspan font-size="6.3" dy="1.8">v</tspan><tspan dy="-1.8">-CuO/PMS</tspan></text>
<text x="637.7" y="591.3" font-size="9.45" text-anchor="middle" font-weight="bold">OH-O<tspan font-size="6.3" dy="1.8">v</tspan><tspan dy="-1.8">-CuO/PMS</tspan></text>
<text x="4.7" y="621.6" font-size="16.5" font-weight="bold">f</text>
<line x1="79.9" y1="656.1" x2="127.8" y2="696.9" stroke="#a05ce0" stroke-width="1.0" stroke-dasharray="1,2.2" stroke-opacity="0.55"/>
<line x1="79.9" y1="656.1" x2="127.8" y2="715.0" stroke="#f7941d" stroke-width="1.0" stroke-dasharray="1,2.2" stroke-opacity="0.55"/>
<line x1="79.9" y1="656.1" x2="127.8" y2="726.6" stroke="#e8303a" stroke-width="1.0" stroke-dasharray="1,2.2" stroke-opacity="0.55"/>
<line x1="79.9" y1="656.1" x2="127.8" y2="738.2" stroke="#3b9ad9" stroke-width="1.0" stroke-dasharray="1,2.2" stroke-opacity="0.55"/>
<line x1="151.9" y1="696.9" x2="200.4" y2="672.8" stroke="#a05ce0" stroke-width="1.0" stroke-dasharray="1,2.2" stroke-opacity="0.55"/>
<line x1="151.9" y1="715.0" x2="200.4" y2="682.5" stroke="#f7941d" stroke-width="1.0" stroke-dasharray="1,2.2" stroke-opacity="0.55"/>
<line x1="151.9" y1="726.6" x2="200.4" y2="686.7" stroke="#e8303a" stroke-width="1.0" stroke-dasharray="1,2.2" stroke-opacity="0.55"/>
<line x1="151.9" y1="738.2" x2="200.4" y2="694.6" stroke="#3b9ad9" stroke-width="1.0" stroke-dasharray="1,2.2" stroke-opacity="0.55"/>
<line x1="223.8" y1="672.8" x2="272.0" y2="686.7" stroke="#a05ce0" stroke-width="1.0" stroke-dasharray="1,2.2" stroke-opacity="0.55"/>
<line x1="223.8" y1="682.5" x2="272.0" y2="701.1" stroke="#f7941d" stroke-width="1.0" stroke-dasharray="1,2.2" stroke-opacity="0.55"/>
<line x1="223.8" y1="686.7" x2="272.0" y2="713.2" stroke="#e8303a" stroke-width="1.0" stroke-dasharray="1,2.2" stroke-opacity="0.55"/>
<line x1="223.8" y1="694.6" x2="272.0" y2="728.0" stroke="#3b9ad9" stroke-width="1.0" stroke-dasharray="1,2.2" stroke-opacity="0.55"/>
<rect x="32.3" y="632.9" width="287.3" height="116.0" fill="none" stroke="#444" stroke-width="1.1"/>
<line x1="32.3" y1="632.9" x2="35.3" y2="632.9" stroke="#444" stroke-width="0.9"/>
<text x="29.2" y="635.9" font-size="8.4" text-anchor="end">0.5</text>
<line x1="32.3" y1="656.1" x2="35.3" y2="656.1" stroke="#444" stroke-width="0.9"/>
<text x="29.2" y="659.1" font-size="8.4" text-anchor="end">0.0</text>
<line x1="32.3" y1="679.3" x2="35.3" y2="679.3" stroke="#444" stroke-width="0.9"/>
<text x="29.2" y="682.3" font-size="8.4" text-anchor="end">-0.5</text>
<line x1="32.3" y1="702.5" x2="35.3" y2="702.5" stroke="#444" stroke-width="0.9"/>
<text x="29.2" y="705.5" font-size="8.4" text-anchor="end">-1.0</text>
<line x1="32.3" y1="725.7" x2="35.3" y2="725.7" stroke="#444" stroke-width="0.9"/>
<text x="29.2" y="728.7" font-size="8.4" text-anchor="end">-1.5</text>
<line x1="32.3" y1="748.9" x2="35.3" y2="748.9" stroke="#444" stroke-width="0.9"/>
<text x="29.2" y="751.9" font-size="8.4" text-anchor="end">-2.0</text>
<line x1="32.3" y1="644.5" x2="34.1" y2="644.5" stroke="#444" stroke-width="0.8"/>
<line x1="32.3" y1="667.7" x2="34.1" y2="667.7" stroke="#444" stroke-width="0.8"/>
<line x1="32.3" y1="690.9" x2="34.1" y2="690.9" stroke="#444" stroke-width="0.8"/>
<line x1="32.3" y1="714.1" x2="34.1" y2="714.1" stroke="#444" stroke-width="0.8"/>
<line x1="32.3" y1="737.3" x2="34.1" y2="737.3" stroke="#444" stroke-width="0.8"/>
<text x="10.2" y="691.8" font-size="9.1" text-anchor="middle" transform="rotate(-90 10.2 691.8)">Free Energy (eV)</text>
<line x1="56.3" y1="656.1" x2="79.9" y2="656.1" stroke="#3b9ad9" stroke-width="1.8"/>
<text x="67.2" y="654.5" font-size="8.2" text-anchor="middle" font-weight="bold">0</text>
<line x1="127.8" y1="696.9" x2="151.9" y2="696.9" stroke="#a05ce0" stroke-width="1.8"/>
<text x="139.8" y="695.3" font-size="8.2" text-anchor="middle" font-weight="bold">-0.88</text>
<line x1="127.8" y1="715.0" x2="151.9" y2="715.0" stroke="#f7941d" stroke-width="1.8"/>
<text x="139.8" y="713.2" font-size="8.2" text-anchor="middle" font-weight="bold">-1.27</text>
<line x1="127.8" y1="726.6" x2="151.9" y2="726.6" stroke="#e8303a" stroke-width="1.8"/>
<text x="139.8" y="724.6" font-size="8.2" text-anchor="middle" font-weight="bold">-1.52</text>
<line x1="127.8" y1="738.2" x2="151.9" y2="738.2" stroke="#3b9ad9" stroke-width="1.8"/>
<text x="139.8" y="737.8" font-size="8.2" text-anchor="middle" font-weight="bold">-1.77</text>
<line x1="200.4" y1="672.8" x2="223.8" y2="672.8" stroke="#a05ce0" stroke-width="1.8"/>
<text x="212.1" y="671.6" font-size="8.2" text-anchor="middle" font-weight="bold">-0.36</text>
<line x1="200.4" y1="682.5" x2="223.8" y2="682.5" stroke="#f7941d" stroke-width="1.8"/>
<text x="212.1" y="681.2" font-size="8.2" text-anchor="middle" font-weight="bold">-0.57</text>
<line x1="200.4" y1="686.7" x2="223.8" y2="686.7" stroke="#e8303a" stroke-width="1.8"/>
<text x="212.1" y="694.0" font-size="8.2" text-anchor="middle" font-weight="bold">-0.66</text>
<line x1="200.4" y1="694.6" x2="223.8" y2="694.6" stroke="#3b9ad9" stroke-width="1.8"/>
<text x="212.1" y="705.2" font-size="8.2" text-anchor="middle" font-weight="bold">-0.83</text>
<line x1="272.0" y1="686.7" x2="296.2" y2="686.7" stroke="#a05ce0" stroke-width="1.8"/>
<text x="284.1" y="683.9" font-size="8.2" text-anchor="middle" font-weight="bold">-0.66</text>
<line x1="272.0" y1="701.1" x2="296.2" y2="701.1" stroke="#f7941d" stroke-width="1.8"/>
<text x="284.1" y="698.3" font-size="8.2" text-anchor="middle" font-weight="bold">-0.97</text>
<line x1="272.0" y1="713.2" x2="296.2" y2="713.2" stroke="#e8303a" stroke-width="1.8"/>
<text x="284.1" y="710.3" font-size="8.2" text-anchor="middle" font-weight="bold">-1.23</text>
<line x1="272.0" y1="728.0" x2="296.2" y2="728.0" stroke="#3b9ad9" stroke-width="1.8"/>
<text x="284.1" y="725.0" font-size="8.2" text-anchor="middle" font-weight="bold">-1.55</text>
<rect x="158.5" y="674.8" width="37.5" height="9.5" fill="#fdf6f6"/>
<text x="158.9" y="682.3" font-size="8.2" font-weight="bold" fill="#a05ce0">ΔE = 0.52</text>
<rect x="158.5" y="695.5" width="37.5" height="9.5" fill="#fdf6f6"/>
<text x="158.9" y="703.0" font-size="8.2" font-weight="bold" fill="#f7941d">ΔE = 0.70</text>
<rect x="158.5" y="710.4" width="37.5" height="9.5" fill="#fdf6f6"/>
<text x="158.9" y="717.9" font-size="8.2" font-weight="bold" fill="#e8303a">ΔE = 0.87</text>
<rect x="158.5" y="725.4" width="37.5" height="9.5" fill="#fdf6f6"/>
<text x="158.9" y="732.9" font-size="8.2" font-weight="bold" fill="#3b9ad9">ΔE = 0.94</text>
<line x1="243.6" y1="638.8" x2="253.9" y2="638.8" stroke="#a05ce0" stroke-width="1.8"/>
<text x="256.2" y="641.60" font-size="7.8" font-weight="bold">OH-O<tspan font-size="5.5" dy="1.5">V</tspan><tspan dy="-1.5">-CuO/PMS</tspan></text>
<line x1="243.6" y1="651.1" x2="253.9" y2="651.1" stroke="#f7941d" stroke-width="1.8"/>
<text x="256.2" y="653.90" font-size="7.8" font-weight="bold">O<tspan font-size="5.5" dy="1.5">V</tspan><tspan dy="-1.5">-CuO/PMS</tspan></text>
<line x1="243.6" y1="662.2" x2="253.9" y2="662.2" stroke="#e8303a" stroke-width="1.8"/>
<text x="256.2" y="665.00" font-size="7.8" font-weight="bold">OH-CuO/PMS</text>
<line x1="243.6" y1="672.4" x2="253.9" y2="672.4" stroke="#3b9ad9" stroke-width="1.8"/>
<text x="256.2" y="675.20" font-size="7.8" font-weight="bold">CuO/PMS</text>
<line x1="77.4" y1="721.6" x2="94.6" y2="702.3" stroke="#3a6fd0" stroke-width="1.4"/>
<path d="M96.6,700.2 L91.4,702.6 L94.9,705.6 Z" fill="#3a6fd0"/>
<text x="77.6" y="732.3" font-size="9.45" text-anchor="middle">PMS absorption</text>
<text x="142.7" y="758.3" font-size="10" text-anchor="middle">Initial</text>
<text x="142.7" y="769.6" font-size="10" text-anchor="middle">State</text>
<text x="216.5" y="758.3" font-size="10" text-anchor="middle">Transition</text>
<text x="216.5" y="769.6" font-size="10" text-anchor="middle">State</text>
<text x="286.0" y="758.3" font-size="10" text-anchor="middle">Final</text>
<text x="286.0" y="769.6" font-size="10" text-anchor="middle">State</text>
<text x="326.7" y="621.3" font-size="16.5" font-weight="bold">g</text>
<rect x="341.7" y="631.5" width="337.9" height="117.3" fill="none" stroke="#555" stroke-width="1.2"/>
<circle cx="359.8" cy="670.3" r="6.3" fill="url(#gCu2)"/>
<circle cx="372.1" cy="670.3" r="6.3" fill="url(#gCu2)"/>
<circle cx="384.5" cy="670.3" r="6.3" fill="url(#gCu2)"/>
<circle cx="395.3" cy="669.3" r="6.3" fill="url(#gCu2)"/>
<circle cx="353.1" cy="663.1" r="2.8" fill="url(#gO)"/>
<circle cx="358.2" cy="661.4" r="2.8" fill="url(#gO)"/>
<circle cx="363.3" cy="659.8" r="2.8" fill="url(#gO)"/>
<circle cx="370.6" cy="661.9" r="2.8" fill="url(#gO)"/>
<circle cx="375.7" cy="659.8" r="2.8" fill="url(#gO)"/>
<circle cx="383.8" cy="661.9" r="2.8" fill="url(#gO)"/>
<circle cx="388.9" cy="659.8" r="2.8" fill="url(#gO)"/>
<circle cx="396.2" cy="661.4" r="2.8" fill="url(#gO)"/>
<circle cx="401.4" cy="659.8" r="2.8" fill="url(#gO)"/>
<circle cx="361.1" cy="665.7" r="2.9" fill="url(#gO)"/>
<circle cx="373.5" cy="665.7" r="2.9" fill="url(#gO)"/>
<circle cx="385.9" cy="665.7" r="2.9" fill="url(#gO)"/>
<circle cx="353.4" cy="681.8" r="6.3" fill="url(#gCu2)"/>
<circle cx="362.3" cy="683.3" r="6.3" fill="url(#gCu2)"/>
<circle cx="374.8" cy="683.3" r="6.3" fill="url(#gCu2)"/>
<circle cx="387.3" cy="682.8" r="6.3" fill="url(#gCu2)"/>
<circle cx="398.4" cy="680.3" r="6.3" fill="url(#gCu2)"/>
<circle cx="352.4" cy="676.3" r="2.8" fill="url(#gO)"/>
<circle cx="360.4" cy="678.7" r="2.8" fill="url(#gO)"/>
<circle cx="365.5" cy="676.8" r="2.8" fill="url(#gO)"/>
<circle cx="372.8" cy="678.7" r="2.8" fill="url(#gO)"/>
<circle cx="378.7" cy="676.8" r="2.8" fill="url(#gO)"/>
<circle cx="385.3" cy="678.7" r="2.8" fill="url(#gO)"/>
<circle cx="391.1" cy="676.8" r="2.8" fill="url(#gO)"/>
<circle cx="396.2" cy="675.3" r="2.8" fill="url(#gO)"/>
<circle cx="401.4" cy="673.3" r="2.8" fill="url(#gO)"/>
<text x="375.8" y="700.3" font-size="7.2" text-anchor="middle" font-weight="bold">CuO</text>
<text x="375.8" y="709.2" font-size="7.2" text-anchor="middle" font-weight="bold">nanopowder</text>
<line x1="412.3" y1="672.5" x2="432.5" y2="672.5" stroke="#888" stroke-width="1.2"/>
<path d="M435.6,672.5 L430.6,669.7 L430.6,675.3 Z" fill="#888"/>
<text x="417.6" y="661.6" font-size="6.5" font-weight="bold">OH<tspan font-size="4.2" dy="-2.2">-</tspan></text>
<line x1="419.6" y1="666.3" x2="428.5" y2="663.6" stroke="#d04040" stroke-width="0.9"/>
<circle cx="419.6" cy="666.3" r="2.8" fill="url(#gO)"/>
<circle cx="429.6" cy="663.3" r="1.7" fill="#fff" stroke="#d08080" stroke-width="0.7"/>
<circle cx="454.8" cy="669.1" r="6.3" fill="url(#gCu2)"/>
<circle cx="467.1" cy="669.1" r="6.3" fill="url(#gCu2)"/>
<circle cx="479.5" cy="669.1" r="6.3" fill="url(#gCu2)"/>
<circle cx="490.3" cy="668.1" r="6.3" fill="url(#gCu2)"/>
<circle cx="448.1" cy="661.9" r="2.8" fill="url(#gO)"/>
<circle cx="453.2" cy="660.2" r="2.8" fill="url(#gO)"/>
<circle cx="458.3" cy="658.6" r="2.8" fill="url(#gO)"/>
<circle cx="465.6" cy="660.7" r="2.8" fill="url(#gO)"/>
<circle cx="470.7" cy="658.6" r="2.8" fill="url(#gO)"/>
<circle cx="478.8" cy="660.7" r="2.8" fill="url(#gO)"/>
<circle cx="483.9" cy="658.6" r="2.8" fill="url(#gO)"/>
<circle cx="491.2" cy="660.2" r="2.8" fill="url(#gO)"/>
<circle cx="496.4" cy="658.6" r="2.8" fill="url(#gO)"/>
<circle cx="456.1" cy="664.5" r="2.9" fill="url(#gO)"/>
<circle cx="468.5" cy="664.5" r="2.9" fill="url(#gO)"/>
<circle cx="480.9" cy="664.5" r="2.9" fill="url(#gO)"/>
<circle cx="448.4" cy="680.6" r="6.3" fill="url(#gCu2)"/>
<circle cx="457.3" cy="682.1" r="6.3" fill="url(#gCu2)"/>
<circle cx="469.8" cy="682.1" r="6.3" fill="url(#gCu2)"/>
<circle cx="482.3" cy="681.6" r="6.3" fill="url(#gCu2)"/>
<circle cx="493.4" cy="679.1" r="6.3" fill="url(#gCu2)"/>
<circle cx="447.4" cy="675.1" r="2.8" fill="url(#gO)"/>
<circle cx="455.4" cy="677.5" r="2.8" fill="url(#gO)"/>
<circle cx="460.5" cy="675.6" r="2.8" fill="url(#gO)"/>
<circle cx="467.8" cy="677.5" r="2.8" fill="url(#gO)"/>
<circle cx="473.7" cy="675.6" r="2.8" fill="url(#gO)"/>
<circle cx="480.3" cy="677.5" r="2.8" fill="url(#gO)"/>
<circle cx="486.1" cy="675.6" r="2.8" fill="url(#gO)"/>
<circle cx="491.2" cy="674.1" r="2.8" fill="url(#gO)"/>
<circle cx="496.4" cy="672.1" r="2.8" fill="url(#gO)"/>
<line x1="465.0" y1="661.0" x2="467.2" y2="655.3" stroke="#e05050" stroke-width="1.0"/>
<circle cx="467.2" cy="655.3" r="1.7" fill="#fff" stroke="#c07070" stroke-width="0.7"/>
<line x1="482.5" y1="660.0" x2="484.7" y2="654.2" stroke="#e05050" stroke-width="1.0"/>
<circle cx="484.7" cy="654.2" r="1.7" fill="#fff" stroke="#c07070" stroke-width="0.7"/>
<rect x="466.5" y="661.9" width="13.1" height="8.8" fill="none" stroke="#e8c020" stroke-width="1.0" stroke-dasharray="2,1.2"/>
<circle cx="473.5" cy="666.6" r="2.9" fill="#fff" stroke="#d02020" stroke-width="1.0"/>
<circle cx="491.3" cy="663.4" r="2.9" fill="#fff" stroke="#d02020" stroke-width="1.0"/>
<text x="466.5" y="700.3" font-size="7.2" text-anchor="middle" font-weight="bold" fill="#d27a2a">O vacancy</text>
<text x="466.5" y="711.0" font-size="7.2" text-anchor="middle" font-weight="bold" fill="#d27a2a">surface -OH</text>
<line x1="508.6" y1="671.8" x2="541.5" y2="671.8" stroke="#888" stroke-width="1.2"/>
<path d="M544.7,671.8 L539.7,669.0 L539.7,674.6 Z" fill="#888"/>
<text x="525.0" y="649.8" font-size="6.5" text-anchor="middle" font-weight="bold">PMS</text>
<line x1="531.4" y1="661.9" x2="529.7" y2="653.1" stroke="#d83030" stroke-width="0.9"/>
<line x1="531.4" y1="661.9" x2="524.1" y2="665.5" stroke="#d83030" stroke-width="0.9"/>
<line x1="531.4" y1="661.9" x2="529.7" y2="666.3" stroke="#d83030" stroke-width="0.9"/>
<line x1="531.4" y1="661.9" x2="537.3" y2="663.4" stroke="#d83030" stroke-width="0.9"/>
<line x1="524.1" y1="665.5" x2="516.1" y2="660.4" stroke="#d83030" stroke-width="0.9"/>
<line x1="516.1" y1="660.4" x2="518.0" y2="654.6" stroke="#d83030" stroke-width="0.9"/>
<circle cx="529.7" cy="653.1" r="1.8" fill="url(#gO)"/>
<circle cx="524.1" cy="665.5" r="1.8" fill="url(#gO)"/>
<circle cx="516.1" cy="660.4" r="1.8" fill="url(#gO)"/>
<circle cx="529.7" cy="666.3" r="1.8" fill="url(#gO)"/>
<circle cx="537.3" cy="663.4" r="1.8" fill="url(#gO)"/>
<circle cx="518.0" cy="654.4" r="1.3" fill="#fff" stroke="#c07070" stroke-width="0.6"/>
<circle cx="531.4" cy="661.9" r="2.6" fill="url(#gS)"/>
<circle cx="553.1" cy="680.9" r="2.9" fill="url(#gO)"/>
<circle cx="564.5" cy="680.9" r="2.9" fill="url(#gO)"/>
<circle cx="576.2" cy="680.9" r="2.9" fill="url(#gO)"/>
<circle cx="587.9" cy="680.9" r="2.9" fill="url(#gO)"/>
<circle cx="558.7" cy="686.7" r="4.9" fill="url(#gCu2)"/>
<circle cx="570.6" cy="686.7" r="4.9" fill="url(#gCu2)"/>
<circle cx="582.0" cy="686.7" r="4.9" fill="url(#gCu2)"/>
<circle cx="553.1" cy="692.6" r="2.9" fill="url(#gO)"/>
<circle cx="564.5" cy="692.6" r="2.9" fill="url(#gO)"/>
<circle cx="576.2" cy="692.6" r="2.9" fill="url(#gO)"/>
<circle cx="587.9" cy="692.6" r="2.9" fill="url(#gO)"/>
<line x1="592.0" y1="661.0" x2="579.1" y2="655.2" stroke="#d8c020" stroke-width="1.5"/>
<line x1="592.0" y1="661.0" x2="602.5" y2="654.6" stroke="#d8c020" stroke-width="1.5"/>
<line x1="592.0" y1="661.0" x2="596.0" y2="667.4" stroke="#d8c020" stroke-width="1.5"/>
<line x1="592.0" y1="661.0" x2="589.6" y2="675.0" stroke="#d8c020" stroke-width="1.5"/>
<line x1="589.6" y1="675.0" x2="576.2" y2="680.3" stroke="#e03030" stroke-width="1.6"/>
<circle cx="579.1" cy="655.2" r="2.9" fill="url(#gO)"/>
<circle cx="602.5" cy="654.6" r="2.9" fill="url(#gO)"/>
<circle cx="596.0" cy="667.4" r="2.9" fill="url(#gO)"/>
<circle cx="589.6" cy="675.0" r="2.9" fill="url(#gO)"/>
<circle cx="592.0" cy="661.0" r="3.9" fill="url(#gS)"/>
<text x="590.8" y="648.3" font-size="6.5" text-anchor="middle" font-weight="bold">PMS</text>
<line x1="557.5" y1="671.5" x2="564.5" y2="679.7" stroke="#e05050" stroke-width="1.1"/>
<circle cx="557.5" cy="671.5" r="1.7" fill="#fff" stroke="#c07070" stroke-width="0.7"/>
<line x1="571.5" y1="673.3" x2="575.0" y2="679.7" stroke="#e05050" stroke-width="1.1"/>
<circle cx="571.5" cy="673.3" r="1.7" fill="#fff" stroke="#c07070" stroke-width="0.7"/>
<path d="M566.3,671.5 Q566,665.5 570,665 Q573.5,664.8 575.5,666.5" fill="none" stroke="#e8b020" stroke-width="1.1"/>
<text x="561.6" y="666.8" font-size="5" font-weight="bold">e<tspan font-size="3.5" dy="-2">-</tspan></text>
<text x="571" y="662.8" font-size="5" font-weight="bold">e<tspan font-size="3.5" dy="-2">-</tspan></text>
<path d="M576.5,671 Q577,669 579,672 L581,674.5 M582.5,668 Q584,667 583.5,671.5 L582.5,674" fill="none" stroke="#c04060" stroke-width="0.8"/>
<text x="570.8" y="706.6" font-size="7.2" text-anchor="middle" font-weight="bold" fill="#d27a2a">PMS activation</text>
<line x1="607.2" y1="672.1" x2="617.0" y2="672.1" stroke="#888" stroke-width="1.2"/>
<path d="M620.2,672.1 L615.2,669.3 L615.2,674.9 Z" fill="#888"/>
<text x="647.2" y="660.4" font-size="8.5" text-anchor="middle" font-weight="bold">52.6%</text>
<text x="647.2" y="669.9" font-size="8.5" text-anchor="middle" font-weight="bold" fill="#8a4fc0">·OH</text>
<text x="647.2" y="684.7" font-size="8.5" text-anchor="middle" font-weight="bold">42.3%</text>
<text x="644.5" y="694.4" font-size="8.5" text-anchor="middle" font-weight="bold" fill="#8a4fc0">SO<tspan font-size="5.5" dy="1.8">4</tspan><tspan font-size="5.5" dy="-5">·-</tspan></text>
<text x="648.0" y="706.6" font-size="7.2" text-anchor="middle" font-weight="bold" fill="#d27a2a">ROS generation</text>
<circle cx="421.5" cy="734.3" r="4.6" fill="url(#gCu2)"/>
<text x="431.2" y="737.3" font-size="8.0" font-weight="bold">Cu</text>
<circle cx="455.4" cy="734.0" r="3.0" fill="url(#gO)"/>
<text x="461.2" y="737.3" font-size="8.0" font-weight="bold">O</text>
<circle cx="483.4" cy="734.0" r="3.0" fill="#fff" stroke="#e02020" stroke-width="0.9"/>
<text x="490.9" y="737.3" font-size="8.0" font-weight="bold">O vancancy</text>
<circle cx="556.2" cy="733.7" r="4.2" fill="url(#gS)"/>
<text x="565.5" y="737.3" font-size="8.0" font-weight="bold">S</text>
<circle cx="585.0" cy="733.7" r="2.4" fill="url(#gH)"/>
<text x="593.6" y="737.3" font-size="8.0" font-weight="bold">H</text>
</svg></body></html>
